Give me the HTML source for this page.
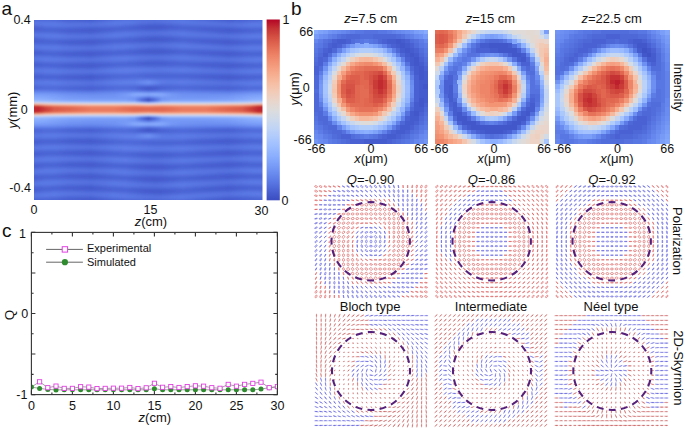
<!DOCTYPE html>
<html><head><meta charset="utf-8"><style>
html,body{margin:0;padding:0;background:#fff;}
svg{display:block;}
</style></head><body>
<svg width="685" height="428" viewBox="0 0 685 428">
<rect width="685" height="428" fill="#fff"/>
<defs>
<linearGradient id="g0"><stop offset="0" stop-color="#485fd1"/><stop offset="0.02" stop-color="#4961d2"/><stop offset="0.05" stop-color="#4a63d3"/><stop offset="0.09" stop-color="#4a63d3"/><stop offset="0.15" stop-color="#485fd1"/><stop offset="0.25" stop-color="#445acc"/><stop offset="0.35" stop-color="#4a63d3"/><stop offset="0.4" stop-color="#4c66d6"/><stop offset="0.44" stop-color="#4c66d6"/><stop offset="0.47" stop-color="#4b64d5"/><stop offset="0.5" stop-color="#4b64d5"/><stop offset="0.53" stop-color="#4b64d5"/><stop offset="0.56" stop-color="#4c66d6"/><stop offset="0.6" stop-color="#4e68d8"/><stop offset="0.65" stop-color="#4f69d9"/><stop offset="0.75" stop-color="#485fd1"/><stop offset="0.85" stop-color="#445acc"/><stop offset="0.91" stop-color="#4961d2"/><stop offset="0.95" stop-color="#4b64d5"/><stop offset="0.98" stop-color="#4b64d5"/><stop offset="1" stop-color="#4a63d3"/></linearGradient>
<linearGradient id="g1"><stop offset="0" stop-color="#4f69d9"/><stop offset="0.02" stop-color="#4f69d9"/><stop offset="0.05" stop-color="#4f69d9"/><stop offset="0.09" stop-color="#4e68d8"/><stop offset="0.15" stop-color="#485fd1"/><stop offset="0.25" stop-color="#455cce"/><stop offset="0.35" stop-color="#516ddb"/><stop offset="0.4" stop-color="#5572df"/><stop offset="0.44" stop-color="#5572df"/><stop offset="0.47" stop-color="#5470de"/><stop offset="0.5" stop-color="#536edd"/><stop offset="0.53" stop-color="#536edd"/><stop offset="0.56" stop-color="#5470de"/><stop offset="0.6" stop-color="#5673e0"/><stop offset="0.65" stop-color="#5875e1"/><stop offset="0.75" stop-color="#4e68d8"/><stop offset="0.85" stop-color="#455cce"/><stop offset="0.91" stop-color="#4961d2"/><stop offset="0.95" stop-color="#4b64d5"/><stop offset="0.98" stop-color="#4c66d6"/><stop offset="1" stop-color="#4c66d6"/></linearGradient>
<linearGradient id="g2"><stop offset="0" stop-color="#5875e1"/><stop offset="0.02" stop-color="#5875e1"/><stop offset="0.05" stop-color="#5875e1"/><stop offset="0.09" stop-color="#5673e0"/><stop offset="0.15" stop-color="#506bda"/><stop offset="0.25" stop-color="#4e68d8"/><stop offset="0.35" stop-color="#5a78e4"/><stop offset="0.4" stop-color="#5b7ae5"/><stop offset="0.44" stop-color="#5977e3"/><stop offset="0.47" stop-color="#5673e0"/><stop offset="0.5" stop-color="#5572df"/><stop offset="0.53" stop-color="#5470de"/><stop offset="0.56" stop-color="#5572df"/><stop offset="0.6" stop-color="#5875e1"/><stop offset="0.65" stop-color="#5b7ae5"/><stop offset="0.75" stop-color="#5673e0"/><stop offset="0.85" stop-color="#4e68d8"/><stop offset="0.91" stop-color="#506bda"/><stop offset="0.95" stop-color="#5470de"/><stop offset="0.98" stop-color="#5572df"/><stop offset="1" stop-color="#5572df"/></linearGradient>
<linearGradient id="g3"><stop offset="0" stop-color="#5875e1"/><stop offset="0.02" stop-color="#5977e3"/><stop offset="0.05" stop-color="#5b7ae5"/><stop offset="0.09" stop-color="#5b7ae5"/><stop offset="0.15" stop-color="#5875e1"/><stop offset="0.25" stop-color="#5572df"/><stop offset="0.35" stop-color="#5b7ae5"/><stop offset="0.4" stop-color="#5977e3"/><stop offset="0.44" stop-color="#5572df"/><stop offset="0.47" stop-color="#506bda"/><stop offset="0.5" stop-color="#4e68d8"/><stop offset="0.53" stop-color="#4c66d6"/><stop offset="0.56" stop-color="#4e68d8"/><stop offset="0.6" stop-color="#516ddb"/><stop offset="0.65" stop-color="#5673e0"/><stop offset="0.75" stop-color="#5875e1"/><stop offset="0.85" stop-color="#5572df"/><stop offset="0.91" stop-color="#5875e1"/><stop offset="0.95" stop-color="#5b7ae5"/><stop offset="0.98" stop-color="#5b7ae5"/><stop offset="1" stop-color="#5b7ae5"/></linearGradient>
<linearGradient id="g4"><stop offset="0" stop-color="#506bda"/><stop offset="0.02" stop-color="#536edd"/><stop offset="0.05" stop-color="#5673e0"/><stop offset="0.09" stop-color="#5977e3"/><stop offset="0.15" stop-color="#5673e0"/><stop offset="0.25" stop-color="#536edd"/><stop offset="0.35" stop-color="#5470de"/><stop offset="0.4" stop-color="#506bda"/><stop offset="0.44" stop-color="#4b64d5"/><stop offset="0.47" stop-color="#485fd1"/><stop offset="0.5" stop-color="#455cce"/><stop offset="0.53" stop-color="#455cce"/><stop offset="0.56" stop-color="#455cce"/><stop offset="0.6" stop-color="#4961d2"/><stop offset="0.65" stop-color="#4e68d8"/><stop offset="0.75" stop-color="#506bda"/><stop offset="0.85" stop-color="#536edd"/><stop offset="0.91" stop-color="#5875e1"/><stop offset="0.95" stop-color="#5a78e4"/><stop offset="0.98" stop-color="#5a78e4"/><stop offset="1" stop-color="#5977e3"/></linearGradient>
<linearGradient id="g5"><stop offset="0" stop-color="#485fd1"/><stop offset="0.02" stop-color="#4a63d3"/><stop offset="0.05" stop-color="#4e68d8"/><stop offset="0.09" stop-color="#506bda"/><stop offset="0.15" stop-color="#4e68d8"/><stop offset="0.25" stop-color="#4a63d3"/><stop offset="0.35" stop-color="#4b64d5"/><stop offset="0.4" stop-color="#4a63d3"/><stop offset="0.44" stop-color="#485fd1"/><stop offset="0.47" stop-color="#455cce"/><stop offset="0.5" stop-color="#445acc"/><stop offset="0.53" stop-color="#445acc"/><stop offset="0.56" stop-color="#445acc"/><stop offset="0.6" stop-color="#485fd1"/><stop offset="0.65" stop-color="#4a63d3"/><stop offset="0.75" stop-color="#4961d2"/><stop offset="0.85" stop-color="#4a63d3"/><stop offset="0.91" stop-color="#4f69d9"/><stop offset="0.95" stop-color="#516ddb"/><stop offset="0.98" stop-color="#516ddb"/><stop offset="1" stop-color="#506bda"/></linearGradient>
<linearGradient id="g6"><stop offset="0" stop-color="#485fd1"/><stop offset="0.02" stop-color="#4961d2"/><stop offset="0.05" stop-color="#4a63d3"/><stop offset="0.09" stop-color="#4a63d3"/><stop offset="0.15" stop-color="#485fd1"/><stop offset="0.25" stop-color="#445acc"/><stop offset="0.35" stop-color="#4a63d3"/><stop offset="0.4" stop-color="#4c66d6"/><stop offset="0.44" stop-color="#4c66d6"/><stop offset="0.47" stop-color="#4b64d5"/><stop offset="0.5" stop-color="#4a63d3"/><stop offset="0.53" stop-color="#4a63d3"/><stop offset="0.56" stop-color="#4b64d5"/><stop offset="0.6" stop-color="#4e68d8"/><stop offset="0.65" stop-color="#4f69d9"/><stop offset="0.75" stop-color="#485fd1"/><stop offset="0.85" stop-color="#445acc"/><stop offset="0.91" stop-color="#485fd1"/><stop offset="0.95" stop-color="#4a63d3"/><stop offset="0.98" stop-color="#4b64d5"/><stop offset="1" stop-color="#4a63d3"/></linearGradient>
<linearGradient id="g7"><stop offset="0" stop-color="#506bda"/><stop offset="0.02" stop-color="#506bda"/><stop offset="0.05" stop-color="#506bda"/><stop offset="0.09" stop-color="#4e68d8"/><stop offset="0.15" stop-color="#4961d2"/><stop offset="0.25" stop-color="#465ecf"/><stop offset="0.35" stop-color="#516ddb"/><stop offset="0.4" stop-color="#5572df"/><stop offset="0.44" stop-color="#5572df"/><stop offset="0.47" stop-color="#5470de"/><stop offset="0.5" stop-color="#536edd"/><stop offset="0.53" stop-color="#536edd"/><stop offset="0.56" stop-color="#5470de"/><stop offset="0.6" stop-color="#5673e0"/><stop offset="0.65" stop-color="#5875e1"/><stop offset="0.75" stop-color="#4f69d9"/><stop offset="0.85" stop-color="#465ecf"/><stop offset="0.91" stop-color="#4a63d3"/><stop offset="0.95" stop-color="#4c66d6"/><stop offset="0.98" stop-color="#4e68d8"/><stop offset="1" stop-color="#4e68d8"/></linearGradient>
<linearGradient id="g8"><stop offset="0" stop-color="#5875e1"/><stop offset="0.02" stop-color="#5875e1"/><stop offset="0.05" stop-color="#5977e3"/><stop offset="0.09" stop-color="#5875e1"/><stop offset="0.15" stop-color="#516ddb"/><stop offset="0.25" stop-color="#4f69d9"/><stop offset="0.35" stop-color="#5a78e4"/><stop offset="0.4" stop-color="#5b7ae5"/><stop offset="0.44" stop-color="#5977e3"/><stop offset="0.47" stop-color="#5673e0"/><stop offset="0.5" stop-color="#5572df"/><stop offset="0.53" stop-color="#5470de"/><stop offset="0.56" stop-color="#5572df"/><stop offset="0.6" stop-color="#5875e1"/><stop offset="0.65" stop-color="#5b7ae5"/><stop offset="0.75" stop-color="#5673e0"/><stop offset="0.85" stop-color="#4f69d9"/><stop offset="0.91" stop-color="#536edd"/><stop offset="0.95" stop-color="#5572df"/><stop offset="0.98" stop-color="#5673e0"/><stop offset="1" stop-color="#5673e0"/></linearGradient>
<linearGradient id="g9"><stop offset="0" stop-color="#5875e1"/><stop offset="0.02" stop-color="#5977e3"/><stop offset="0.05" stop-color="#5b7ae5"/><stop offset="0.09" stop-color="#5d7ce6"/><stop offset="0.15" stop-color="#5875e1"/><stop offset="0.25" stop-color="#5572df"/><stop offset="0.35" stop-color="#5b7ae5"/><stop offset="0.4" stop-color="#5977e3"/><stop offset="0.44" stop-color="#5572df"/><stop offset="0.47" stop-color="#516ddb"/><stop offset="0.5" stop-color="#4f69d9"/><stop offset="0.53" stop-color="#4e68d8"/><stop offset="0.56" stop-color="#4f69d9"/><stop offset="0.6" stop-color="#516ddb"/><stop offset="0.65" stop-color="#5673e0"/><stop offset="0.75" stop-color="#5875e1"/><stop offset="0.85" stop-color="#5572df"/><stop offset="0.91" stop-color="#5977e3"/><stop offset="0.95" stop-color="#5b7ae5"/><stop offset="0.98" stop-color="#5d7ce6"/><stop offset="1" stop-color="#5b7ae5"/></linearGradient>
<linearGradient id="g10"><stop offset="0" stop-color="#4f69d9"/><stop offset="0.02" stop-color="#516ddb"/><stop offset="0.05" stop-color="#5572df"/><stop offset="0.09" stop-color="#5875e1"/><stop offset="0.15" stop-color="#5572df"/><stop offset="0.25" stop-color="#516ddb"/><stop offset="0.35" stop-color="#5470de"/><stop offset="0.4" stop-color="#506bda"/><stop offset="0.44" stop-color="#4c66d6"/><stop offset="0.47" stop-color="#4961d2"/><stop offset="0.5" stop-color="#465ecf"/><stop offset="0.53" stop-color="#455cce"/><stop offset="0.56" stop-color="#465ecf"/><stop offset="0.6" stop-color="#4961d2"/><stop offset="0.65" stop-color="#4e68d8"/><stop offset="0.75" stop-color="#506bda"/><stop offset="0.85" stop-color="#516ddb"/><stop offset="0.91" stop-color="#5673e0"/><stop offset="0.95" stop-color="#5977e3"/><stop offset="0.98" stop-color="#5977e3"/><stop offset="1" stop-color="#5875e1"/></linearGradient>
<linearGradient id="g11"><stop offset="0" stop-color="#485fd1"/><stop offset="0.02" stop-color="#4a63d3"/><stop offset="0.05" stop-color="#4c66d6"/><stop offset="0.09" stop-color="#4f69d9"/><stop offset="0.15" stop-color="#4c66d6"/><stop offset="0.25" stop-color="#4961d2"/><stop offset="0.35" stop-color="#4b64d5"/><stop offset="0.4" stop-color="#4a63d3"/><stop offset="0.44" stop-color="#485fd1"/><stop offset="0.47" stop-color="#455cce"/><stop offset="0.5" stop-color="#445acc"/><stop offset="0.53" stop-color="#445acc"/><stop offset="0.56" stop-color="#445acc"/><stop offset="0.6" stop-color="#465ecf"/><stop offset="0.65" stop-color="#4a63d3"/><stop offset="0.75" stop-color="#485fd1"/><stop offset="0.85" stop-color="#4961d2"/><stop offset="0.91" stop-color="#4e68d8"/><stop offset="0.95" stop-color="#506bda"/><stop offset="0.98" stop-color="#506bda"/><stop offset="1" stop-color="#4f69d9"/></linearGradient>
<linearGradient id="g12"><stop offset="0" stop-color="#485fd1"/><stop offset="0.02" stop-color="#4961d2"/><stop offset="0.05" stop-color="#4a63d3"/><stop offset="0.09" stop-color="#4a63d3"/><stop offset="0.15" stop-color="#465ecf"/><stop offset="0.25" stop-color="#445acc"/><stop offset="0.35" stop-color="#4b64d5"/><stop offset="0.4" stop-color="#4c66d6"/><stop offset="0.44" stop-color="#4b64d5"/><stop offset="0.47" stop-color="#4a63d3"/><stop offset="0.5" stop-color="#4a63d3"/><stop offset="0.53" stop-color="#4a63d3"/><stop offset="0.56" stop-color="#4a63d3"/><stop offset="0.6" stop-color="#4c66d6"/><stop offset="0.65" stop-color="#4f69d9"/><stop offset="0.75" stop-color="#485fd1"/><stop offset="0.85" stop-color="#445acc"/><stop offset="0.91" stop-color="#485fd1"/><stop offset="0.95" stop-color="#4a63d3"/><stop offset="0.98" stop-color="#4a63d3"/><stop offset="1" stop-color="#4a63d3"/></linearGradient>
<linearGradient id="g13"><stop offset="0" stop-color="#506bda"/><stop offset="0.02" stop-color="#506bda"/><stop offset="0.05" stop-color="#506bda"/><stop offset="0.09" stop-color="#4f69d9"/><stop offset="0.15" stop-color="#4a63d3"/><stop offset="0.25" stop-color="#485fd1"/><stop offset="0.35" stop-color="#536edd"/><stop offset="0.4" stop-color="#5572df"/><stop offset="0.44" stop-color="#5470de"/><stop offset="0.47" stop-color="#536edd"/><stop offset="0.5" stop-color="#536edd"/><stop offset="0.53" stop-color="#516ddb"/><stop offset="0.56" stop-color="#536edd"/><stop offset="0.6" stop-color="#5572df"/><stop offset="0.65" stop-color="#5875e1"/><stop offset="0.75" stop-color="#4f69d9"/><stop offset="0.85" stop-color="#485fd1"/><stop offset="0.91" stop-color="#4b64d5"/><stop offset="0.95" stop-color="#4e68d8"/><stop offset="0.98" stop-color="#4f69d9"/><stop offset="1" stop-color="#4f69d9"/></linearGradient>
<linearGradient id="g14"><stop offset="0" stop-color="#5875e1"/><stop offset="0.02" stop-color="#5977e3"/><stop offset="0.05" stop-color="#5977e3"/><stop offset="0.09" stop-color="#5977e3"/><stop offset="0.15" stop-color="#536edd"/><stop offset="0.25" stop-color="#506bda"/><stop offset="0.35" stop-color="#5a78e4"/><stop offset="0.4" stop-color="#5b7ae5"/><stop offset="0.44" stop-color="#5977e3"/><stop offset="0.47" stop-color="#5673e0"/><stop offset="0.5" stop-color="#5572df"/><stop offset="0.53" stop-color="#5470de"/><stop offset="0.56" stop-color="#5572df"/><stop offset="0.6" stop-color="#5875e1"/><stop offset="0.65" stop-color="#5b7ae5"/><stop offset="0.75" stop-color="#5875e1"/><stop offset="0.85" stop-color="#506bda"/><stop offset="0.91" stop-color="#5470de"/><stop offset="0.95" stop-color="#5673e0"/><stop offset="0.98" stop-color="#5875e1"/><stop offset="1" stop-color="#5875e1"/></linearGradient>
<linearGradient id="g15"><stop offset="0" stop-color="#5673e0"/><stop offset="0.02" stop-color="#5977e3"/><stop offset="0.05" stop-color="#5b7ae5"/><stop offset="0.09" stop-color="#5b7ae5"/><stop offset="0.15" stop-color="#5977e3"/><stop offset="0.25" stop-color="#5572df"/><stop offset="0.35" stop-color="#5a78e4"/><stop offset="0.4" stop-color="#5977e3"/><stop offset="0.44" stop-color="#5572df"/><stop offset="0.47" stop-color="#516ddb"/><stop offset="0.5" stop-color="#4f69d9"/><stop offset="0.53" stop-color="#4e68d8"/><stop offset="0.56" stop-color="#4f69d9"/><stop offset="0.6" stop-color="#536edd"/><stop offset="0.65" stop-color="#5875e1"/><stop offset="0.75" stop-color="#5875e1"/><stop offset="0.85" stop-color="#5572df"/><stop offset="0.91" stop-color="#5977e3"/><stop offset="0.95" stop-color="#5b7ae5"/><stop offset="0.98" stop-color="#5d7ce6"/><stop offset="1" stop-color="#5b7ae5"/></linearGradient>
<linearGradient id="g16"><stop offset="0" stop-color="#4f69d9"/><stop offset="0.02" stop-color="#516ddb"/><stop offset="0.05" stop-color="#5470de"/><stop offset="0.09" stop-color="#5673e0"/><stop offset="0.15" stop-color="#5470de"/><stop offset="0.25" stop-color="#506bda"/><stop offset="0.35" stop-color="#536edd"/><stop offset="0.4" stop-color="#506bda"/><stop offset="0.44" stop-color="#4c66d6"/><stop offset="0.47" stop-color="#4961d2"/><stop offset="0.5" stop-color="#465ecf"/><stop offset="0.53" stop-color="#465ecf"/><stop offset="0.56" stop-color="#465ecf"/><stop offset="0.6" stop-color="#4a63d3"/><stop offset="0.65" stop-color="#4e68d8"/><stop offset="0.75" stop-color="#4f69d9"/><stop offset="0.85" stop-color="#506bda"/><stop offset="0.91" stop-color="#5572df"/><stop offset="0.95" stop-color="#5875e1"/><stop offset="0.98" stop-color="#5875e1"/><stop offset="1" stop-color="#5673e0"/></linearGradient>
<linearGradient id="g17"><stop offset="0" stop-color="#485fd1"/><stop offset="0.02" stop-color="#4961d2"/><stop offset="0.05" stop-color="#4c66d6"/><stop offset="0.09" stop-color="#4e68d8"/><stop offset="0.15" stop-color="#4b64d5"/><stop offset="0.25" stop-color="#485fd1"/><stop offset="0.35" stop-color="#4b64d5"/><stop offset="0.4" stop-color="#4a63d3"/><stop offset="0.44" stop-color="#485fd1"/><stop offset="0.47" stop-color="#455cce"/><stop offset="0.5" stop-color="#445acc"/><stop offset="0.53" stop-color="#445acc"/><stop offset="0.56" stop-color="#445acc"/><stop offset="0.6" stop-color="#465ecf"/><stop offset="0.65" stop-color="#4a63d3"/><stop offset="0.75" stop-color="#485fd1"/><stop offset="0.85" stop-color="#485fd1"/><stop offset="0.91" stop-color="#4c66d6"/><stop offset="0.95" stop-color="#4e68d8"/><stop offset="0.98" stop-color="#4e68d8"/><stop offset="1" stop-color="#4e68d8"/></linearGradient>
<linearGradient id="g18"><stop offset="0" stop-color="#4961d2"/><stop offset="0.02" stop-color="#4961d2"/><stop offset="0.05" stop-color="#4a63d3"/><stop offset="0.09" stop-color="#4a63d3"/><stop offset="0.15" stop-color="#465ecf"/><stop offset="0.25" stop-color="#445acc"/><stop offset="0.35" stop-color="#4b64d5"/><stop offset="0.4" stop-color="#4c66d6"/><stop offset="0.44" stop-color="#4b64d5"/><stop offset="0.47" stop-color="#4a63d3"/><stop offset="0.5" stop-color="#4a63d3"/><stop offset="0.53" stop-color="#4961d2"/><stop offset="0.56" stop-color="#4a63d3"/><stop offset="0.6" stop-color="#4c66d6"/><stop offset="0.65" stop-color="#4f69d9"/><stop offset="0.75" stop-color="#485fd1"/><stop offset="0.85" stop-color="#445acc"/><stop offset="0.91" stop-color="#485fd1"/><stop offset="0.95" stop-color="#4a63d3"/><stop offset="0.98" stop-color="#4a63d3"/><stop offset="1" stop-color="#4a63d3"/></linearGradient>
<linearGradient id="g19"><stop offset="0" stop-color="#506bda"/><stop offset="0.02" stop-color="#516ddb"/><stop offset="0.05" stop-color="#516ddb"/><stop offset="0.09" stop-color="#506bda"/><stop offset="0.15" stop-color="#4b64d5"/><stop offset="0.25" stop-color="#4961d2"/><stop offset="0.35" stop-color="#536edd"/><stop offset="0.4" stop-color="#5572df"/><stop offset="0.44" stop-color="#5572df"/><stop offset="0.47" stop-color="#5470de"/><stop offset="0.5" stop-color="#536edd"/><stop offset="0.53" stop-color="#536edd"/><stop offset="0.56" stop-color="#536edd"/><stop offset="0.6" stop-color="#5572df"/><stop offset="0.65" stop-color="#5875e1"/><stop offset="0.75" stop-color="#506bda"/><stop offset="0.85" stop-color="#4961d2"/><stop offset="0.91" stop-color="#4c66d6"/><stop offset="0.95" stop-color="#4f69d9"/><stop offset="0.98" stop-color="#506bda"/><stop offset="1" stop-color="#506bda"/></linearGradient>
<linearGradient id="g20"><stop offset="0" stop-color="#5875e1"/><stop offset="0.02" stop-color="#5977e3"/><stop offset="0.05" stop-color="#5a78e4"/><stop offset="0.09" stop-color="#5977e3"/><stop offset="0.15" stop-color="#5572df"/><stop offset="0.25" stop-color="#516ddb"/><stop offset="0.35" stop-color="#5b7ae5"/><stop offset="0.4" stop-color="#5d7ce6"/><stop offset="0.44" stop-color="#5a78e4"/><stop offset="0.47" stop-color="#5875e1"/><stop offset="0.5" stop-color="#5673e0"/><stop offset="0.53" stop-color="#5572df"/><stop offset="0.56" stop-color="#5673e0"/><stop offset="0.6" stop-color="#5977e3"/><stop offset="0.65" stop-color="#5b7ae5"/><stop offset="0.75" stop-color="#5875e1"/><stop offset="0.85" stop-color="#516ddb"/><stop offset="0.91" stop-color="#5572df"/><stop offset="0.95" stop-color="#5875e1"/><stop offset="0.98" stop-color="#5977e3"/><stop offset="1" stop-color="#5977e3"/></linearGradient>
<linearGradient id="g21"><stop offset="0" stop-color="#5673e0"/><stop offset="0.02" stop-color="#5977e3"/><stop offset="0.05" stop-color="#5b7ae5"/><stop offset="0.09" stop-color="#5b7ae5"/><stop offset="0.15" stop-color="#5977e3"/><stop offset="0.25" stop-color="#5572df"/><stop offset="0.35" stop-color="#5a78e4"/><stop offset="0.4" stop-color="#5a78e4"/><stop offset="0.44" stop-color="#5673e0"/><stop offset="0.47" stop-color="#5470de"/><stop offset="0.5" stop-color="#516ddb"/><stop offset="0.53" stop-color="#506bda"/><stop offset="0.56" stop-color="#516ddb"/><stop offset="0.6" stop-color="#5470de"/><stop offset="0.65" stop-color="#5875e1"/><stop offset="0.75" stop-color="#5673e0"/><stop offset="0.85" stop-color="#5572df"/><stop offset="0.91" stop-color="#5977e3"/><stop offset="0.95" stop-color="#5b7ae5"/><stop offset="0.98" stop-color="#5d7ce6"/><stop offset="1" stop-color="#5b7ae5"/></linearGradient>
<linearGradient id="g22"><stop offset="0" stop-color="#4e68d8"/><stop offset="0.02" stop-color="#506bda"/><stop offset="0.05" stop-color="#5470de"/><stop offset="0.09" stop-color="#5572df"/><stop offset="0.15" stop-color="#536edd"/><stop offset="0.25" stop-color="#4f69d9"/><stop offset="0.35" stop-color="#536edd"/><stop offset="0.4" stop-color="#516ddb"/><stop offset="0.44" stop-color="#4e68d8"/><stop offset="0.47" stop-color="#4b64d5"/><stop offset="0.5" stop-color="#4961d2"/><stop offset="0.53" stop-color="#4961d2"/><stop offset="0.56" stop-color="#4961d2"/><stop offset="0.6" stop-color="#4b64d5"/><stop offset="0.65" stop-color="#4f69d9"/><stop offset="0.75" stop-color="#4f69d9"/><stop offset="0.85" stop-color="#4f69d9"/><stop offset="0.91" stop-color="#5470de"/><stop offset="0.95" stop-color="#5673e0"/><stop offset="0.98" stop-color="#5673e0"/><stop offset="1" stop-color="#5572df"/></linearGradient>
<linearGradient id="g23"><stop offset="0" stop-color="#485fd1"/><stop offset="0.02" stop-color="#4961d2"/><stop offset="0.05" stop-color="#4b64d5"/><stop offset="0.09" stop-color="#4c66d6"/><stop offset="0.15" stop-color="#4a63d3"/><stop offset="0.25" stop-color="#465ecf"/><stop offset="0.35" stop-color="#4b64d5"/><stop offset="0.4" stop-color="#4b64d5"/><stop offset="0.44" stop-color="#4a63d3"/><stop offset="0.47" stop-color="#485fd1"/><stop offset="0.5" stop-color="#465ecf"/><stop offset="0.53" stop-color="#465ecf"/><stop offset="0.56" stop-color="#465ecf"/><stop offset="0.6" stop-color="#4961d2"/><stop offset="0.65" stop-color="#4a63d3"/><stop offset="0.75" stop-color="#485fd1"/><stop offset="0.85" stop-color="#465ecf"/><stop offset="0.91" stop-color="#4a63d3"/><stop offset="0.95" stop-color="#4c66d6"/><stop offset="0.98" stop-color="#4e68d8"/><stop offset="1" stop-color="#4c66d6"/></linearGradient>
<linearGradient id="g24"><stop offset="0" stop-color="#4961d2"/><stop offset="0.02" stop-color="#4a63d3"/><stop offset="0.05" stop-color="#4b64d5"/><stop offset="0.09" stop-color="#4b64d5"/><stop offset="0.15" stop-color="#465ecf"/><stop offset="0.25" stop-color="#445acc"/><stop offset="0.35" stop-color="#4c66d6"/><stop offset="0.4" stop-color="#4f69d9"/><stop offset="0.44" stop-color="#4f69d9"/><stop offset="0.47" stop-color="#4e68d8"/><stop offset="0.5" stop-color="#4c66d6"/><stop offset="0.53" stop-color="#4c66d6"/><stop offset="0.56" stop-color="#4c66d6"/><stop offset="0.6" stop-color="#4e68d8"/><stop offset="0.65" stop-color="#4f69d9"/><stop offset="0.75" stop-color="#4961d2"/><stop offset="0.85" stop-color="#445acc"/><stop offset="0.91" stop-color="#485fd1"/><stop offset="0.95" stop-color="#4a63d3"/><stop offset="0.98" stop-color="#4b64d5"/><stop offset="1" stop-color="#4a63d3"/></linearGradient>
<linearGradient id="g25"><stop offset="0" stop-color="#516ddb"/><stop offset="0.02" stop-color="#516ddb"/><stop offset="0.05" stop-color="#536edd"/><stop offset="0.09" stop-color="#516ddb"/><stop offset="0.15" stop-color="#4c66d6"/><stop offset="0.25" stop-color="#4a63d3"/><stop offset="0.35" stop-color="#5572df"/><stop offset="0.4" stop-color="#5875e1"/><stop offset="0.44" stop-color="#5875e1"/><stop offset="0.47" stop-color="#5875e1"/><stop offset="0.5" stop-color="#5673e0"/><stop offset="0.53" stop-color="#5572df"/><stop offset="0.56" stop-color="#5673e0"/><stop offset="0.6" stop-color="#5673e0"/><stop offset="0.65" stop-color="#5875e1"/><stop offset="0.75" stop-color="#506bda"/><stop offset="0.85" stop-color="#4a63d3"/><stop offset="0.91" stop-color="#4e68d8"/><stop offset="0.95" stop-color="#506bda"/><stop offset="0.98" stop-color="#516ddb"/><stop offset="1" stop-color="#516ddb"/></linearGradient>
<linearGradient id="g26"><stop offset="0" stop-color="#5875e1"/><stop offset="0.02" stop-color="#5977e3"/><stop offset="0.05" stop-color="#5a78e4"/><stop offset="0.09" stop-color="#5a78e4"/><stop offset="0.15" stop-color="#5673e0"/><stop offset="0.25" stop-color="#536edd"/><stop offset="0.35" stop-color="#5d7ce6"/><stop offset="0.4" stop-color="#5e7de7"/><stop offset="0.44" stop-color="#5e7de7"/><stop offset="0.47" stop-color="#5d7ce6"/><stop offset="0.5" stop-color="#5b7ae5"/><stop offset="0.53" stop-color="#5a78e4"/><stop offset="0.56" stop-color="#5a78e4"/><stop offset="0.6" stop-color="#5b7ae5"/><stop offset="0.65" stop-color="#5d7ce6"/><stop offset="0.75" stop-color="#5875e1"/><stop offset="0.85" stop-color="#536edd"/><stop offset="0.91" stop-color="#5673e0"/><stop offset="0.95" stop-color="#5977e3"/><stop offset="0.98" stop-color="#5a78e4"/><stop offset="1" stop-color="#5a78e4"/></linearGradient>
<linearGradient id="g27"><stop offset="0" stop-color="#5673e0"/><stop offset="0.02" stop-color="#5875e1"/><stop offset="0.05" stop-color="#5a78e4"/><stop offset="0.09" stop-color="#5b7ae5"/><stop offset="0.15" stop-color="#5875e1"/><stop offset="0.25" stop-color="#5572df"/><stop offset="0.35" stop-color="#5b7ae5"/><stop offset="0.4" stop-color="#5d7ce6"/><stop offset="0.44" stop-color="#5a78e4"/><stop offset="0.47" stop-color="#5977e3"/><stop offset="0.5" stop-color="#5875e1"/><stop offset="0.53" stop-color="#5673e0"/><stop offset="0.56" stop-color="#5572df"/><stop offset="0.6" stop-color="#5673e0"/><stop offset="0.65" stop-color="#5977e3"/><stop offset="0.75" stop-color="#5673e0"/><stop offset="0.85" stop-color="#5470de"/><stop offset="0.91" stop-color="#5977e3"/><stop offset="0.95" stop-color="#5b7ae5"/><stop offset="0.98" stop-color="#5b7ae5"/><stop offset="1" stop-color="#5b7ae5"/></linearGradient>
<linearGradient id="g28"><stop offset="0" stop-color="#4e68d8"/><stop offset="0.02" stop-color="#506bda"/><stop offset="0.05" stop-color="#536edd"/><stop offset="0.09" stop-color="#5470de"/><stop offset="0.15" stop-color="#516ddb"/><stop offset="0.25" stop-color="#4e68d8"/><stop offset="0.35" stop-color="#536edd"/><stop offset="0.4" stop-color="#5470de"/><stop offset="0.44" stop-color="#536edd"/><stop offset="0.47" stop-color="#506bda"/><stop offset="0.5" stop-color="#4f69d9"/><stop offset="0.53" stop-color="#4e68d8"/><stop offset="0.56" stop-color="#4e68d8"/><stop offset="0.6" stop-color="#4f69d9"/><stop offset="0.65" stop-color="#506bda"/><stop offset="0.75" stop-color="#4e68d8"/><stop offset="0.85" stop-color="#4e68d8"/><stop offset="0.91" stop-color="#516ddb"/><stop offset="0.95" stop-color="#5470de"/><stop offset="0.98" stop-color="#5470de"/><stop offset="1" stop-color="#5470de"/></linearGradient>
<linearGradient id="g29"><stop offset="0" stop-color="#485fd1"/><stop offset="0.02" stop-color="#4961d2"/><stop offset="0.05" stop-color="#4b64d5"/><stop offset="0.09" stop-color="#4b64d5"/><stop offset="0.15" stop-color="#4961d2"/><stop offset="0.25" stop-color="#455cce"/><stop offset="0.35" stop-color="#4c66d6"/><stop offset="0.4" stop-color="#4e68d8"/><stop offset="0.44" stop-color="#4e68d8"/><stop offset="0.47" stop-color="#4c66d6"/><stop offset="0.5" stop-color="#4b64d5"/><stop offset="0.53" stop-color="#4a63d3"/><stop offset="0.56" stop-color="#4a63d3"/><stop offset="0.6" stop-color="#4a63d3"/><stop offset="0.65" stop-color="#4b64d5"/><stop offset="0.75" stop-color="#485fd1"/><stop offset="0.85" stop-color="#455cce"/><stop offset="0.91" stop-color="#4a63d3"/><stop offset="0.95" stop-color="#4b64d5"/><stop offset="0.98" stop-color="#4c66d6"/><stop offset="1" stop-color="#4b64d5"/></linearGradient>
<linearGradient id="g30"><stop offset="0" stop-color="#4961d2"/><stop offset="0.02" stop-color="#4a63d3"/><stop offset="0.05" stop-color="#4b64d5"/><stop offset="0.09" stop-color="#4b64d5"/><stop offset="0.15" stop-color="#485fd1"/><stop offset="0.25" stop-color="#445acc"/><stop offset="0.35" stop-color="#4e68d8"/><stop offset="0.4" stop-color="#506bda"/><stop offset="0.44" stop-color="#516ddb"/><stop offset="0.47" stop-color="#516ddb"/><stop offset="0.5" stop-color="#506bda"/><stop offset="0.53" stop-color="#4f69d9"/><stop offset="0.56" stop-color="#4f69d9"/><stop offset="0.6" stop-color="#4f69d9"/><stop offset="0.65" stop-color="#4f69d9"/><stop offset="0.75" stop-color="#4961d2"/><stop offset="0.85" stop-color="#445acc"/><stop offset="0.91" stop-color="#485fd1"/><stop offset="0.95" stop-color="#4a63d3"/><stop offset="0.98" stop-color="#4b64d5"/><stop offset="1" stop-color="#4b64d5"/></linearGradient>
<linearGradient id="g31"><stop offset="0" stop-color="#516ddb"/><stop offset="0.02" stop-color="#536edd"/><stop offset="0.05" stop-color="#5470de"/><stop offset="0.09" stop-color="#536edd"/><stop offset="0.15" stop-color="#4f69d9"/><stop offset="0.25" stop-color="#4b64d5"/><stop offset="0.35" stop-color="#5673e0"/><stop offset="0.4" stop-color="#5977e3"/><stop offset="0.44" stop-color="#5a78e4"/><stop offset="0.47" stop-color="#5d7ce6"/><stop offset="0.5" stop-color="#5e7de7"/><stop offset="0.53" stop-color="#5a78e4"/><stop offset="0.56" stop-color="#5875e1"/><stop offset="0.6" stop-color="#5875e1"/><stop offset="0.65" stop-color="#5875e1"/><stop offset="0.75" stop-color="#516ddb"/><stop offset="0.85" stop-color="#4b64d5"/><stop offset="0.91" stop-color="#4f69d9"/><stop offset="0.95" stop-color="#516ddb"/><stop offset="0.98" stop-color="#536edd"/><stop offset="1" stop-color="#536edd"/></linearGradient>
<linearGradient id="g32"><stop offset="0" stop-color="#5875e1"/><stop offset="0.02" stop-color="#5a78e4"/><stop offset="0.05" stop-color="#5b7ae5"/><stop offset="0.09" stop-color="#5b7ae5"/><stop offset="0.15" stop-color="#5875e1"/><stop offset="0.25" stop-color="#5470de"/><stop offset="0.35" stop-color="#5d7ce6"/><stop offset="0.4" stop-color="#5f7fe8"/><stop offset="0.44" stop-color="#6180e9"/><stop offset="0.47" stop-color="#688aef"/><stop offset="0.5" stop-color="#6f92f3"/><stop offset="0.53" stop-color="#6687ed"/><stop offset="0.56" stop-color="#5e7de7"/><stop offset="0.6" stop-color="#5b7ae5"/><stop offset="0.65" stop-color="#5d7ce6"/><stop offset="0.75" stop-color="#5875e1"/><stop offset="0.85" stop-color="#5470de"/><stop offset="0.91" stop-color="#5875e1"/><stop offset="0.95" stop-color="#5a78e4"/><stop offset="0.98" stop-color="#5b7ae5"/><stop offset="1" stop-color="#5a78e4"/></linearGradient>
<linearGradient id="g33"><stop offset="0" stop-color="#5673e0"/><stop offset="0.02" stop-color="#5977e3"/><stop offset="0.05" stop-color="#5a78e4"/><stop offset="0.09" stop-color="#5b7ae5"/><stop offset="0.15" stop-color="#5875e1"/><stop offset="0.25" stop-color="#5470de"/><stop offset="0.35" stop-color="#5b7ae5"/><stop offset="0.4" stop-color="#5d7ce6"/><stop offset="0.44" stop-color="#5d7ce6"/><stop offset="0.47" stop-color="#6282ea"/><stop offset="0.5" stop-color="#6788ee"/><stop offset="0.53" stop-color="#5f7fe8"/><stop offset="0.56" stop-color="#5875e1"/><stop offset="0.6" stop-color="#5875e1"/><stop offset="0.65" stop-color="#5a78e4"/><stop offset="0.75" stop-color="#5673e0"/><stop offset="0.85" stop-color="#5470de"/><stop offset="0.91" stop-color="#5977e3"/><stop offset="0.95" stop-color="#5b7ae5"/><stop offset="0.98" stop-color="#5b7ae5"/><stop offset="1" stop-color="#5b7ae5"/></linearGradient>
<linearGradient id="g34"><stop offset="0" stop-color="#4f69d9"/><stop offset="0.02" stop-color="#516ddb"/><stop offset="0.05" stop-color="#5470de"/><stop offset="0.09" stop-color="#5470de"/><stop offset="0.15" stop-color="#516ddb"/><stop offset="0.25" stop-color="#4e68d8"/><stop offset="0.35" stop-color="#536edd"/><stop offset="0.4" stop-color="#5470de"/><stop offset="0.44" stop-color="#536edd"/><stop offset="0.47" stop-color="#506bda"/><stop offset="0.5" stop-color="#4f69d9"/><stop offset="0.53" stop-color="#4e68d8"/><stop offset="0.56" stop-color="#4e68d8"/><stop offset="0.6" stop-color="#4f69d9"/><stop offset="0.65" stop-color="#516ddb"/><stop offset="0.75" stop-color="#4f69d9"/><stop offset="0.85" stop-color="#4e68d8"/><stop offset="0.91" stop-color="#516ddb"/><stop offset="0.95" stop-color="#5572df"/><stop offset="0.98" stop-color="#5572df"/><stop offset="1" stop-color="#5470de"/></linearGradient>
<linearGradient id="g35"><stop offset="0" stop-color="#4b64d5"/><stop offset="0.02" stop-color="#4e68d8"/><stop offset="0.05" stop-color="#4f69d9"/><stop offset="0.09" stop-color="#506bda"/><stop offset="0.15" stop-color="#4c66d6"/><stop offset="0.25" stop-color="#4961d2"/><stop offset="0.35" stop-color="#4f69d9"/><stop offset="0.4" stop-color="#506bda"/><stop offset="0.44" stop-color="#4c66d6"/><stop offset="0.47" stop-color="#465ecf"/><stop offset="0.5" stop-color="#4257c9"/><stop offset="0.53" stop-color="#445acc"/><stop offset="0.56" stop-color="#4961d2"/><stop offset="0.6" stop-color="#4c66d6"/><stop offset="0.65" stop-color="#4e68d8"/><stop offset="0.75" stop-color="#4b64d5"/><stop offset="0.85" stop-color="#4961d2"/><stop offset="0.91" stop-color="#4e68d8"/><stop offset="0.95" stop-color="#506bda"/><stop offset="0.98" stop-color="#506bda"/><stop offset="1" stop-color="#506bda"/></linearGradient>
<linearGradient id="g36"><stop offset="0" stop-color="#4c66d6"/><stop offset="0.02" stop-color="#4e68d8"/><stop offset="0.05" stop-color="#506bda"/><stop offset="0.09" stop-color="#4f69d9"/><stop offset="0.15" stop-color="#4b64d5"/><stop offset="0.25" stop-color="#485fd1"/><stop offset="0.35" stop-color="#4f69d9"/><stop offset="0.4" stop-color="#506bda"/><stop offset="0.44" stop-color="#4e68d8"/><stop offset="0.47" stop-color="#455cce"/><stop offset="0.5" stop-color="#3f53c6"/><stop offset="0.53" stop-color="#4358cb"/><stop offset="0.56" stop-color="#4a63d3"/><stop offset="0.6" stop-color="#4c66d6"/><stop offset="0.65" stop-color="#4f69d9"/><stop offset="0.75" stop-color="#4b64d5"/><stop offset="0.85" stop-color="#485fd1"/><stop offset="0.91" stop-color="#4c66d6"/><stop offset="0.95" stop-color="#506bda"/><stop offset="0.98" stop-color="#506bda"/><stop offset="1" stop-color="#506bda"/></linearGradient>
<linearGradient id="g37"><stop offset="0" stop-color="#516ddb"/><stop offset="0.02" stop-color="#536edd"/><stop offset="0.05" stop-color="#5470de"/><stop offset="0.09" stop-color="#536edd"/><stop offset="0.15" stop-color="#4e68d8"/><stop offset="0.25" stop-color="#4a63d3"/><stop offset="0.35" stop-color="#516ddb"/><stop offset="0.4" stop-color="#5470de"/><stop offset="0.44" stop-color="#516ddb"/><stop offset="0.47" stop-color="#4a63d3"/><stop offset="0.5" stop-color="#445acc"/><stop offset="0.53" stop-color="#485fd1"/><stop offset="0.56" stop-color="#4e68d8"/><stop offset="0.6" stop-color="#516ddb"/><stop offset="0.65" stop-color="#536edd"/><stop offset="0.75" stop-color="#4e68d8"/><stop offset="0.85" stop-color="#4b64d5"/><stop offset="0.91" stop-color="#506bda"/><stop offset="0.95" stop-color="#536edd"/><stop offset="0.98" stop-color="#5470de"/><stop offset="1" stop-color="#5470de"/></linearGradient>
<linearGradient id="g38"><stop offset="0" stop-color="#5977e3"/><stop offset="0.02" stop-color="#5a78e4"/><stop offset="0.05" stop-color="#5a78e4"/><stop offset="0.09" stop-color="#5977e3"/><stop offset="0.15" stop-color="#5470de"/><stop offset="0.25" stop-color="#506bda"/><stop offset="0.35" stop-color="#5875e1"/><stop offset="0.4" stop-color="#5a78e4"/><stop offset="0.44" stop-color="#5875e1"/><stop offset="0.47" stop-color="#536edd"/><stop offset="0.5" stop-color="#4c66d6"/><stop offset="0.53" stop-color="#506bda"/><stop offset="0.56" stop-color="#5572df"/><stop offset="0.6" stop-color="#5875e1"/><stop offset="0.65" stop-color="#5977e3"/><stop offset="0.75" stop-color="#5470de"/><stop offset="0.85" stop-color="#516ddb"/><stop offset="0.91" stop-color="#5673e0"/><stop offset="0.95" stop-color="#5977e3"/><stop offset="0.98" stop-color="#5a78e4"/><stop offset="1" stop-color="#5a78e4"/></linearGradient>
<linearGradient id="g39"><stop offset="0" stop-color="#6282ea"/><stop offset="0.02" stop-color="#6282ea"/><stop offset="0.05" stop-color="#6282ea"/><stop offset="0.09" stop-color="#6180e9"/><stop offset="0.15" stop-color="#5b7ae5"/><stop offset="0.25" stop-color="#5875e1"/><stop offset="0.35" stop-color="#5f7fe8"/><stop offset="0.4" stop-color="#6282ea"/><stop offset="0.44" stop-color="#6282ea"/><stop offset="0.47" stop-color="#5e7de7"/><stop offset="0.5" stop-color="#5977e3"/><stop offset="0.53" stop-color="#5b7ae5"/><stop offset="0.56" stop-color="#5f7fe8"/><stop offset="0.6" stop-color="#5f7fe8"/><stop offset="0.65" stop-color="#5f7fe8"/><stop offset="0.75" stop-color="#5b7ae5"/><stop offset="0.85" stop-color="#5977e3"/><stop offset="0.91" stop-color="#5e7de7"/><stop offset="0.95" stop-color="#6282ea"/><stop offset="0.98" stop-color="#6384eb"/><stop offset="1" stop-color="#6384eb"/></linearGradient>
<linearGradient id="g40"><stop offset="0" stop-color="#6a8bef"/><stop offset="0.02" stop-color="#6b8df0"/><stop offset="0.05" stop-color="#6b8df0"/><stop offset="0.09" stop-color="#688aef"/><stop offset="0.15" stop-color="#6384eb"/><stop offset="0.25" stop-color="#5f7fe8"/><stop offset="0.35" stop-color="#6687ed"/><stop offset="0.4" stop-color="#6a8bef"/><stop offset="0.44" stop-color="#7093f3"/><stop offset="0.47" stop-color="#6f92f3"/><stop offset="0.5" stop-color="#6a8bef"/><stop offset="0.53" stop-color="#6e90f2"/><stop offset="0.56" stop-color="#6e90f2"/><stop offset="0.6" stop-color="#688aef"/><stop offset="0.65" stop-color="#6687ed"/><stop offset="0.75" stop-color="#6282ea"/><stop offset="0.85" stop-color="#6180e9"/><stop offset="0.91" stop-color="#6687ed"/><stop offset="0.95" stop-color="#6a8bef"/><stop offset="0.98" stop-color="#6b8df0"/><stop offset="1" stop-color="#6c8ff1"/></linearGradient>
<linearGradient id="g41"><stop offset="0" stop-color="#7295f4"/><stop offset="0.02" stop-color="#7396f5"/><stop offset="0.05" stop-color="#7295f4"/><stop offset="0.09" stop-color="#6f92f3"/><stop offset="0.15" stop-color="#6a8bef"/><stop offset="0.25" stop-color="#6687ed"/><stop offset="0.35" stop-color="#6b8df0"/><stop offset="0.4" stop-color="#7396f5"/><stop offset="0.44" stop-color="#80a3fa"/><stop offset="0.47" stop-color="#84a7fc"/><stop offset="0.5" stop-color="#80a3fa"/><stop offset="0.53" stop-color="#82a6fb"/><stop offset="0.56" stop-color="#7ea1fa"/><stop offset="0.6" stop-color="#7295f4"/><stop offset="0.65" stop-color="#6b8df0"/><stop offset="0.75" stop-color="#688aef"/><stop offset="0.85" stop-color="#6788ee"/><stop offset="0.91" stop-color="#6e90f2"/><stop offset="0.95" stop-color="#7295f4"/><stop offset="0.98" stop-color="#7396f5"/><stop offset="1" stop-color="#7396f5"/></linearGradient>
<linearGradient id="g42"><stop offset="0" stop-color="#799cf8"/><stop offset="0.02" stop-color="#799cf8"/><stop offset="0.05" stop-color="#779af7"/><stop offset="0.09" stop-color="#7597f6"/><stop offset="0.15" stop-color="#6e90f2"/><stop offset="0.25" stop-color="#6b8df0"/><stop offset="0.35" stop-color="#6e90f2"/><stop offset="0.4" stop-color="#779af7"/><stop offset="0.44" stop-color="#88abfd"/><stop offset="0.47" stop-color="#8db0fe"/><stop offset="0.5" stop-color="#89acfd"/><stop offset="0.53" stop-color="#8caffe"/><stop offset="0.56" stop-color="#86a9fc"/><stop offset="0.6" stop-color="#7699f6"/><stop offset="0.65" stop-color="#6e90f2"/><stop offset="0.75" stop-color="#6c8ff1"/><stop offset="0.85" stop-color="#6c8ff1"/><stop offset="0.91" stop-color="#7396f5"/><stop offset="0.95" stop-color="#779af7"/><stop offset="0.98" stop-color="#7a9df8"/><stop offset="1" stop-color="#7a9df8"/></linearGradient>
<linearGradient id="g43"><stop offset="0" stop-color="#7ea1fa"/><stop offset="0.02" stop-color="#7ea1fa"/><stop offset="0.05" stop-color="#7da0f9"/><stop offset="0.09" stop-color="#799cf8"/><stop offset="0.15" stop-color="#7295f4"/><stop offset="0.25" stop-color="#6e90f2"/><stop offset="0.35" stop-color="#7093f3"/><stop offset="0.4" stop-color="#799cf8"/><stop offset="0.44" stop-color="#85a8fc"/><stop offset="0.47" stop-color="#84a7fc"/><stop offset="0.5" stop-color="#7ea1fa"/><stop offset="0.53" stop-color="#84a7fc"/><stop offset="0.56" stop-color="#84a7fc"/><stop offset="0.6" stop-color="#779af7"/><stop offset="0.65" stop-color="#7093f3"/><stop offset="0.75" stop-color="#6f92f3"/><stop offset="0.85" stop-color="#7093f3"/><stop offset="0.91" stop-color="#779af7"/><stop offset="0.95" stop-color="#7da0f9"/><stop offset="0.98" stop-color="#7ea1fa"/><stop offset="1" stop-color="#80a3fa"/></linearGradient>
<linearGradient id="g44"><stop offset="0" stop-color="#82a6fb"/><stop offset="0.02" stop-color="#82a6fb"/><stop offset="0.05" stop-color="#80a3fa"/><stop offset="0.09" stop-color="#7b9ff9"/><stop offset="0.15" stop-color="#7597f6"/><stop offset="0.25" stop-color="#7093f3"/><stop offset="0.35" stop-color="#7295f4"/><stop offset="0.4" stop-color="#7699f6"/><stop offset="0.44" stop-color="#7a9df8"/><stop offset="0.47" stop-color="#7295f4"/><stop offset="0.5" stop-color="#6788ee"/><stop offset="0.53" stop-color="#7295f4"/><stop offset="0.56" stop-color="#7a9df8"/><stop offset="0.6" stop-color="#7699f6"/><stop offset="0.65" stop-color="#7295f4"/><stop offset="0.75" stop-color="#7093f3"/><stop offset="0.85" stop-color="#7597f6"/><stop offset="0.91" stop-color="#7b9ff9"/><stop offset="0.95" stop-color="#80a3fa"/><stop offset="0.98" stop-color="#82a6fb"/><stop offset="1" stop-color="#84a7fc"/></linearGradient>
<linearGradient id="g45"><stop offset="0" stop-color="#86a9fc"/><stop offset="0.02" stop-color="#86a9fc"/><stop offset="0.05" stop-color="#84a7fc"/><stop offset="0.09" stop-color="#7ea1fa"/><stop offset="0.15" stop-color="#779af7"/><stop offset="0.25" stop-color="#7396f5"/><stop offset="0.35" stop-color="#7396f5"/><stop offset="0.4" stop-color="#7699f6"/><stop offset="0.44" stop-color="#7597f6"/><stop offset="0.47" stop-color="#6485ec"/><stop offset="0.5" stop-color="#5875e1"/><stop offset="0.53" stop-color="#6485ec"/><stop offset="0.56" stop-color="#7597f6"/><stop offset="0.6" stop-color="#7699f6"/><stop offset="0.65" stop-color="#7396f5"/><stop offset="0.75" stop-color="#7396f5"/><stop offset="0.85" stop-color="#779af7"/><stop offset="0.91" stop-color="#7ea1fa"/><stop offset="0.95" stop-color="#84a7fc"/><stop offset="0.98" stop-color="#86a9fc"/><stop offset="1" stop-color="#86a9fc"/></linearGradient>
<linearGradient id="g46"><stop offset="0" stop-color="#8badfd"/><stop offset="0.02" stop-color="#8badfd"/><stop offset="0.05" stop-color="#88abfd"/><stop offset="0.09" stop-color="#81a4fb"/><stop offset="0.15" stop-color="#7a9df8"/><stop offset="0.25" stop-color="#7699f6"/><stop offset="0.35" stop-color="#7699f6"/><stop offset="0.4" stop-color="#7699f6"/><stop offset="0.44" stop-color="#7295f4"/><stop offset="0.47" stop-color="#5d7ce6"/><stop offset="0.5" stop-color="#4a63d3"/><stop offset="0.53" stop-color="#5d7ce6"/><stop offset="0.56" stop-color="#7295f4"/><stop offset="0.6" stop-color="#7699f6"/><stop offset="0.65" stop-color="#7699f6"/><stop offset="0.75" stop-color="#7699f6"/><stop offset="0.85" stop-color="#7a9df8"/><stop offset="0.91" stop-color="#81a4fb"/><stop offset="0.95" stop-color="#88abfd"/><stop offset="0.98" stop-color="#8badfd"/><stop offset="1" stop-color="#8badfd"/></linearGradient>
<linearGradient id="g47"><stop offset="0" stop-color="#8fb1fe"/><stop offset="0.02" stop-color="#8db0fe"/><stop offset="0.05" stop-color="#8badfd"/><stop offset="0.09" stop-color="#85a8fc"/><stop offset="0.15" stop-color="#7da0f9"/><stop offset="0.25" stop-color="#7a9df8"/><stop offset="0.35" stop-color="#7a9df8"/><stop offset="0.4" stop-color="#7a9df8"/><stop offset="0.44" stop-color="#7093f3"/><stop offset="0.47" stop-color="#516ddb"/><stop offset="0.5" stop-color="#3b4cc0"/><stop offset="0.53" stop-color="#516ddb"/><stop offset="0.56" stop-color="#7093f3"/><stop offset="0.6" stop-color="#7a9df8"/><stop offset="0.65" stop-color="#7a9df8"/><stop offset="0.75" stop-color="#7a9df8"/><stop offset="0.85" stop-color="#7da0f9"/><stop offset="0.91" stop-color="#85a8fc"/><stop offset="0.95" stop-color="#8badfd"/><stop offset="0.98" stop-color="#8db0fe"/><stop offset="1" stop-color="#8fb1fe"/></linearGradient>
<linearGradient id="g48"><stop offset="0" stop-color="#96b7ff"/><stop offset="0.02" stop-color="#94b6ff"/><stop offset="0.05" stop-color="#92b4fe"/><stop offset="0.09" stop-color="#8caffe"/><stop offset="0.15" stop-color="#84a7fc"/><stop offset="0.25" stop-color="#81a4fb"/><stop offset="0.35" stop-color="#80a3fa"/><stop offset="0.4" stop-color="#80a3fa"/><stop offset="0.44" stop-color="#7597f6"/><stop offset="0.47" stop-color="#4c66d6"/><stop offset="0.5" stop-color="#3b4cc0"/><stop offset="0.53" stop-color="#4c66d6"/><stop offset="0.56" stop-color="#7597f6"/><stop offset="0.6" stop-color="#80a3fa"/><stop offset="0.65" stop-color="#80a3fa"/><stop offset="0.75" stop-color="#81a4fb"/><stop offset="0.85" stop-color="#84a7fc"/><stop offset="0.91" stop-color="#8caffe"/><stop offset="0.95" stop-color="#92b4fe"/><stop offset="0.98" stop-color="#94b6ff"/><stop offset="1" stop-color="#96b7ff"/></linearGradient>
<linearGradient id="g49"><stop offset="0" stop-color="#a5c3fe"/><stop offset="0.02" stop-color="#a5c3fe"/><stop offset="0.05" stop-color="#a1c0ff"/><stop offset="0.09" stop-color="#9abbff"/><stop offset="0.15" stop-color="#93b5fe"/><stop offset="0.25" stop-color="#8fb1fe"/><stop offset="0.35" stop-color="#8fb1fe"/><stop offset="0.4" stop-color="#8fb1fe"/><stop offset="0.44" stop-color="#86a9fc"/><stop offset="0.47" stop-color="#6282ea"/><stop offset="0.5" stop-color="#455cce"/><stop offset="0.53" stop-color="#6282ea"/><stop offset="0.56" stop-color="#86a9fc"/><stop offset="0.6" stop-color="#8fb1fe"/><stop offset="0.65" stop-color="#8fb1fe"/><stop offset="0.75" stop-color="#8fb1fe"/><stop offset="0.85" stop-color="#93b5fe"/><stop offset="0.91" stop-color="#9abbff"/><stop offset="0.95" stop-color="#a1c0ff"/><stop offset="0.98" stop-color="#a5c3fe"/><stop offset="1" stop-color="#a5c3fe"/></linearGradient>
<linearGradient id="g50"><stop offset="0" stop-color="#c5d6f2"/><stop offset="0.02" stop-color="#c4d5f3"/><stop offset="0.05" stop-color="#bed2f6"/><stop offset="0.09" stop-color="#b7cff9"/><stop offset="0.15" stop-color="#b1cbfc"/><stop offset="0.25" stop-color="#adc9fd"/><stop offset="0.35" stop-color="#adc9fd"/><stop offset="0.4" stop-color="#adc9fd"/><stop offset="0.44" stop-color="#a9c6fd"/><stop offset="0.47" stop-color="#93b5fe"/><stop offset="0.5" stop-color="#80a3fa"/><stop offset="0.53" stop-color="#93b5fe"/><stop offset="0.56" stop-color="#a9c6fd"/><stop offset="0.6" stop-color="#adc9fd"/><stop offset="0.65" stop-color="#adc9fd"/><stop offset="0.75" stop-color="#adc9fd"/><stop offset="0.85" stop-color="#b1cbfc"/><stop offset="0.91" stop-color="#b7cff9"/><stop offset="0.95" stop-color="#bed2f6"/><stop offset="0.98" stop-color="#c4d5f3"/><stop offset="1" stop-color="#c5d6f2"/></linearGradient>
<linearGradient id="g51"><stop offset="0" stop-color="#edd2c3"/><stop offset="0.02" stop-color="#ebd3c6"/><stop offset="0.05" stop-color="#e4d9d2"/><stop offset="0.09" stop-color="#dddcdc"/><stop offset="0.15" stop-color="#d8dce2"/><stop offset="0.25" stop-color="#d3dbe7"/><stop offset="0.35" stop-color="#d3dbe7"/><stop offset="0.4" stop-color="#d4dbe6"/><stop offset="0.44" stop-color="#d3dbe7"/><stop offset="0.47" stop-color="#c9d7f0"/><stop offset="0.5" stop-color="#bfd3f6"/><stop offset="0.53" stop-color="#c9d7f0"/><stop offset="0.56" stop-color="#d3dbe7"/><stop offset="0.6" stop-color="#d4dbe6"/><stop offset="0.65" stop-color="#d3dbe7"/><stop offset="0.75" stop-color="#d3dbe7"/><stop offset="0.85" stop-color="#d8dce2"/><stop offset="0.91" stop-color="#dddcdc"/><stop offset="0.95" stop-color="#e4d9d2"/><stop offset="0.98" stop-color="#ecd3c5"/><stop offset="1" stop-color="#edd1c2"/></linearGradient>
<linearGradient id="g52"><stop offset="0" stop-color="#f49a7b"/><stop offset="0.02" stop-color="#f5a081"/><stop offset="0.05" stop-color="#f7b396"/><stop offset="0.09" stop-color="#f6bea4"/><stop offset="0.15" stop-color="#f5c4ac"/><stop offset="0.25" stop-color="#f1ccb8"/><stop offset="0.35" stop-color="#f1ccb8"/><stop offset="0.4" stop-color="#f2c9b4"/><stop offset="0.44" stop-color="#f3c8b2"/><stop offset="0.47" stop-color="#f0cdbb"/><stop offset="0.5" stop-color="#ecd3c5"/><stop offset="0.53" stop-color="#f0cdbb"/><stop offset="0.56" stop-color="#f3c8b2"/><stop offset="0.6" stop-color="#f2c9b4"/><stop offset="0.65" stop-color="#f1ccb8"/><stop offset="0.75" stop-color="#f1ccb8"/><stop offset="0.85" stop-color="#f5c4ac"/><stop offset="0.91" stop-color="#f6bea4"/><stop offset="0.95" stop-color="#f7b396"/><stop offset="0.98" stop-color="#f59f80"/><stop offset="1" stop-color="#f4987a"/></linearGradient>
<linearGradient id="g53"><stop offset="0" stop-color="#d65244"/><stop offset="0.02" stop-color="#dc5d4a"/><stop offset="0.05" stop-color="#ec7f63"/><stop offset="0.09" stop-color="#f29274"/><stop offset="0.15" stop-color="#f49a7b"/><stop offset="0.25" stop-color="#f7a98b"/><stop offset="0.35" stop-color="#f7a98b"/><stop offset="0.4" stop-color="#f6a385"/><stop offset="0.44" stop-color="#f59f80"/><stop offset="0.47" stop-color="#f6a586"/><stop offset="0.5" stop-color="#f7aa8c"/><stop offset="0.53" stop-color="#f6a586"/><stop offset="0.56" stop-color="#f59f80"/><stop offset="0.6" stop-color="#f6a385"/><stop offset="0.65" stop-color="#f7a98b"/><stop offset="0.75" stop-color="#f7a98b"/><stop offset="0.85" stop-color="#f49a7b"/><stop offset="0.91" stop-color="#f29274"/><stop offset="0.95" stop-color="#eb7d62"/><stop offset="0.98" stop-color="#d95847"/><stop offset="1" stop-color="#d44e41"/></linearGradient>
<linearGradient id="g54"><stop offset="0" stop-color="#c0282f"/><stop offset="0.02" stop-color="#c0282f"/><stop offset="0.05" stop-color="#d75445"/><stop offset="0.09" stop-color="#e36c55"/><stop offset="0.15" stop-color="#e8765c"/><stop offset="0.25" stop-color="#f08a6c"/><stop offset="0.35" stop-color="#f08a6c"/><stop offset="0.4" stop-color="#ec8165"/><stop offset="0.44" stop-color="#ea7b60"/><stop offset="0.47" stop-color="#ec7f63"/><stop offset="0.5" stop-color="#ee8468"/><stop offset="0.53" stop-color="#ec7f63"/><stop offset="0.56" stop-color="#ea7b60"/><stop offset="0.6" stop-color="#ec8165"/><stop offset="0.65" stop-color="#f08a6c"/><stop offset="0.75" stop-color="#f08a6c"/><stop offset="0.85" stop-color="#e8765c"/><stop offset="0.91" stop-color="#e36c55"/><stop offset="0.95" stop-color="#d65244"/><stop offset="0.98" stop-color="#c0282f"/><stop offset="1" stop-color="#c0282f"/></linearGradient>
<linearGradient id="g55"><stop offset="0" stop-color="#c0282f"/><stop offset="0.02" stop-color="#c0282f"/><stop offset="0.05" stop-color="#cc403a"/><stop offset="0.09" stop-color="#da5a49"/><stop offset="0.15" stop-color="#e0654f"/><stop offset="0.25" stop-color="#ea7b60"/><stop offset="0.35" stop-color="#ea7b60"/><stop offset="0.4" stop-color="#e57058"/><stop offset="0.44" stop-color="#e36b54"/><stop offset="0.47" stop-color="#e36b54"/><stop offset="0.5" stop-color="#e46e56"/><stop offset="0.53" stop-color="#e36b54"/><stop offset="0.56" stop-color="#e36b54"/><stop offset="0.6" stop-color="#e57058"/><stop offset="0.65" stop-color="#ea7b60"/><stop offset="0.75" stop-color="#ea7b60"/><stop offset="0.85" stop-color="#e0654f"/><stop offset="0.91" stop-color="#da5a49"/><stop offset="0.95" stop-color="#cb3e38"/><stop offset="0.98" stop-color="#c0282f"/><stop offset="1" stop-color="#c0282f"/></linearGradient>
<linearGradient id="g56"><stop offset="0" stop-color="#c0282f"/><stop offset="0.02" stop-color="#c0282f"/><stop offset="0.05" stop-color="#cb3e38"/><stop offset="0.09" stop-color="#da5a49"/><stop offset="0.15" stop-color="#df634e"/><stop offset="0.25" stop-color="#e9785d"/><stop offset="0.35" stop-color="#e9785d"/><stop offset="0.4" stop-color="#e46e56"/><stop offset="0.44" stop-color="#e16751"/><stop offset="0.47" stop-color="#e16751"/><stop offset="0.5" stop-color="#e26952"/><stop offset="0.53" stop-color="#e16751"/><stop offset="0.56" stop-color="#e16751"/><stop offset="0.6" stop-color="#e46e56"/><stop offset="0.65" stop-color="#e9785d"/><stop offset="0.75" stop-color="#e9785d"/><stop offset="0.85" stop-color="#df634e"/><stop offset="0.91" stop-color="#da5a49"/><stop offset="0.95" stop-color="#ca3b37"/><stop offset="0.98" stop-color="#c0282f"/><stop offset="1" stop-color="#c0282f"/></linearGradient>
<linearGradient id="g57"><stop offset="0" stop-color="#c0282f"/><stop offset="0.02" stop-color="#c0282f"/><stop offset="0.05" stop-color="#cc403a"/><stop offset="0.09" stop-color="#dc5d4a"/><stop offset="0.15" stop-color="#e0654f"/><stop offset="0.25" stop-color="#e97a5f"/><stop offset="0.35" stop-color="#e97a5f"/><stop offset="0.4" stop-color="#e57058"/><stop offset="0.44" stop-color="#e26952"/><stop offset="0.47" stop-color="#e16751"/><stop offset="0.5" stop-color="#e16751"/><stop offset="0.53" stop-color="#e16751"/><stop offset="0.56" stop-color="#e26952"/><stop offset="0.6" stop-color="#e57058"/><stop offset="0.65" stop-color="#e97a5f"/><stop offset="0.75" stop-color="#e97a5f"/><stop offset="0.85" stop-color="#e0654f"/><stop offset="0.91" stop-color="#dc5d4a"/><stop offset="0.95" stop-color="#cb3e38"/><stop offset="0.98" stop-color="#c0282f"/><stop offset="1" stop-color="#c0282f"/></linearGradient>
<linearGradient id="g58"><stop offset="0" stop-color="#c0282f"/><stop offset="0.02" stop-color="#c0282f"/><stop offset="0.05" stop-color="#ca3b37"/><stop offset="0.09" stop-color="#d95847"/><stop offset="0.15" stop-color="#df634e"/><stop offset="0.25" stop-color="#e9785d"/><stop offset="0.35" stop-color="#e9785d"/><stop offset="0.4" stop-color="#e46e56"/><stop offset="0.44" stop-color="#e16751"/><stop offset="0.47" stop-color="#e16751"/><stop offset="0.5" stop-color="#e26952"/><stop offset="0.53" stop-color="#e16751"/><stop offset="0.56" stop-color="#e16751"/><stop offset="0.6" stop-color="#e46e56"/><stop offset="0.65" stop-color="#e9785d"/><stop offset="0.75" stop-color="#e9785d"/><stop offset="0.85" stop-color="#df634e"/><stop offset="0.91" stop-color="#d95847"/><stop offset="0.95" stop-color="#ca3b37"/><stop offset="0.98" stop-color="#c0282f"/><stop offset="1" stop-color="#c0282f"/></linearGradient>
<linearGradient id="g59"><stop offset="0" stop-color="#c0282f"/><stop offset="0.02" stop-color="#c0282f"/><stop offset="0.05" stop-color="#cf453c"/><stop offset="0.09" stop-color="#de614d"/><stop offset="0.15" stop-color="#e36b54"/><stop offset="0.25" stop-color="#ec7f63"/><stop offset="0.35" stop-color="#ec7f63"/><stop offset="0.4" stop-color="#e8765c"/><stop offset="0.44" stop-color="#e46e56"/><stop offset="0.47" stop-color="#e57058"/><stop offset="0.5" stop-color="#e7745b"/><stop offset="0.53" stop-color="#e57058"/><stop offset="0.56" stop-color="#e46e56"/><stop offset="0.6" stop-color="#e8765c"/><stop offset="0.65" stop-color="#ec7f63"/><stop offset="0.75" stop-color="#ec7f63"/><stop offset="0.85" stop-color="#e36b54"/><stop offset="0.91" stop-color="#de614d"/><stop offset="0.95" stop-color="#cd423b"/><stop offset="0.98" stop-color="#c0282f"/><stop offset="1" stop-color="#c0282f"/></linearGradient>
<linearGradient id="g60"><stop offset="0" stop-color="#c0282f"/><stop offset="0.02" stop-color="#c73635"/><stop offset="0.05" stop-color="#df634e"/><stop offset="0.09" stop-color="#e97a5f"/><stop offset="0.15" stop-color="#ed8366"/><stop offset="0.25" stop-color="#f39577"/><stop offset="0.35" stop-color="#f39577"/><stop offset="0.4" stop-color="#f18d6f"/><stop offset="0.44" stop-color="#ef886b"/><stop offset="0.47" stop-color="#f18d6f"/><stop offset="0.5" stop-color="#f29274"/><stop offset="0.53" stop-color="#f18d6f"/><stop offset="0.56" stop-color="#ef886b"/><stop offset="0.6" stop-color="#f18d6f"/><stop offset="0.65" stop-color="#f39577"/><stop offset="0.75" stop-color="#f39577"/><stop offset="0.85" stop-color="#ed8366"/><stop offset="0.91" stop-color="#e97a5f"/><stop offset="0.95" stop-color="#de614d"/><stop offset="0.98" stop-color="#c43032"/><stop offset="1" stop-color="#c0282f"/></linearGradient>
<linearGradient id="g61"><stop offset="0" stop-color="#e57058"/><stop offset="0.02" stop-color="#e9785d"/><stop offset="0.05" stop-color="#f39475"/><stop offset="0.09" stop-color="#f6a385"/><stop offset="0.15" stop-color="#f7ac8e"/><stop offset="0.25" stop-color="#f7b79b"/><stop offset="0.35" stop-color="#f7b79b"/><stop offset="0.4" stop-color="#f7b396"/><stop offset="0.44" stop-color="#f7b093"/><stop offset="0.47" stop-color="#f7b79b"/><stop offset="0.5" stop-color="#f7bca1"/><stop offset="0.53" stop-color="#f7b79b"/><stop offset="0.56" stop-color="#f7b093"/><stop offset="0.6" stop-color="#f7b396"/><stop offset="0.65" stop-color="#f7b79b"/><stop offset="0.75" stop-color="#f7b79b"/><stop offset="0.85" stop-color="#f7ac8e"/><stop offset="0.91" stop-color="#f6a385"/><stop offset="0.95" stop-color="#f29274"/><stop offset="0.98" stop-color="#e7745b"/><stop offset="1" stop-color="#e36c55"/></linearGradient>
<linearGradient id="g62"><stop offset="0" stop-color="#f7b497"/><stop offset="0.02" stop-color="#f7b89c"/><stop offset="0.05" stop-color="#f4c6af"/><stop offset="0.09" stop-color="#f0cdbb"/><stop offset="0.15" stop-color="#edd2c3"/><stop offset="0.25" stop-color="#e8d6cc"/><stop offset="0.35" stop-color="#e7d7ce"/><stop offset="0.4" stop-color="#ead5c9"/><stop offset="0.44" stop-color="#ead5c9"/><stop offset="0.47" stop-color="#e3d9d3"/><stop offset="0.5" stop-color="#dddcdc"/><stop offset="0.53" stop-color="#e3d9d3"/><stop offset="0.56" stop-color="#ead5c9"/><stop offset="0.6" stop-color="#ead5c9"/><stop offset="0.65" stop-color="#e7d7ce"/><stop offset="0.75" stop-color="#e8d6cc"/><stop offset="0.85" stop-color="#edd2c3"/><stop offset="0.91" stop-color="#f0cdbb"/><stop offset="0.95" stop-color="#f4c5ad"/><stop offset="0.98" stop-color="#f7b79b"/><stop offset="1" stop-color="#f7b396"/></linearGradient>
<linearGradient id="g63"><stop offset="0" stop-color="#dddcdc"/><stop offset="0.02" stop-color="#dcdddd"/><stop offset="0.05" stop-color="#d5dbe5"/><stop offset="0.09" stop-color="#cedaeb"/><stop offset="0.15" stop-color="#c9d7f0"/><stop offset="0.25" stop-color="#c4d5f3"/><stop offset="0.35" stop-color="#c3d5f4"/><stop offset="0.4" stop-color="#c5d6f2"/><stop offset="0.44" stop-color="#c3d5f4"/><stop offset="0.47" stop-color="#b3cdfb"/><stop offset="0.5" stop-color="#a7c5fe"/><stop offset="0.53" stop-color="#b3cdfb"/><stop offset="0.56" stop-color="#c3d5f4"/><stop offset="0.6" stop-color="#c5d6f2"/><stop offset="0.65" stop-color="#c3d5f4"/><stop offset="0.75" stop-color="#c4d5f3"/><stop offset="0.85" stop-color="#c9d7f0"/><stop offset="0.91" stop-color="#cedaeb"/><stop offset="0.95" stop-color="#d5dbe5"/><stop offset="0.98" stop-color="#dcdddd"/><stop offset="1" stop-color="#dedcdb"/></linearGradient>
<linearGradient id="g64"><stop offset="0" stop-color="#b6cefa"/><stop offset="0.02" stop-color="#b5cdfa"/><stop offset="0.05" stop-color="#b1cbfc"/><stop offset="0.09" stop-color="#aac7fd"/><stop offset="0.15" stop-color="#a3c2fe"/><stop offset="0.25" stop-color="#9fbfff"/><stop offset="0.35" stop-color="#9fbfff"/><stop offset="0.4" stop-color="#9fbfff"/><stop offset="0.44" stop-color="#98b9ff"/><stop offset="0.47" stop-color="#7da0f9"/><stop offset="0.5" stop-color="#6687ed"/><stop offset="0.53" stop-color="#7da0f9"/><stop offset="0.56" stop-color="#98b9ff"/><stop offset="0.6" stop-color="#9fbfff"/><stop offset="0.65" stop-color="#9fbfff"/><stop offset="0.75" stop-color="#9fbfff"/><stop offset="0.85" stop-color="#a3c2fe"/><stop offset="0.91" stop-color="#aac7fd"/><stop offset="0.95" stop-color="#b1cbfc"/><stop offset="0.98" stop-color="#b6cefa"/><stop offset="1" stop-color="#b6cefa"/></linearGradient>
<linearGradient id="g65"><stop offset="0" stop-color="#9dbdff"/><stop offset="0.02" stop-color="#9dbdff"/><stop offset="0.05" stop-color="#98b9ff"/><stop offset="0.09" stop-color="#93b5fe"/><stop offset="0.15" stop-color="#8caffe"/><stop offset="0.25" stop-color="#88abfd"/><stop offset="0.35" stop-color="#88abfd"/><stop offset="0.4" stop-color="#88abfd"/><stop offset="0.44" stop-color="#7da0f9"/><stop offset="0.47" stop-color="#5572df"/><stop offset="0.5" stop-color="#3b4cc0"/><stop offset="0.53" stop-color="#5572df"/><stop offset="0.56" stop-color="#7da0f9"/><stop offset="0.6" stop-color="#88abfd"/><stop offset="0.65" stop-color="#88abfd"/><stop offset="0.75" stop-color="#88abfd"/><stop offset="0.85" stop-color="#8caffe"/><stop offset="0.91" stop-color="#93b5fe"/><stop offset="0.95" stop-color="#98b9ff"/><stop offset="0.98" stop-color="#9dbdff"/><stop offset="1" stop-color="#9dbdff"/></linearGradient>
<linearGradient id="g66"><stop offset="0" stop-color="#92b4fe"/><stop offset="0.02" stop-color="#92b4fe"/><stop offset="0.05" stop-color="#8fb1fe"/><stop offset="0.09" stop-color="#88abfd"/><stop offset="0.15" stop-color="#81a4fb"/><stop offset="0.25" stop-color="#7da0f9"/><stop offset="0.35" stop-color="#7da0f9"/><stop offset="0.4" stop-color="#7da0f9"/><stop offset="0.44" stop-color="#7295f4"/><stop offset="0.47" stop-color="#4c66d6"/><stop offset="0.5" stop-color="#3b4cc0"/><stop offset="0.53" stop-color="#4c66d6"/><stop offset="0.56" stop-color="#7295f4"/><stop offset="0.6" stop-color="#7da0f9"/><stop offset="0.65" stop-color="#7da0f9"/><stop offset="0.75" stop-color="#7da0f9"/><stop offset="0.85" stop-color="#81a4fb"/><stop offset="0.91" stop-color="#88abfd"/><stop offset="0.95" stop-color="#8fb1fe"/><stop offset="0.98" stop-color="#92b4fe"/><stop offset="1" stop-color="#92b4fe"/></linearGradient>
<linearGradient id="g67"><stop offset="0" stop-color="#8db0fe"/><stop offset="0.02" stop-color="#8caffe"/><stop offset="0.05" stop-color="#89acfd"/><stop offset="0.09" stop-color="#84a7fc"/><stop offset="0.15" stop-color="#7b9ff9"/><stop offset="0.25" stop-color="#799cf8"/><stop offset="0.35" stop-color="#779af7"/><stop offset="0.4" stop-color="#799cf8"/><stop offset="0.44" stop-color="#7093f3"/><stop offset="0.47" stop-color="#5673e0"/><stop offset="0.5" stop-color="#3f53c6"/><stop offset="0.53" stop-color="#5673e0"/><stop offset="0.56" stop-color="#7093f3"/><stop offset="0.6" stop-color="#799cf8"/><stop offset="0.65" stop-color="#779af7"/><stop offset="0.75" stop-color="#799cf8"/><stop offset="0.85" stop-color="#7b9ff9"/><stop offset="0.91" stop-color="#84a7fc"/><stop offset="0.95" stop-color="#89acfd"/><stop offset="0.98" stop-color="#8caffe"/><stop offset="1" stop-color="#8db0fe"/></linearGradient>
<linearGradient id="g68"><stop offset="0" stop-color="#89acfd"/><stop offset="0.02" stop-color="#89acfd"/><stop offset="0.05" stop-color="#86a9fc"/><stop offset="0.09" stop-color="#80a3fa"/><stop offset="0.15" stop-color="#799cf8"/><stop offset="0.25" stop-color="#7597f6"/><stop offset="0.35" stop-color="#7597f6"/><stop offset="0.4" stop-color="#7699f6"/><stop offset="0.44" stop-color="#7295f4"/><stop offset="0.47" stop-color="#5f7fe8"/><stop offset="0.5" stop-color="#506bda"/><stop offset="0.53" stop-color="#5f7fe8"/><stop offset="0.56" stop-color="#7295f4"/><stop offset="0.6" stop-color="#7699f6"/><stop offset="0.65" stop-color="#7597f6"/><stop offset="0.75" stop-color="#7597f6"/><stop offset="0.85" stop-color="#799cf8"/><stop offset="0.91" stop-color="#80a3fa"/><stop offset="0.95" stop-color="#86a9fc"/><stop offset="0.98" stop-color="#89acfd"/><stop offset="1" stop-color="#89acfd"/></linearGradient>
<linearGradient id="g69"><stop offset="0" stop-color="#85a8fc"/><stop offset="0.02" stop-color="#85a8fc"/><stop offset="0.05" stop-color="#82a6fb"/><stop offset="0.09" stop-color="#7da0f9"/><stop offset="0.15" stop-color="#7699f6"/><stop offset="0.25" stop-color="#7295f4"/><stop offset="0.35" stop-color="#7396f5"/><stop offset="0.4" stop-color="#7699f6"/><stop offset="0.44" stop-color="#7699f6"/><stop offset="0.47" stop-color="#6a8bef"/><stop offset="0.5" stop-color="#5d7ce6"/><stop offset="0.53" stop-color="#6a8bef"/><stop offset="0.56" stop-color="#7699f6"/><stop offset="0.6" stop-color="#7597f6"/><stop offset="0.65" stop-color="#7396f5"/><stop offset="0.75" stop-color="#7295f4"/><stop offset="0.85" stop-color="#7699f6"/><stop offset="0.91" stop-color="#7da0f9"/><stop offset="0.95" stop-color="#82a6fb"/><stop offset="0.98" stop-color="#85a8fc"/><stop offset="1" stop-color="#85a8fc"/></linearGradient>
<linearGradient id="g70"><stop offset="0" stop-color="#81a4fb"/><stop offset="0.02" stop-color="#81a4fb"/><stop offset="0.05" stop-color="#7ea1fa"/><stop offset="0.09" stop-color="#7a9df8"/><stop offset="0.15" stop-color="#7396f5"/><stop offset="0.25" stop-color="#6f92f3"/><stop offset="0.35" stop-color="#7295f4"/><stop offset="0.4" stop-color="#779af7"/><stop offset="0.44" stop-color="#7ea1fa"/><stop offset="0.47" stop-color="#799cf8"/><stop offset="0.5" stop-color="#7093f3"/><stop offset="0.53" stop-color="#799cf8"/><stop offset="0.56" stop-color="#7ea1fa"/><stop offset="0.6" stop-color="#7699f6"/><stop offset="0.65" stop-color="#7295f4"/><stop offset="0.75" stop-color="#7093f3"/><stop offset="0.85" stop-color="#7396f5"/><stop offset="0.91" stop-color="#7a9df8"/><stop offset="0.95" stop-color="#7ea1fa"/><stop offset="0.98" stop-color="#81a4fb"/><stop offset="1" stop-color="#82a6fb"/></linearGradient>
<linearGradient id="g71"><stop offset="0" stop-color="#7b9ff9"/><stop offset="0.02" stop-color="#7da0f9"/><stop offset="0.05" stop-color="#7a9df8"/><stop offset="0.09" stop-color="#779af7"/><stop offset="0.15" stop-color="#7093f3"/><stop offset="0.25" stop-color="#6c8ff1"/><stop offset="0.35" stop-color="#7093f3"/><stop offset="0.4" stop-color="#799cf8"/><stop offset="0.44" stop-color="#88abfd"/><stop offset="0.47" stop-color="#89acfd"/><stop offset="0.5" stop-color="#85a8fc"/><stop offset="0.53" stop-color="#89acfd"/><stop offset="0.56" stop-color="#86a9fc"/><stop offset="0.6" stop-color="#779af7"/><stop offset="0.65" stop-color="#6f92f3"/><stop offset="0.75" stop-color="#6e90f2"/><stop offset="0.85" stop-color="#6f92f3"/><stop offset="0.91" stop-color="#7699f6"/><stop offset="0.95" stop-color="#7a9df8"/><stop offset="0.98" stop-color="#7da0f9"/><stop offset="1" stop-color="#7da0f9"/></linearGradient>
<linearGradient id="g72"><stop offset="0" stop-color="#7699f6"/><stop offset="0.02" stop-color="#779af7"/><stop offset="0.05" stop-color="#7699f6"/><stop offset="0.09" stop-color="#7295f4"/><stop offset="0.15" stop-color="#6c8ff1"/><stop offset="0.25" stop-color="#688aef"/><stop offset="0.35" stop-color="#6e90f2"/><stop offset="0.4" stop-color="#7699f6"/><stop offset="0.44" stop-color="#86a9fc"/><stop offset="0.47" stop-color="#8caffe"/><stop offset="0.5" stop-color="#88abfd"/><stop offset="0.53" stop-color="#8badfd"/><stop offset="0.56" stop-color="#85a8fc"/><stop offset="0.6" stop-color="#7597f6"/><stop offset="0.65" stop-color="#6e90f2"/><stop offset="0.75" stop-color="#6a8bef"/><stop offset="0.85" stop-color="#6b8df0"/><stop offset="0.91" stop-color="#7093f3"/><stop offset="0.95" stop-color="#7699f6"/><stop offset="0.98" stop-color="#779af7"/><stop offset="1" stop-color="#779af7"/></linearGradient>
<linearGradient id="g73"><stop offset="0" stop-color="#6f92f3"/><stop offset="0.02" stop-color="#6f92f3"/><stop offset="0.05" stop-color="#6f92f3"/><stop offset="0.09" stop-color="#6c8ff1"/><stop offset="0.15" stop-color="#6788ee"/><stop offset="0.25" stop-color="#6384eb"/><stop offset="0.35" stop-color="#688aef"/><stop offset="0.4" stop-color="#6f92f3"/><stop offset="0.44" stop-color="#7a9df8"/><stop offset="0.47" stop-color="#7b9ff9"/><stop offset="0.5" stop-color="#779af7"/><stop offset="0.53" stop-color="#7a9df8"/><stop offset="0.56" stop-color="#799cf8"/><stop offset="0.6" stop-color="#6e90f2"/><stop offset="0.65" stop-color="#6a8bef"/><stop offset="0.75" stop-color="#6687ed"/><stop offset="0.85" stop-color="#6687ed"/><stop offset="0.91" stop-color="#6b8df0"/><stop offset="0.95" stop-color="#6f92f3"/><stop offset="0.98" stop-color="#7093f3"/><stop offset="1" stop-color="#7093f3"/></linearGradient>
<linearGradient id="g74"><stop offset="0" stop-color="#6788ee"/><stop offset="0.02" stop-color="#6788ee"/><stop offset="0.05" stop-color="#6788ee"/><stop offset="0.09" stop-color="#6687ed"/><stop offset="0.15" stop-color="#6180e9"/><stop offset="0.25" stop-color="#5d7ce6"/><stop offset="0.35" stop-color="#6384eb"/><stop offset="0.4" stop-color="#6788ee"/><stop offset="0.44" stop-color="#6a8bef"/><stop offset="0.47" stop-color="#6788ee"/><stop offset="0.5" stop-color="#6282ea"/><stop offset="0.53" stop-color="#6687ed"/><stop offset="0.56" stop-color="#688aef"/><stop offset="0.6" stop-color="#6485ec"/><stop offset="0.65" stop-color="#6384eb"/><stop offset="0.75" stop-color="#5f7fe8"/><stop offset="0.85" stop-color="#5e7de7"/><stop offset="0.91" stop-color="#6384eb"/><stop offset="0.95" stop-color="#6788ee"/><stop offset="0.98" stop-color="#688aef"/><stop offset="1" stop-color="#688aef"/></linearGradient>
<linearGradient id="g75"><stop offset="0" stop-color="#5e7de7"/><stop offset="0.02" stop-color="#5f7fe8"/><stop offset="0.05" stop-color="#5f7fe8"/><stop offset="0.09" stop-color="#5e7de7"/><stop offset="0.15" stop-color="#5977e3"/><stop offset="0.25" stop-color="#5572df"/><stop offset="0.35" stop-color="#5b7ae5"/><stop offset="0.4" stop-color="#5e7de7"/><stop offset="0.44" stop-color="#5e7de7"/><stop offset="0.47" stop-color="#5977e3"/><stop offset="0.5" stop-color="#536edd"/><stop offset="0.53" stop-color="#5673e0"/><stop offset="0.56" stop-color="#5b7ae5"/><stop offset="0.6" stop-color="#5d7ce6"/><stop offset="0.65" stop-color="#5d7ce6"/><stop offset="0.75" stop-color="#5977e3"/><stop offset="0.85" stop-color="#5673e0"/><stop offset="0.91" stop-color="#5b7ae5"/><stop offset="0.95" stop-color="#5e7de7"/><stop offset="0.98" stop-color="#5f7fe8"/><stop offset="1" stop-color="#5f7fe8"/></linearGradient>
<linearGradient id="g76"><stop offset="0" stop-color="#5572df"/><stop offset="0.02" stop-color="#5673e0"/><stop offset="0.05" stop-color="#5875e1"/><stop offset="0.09" stop-color="#5673e0"/><stop offset="0.15" stop-color="#516ddb"/><stop offset="0.25" stop-color="#4e68d8"/><stop offset="0.35" stop-color="#5572df"/><stop offset="0.4" stop-color="#5673e0"/><stop offset="0.44" stop-color="#5572df"/><stop offset="0.47" stop-color="#4f69d9"/><stop offset="0.5" stop-color="#4961d2"/><stop offset="0.53" stop-color="#4c66d6"/><stop offset="0.56" stop-color="#536edd"/><stop offset="0.6" stop-color="#5572df"/><stop offset="0.65" stop-color="#5673e0"/><stop offset="0.75" stop-color="#516ddb"/><stop offset="0.85" stop-color="#4f69d9"/><stop offset="0.91" stop-color="#5470de"/><stop offset="0.95" stop-color="#5673e0"/><stop offset="0.98" stop-color="#5875e1"/><stop offset="1" stop-color="#5875e1"/></linearGradient>
<linearGradient id="g77"><stop offset="0" stop-color="#4f69d9"/><stop offset="0.02" stop-color="#506bda"/><stop offset="0.05" stop-color="#516ddb"/><stop offset="0.09" stop-color="#516ddb"/><stop offset="0.15" stop-color="#4c66d6"/><stop offset="0.25" stop-color="#4961d2"/><stop offset="0.35" stop-color="#506bda"/><stop offset="0.4" stop-color="#516ddb"/><stop offset="0.44" stop-color="#4f69d9"/><stop offset="0.47" stop-color="#485fd1"/><stop offset="0.5" stop-color="#4055c8"/><stop offset="0.53" stop-color="#455cce"/><stop offset="0.56" stop-color="#4b64d5"/><stop offset="0.6" stop-color="#4f69d9"/><stop offset="0.65" stop-color="#516ddb"/><stop offset="0.75" stop-color="#4c66d6"/><stop offset="0.85" stop-color="#4961d2"/><stop offset="0.91" stop-color="#4e68d8"/><stop offset="0.95" stop-color="#516ddb"/><stop offset="0.98" stop-color="#536edd"/><stop offset="1" stop-color="#516ddb"/></linearGradient>
<linearGradient id="g78"><stop offset="0" stop-color="#4c66d6"/><stop offset="0.02" stop-color="#4e68d8"/><stop offset="0.05" stop-color="#4f69d9"/><stop offset="0.09" stop-color="#4f69d9"/><stop offset="0.15" stop-color="#4b64d5"/><stop offset="0.25" stop-color="#485fd1"/><stop offset="0.35" stop-color="#4f69d9"/><stop offset="0.4" stop-color="#506bda"/><stop offset="0.44" stop-color="#4c66d6"/><stop offset="0.47" stop-color="#455cce"/><stop offset="0.5" stop-color="#3f53c6"/><stop offset="0.53" stop-color="#4358cb"/><stop offset="0.56" stop-color="#4961d2"/><stop offset="0.6" stop-color="#4c66d6"/><stop offset="0.65" stop-color="#4e68d8"/><stop offset="0.75" stop-color="#4a63d3"/><stop offset="0.85" stop-color="#485fd1"/><stop offset="0.91" stop-color="#4c66d6"/><stop offset="0.95" stop-color="#4f69d9"/><stop offset="0.98" stop-color="#506bda"/><stop offset="1" stop-color="#506bda"/></linearGradient>
<linearGradient id="g79"><stop offset="0" stop-color="#4c66d6"/><stop offset="0.02" stop-color="#4e68d8"/><stop offset="0.05" stop-color="#506bda"/><stop offset="0.09" stop-color="#506bda"/><stop offset="0.15" stop-color="#4c66d6"/><stop offset="0.25" stop-color="#4961d2"/><stop offset="0.35" stop-color="#506bda"/><stop offset="0.4" stop-color="#506bda"/><stop offset="0.44" stop-color="#4e68d8"/><stop offset="0.47" stop-color="#4961d2"/><stop offset="0.5" stop-color="#445acc"/><stop offset="0.53" stop-color="#465ecf"/><stop offset="0.56" stop-color="#4a63d3"/><stop offset="0.6" stop-color="#4c66d6"/><stop offset="0.65" stop-color="#4f69d9"/><stop offset="0.75" stop-color="#4b64d5"/><stop offset="0.85" stop-color="#4a63d3"/><stop offset="0.91" stop-color="#4e68d8"/><stop offset="0.95" stop-color="#516ddb"/><stop offset="0.98" stop-color="#516ddb"/><stop offset="1" stop-color="#506bda"/></linearGradient>
<linearGradient id="g80"><stop offset="0" stop-color="#4f69d9"/><stop offset="0.02" stop-color="#506bda"/><stop offset="0.05" stop-color="#536edd"/><stop offset="0.09" stop-color="#5470de"/><stop offset="0.15" stop-color="#506bda"/><stop offset="0.25" stop-color="#4c66d6"/><stop offset="0.35" stop-color="#536edd"/><stop offset="0.4" stop-color="#5470de"/><stop offset="0.44" stop-color="#516ddb"/><stop offset="0.47" stop-color="#4f69d9"/><stop offset="0.5" stop-color="#4e68d8"/><stop offset="0.53" stop-color="#4c66d6"/><stop offset="0.56" stop-color="#4e68d8"/><stop offset="0.6" stop-color="#4f69d9"/><stop offset="0.65" stop-color="#516ddb"/><stop offset="0.75" stop-color="#4f69d9"/><stop offset="0.85" stop-color="#4c66d6"/><stop offset="0.91" stop-color="#516ddb"/><stop offset="0.95" stop-color="#5470de"/><stop offset="0.98" stop-color="#5470de"/><stop offset="1" stop-color="#5470de"/></linearGradient>
<linearGradient id="g81"><stop offset="0" stop-color="#536edd"/><stop offset="0.02" stop-color="#5572df"/><stop offset="0.05" stop-color="#5673e0"/><stop offset="0.09" stop-color="#5875e1"/><stop offset="0.15" stop-color="#5470de"/><stop offset="0.25" stop-color="#516ddb"/><stop offset="0.35" stop-color="#5875e1"/><stop offset="0.4" stop-color="#5875e1"/><stop offset="0.44" stop-color="#5673e0"/><stop offset="0.47" stop-color="#5875e1"/><stop offset="0.5" stop-color="#5977e3"/><stop offset="0.53" stop-color="#5572df"/><stop offset="0.56" stop-color="#536edd"/><stop offset="0.6" stop-color="#536edd"/><stop offset="0.65" stop-color="#5572df"/><stop offset="0.75" stop-color="#536edd"/><stop offset="0.85" stop-color="#516ddb"/><stop offset="0.91" stop-color="#5572df"/><stop offset="0.95" stop-color="#5875e1"/><stop offset="0.98" stop-color="#5977e3"/><stop offset="1" stop-color="#5875e1"/></linearGradient>
<linearGradient id="g82"><stop offset="0" stop-color="#5875e1"/><stop offset="0.02" stop-color="#5977e3"/><stop offset="0.05" stop-color="#5b7ae5"/><stop offset="0.09" stop-color="#5b7ae5"/><stop offset="0.15" stop-color="#5977e3"/><stop offset="0.25" stop-color="#5572df"/><stop offset="0.35" stop-color="#5d7ce6"/><stop offset="0.4" stop-color="#5e7de7"/><stop offset="0.44" stop-color="#5e7de7"/><stop offset="0.47" stop-color="#6687ed"/><stop offset="0.5" stop-color="#6b8df0"/><stop offset="0.53" stop-color="#6282ea"/><stop offset="0.56" stop-color="#5a78e4"/><stop offset="0.6" stop-color="#5977e3"/><stop offset="0.65" stop-color="#5b7ae5"/><stop offset="0.75" stop-color="#5875e1"/><stop offset="0.85" stop-color="#5572df"/><stop offset="0.91" stop-color="#5977e3"/><stop offset="0.95" stop-color="#5b7ae5"/><stop offset="0.98" stop-color="#5d7ce6"/><stop offset="1" stop-color="#5b7ae5"/></linearGradient>
<linearGradient id="g83"><stop offset="0" stop-color="#5875e1"/><stop offset="0.02" stop-color="#5977e3"/><stop offset="0.05" stop-color="#5a78e4"/><stop offset="0.09" stop-color="#5a78e4"/><stop offset="0.15" stop-color="#5572df"/><stop offset="0.25" stop-color="#536edd"/><stop offset="0.35" stop-color="#5b7ae5"/><stop offset="0.4" stop-color="#5f7fe8"/><stop offset="0.44" stop-color="#6180e9"/><stop offset="0.47" stop-color="#6788ee"/><stop offset="0.5" stop-color="#6c8ff1"/><stop offset="0.53" stop-color="#6485ec"/><stop offset="0.56" stop-color="#5d7ce6"/><stop offset="0.6" stop-color="#5b7ae5"/><stop offset="0.65" stop-color="#5d7ce6"/><stop offset="0.75" stop-color="#5875e1"/><stop offset="0.85" stop-color="#536edd"/><stop offset="0.91" stop-color="#5673e0"/><stop offset="0.95" stop-color="#5977e3"/><stop offset="0.98" stop-color="#5a78e4"/><stop offset="1" stop-color="#5977e3"/></linearGradient>
<linearGradient id="g84"><stop offset="0" stop-color="#506bda"/><stop offset="0.02" stop-color="#506bda"/><stop offset="0.05" stop-color="#516ddb"/><stop offset="0.09" stop-color="#516ddb"/><stop offset="0.15" stop-color="#4c66d6"/><stop offset="0.25" stop-color="#4a63d3"/><stop offset="0.35" stop-color="#5470de"/><stop offset="0.4" stop-color="#5875e1"/><stop offset="0.44" stop-color="#5977e3"/><stop offset="0.47" stop-color="#5a78e4"/><stop offset="0.5" stop-color="#5a78e4"/><stop offset="0.53" stop-color="#5875e1"/><stop offset="0.56" stop-color="#5673e0"/><stop offset="0.6" stop-color="#5673e0"/><stop offset="0.65" stop-color="#5673e0"/><stop offset="0.75" stop-color="#4f69d9"/><stop offset="0.85" stop-color="#4a63d3"/><stop offset="0.91" stop-color="#4e68d8"/><stop offset="0.95" stop-color="#506bda"/><stop offset="0.98" stop-color="#516ddb"/><stop offset="1" stop-color="#506bda"/></linearGradient>
<linearGradient id="g85"><stop offset="0" stop-color="#485fd1"/><stop offset="0.02" stop-color="#4961d2"/><stop offset="0.05" stop-color="#4a63d3"/><stop offset="0.09" stop-color="#4a63d3"/><stop offset="0.15" stop-color="#465ecf"/><stop offset="0.25" stop-color="#445acc"/><stop offset="0.35" stop-color="#4c66d6"/><stop offset="0.4" stop-color="#4f69d9"/><stop offset="0.44" stop-color="#506bda"/><stop offset="0.47" stop-color="#4f69d9"/><stop offset="0.5" stop-color="#4f69d9"/><stop offset="0.53" stop-color="#4e68d8"/><stop offset="0.56" stop-color="#4e68d8"/><stop offset="0.6" stop-color="#4e68d8"/><stop offset="0.65" stop-color="#4e68d8"/><stop offset="0.75" stop-color="#485fd1"/><stop offset="0.85" stop-color="#445acc"/><stop offset="0.91" stop-color="#485fd1"/><stop offset="0.95" stop-color="#4a63d3"/><stop offset="0.98" stop-color="#4a63d3"/><stop offset="1" stop-color="#4a63d3"/></linearGradient>
<linearGradient id="g86"><stop offset="0" stop-color="#485fd1"/><stop offset="0.02" stop-color="#4a63d3"/><stop offset="0.05" stop-color="#4c66d6"/><stop offset="0.09" stop-color="#4c66d6"/><stop offset="0.15" stop-color="#4a63d3"/><stop offset="0.25" stop-color="#465ecf"/><stop offset="0.35" stop-color="#4c66d6"/><stop offset="0.4" stop-color="#4f69d9"/><stop offset="0.44" stop-color="#4e68d8"/><stop offset="0.47" stop-color="#4c66d6"/><stop offset="0.5" stop-color="#4b64d5"/><stop offset="0.53" stop-color="#4a63d3"/><stop offset="0.56" stop-color="#4a63d3"/><stop offset="0.6" stop-color="#4a63d3"/><stop offset="0.65" stop-color="#4b64d5"/><stop offset="0.75" stop-color="#485fd1"/><stop offset="0.85" stop-color="#465ecf"/><stop offset="0.91" stop-color="#4b64d5"/><stop offset="0.95" stop-color="#4e68d8"/><stop offset="0.98" stop-color="#4e68d8"/><stop offset="1" stop-color="#4c66d6"/></linearGradient>
<linearGradient id="g87"><stop offset="0" stop-color="#506bda"/><stop offset="0.02" stop-color="#516ddb"/><stop offset="0.05" stop-color="#5470de"/><stop offset="0.09" stop-color="#5572df"/><stop offset="0.15" stop-color="#536edd"/><stop offset="0.25" stop-color="#4f69d9"/><stop offset="0.35" stop-color="#5572df"/><stop offset="0.4" stop-color="#5572df"/><stop offset="0.44" stop-color="#5470de"/><stop offset="0.47" stop-color="#536edd"/><stop offset="0.5" stop-color="#506bda"/><stop offset="0.53" stop-color="#4f69d9"/><stop offset="0.56" stop-color="#4f69d9"/><stop offset="0.6" stop-color="#506bda"/><stop offset="0.65" stop-color="#516ddb"/><stop offset="0.75" stop-color="#506bda"/><stop offset="0.85" stop-color="#4f69d9"/><stop offset="0.91" stop-color="#5470de"/><stop offset="0.95" stop-color="#5673e0"/><stop offset="0.98" stop-color="#5673e0"/><stop offset="1" stop-color="#5572df"/></linearGradient>
<linearGradient id="g88"><stop offset="0" stop-color="#5875e1"/><stop offset="0.02" stop-color="#5977e3"/><stop offset="0.05" stop-color="#5b7ae5"/><stop offset="0.09" stop-color="#5b7ae5"/><stop offset="0.15" stop-color="#5977e3"/><stop offset="0.25" stop-color="#5572df"/><stop offset="0.35" stop-color="#5d7ce6"/><stop offset="0.4" stop-color="#5e7de7"/><stop offset="0.44" stop-color="#5b7ae5"/><stop offset="0.47" stop-color="#5a78e4"/><stop offset="0.5" stop-color="#5977e3"/><stop offset="0.53" stop-color="#5875e1"/><stop offset="0.56" stop-color="#5875e1"/><stop offset="0.6" stop-color="#5977e3"/><stop offset="0.65" stop-color="#5a78e4"/><stop offset="0.75" stop-color="#5875e1"/><stop offset="0.85" stop-color="#5572df"/><stop offset="0.91" stop-color="#5977e3"/><stop offset="0.95" stop-color="#5b7ae5"/><stop offset="0.98" stop-color="#5d7ce6"/><stop offset="1" stop-color="#5b7ae5"/></linearGradient>
<linearGradient id="g89"><stop offset="0" stop-color="#5875e1"/><stop offset="0.02" stop-color="#5875e1"/><stop offset="0.05" stop-color="#5977e3"/><stop offset="0.09" stop-color="#5977e3"/><stop offset="0.15" stop-color="#5470de"/><stop offset="0.25" stop-color="#516ddb"/><stop offset="0.35" stop-color="#5b7ae5"/><stop offset="0.4" stop-color="#5e7de7"/><stop offset="0.44" stop-color="#5e7de7"/><stop offset="0.47" stop-color="#5d7ce6"/><stop offset="0.5" stop-color="#5b7ae5"/><stop offset="0.53" stop-color="#5a78e4"/><stop offset="0.56" stop-color="#5a78e4"/><stop offset="0.6" stop-color="#5b7ae5"/><stop offset="0.65" stop-color="#5d7ce6"/><stop offset="0.75" stop-color="#5673e0"/><stop offset="0.85" stop-color="#516ddb"/><stop offset="0.91" stop-color="#5572df"/><stop offset="0.95" stop-color="#5875e1"/><stop offset="0.98" stop-color="#5977e3"/><stop offset="1" stop-color="#5977e3"/></linearGradient>
<linearGradient id="g90"><stop offset="0" stop-color="#4f69d9"/><stop offset="0.02" stop-color="#506bda"/><stop offset="0.05" stop-color="#506bda"/><stop offset="0.09" stop-color="#506bda"/><stop offset="0.15" stop-color="#4b64d5"/><stop offset="0.25" stop-color="#4961d2"/><stop offset="0.35" stop-color="#536edd"/><stop offset="0.4" stop-color="#5673e0"/><stop offset="0.44" stop-color="#5673e0"/><stop offset="0.47" stop-color="#5572df"/><stop offset="0.5" stop-color="#5470de"/><stop offset="0.53" stop-color="#5470de"/><stop offset="0.56" stop-color="#5470de"/><stop offset="0.6" stop-color="#5572df"/><stop offset="0.65" stop-color="#5673e0"/><stop offset="0.75" stop-color="#4f69d9"/><stop offset="0.85" stop-color="#4961d2"/><stop offset="0.91" stop-color="#4c66d6"/><stop offset="0.95" stop-color="#4f69d9"/><stop offset="0.98" stop-color="#4f69d9"/><stop offset="1" stop-color="#4f69d9"/></linearGradient>
<linearGradient id="g91"><stop offset="0" stop-color="#485fd1"/><stop offset="0.02" stop-color="#4961d2"/><stop offset="0.05" stop-color="#4a63d3"/><stop offset="0.09" stop-color="#4a63d3"/><stop offset="0.15" stop-color="#465ecf"/><stop offset="0.25" stop-color="#445acc"/><stop offset="0.35" stop-color="#4b64d5"/><stop offset="0.4" stop-color="#4e68d8"/><stop offset="0.44" stop-color="#4c66d6"/><stop offset="0.47" stop-color="#4b64d5"/><stop offset="0.5" stop-color="#4b64d5"/><stop offset="0.53" stop-color="#4a63d3"/><stop offset="0.56" stop-color="#4a63d3"/><stop offset="0.6" stop-color="#4c66d6"/><stop offset="0.65" stop-color="#4e68d8"/><stop offset="0.75" stop-color="#485fd1"/><stop offset="0.85" stop-color="#445acc"/><stop offset="0.91" stop-color="#485fd1"/><stop offset="0.95" stop-color="#4a63d3"/><stop offset="0.98" stop-color="#4a63d3"/><stop offset="1" stop-color="#4a63d3"/></linearGradient>
<linearGradient id="g92"><stop offset="0" stop-color="#485fd1"/><stop offset="0.02" stop-color="#4a63d3"/><stop offset="0.05" stop-color="#4c66d6"/><stop offset="0.09" stop-color="#4e68d8"/><stop offset="0.15" stop-color="#4b64d5"/><stop offset="0.25" stop-color="#485fd1"/><stop offset="0.35" stop-color="#4c66d6"/><stop offset="0.4" stop-color="#4c66d6"/><stop offset="0.44" stop-color="#4a63d3"/><stop offset="0.47" stop-color="#485fd1"/><stop offset="0.5" stop-color="#465ecf"/><stop offset="0.53" stop-color="#465ecf"/><stop offset="0.56" stop-color="#465ecf"/><stop offset="0.6" stop-color="#485fd1"/><stop offset="0.65" stop-color="#4b64d5"/><stop offset="0.75" stop-color="#4961d2"/><stop offset="0.85" stop-color="#485fd1"/><stop offset="0.91" stop-color="#4c66d6"/><stop offset="0.95" stop-color="#4f69d9"/><stop offset="0.98" stop-color="#4f69d9"/><stop offset="1" stop-color="#4e68d8"/></linearGradient>
<linearGradient id="g93"><stop offset="0" stop-color="#506bda"/><stop offset="0.02" stop-color="#536edd"/><stop offset="0.05" stop-color="#5572df"/><stop offset="0.09" stop-color="#5673e0"/><stop offset="0.15" stop-color="#5470de"/><stop offset="0.25" stop-color="#506bda"/><stop offset="0.35" stop-color="#5470de"/><stop offset="0.4" stop-color="#536edd"/><stop offset="0.44" stop-color="#506bda"/><stop offset="0.47" stop-color="#4c66d6"/><stop offset="0.5" stop-color="#4b64d5"/><stop offset="0.53" stop-color="#4a63d3"/><stop offset="0.56" stop-color="#4a63d3"/><stop offset="0.6" stop-color="#4c66d6"/><stop offset="0.65" stop-color="#506bda"/><stop offset="0.75" stop-color="#506bda"/><stop offset="0.85" stop-color="#506bda"/><stop offset="0.91" stop-color="#5572df"/><stop offset="0.95" stop-color="#5875e1"/><stop offset="0.98" stop-color="#5875e1"/><stop offset="1" stop-color="#5673e0"/></linearGradient>
<linearGradient id="g94"><stop offset="0" stop-color="#5875e1"/><stop offset="0.02" stop-color="#5977e3"/><stop offset="0.05" stop-color="#5b7ae5"/><stop offset="0.09" stop-color="#5b7ae5"/><stop offset="0.15" stop-color="#5977e3"/><stop offset="0.25" stop-color="#5572df"/><stop offset="0.35" stop-color="#5b7ae5"/><stop offset="0.4" stop-color="#5b7ae5"/><stop offset="0.44" stop-color="#5875e1"/><stop offset="0.47" stop-color="#5572df"/><stop offset="0.5" stop-color="#536edd"/><stop offset="0.53" stop-color="#516ddb"/><stop offset="0.56" stop-color="#536edd"/><stop offset="0.6" stop-color="#5572df"/><stop offset="0.65" stop-color="#5977e3"/><stop offset="0.75" stop-color="#5875e1"/><stop offset="0.85" stop-color="#5572df"/><stop offset="0.91" stop-color="#5977e3"/><stop offset="0.95" stop-color="#5b7ae5"/><stop offset="0.98" stop-color="#5d7ce6"/><stop offset="1" stop-color="#5b7ae5"/></linearGradient>
<linearGradient id="g95"><stop offset="0" stop-color="#5673e0"/><stop offset="0.02" stop-color="#5875e1"/><stop offset="0.05" stop-color="#5977e3"/><stop offset="0.09" stop-color="#5875e1"/><stop offset="0.15" stop-color="#536edd"/><stop offset="0.25" stop-color="#506bda"/><stop offset="0.35" stop-color="#5a78e4"/><stop offset="0.4" stop-color="#5b7ae5"/><stop offset="0.44" stop-color="#5a78e4"/><stop offset="0.47" stop-color="#5875e1"/><stop offset="0.5" stop-color="#5673e0"/><stop offset="0.53" stop-color="#5572df"/><stop offset="0.56" stop-color="#5673e0"/><stop offset="0.6" stop-color="#5977e3"/><stop offset="0.65" stop-color="#5b7ae5"/><stop offset="0.75" stop-color="#5673e0"/><stop offset="0.85" stop-color="#506bda"/><stop offset="0.91" stop-color="#5470de"/><stop offset="0.95" stop-color="#5673e0"/><stop offset="0.98" stop-color="#5875e1"/><stop offset="1" stop-color="#5875e1"/></linearGradient>
<linearGradient id="g96"><stop offset="0" stop-color="#4f69d9"/><stop offset="0.02" stop-color="#4f69d9"/><stop offset="0.05" stop-color="#506bda"/><stop offset="0.09" stop-color="#4f69d9"/><stop offset="0.15" stop-color="#4a63d3"/><stop offset="0.25" stop-color="#485fd1"/><stop offset="0.35" stop-color="#516ddb"/><stop offset="0.4" stop-color="#5470de"/><stop offset="0.44" stop-color="#536edd"/><stop offset="0.47" stop-color="#516ddb"/><stop offset="0.5" stop-color="#516ddb"/><stop offset="0.53" stop-color="#506bda"/><stop offset="0.56" stop-color="#516ddb"/><stop offset="0.6" stop-color="#5470de"/><stop offset="0.65" stop-color="#5572df"/><stop offset="0.75" stop-color="#4e68d8"/><stop offset="0.85" stop-color="#485fd1"/><stop offset="0.91" stop-color="#4a63d3"/><stop offset="0.95" stop-color="#4e68d8"/><stop offset="0.98" stop-color="#4e68d8"/><stop offset="1" stop-color="#4e68d8"/></linearGradient>
<linearGradient id="g97"><stop offset="0" stop-color="#485fd1"/><stop offset="0.02" stop-color="#4961d2"/><stop offset="0.05" stop-color="#4a63d3"/><stop offset="0.09" stop-color="#4a63d3"/><stop offset="0.15" stop-color="#465ecf"/><stop offset="0.25" stop-color="#445acc"/><stop offset="0.35" stop-color="#4a63d3"/><stop offset="0.4" stop-color="#4b64d5"/><stop offset="0.44" stop-color="#4a63d3"/><stop offset="0.47" stop-color="#4961d2"/><stop offset="0.5" stop-color="#485fd1"/><stop offset="0.53" stop-color="#485fd1"/><stop offset="0.56" stop-color="#4961d2"/><stop offset="0.6" stop-color="#4b64d5"/><stop offset="0.65" stop-color="#4c66d6"/><stop offset="0.75" stop-color="#485fd1"/><stop offset="0.85" stop-color="#445acc"/><stop offset="0.91" stop-color="#485fd1"/><stop offset="0.95" stop-color="#4a63d3"/><stop offset="0.98" stop-color="#4a63d3"/><stop offset="1" stop-color="#4a63d3"/></linearGradient>
<linearGradient id="g98"><stop offset="0" stop-color="#4961d2"/><stop offset="0.02" stop-color="#4a63d3"/><stop offset="0.05" stop-color="#4e68d8"/><stop offset="0.09" stop-color="#4f69d9"/><stop offset="0.15" stop-color="#4c66d6"/><stop offset="0.25" stop-color="#4961d2"/><stop offset="0.35" stop-color="#4c66d6"/><stop offset="0.4" stop-color="#4b64d5"/><stop offset="0.44" stop-color="#485fd1"/><stop offset="0.47" stop-color="#455cce"/><stop offset="0.5" stop-color="#445acc"/><stop offset="0.53" stop-color="#4358cb"/><stop offset="0.56" stop-color="#445acc"/><stop offset="0.6" stop-color="#465ecf"/><stop offset="0.65" stop-color="#4a63d3"/><stop offset="0.75" stop-color="#4961d2"/><stop offset="0.85" stop-color="#4961d2"/><stop offset="0.91" stop-color="#4e68d8"/><stop offset="0.95" stop-color="#506bda"/><stop offset="0.98" stop-color="#506bda"/><stop offset="1" stop-color="#4f69d9"/></linearGradient>
<linearGradient id="g99"><stop offset="0" stop-color="#506bda"/><stop offset="0.02" stop-color="#536edd"/><stop offset="0.05" stop-color="#5673e0"/><stop offset="0.09" stop-color="#5875e1"/><stop offset="0.15" stop-color="#5572df"/><stop offset="0.25" stop-color="#516ddb"/><stop offset="0.35" stop-color="#5572df"/><stop offset="0.4" stop-color="#536edd"/><stop offset="0.44" stop-color="#4e68d8"/><stop offset="0.47" stop-color="#4a63d3"/><stop offset="0.5" stop-color="#4961d2"/><stop offset="0.53" stop-color="#485fd1"/><stop offset="0.56" stop-color="#485fd1"/><stop offset="0.6" stop-color="#4b64d5"/><stop offset="0.65" stop-color="#506bda"/><stop offset="0.75" stop-color="#516ddb"/><stop offset="0.85" stop-color="#516ddb"/><stop offset="0.91" stop-color="#5673e0"/><stop offset="0.95" stop-color="#5977e3"/><stop offset="0.98" stop-color="#5977e3"/><stop offset="1" stop-color="#5875e1"/></linearGradient>
<linearGradient id="g100"><stop offset="0" stop-color="#5875e1"/><stop offset="0.02" stop-color="#5a78e4"/><stop offset="0.05" stop-color="#5b7ae5"/><stop offset="0.09" stop-color="#5b7ae5"/><stop offset="0.15" stop-color="#5875e1"/><stop offset="0.25" stop-color="#5572df"/><stop offset="0.35" stop-color="#5b7ae5"/><stop offset="0.4" stop-color="#5a78e4"/><stop offset="0.44" stop-color="#5673e0"/><stop offset="0.47" stop-color="#5470de"/><stop offset="0.5" stop-color="#516ddb"/><stop offset="0.53" stop-color="#506bda"/><stop offset="0.56" stop-color="#516ddb"/><stop offset="0.6" stop-color="#5470de"/><stop offset="0.65" stop-color="#5977e3"/><stop offset="0.75" stop-color="#5875e1"/><stop offset="0.85" stop-color="#5572df"/><stop offset="0.91" stop-color="#5977e3"/><stop offset="0.95" stop-color="#5b7ae5"/><stop offset="0.98" stop-color="#5d7ce6"/><stop offset="1" stop-color="#5b7ae5"/></linearGradient>
<linearGradient id="g101"><stop offset="0" stop-color="#5673e0"/><stop offset="0.02" stop-color="#5875e1"/><stop offset="0.05" stop-color="#5875e1"/><stop offset="0.09" stop-color="#5673e0"/><stop offset="0.15" stop-color="#516ddb"/><stop offset="0.25" stop-color="#4f69d9"/><stop offset="0.35" stop-color="#5977e3"/><stop offset="0.4" stop-color="#5b7ae5"/><stop offset="0.44" stop-color="#5977e3"/><stop offset="0.47" stop-color="#5673e0"/><stop offset="0.5" stop-color="#5572df"/><stop offset="0.53" stop-color="#5572df"/><stop offset="0.56" stop-color="#5572df"/><stop offset="0.6" stop-color="#5977e3"/><stop offset="0.65" stop-color="#5b7ae5"/><stop offset="0.75" stop-color="#5673e0"/><stop offset="0.85" stop-color="#4f69d9"/><stop offset="0.91" stop-color="#516ddb"/><stop offset="0.95" stop-color="#5572df"/><stop offset="0.98" stop-color="#5673e0"/><stop offset="1" stop-color="#5673e0"/></linearGradient>
<linearGradient id="g102"><stop offset="0" stop-color="#4e68d8"/><stop offset="0.02" stop-color="#4f69d9"/><stop offset="0.05" stop-color="#4f69d9"/><stop offset="0.09" stop-color="#4e68d8"/><stop offset="0.15" stop-color="#4961d2"/><stop offset="0.25" stop-color="#465ecf"/><stop offset="0.35" stop-color="#506bda"/><stop offset="0.4" stop-color="#5470de"/><stop offset="0.44" stop-color="#536edd"/><stop offset="0.47" stop-color="#516ddb"/><stop offset="0.5" stop-color="#506bda"/><stop offset="0.53" stop-color="#506bda"/><stop offset="0.56" stop-color="#516ddb"/><stop offset="0.6" stop-color="#5470de"/><stop offset="0.65" stop-color="#5572df"/><stop offset="0.75" stop-color="#4e68d8"/><stop offset="0.85" stop-color="#465ecf"/><stop offset="0.91" stop-color="#4a63d3"/><stop offset="0.95" stop-color="#4c66d6"/><stop offset="0.98" stop-color="#4c66d6"/><stop offset="1" stop-color="#4c66d6"/></linearGradient>
<linearGradient id="g103"><stop offset="0" stop-color="#485fd1"/><stop offset="0.02" stop-color="#4961d2"/><stop offset="0.05" stop-color="#4a63d3"/><stop offset="0.09" stop-color="#4a63d3"/><stop offset="0.15" stop-color="#485fd1"/><stop offset="0.25" stop-color="#445acc"/><stop offset="0.35" stop-color="#4a63d3"/><stop offset="0.4" stop-color="#4b64d5"/><stop offset="0.44" stop-color="#4a63d3"/><stop offset="0.47" stop-color="#4961d2"/><stop offset="0.5" stop-color="#485fd1"/><stop offset="0.53" stop-color="#485fd1"/><stop offset="0.56" stop-color="#4961d2"/><stop offset="0.6" stop-color="#4b64d5"/><stop offset="0.65" stop-color="#4c66d6"/><stop offset="0.75" stop-color="#465ecf"/><stop offset="0.85" stop-color="#445acc"/><stop offset="0.91" stop-color="#485fd1"/><stop offset="0.95" stop-color="#4a63d3"/><stop offset="0.98" stop-color="#4b64d5"/><stop offset="1" stop-color="#4a63d3"/></linearGradient>
<linearGradient id="g104"><stop offset="0" stop-color="#4961d2"/><stop offset="0.02" stop-color="#4b64d5"/><stop offset="0.05" stop-color="#4e68d8"/><stop offset="0.09" stop-color="#506bda"/><stop offset="0.15" stop-color="#4e68d8"/><stop offset="0.25" stop-color="#4a63d3"/><stop offset="0.35" stop-color="#4c66d6"/><stop offset="0.4" stop-color="#4b64d5"/><stop offset="0.44" stop-color="#485fd1"/><stop offset="0.47" stop-color="#455cce"/><stop offset="0.5" stop-color="#445acc"/><stop offset="0.53" stop-color="#4358cb"/><stop offset="0.56" stop-color="#445acc"/><stop offset="0.6" stop-color="#465ecf"/><stop offset="0.65" stop-color="#4a63d3"/><stop offset="0.75" stop-color="#4961d2"/><stop offset="0.85" stop-color="#4a63d3"/><stop offset="0.91" stop-color="#4f69d9"/><stop offset="0.95" stop-color="#516ddb"/><stop offset="0.98" stop-color="#516ddb"/><stop offset="1" stop-color="#506bda"/></linearGradient>
<linearGradient id="g105"><stop offset="0" stop-color="#516ddb"/><stop offset="0.02" stop-color="#5470de"/><stop offset="0.05" stop-color="#5875e1"/><stop offset="0.09" stop-color="#5977e3"/><stop offset="0.15" stop-color="#5673e0"/><stop offset="0.25" stop-color="#536edd"/><stop offset="0.35" stop-color="#5572df"/><stop offset="0.4" stop-color="#536edd"/><stop offset="0.44" stop-color="#4e68d8"/><stop offset="0.47" stop-color="#4a63d3"/><stop offset="0.5" stop-color="#485fd1"/><stop offset="0.53" stop-color="#465ecf"/><stop offset="0.56" stop-color="#485fd1"/><stop offset="0.6" stop-color="#4b64d5"/><stop offset="0.65" stop-color="#506bda"/><stop offset="0.75" stop-color="#516ddb"/><stop offset="0.85" stop-color="#536edd"/><stop offset="0.91" stop-color="#5875e1"/><stop offset="0.95" stop-color="#5a78e4"/><stop offset="0.98" stop-color="#5a78e4"/><stop offset="1" stop-color="#5977e3"/></linearGradient>
<linearGradient id="g106"><stop offset="0" stop-color="#5875e1"/><stop offset="0.02" stop-color="#5a78e4"/><stop offset="0.05" stop-color="#5b7ae5"/><stop offset="0.09" stop-color="#5b7ae5"/><stop offset="0.15" stop-color="#5875e1"/><stop offset="0.25" stop-color="#5470de"/><stop offset="0.35" stop-color="#5b7ae5"/><stop offset="0.4" stop-color="#5a78e4"/><stop offset="0.44" stop-color="#5673e0"/><stop offset="0.47" stop-color="#536edd"/><stop offset="0.5" stop-color="#506bda"/><stop offset="0.53" stop-color="#4f69d9"/><stop offset="0.56" stop-color="#506bda"/><stop offset="0.6" stop-color="#5470de"/><stop offset="0.65" stop-color="#5977e3"/><stop offset="0.75" stop-color="#5875e1"/><stop offset="0.85" stop-color="#5470de"/><stop offset="0.91" stop-color="#5875e1"/><stop offset="0.95" stop-color="#5b7ae5"/><stop offset="0.98" stop-color="#5b7ae5"/><stop offset="1" stop-color="#5b7ae5"/></linearGradient>
<linearGradient id="g107"><stop offset="0" stop-color="#5673e0"/><stop offset="0.02" stop-color="#5673e0"/><stop offset="0.05" stop-color="#5875e1"/><stop offset="0.09" stop-color="#5572df"/><stop offset="0.15" stop-color="#506bda"/><stop offset="0.25" stop-color="#4e68d8"/><stop offset="0.35" stop-color="#5977e3"/><stop offset="0.4" stop-color="#5a78e4"/><stop offset="0.44" stop-color="#5977e3"/><stop offset="0.47" stop-color="#5673e0"/><stop offset="0.5" stop-color="#5572df"/><stop offset="0.53" stop-color="#5470de"/><stop offset="0.56" stop-color="#5572df"/><stop offset="0.6" stop-color="#5977e3"/><stop offset="0.65" stop-color="#5b7ae5"/><stop offset="0.75" stop-color="#5572df"/><stop offset="0.85" stop-color="#4e68d8"/><stop offset="0.91" stop-color="#506bda"/><stop offset="0.95" stop-color="#536edd"/><stop offset="0.98" stop-color="#5470de"/><stop offset="1" stop-color="#5572df"/></linearGradient>
<linearGradient id="g108"><stop offset="0" stop-color="#4e68d8"/><stop offset="0.02" stop-color="#4e68d8"/><stop offset="0.05" stop-color="#4e68d8"/><stop offset="0.09" stop-color="#4c66d6"/><stop offset="0.15" stop-color="#485fd1"/><stop offset="0.25" stop-color="#455cce"/><stop offset="0.35" stop-color="#506bda"/><stop offset="0.4" stop-color="#536edd"/><stop offset="0.44" stop-color="#536edd"/><stop offset="0.47" stop-color="#516ddb"/><stop offset="0.5" stop-color="#516ddb"/><stop offset="0.53" stop-color="#516ddb"/><stop offset="0.56" stop-color="#536edd"/><stop offset="0.6" stop-color="#5470de"/><stop offset="0.65" stop-color="#5673e0"/><stop offset="0.75" stop-color="#4c66d6"/><stop offset="0.85" stop-color="#455cce"/><stop offset="0.91" stop-color="#4961d2"/><stop offset="0.95" stop-color="#4b64d5"/><stop offset="0.98" stop-color="#4c66d6"/><stop offset="1" stop-color="#4c66d6"/></linearGradient>
<linearGradient id="g109"><stop offset="0" stop-color="#485fd1"/><stop offset="0.02" stop-color="#4961d2"/><stop offset="0.05" stop-color="#4a63d3"/><stop offset="0.09" stop-color="#4b64d5"/><stop offset="0.15" stop-color="#485fd1"/><stop offset="0.25" stop-color="#445acc"/><stop offset="0.35" stop-color="#4a63d3"/><stop offset="0.4" stop-color="#4b64d5"/><stop offset="0.44" stop-color="#4a63d3"/><stop offset="0.47" stop-color="#4961d2"/><stop offset="0.5" stop-color="#4961d2"/><stop offset="0.53" stop-color="#4961d2"/><stop offset="0.56" stop-color="#4a63d3"/><stop offset="0.6" stop-color="#4b64d5"/><stop offset="0.65" stop-color="#4e68d8"/><stop offset="0.75" stop-color="#465ecf"/><stop offset="0.85" stop-color="#445acc"/><stop offset="0.91" stop-color="#4961d2"/><stop offset="0.95" stop-color="#4b64d5"/><stop offset="0.98" stop-color="#4b64d5"/><stop offset="1" stop-color="#4a63d3"/></linearGradient>
<linearGradient id="g110"><stop offset="0" stop-color="#4961d2"/><stop offset="0.02" stop-color="#4b64d5"/><stop offset="0.05" stop-color="#4f69d9"/><stop offset="0.09" stop-color="#516ddb"/><stop offset="0.15" stop-color="#506bda"/><stop offset="0.25" stop-color="#4b64d5"/><stop offset="0.35" stop-color="#4c66d6"/><stop offset="0.4" stop-color="#4b64d5"/><stop offset="0.44" stop-color="#485fd1"/><stop offset="0.47" stop-color="#455cce"/><stop offset="0.5" stop-color="#445acc"/><stop offset="0.53" stop-color="#4358cb"/><stop offset="0.56" stop-color="#445acc"/><stop offset="0.6" stop-color="#465ecf"/><stop offset="0.65" stop-color="#4a63d3"/><stop offset="0.75" stop-color="#4a63d3"/><stop offset="0.85" stop-color="#4b64d5"/><stop offset="0.91" stop-color="#516ddb"/><stop offset="0.95" stop-color="#536edd"/><stop offset="0.98" stop-color="#536edd"/><stop offset="1" stop-color="#516ddb"/></linearGradient>
<linearGradient id="g111"><stop offset="0" stop-color="#516ddb"/><stop offset="0.02" stop-color="#5470de"/><stop offset="0.05" stop-color="#5875e1"/><stop offset="0.09" stop-color="#5a78e4"/><stop offset="0.15" stop-color="#5875e1"/><stop offset="0.25" stop-color="#5470de"/><stop offset="0.35" stop-color="#5673e0"/><stop offset="0.4" stop-color="#536edd"/><stop offset="0.44" stop-color="#4e68d8"/><stop offset="0.47" stop-color="#4a63d3"/><stop offset="0.5" stop-color="#485fd1"/><stop offset="0.53" stop-color="#465ecf"/><stop offset="0.56" stop-color="#465ecf"/><stop offset="0.6" stop-color="#4a63d3"/><stop offset="0.65" stop-color="#4f69d9"/><stop offset="0.75" stop-color="#536edd"/><stop offset="0.85" stop-color="#5470de"/><stop offset="0.91" stop-color="#5977e3"/><stop offset="0.95" stop-color="#5b7ae5"/><stop offset="0.98" stop-color="#5b7ae5"/><stop offset="1" stop-color="#5a78e4"/></linearGradient>
<linearGradient id="g112"><stop offset="0" stop-color="#5875e1"/><stop offset="0.02" stop-color="#5a78e4"/><stop offset="0.05" stop-color="#5b7ae5"/><stop offset="0.09" stop-color="#5b7ae5"/><stop offset="0.15" stop-color="#5673e0"/><stop offset="0.25" stop-color="#5470de"/><stop offset="0.35" stop-color="#5b7ae5"/><stop offset="0.4" stop-color="#5a78e4"/><stop offset="0.44" stop-color="#5673e0"/><stop offset="0.47" stop-color="#536edd"/><stop offset="0.5" stop-color="#506bda"/><stop offset="0.53" stop-color="#4f69d9"/><stop offset="0.56" stop-color="#4f69d9"/><stop offset="0.6" stop-color="#536edd"/><stop offset="0.65" stop-color="#5875e1"/><stop offset="0.75" stop-color="#5977e3"/><stop offset="0.85" stop-color="#5470de"/><stop offset="0.91" stop-color="#5875e1"/><stop offset="0.95" stop-color="#5a78e4"/><stop offset="0.98" stop-color="#5b7ae5"/><stop offset="1" stop-color="#5b7ae5"/></linearGradient>
<linearGradient id="g113"><stop offset="0" stop-color="#5673e0"/><stop offset="0.02" stop-color="#5673e0"/><stop offset="0.05" stop-color="#5673e0"/><stop offset="0.09" stop-color="#5470de"/><stop offset="0.15" stop-color="#4e68d8"/><stop offset="0.25" stop-color="#4c66d6"/><stop offset="0.35" stop-color="#5977e3"/><stop offset="0.4" stop-color="#5a78e4"/><stop offset="0.44" stop-color="#5977e3"/><stop offset="0.47" stop-color="#5673e0"/><stop offset="0.5" stop-color="#5572df"/><stop offset="0.53" stop-color="#5470de"/><stop offset="0.56" stop-color="#5572df"/><stop offset="0.6" stop-color="#5977e3"/><stop offset="0.65" stop-color="#5b7ae5"/><stop offset="0.75" stop-color="#5572df"/><stop offset="0.85" stop-color="#4c66d6"/><stop offset="0.91" stop-color="#4f69d9"/><stop offset="0.95" stop-color="#516ddb"/><stop offset="0.98" stop-color="#536edd"/><stop offset="1" stop-color="#5470de"/></linearGradient>
<linearGradient id="g114"><stop offset="0" stop-color="#4e68d8"/><stop offset="0.02" stop-color="#4e68d8"/><stop offset="0.05" stop-color="#4e68d8"/><stop offset="0.09" stop-color="#4b64d5"/><stop offset="0.15" stop-color="#485fd1"/><stop offset="0.25" stop-color="#445acc"/><stop offset="0.35" stop-color="#4f69d9"/><stop offset="0.4" stop-color="#536edd"/><stop offset="0.44" stop-color="#536edd"/><stop offset="0.47" stop-color="#536edd"/><stop offset="0.5" stop-color="#516ddb"/><stop offset="0.53" stop-color="#516ddb"/><stop offset="0.56" stop-color="#536edd"/><stop offset="0.6" stop-color="#5572df"/><stop offset="0.65" stop-color="#5673e0"/><stop offset="0.75" stop-color="#4c66d6"/><stop offset="0.85" stop-color="#445acc"/><stop offset="0.91" stop-color="#485fd1"/><stop offset="0.95" stop-color="#4a63d3"/><stop offset="0.98" stop-color="#4b64d5"/><stop offset="1" stop-color="#4b64d5"/></linearGradient>
<linearGradient id="g115"><stop offset="0" stop-color="#485fd1"/><stop offset="0.02" stop-color="#4961d2"/><stop offset="0.05" stop-color="#4a63d3"/><stop offset="0.09" stop-color="#4b64d5"/><stop offset="0.15" stop-color="#4961d2"/><stop offset="0.25" stop-color="#455cce"/><stop offset="0.35" stop-color="#4a63d3"/><stop offset="0.4" stop-color="#4b64d5"/><stop offset="0.44" stop-color="#4a63d3"/><stop offset="0.47" stop-color="#4a63d3"/><stop offset="0.5" stop-color="#4961d2"/><stop offset="0.53" stop-color="#4961d2"/><stop offset="0.56" stop-color="#4a63d3"/><stop offset="0.6" stop-color="#4c66d6"/><stop offset="0.65" stop-color="#4e68d8"/><stop offset="0.75" stop-color="#465ecf"/><stop offset="0.85" stop-color="#455cce"/><stop offset="0.91" stop-color="#4a63d3"/><stop offset="0.95" stop-color="#4c66d6"/><stop offset="0.98" stop-color="#4c66d6"/><stop offset="1" stop-color="#4b64d5"/></linearGradient>
<linearGradient id="g116"><stop offset="0" stop-color="#4961d2"/><stop offset="0.02" stop-color="#4c66d6"/><stop offset="0.05" stop-color="#506bda"/><stop offset="0.09" stop-color="#536edd"/><stop offset="0.15" stop-color="#516ddb"/><stop offset="0.25" stop-color="#4e68d8"/><stop offset="0.35" stop-color="#4e68d8"/><stop offset="0.4" stop-color="#4b64d5"/><stop offset="0.44" stop-color="#485fd1"/><stop offset="0.47" stop-color="#455cce"/><stop offset="0.5" stop-color="#445acc"/><stop offset="0.53" stop-color="#4358cb"/><stop offset="0.56" stop-color="#445acc"/><stop offset="0.6" stop-color="#465ecf"/><stop offset="0.65" stop-color="#4a63d3"/><stop offset="0.75" stop-color="#4a63d3"/><stop offset="0.85" stop-color="#4e68d8"/><stop offset="0.91" stop-color="#536edd"/><stop offset="0.95" stop-color="#5572df"/><stop offset="0.98" stop-color="#5470de"/><stop offset="1" stop-color="#536edd"/></linearGradient>
<filter id="hb" x="0" y="-0.1" width="1" height="1.2"><feGaussianBlur stdDeviation="0 0.9"/></filter>
<clipPath id="hc"><rect x="34.0" y="20.0" width="228.7" height="180.0"/></clipPath>
</defs>
<g clip-path="url(#hc)"><g filter="url(#hb)">
<rect x="34.0" y="17" width="228.7" height="2.05" fill="url(#g0)"/>
<rect x="34.0" y="19" width="228.7" height="2.05" fill="url(#g1)"/>
<rect x="34.0" y="21" width="228.7" height="2.05" fill="url(#g2)"/>
<rect x="34.0" y="23" width="228.7" height="2.05" fill="url(#g3)"/>
<rect x="34.0" y="25" width="228.7" height="2.05" fill="url(#g4)"/>
<rect x="34.0" y="27" width="228.7" height="2.05" fill="url(#g5)"/>
<rect x="34.0" y="29" width="228.7" height="2.05" fill="url(#g6)"/>
<rect x="34.0" y="31" width="228.7" height="2.05" fill="url(#g7)"/>
<rect x="34.0" y="33" width="228.7" height="2.05" fill="url(#g8)"/>
<rect x="34.0" y="35" width="228.7" height="2.05" fill="url(#g9)"/>
<rect x="34.0" y="37" width="228.7" height="2.05" fill="url(#g10)"/>
<rect x="34.0" y="39" width="228.7" height="2.05" fill="url(#g11)"/>
<rect x="34.0" y="41" width="228.7" height="2.05" fill="url(#g12)"/>
<rect x="34.0" y="43" width="228.7" height="2.05" fill="url(#g13)"/>
<rect x="34.0" y="45" width="228.7" height="2.05" fill="url(#g14)"/>
<rect x="34.0" y="47" width="228.7" height="2.05" fill="url(#g15)"/>
<rect x="34.0" y="49" width="228.7" height="2.05" fill="url(#g16)"/>
<rect x="34.0" y="51" width="228.7" height="2.05" fill="url(#g17)"/>
<rect x="34.0" y="53" width="228.7" height="2.05" fill="url(#g18)"/>
<rect x="34.0" y="55" width="228.7" height="2.05" fill="url(#g19)"/>
<rect x="34.0" y="57" width="228.7" height="2.05" fill="url(#g20)"/>
<rect x="34.0" y="59" width="228.7" height="2.05" fill="url(#g21)"/>
<rect x="34.0" y="61" width="228.7" height="2.05" fill="url(#g22)"/>
<rect x="34.0" y="63" width="228.7" height="2.05" fill="url(#g23)"/>
<rect x="34.0" y="65" width="228.7" height="2.05" fill="url(#g24)"/>
<rect x="34.0" y="67" width="228.7" height="2.05" fill="url(#g25)"/>
<rect x="34.0" y="69" width="228.7" height="2.05" fill="url(#g26)"/>
<rect x="34.0" y="71" width="228.7" height="2.05" fill="url(#g27)"/>
<rect x="34.0" y="73" width="228.7" height="2.05" fill="url(#g28)"/>
<rect x="34.0" y="75" width="228.7" height="2.05" fill="url(#g29)"/>
<rect x="34.0" y="77" width="228.7" height="2.05" fill="url(#g30)"/>
<rect x="34.0" y="79" width="228.7" height="2.05" fill="url(#g31)"/>
<rect x="34.0" y="81" width="228.7" height="2.05" fill="url(#g32)"/>
<rect x="34.0" y="83" width="228.7" height="2.05" fill="url(#g33)"/>
<rect x="34.0" y="85" width="228.7" height="2.05" fill="url(#g34)"/>
<rect x="34.0" y="87" width="228.7" height="1.05" fill="url(#g35)"/>
<rect x="34.0" y="88" width="228.7" height="1.05" fill="url(#g36)"/>
<rect x="34.0" y="89" width="228.7" height="1.05" fill="url(#g37)"/>
<rect x="34.0" y="90" width="228.7" height="1.05" fill="url(#g38)"/>
<rect x="34.0" y="91" width="228.7" height="1.05" fill="url(#g39)"/>
<rect x="34.0" y="92" width="228.7" height="1.05" fill="url(#g40)"/>
<rect x="34.0" y="93" width="228.7" height="1.05" fill="url(#g41)"/>
<rect x="34.0" y="94" width="228.7" height="1.05" fill="url(#g42)"/>
<rect x="34.0" y="95" width="228.7" height="1.05" fill="url(#g43)"/>
<rect x="34.0" y="96" width="228.7" height="1.05" fill="url(#g44)"/>
<rect x="34.0" y="97" width="228.7" height="1.05" fill="url(#g45)"/>
<rect x="34.0" y="98" width="228.7" height="1.05" fill="url(#g46)"/>
<rect x="34.0" y="99" width="228.7" height="1.05" fill="url(#g47)"/>
<rect x="34.0" y="100" width="228.7" height="1.05" fill="url(#g48)"/>
<rect x="34.0" y="101" width="228.7" height="1.05" fill="url(#g49)"/>
<rect x="34.0" y="102" width="228.7" height="1.05" fill="url(#g50)"/>
<rect x="34.0" y="103" width="228.7" height="1.05" fill="url(#g51)"/>
<rect x="34.0" y="104" width="228.7" height="1.05" fill="url(#g52)"/>
<rect x="34.0" y="105" width="228.7" height="1.05" fill="url(#g53)"/>
<rect x="34.0" y="106" width="228.7" height="1.05" fill="url(#g54)"/>
<rect x="34.0" y="107" width="228.7" height="1.05" fill="url(#g55)"/>
<rect x="34.0" y="108" width="228.7" height="1.05" fill="url(#g56)"/>
<rect x="34.0" y="109" width="228.7" height="1.05" fill="url(#g57)"/>
<rect x="34.0" y="110" width="228.7" height="1.05" fill="url(#g58)"/>
<rect x="34.0" y="111" width="228.7" height="1.05" fill="url(#g59)"/>
<rect x="34.0" y="112" width="228.7" height="1.05" fill="url(#g60)"/>
<rect x="34.0" y="113" width="228.7" height="1.05" fill="url(#g61)"/>
<rect x="34.0" y="114" width="228.7" height="1.05" fill="url(#g62)"/>
<rect x="34.0" y="115" width="228.7" height="1.05" fill="url(#g63)"/>
<rect x="34.0" y="116" width="228.7" height="1.05" fill="url(#g64)"/>
<rect x="34.0" y="117" width="228.7" height="1.05" fill="url(#g65)"/>
<rect x="34.0" y="118" width="228.7" height="1.05" fill="url(#g66)"/>
<rect x="34.0" y="119" width="228.7" height="1.05" fill="url(#g67)"/>
<rect x="34.0" y="120" width="228.7" height="1.05" fill="url(#g68)"/>
<rect x="34.0" y="121" width="228.7" height="1.05" fill="url(#g69)"/>
<rect x="34.0" y="122" width="228.7" height="1.05" fill="url(#g70)"/>
<rect x="34.0" y="123" width="228.7" height="1.05" fill="url(#g71)"/>
<rect x="34.0" y="124" width="228.7" height="1.05" fill="url(#g72)"/>
<rect x="34.0" y="125" width="228.7" height="1.05" fill="url(#g73)"/>
<rect x="34.0" y="126" width="228.7" height="1.05" fill="url(#g74)"/>
<rect x="34.0" y="127" width="228.7" height="1.05" fill="url(#g75)"/>
<rect x="34.0" y="128" width="228.7" height="1.05" fill="url(#g76)"/>
<rect x="34.0" y="129" width="228.7" height="1.05" fill="url(#g77)"/>
<rect x="34.0" y="130" width="228.7" height="1.05" fill="url(#g78)"/>
<rect x="34.0" y="131" width="228.7" height="1.05" fill="url(#g79)"/>
<rect x="34.0" y="132" width="228.7" height="1.05" fill="url(#g80)"/>
<rect x="34.0" y="133" width="228.7" height="1.05" fill="url(#g81)"/>
<rect x="34.0" y="134" width="228.7" height="2.05" fill="url(#g82)"/>
<rect x="34.0" y="136" width="228.7" height="2.05" fill="url(#g83)"/>
<rect x="34.0" y="138" width="228.7" height="2.05" fill="url(#g84)"/>
<rect x="34.0" y="140" width="228.7" height="2.05" fill="url(#g85)"/>
<rect x="34.0" y="142" width="228.7" height="2.05" fill="url(#g86)"/>
<rect x="34.0" y="144" width="228.7" height="2.05" fill="url(#g87)"/>
<rect x="34.0" y="146" width="228.7" height="2.05" fill="url(#g88)"/>
<rect x="34.0" y="148" width="228.7" height="2.05" fill="url(#g89)"/>
<rect x="34.0" y="150" width="228.7" height="2.05" fill="url(#g90)"/>
<rect x="34.0" y="152" width="228.7" height="2.05" fill="url(#g91)"/>
<rect x="34.0" y="154" width="228.7" height="2.05" fill="url(#g92)"/>
<rect x="34.0" y="156" width="228.7" height="2.05" fill="url(#g93)"/>
<rect x="34.0" y="158" width="228.7" height="2.05" fill="url(#g94)"/>
<rect x="34.0" y="160" width="228.7" height="2.05" fill="url(#g95)"/>
<rect x="34.0" y="162" width="228.7" height="2.05" fill="url(#g96)"/>
<rect x="34.0" y="164" width="228.7" height="2.05" fill="url(#g97)"/>
<rect x="34.0" y="166" width="228.7" height="2.05" fill="url(#g98)"/>
<rect x="34.0" y="168" width="228.7" height="2.05" fill="url(#g99)"/>
<rect x="34.0" y="170" width="228.7" height="2.05" fill="url(#g100)"/>
<rect x="34.0" y="172" width="228.7" height="2.05" fill="url(#g101)"/>
<rect x="34.0" y="174" width="228.7" height="2.05" fill="url(#g102)"/>
<rect x="34.0" y="176" width="228.7" height="2.05" fill="url(#g103)"/>
<rect x="34.0" y="178" width="228.7" height="2.05" fill="url(#g104)"/>
<rect x="34.0" y="180" width="228.7" height="2.05" fill="url(#g105)"/>
<rect x="34.0" y="182" width="228.7" height="2.05" fill="url(#g106)"/>
<rect x="34.0" y="184" width="228.7" height="2.05" fill="url(#g107)"/>
<rect x="34.0" y="186" width="228.7" height="2.05" fill="url(#g108)"/>
<rect x="34.0" y="188" width="228.7" height="2.05" fill="url(#g109)"/>
<rect x="34.0" y="190" width="228.7" height="2.05" fill="url(#g110)"/>
<rect x="34.0" y="192" width="228.7" height="2.05" fill="url(#g111)"/>
<rect x="34.0" y="194" width="228.7" height="2.05" fill="url(#g112)"/>
<rect x="34.0" y="196" width="228.7" height="2.05" fill="url(#g113)"/>
<rect x="34.0" y="198" width="228.7" height="2.05" fill="url(#g114)"/>
<rect x="34.0" y="200" width="228.7" height="2.05" fill="url(#g115)"/>
<rect x="34.0" y="202" width="228.7" height="2.05" fill="url(#g116)"/>
</g></g>
<defs><linearGradient id="cbar" x1="0" y1="1" x2="0" y2="0"><stop offset="0.00" stop-color="#3b4cc0"/><stop offset="0.05" stop-color="#4961d2"/><stop offset="0.10" stop-color="#5977e3"/><stop offset="0.15" stop-color="#6a8bef"/><stop offset="0.20" stop-color="#7b9ff9"/><stop offset="0.25" stop-color="#8db0fe"/><stop offset="0.30" stop-color="#9ebeff"/><stop offset="0.35" stop-color="#afcafc"/><stop offset="0.40" stop-color="#c0d4f5"/><stop offset="0.45" stop-color="#cfdaea"/><stop offset="0.50" stop-color="#dddcdc"/><stop offset="0.55" stop-color="#e9d5cb"/><stop offset="0.60" stop-color="#f2cbb7"/><stop offset="0.65" stop-color="#f6bda2"/><stop offset="0.70" stop-color="#f7ac8e"/><stop offset="0.75" stop-color="#f4987a"/><stop offset="0.80" stop-color="#ee8468"/><stop offset="0.85" stop-color="#e36c55"/><stop offset="0.90" stop-color="#d65244"/><stop offset="0.95" stop-color="#c53334"/><stop offset="1.00" stop-color="#b40426"/></linearGradient></defs>
<rect x="266.6" y="19.5" width="13.2" height="180.8" fill="url(#cbar)"/>
<path fill="#88abfd" shape-rendering="crispEdges" d="M313.8 29.8h4.9v4.8h-4.9zM423.1 29.8h4.9v4.8h-4.9zM359.4 43.4h4.9v4.8h-4.9zM368.5 43.4h4.9v4.8h-4.9zM336.6 52.5h4.9v4.8h-4.9zM322.9 70.6h4.9v4.8h-4.9zM322.9 102.4h4.9v4.8h-4.9zM336.6 120.5h4.9v4.8h-4.9zM359.4 129.6h4.9v4.8h-4.9zM368.5 129.6h4.9v4.8h-4.9z"/>
<path fill="#80a3fa" shape-rendering="crispEdges" d="M318.4 29.8h4.9v4.8h-4.9zM418.6 29.8h4.9v4.8h-4.9zM373.0 43.4h4.9v4.8h-4.9zM404.9 70.6h4.9v4.8h-4.9zM404.9 102.4h4.9v4.8h-4.9zM373.0 129.6h4.9v4.8h-4.9z"/>
<path fill="#7b9ff9" shape-rendering="crispEdges" d="M322.9 29.8h4.9v4.8h-4.9zM414.0 29.8h4.9v4.8h-4.9zM341.1 47.9h4.9v4.8h-4.9zM400.4 61.6h4.9v4.8h-4.9zM400.4 111.4h4.9v4.8h-4.9zM341.1 125.1h4.9v4.8h-4.9z"/>
<path fill="#7295f4" shape-rendering="crispEdges" d="M327.5 29.8h4.9v4.8h-4.9zM409.5 29.8h4.9v4.8h-4.9zM377.6 43.4h4.9v4.8h-4.9zM322.9 66.1h4.9v4.8h-4.9zM318.4 79.7h4.9v4.8h-4.9zM318.4 93.3h4.9v4.8h-4.9zM322.9 106.9h4.9v4.8h-4.9zM377.6 129.6h4.9v4.8h-4.9zM313.8 138.7h4.9v4.8h-4.9zM423.1 138.7h4.9v4.8h-4.9z"/>
<path fill="#6e90f2" shape-rendering="crispEdges" d="M332.0 29.8h4.9v4.8h-4.9zM404.9 29.8h4.9v4.8h-4.9zM318.4 34.3h4.9v4.8h-4.9zM418.6 34.3h4.9v4.8h-4.9zM409.5 84.2h4.9v4.8h-4.9zM409.5 88.8h4.9v4.8h-4.9z"/>
<path fill="#6a8bef" shape-rendering="crispEdges" d="M336.6 29.8h4.9v4.8h-4.9zM400.4 29.8h4.9v4.8h-4.9zM322.9 34.3h4.9v4.8h-4.9zM414.0 34.3h4.9v4.8h-4.9zM332.0 52.5h4.9v4.8h-4.9zM404.9 66.1h4.9v4.8h-4.9zM318.4 75.2h4.9v4.8h-4.9zM409.5 79.7h4.9v4.8h-4.9zM409.5 93.3h4.9v4.8h-4.9zM318.4 97.8h4.9v4.8h-4.9zM404.9 106.9h4.9v4.8h-4.9zM332.0 120.5h4.9v4.8h-4.9zM313.8 134.1h4.9v4.8h-4.9zM423.1 134.1h4.9v4.8h-4.9zM318.4 138.7h4.9v4.8h-4.9zM418.6 138.7h4.9v4.8h-4.9z"/>
<path fill="#6687ed" shape-rendering="crispEdges" d="M341.1 29.8h4.9v4.8h-4.9zM395.8 29.8h4.9v4.8h-4.9zM313.8 38.9h4.9v4.8h-4.9zM423.1 38.9h4.9v4.8h-4.9zM345.7 43.4h4.9v4.8h-4.9zM327.5 57.0h4.9v4.8h-4.9zM327.5 116.0h4.9v4.8h-4.9zM313.8 129.6h4.9v4.8h-4.9zM345.7 129.6h4.9v4.8h-4.9zM423.1 129.6h4.9v4.8h-4.9zM318.4 134.1h4.9v4.8h-4.9zM418.6 134.1h4.9v4.8h-4.9zM322.9 138.7h4.9v4.8h-4.9zM414.0 138.7h4.9v4.8h-4.9z"/>
<path fill="#6282ea" shape-rendering="crispEdges" d="M345.7 29.8h4.9v4.8h-4.9zM391.3 29.8h4.9v4.8h-4.9zM327.5 34.3h4.9v4.8h-4.9zM409.5 34.3h4.9v4.8h-4.9zM382.1 43.4h4.9v4.8h-4.9zM336.6 47.9h4.9v4.8h-4.9zM395.8 52.5h4.9v4.8h-4.9zM400.4 57.0h4.9v4.8h-4.9zM409.5 75.2h4.9v4.8h-4.9zM409.5 97.8h4.9v4.8h-4.9zM400.4 116.0h4.9v4.8h-4.9zM395.8 120.5h4.9v4.8h-4.9zM336.6 125.1h4.9v4.8h-4.9zM382.1 129.6h4.9v4.8h-4.9z"/>
<path fill="#5d7ce6" shape-rendering="crispEdges" d="M350.2 29.8h4.9v4.8h-4.9zM386.7 29.8h4.9v4.8h-4.9zM332.0 34.3h4.9v4.8h-4.9zM404.9 34.3h4.9v4.8h-4.9zM318.4 38.9h4.9v4.8h-4.9zM363.9 38.9h4.9v4.8h-4.9zM418.6 38.9h4.9v4.8h-4.9zM313.8 43.4h4.9v4.8h-4.9zM423.1 43.4h4.9v4.8h-4.9zM391.3 47.9h4.9v4.8h-4.9zM322.9 61.6h4.9v4.8h-4.9zM318.4 70.6h4.9v4.8h-4.9zM318.4 102.4h4.9v4.8h-4.9zM322.9 111.4h4.9v4.8h-4.9zM313.8 125.1h4.9v4.8h-4.9zM391.3 125.1h4.9v4.8h-4.9zM423.1 125.1h4.9v4.8h-4.9zM318.4 129.6h4.9v4.8h-4.9zM418.6 129.6h4.9v4.8h-4.9zM322.9 134.1h4.9v4.8h-4.9zM363.9 134.1h4.9v4.8h-4.9zM414.0 134.1h4.9v4.8h-4.9zM327.5 138.7h4.9v4.8h-4.9zM409.5 138.7h4.9v4.8h-4.9z"/>
<path fill="#5977e3" shape-rendering="crispEdges" d="M354.8 29.8h4.9v4.8h-4.9zM359.4 29.8h4.9v4.8h-4.9zM377.6 29.8h4.9v4.8h-4.9zM382.1 29.8h4.9v4.8h-4.9zM359.4 38.9h4.9v4.8h-4.9zM368.5 38.9h4.9v4.8h-4.9zM318.4 43.4h4.9v4.8h-4.9zM418.6 43.4h4.9v4.8h-4.9zM313.8 47.9h4.9v4.8h-4.9zM423.1 47.9h4.9v4.8h-4.9zM313.8 120.5h4.9v4.8h-4.9zM423.1 120.5h4.9v4.8h-4.9zM318.4 125.1h4.9v4.8h-4.9zM418.6 125.1h4.9v4.8h-4.9zM327.5 134.1h4.9v4.8h-4.9zM359.4 134.1h4.9v4.8h-4.9zM368.5 134.1h4.9v4.8h-4.9zM409.5 134.1h4.9v4.8h-4.9zM332.0 138.7h4.9v4.8h-4.9zM404.9 138.7h4.9v4.8h-4.9z"/>
<path fill="#5572df" shape-rendering="crispEdges" d="M363.9 29.8h4.9v4.8h-4.9zM368.5 29.8h4.9v4.8h-4.9zM373.0 29.8h4.9v4.8h-4.9zM336.6 34.3h4.9v4.8h-4.9zM400.4 34.3h4.9v4.8h-4.9zM322.9 38.9h4.9v4.8h-4.9zM354.8 38.9h4.9v4.8h-4.9zM373.0 38.9h4.9v4.8h-4.9zM414.0 38.9h4.9v4.8h-4.9zM341.1 43.4h4.9v4.8h-4.9zM313.8 52.5h4.9v4.8h-4.9zM423.1 52.5h4.9v4.8h-4.9zM404.9 61.6h4.9v4.8h-4.9zM409.5 70.6h4.9v4.8h-4.9zM409.5 102.4h4.9v4.8h-4.9zM404.9 111.4h4.9v4.8h-4.9zM313.8 116.0h4.9v4.8h-4.9zM423.1 116.0h4.9v4.8h-4.9zM322.9 129.6h4.9v4.8h-4.9zM341.1 129.6h4.9v4.8h-4.9zM414.0 129.6h4.9v4.8h-4.9zM354.8 134.1h4.9v4.8h-4.9zM373.0 134.1h4.9v4.8h-4.9zM336.6 138.7h4.9v4.8h-4.9zM400.4 138.7h4.9v4.8h-4.9z"/>
<path fill="#779af7" shape-rendering="crispEdges" d="M313.8 34.3h4.9v4.8h-4.9zM423.1 34.3h4.9v4.8h-4.9zM350.2 43.4h4.9v4.8h-4.9zM386.7 47.9h4.9v4.8h-4.9zM318.4 84.2h4.9v4.8h-4.9zM318.4 88.8h4.9v4.8h-4.9zM386.7 125.1h4.9v4.8h-4.9zM350.2 129.6h4.9v4.8h-4.9z"/>
<path fill="#516ddb" shape-rendering="crispEdges" d="M341.1 34.3h4.9v4.8h-4.9zM359.4 34.3h4.9v4.8h-4.9zM363.9 34.3h4.9v4.8h-4.9zM368.5 34.3h4.9v4.8h-4.9zM395.8 34.3h4.9v4.8h-4.9zM327.5 38.9h4.9v4.8h-4.9zM350.2 38.9h4.9v4.8h-4.9zM409.5 38.9h4.9v4.8h-4.9zM322.9 43.4h4.9v4.8h-4.9zM386.7 43.4h4.9v4.8h-4.9zM414.0 43.4h4.9v4.8h-4.9zM318.4 47.9h4.9v4.8h-4.9zM418.6 47.9h4.9v4.8h-4.9zM327.5 52.5h4.9v4.8h-4.9zM313.8 57.0h4.9v4.8h-4.9zM423.1 57.0h4.9v4.8h-4.9zM318.4 66.1h4.9v4.8h-4.9zM313.8 88.8h4.9v4.8h-4.9zM318.4 106.9h4.9v4.8h-4.9zM313.8 111.4h4.9v4.8h-4.9zM423.1 111.4h4.9v4.8h-4.9zM318.4 120.5h4.9v4.8h-4.9zM327.5 120.5h4.9v4.8h-4.9zM418.6 120.5h4.9v4.8h-4.9zM322.9 125.1h4.9v4.8h-4.9zM414.0 125.1h4.9v4.8h-4.9zM327.5 129.6h4.9v4.8h-4.9zM386.7 129.6h4.9v4.8h-4.9zM409.5 129.6h4.9v4.8h-4.9zM332.0 134.1h4.9v4.8h-4.9zM350.2 134.1h4.9v4.8h-4.9zM404.9 134.1h4.9v4.8h-4.9zM341.1 138.7h4.9v4.8h-4.9zM395.8 138.7h4.9v4.8h-4.9z"/>
<path fill="#4e68d8" shape-rendering="crispEdges" d="M345.7 34.3h4.9v4.8h-4.9zM350.2 34.3h4.9v4.8h-4.9zM354.8 34.3h4.9v4.8h-4.9zM373.0 34.3h4.9v4.8h-4.9zM377.6 34.3h4.9v4.8h-4.9zM382.1 34.3h4.9v4.8h-4.9zM386.7 34.3h4.9v4.8h-4.9zM391.3 34.3h4.9v4.8h-4.9zM377.6 38.9h4.9v4.8h-4.9zM332.0 47.9h4.9v4.8h-4.9zM395.8 47.9h4.9v4.8h-4.9zM318.4 52.5h4.9v4.8h-4.9zM400.4 52.5h4.9v4.8h-4.9zM418.6 52.5h4.9v4.8h-4.9zM322.9 57.0h4.9v4.8h-4.9zM313.8 61.6h4.9v4.8h-4.9zM423.1 61.6h4.9v4.8h-4.9zM409.5 66.1h4.9v4.8h-4.9zM313.8 75.2h4.9v4.8h-4.9zM313.8 79.7h4.9v4.8h-4.9zM313.8 84.2h4.9v4.8h-4.9zM313.8 93.3h4.9v4.8h-4.9zM313.8 97.8h4.9v4.8h-4.9zM313.8 102.4h4.9v4.8h-4.9zM313.8 106.9h4.9v4.8h-4.9zM409.5 106.9h4.9v4.8h-4.9zM423.1 106.9h4.9v4.8h-4.9zM318.4 111.4h4.9v4.8h-4.9zM318.4 116.0h4.9v4.8h-4.9zM322.9 116.0h4.9v4.8h-4.9zM418.6 116.0h4.9v4.8h-4.9zM322.9 120.5h4.9v4.8h-4.9zM400.4 120.5h4.9v4.8h-4.9zM327.5 125.1h4.9v4.8h-4.9zM332.0 125.1h4.9v4.8h-4.9zM395.8 125.1h4.9v4.8h-4.9zM332.0 129.6h4.9v4.8h-4.9zM336.6 129.6h4.9v4.8h-4.9zM336.6 134.1h4.9v4.8h-4.9zM377.6 134.1h4.9v4.8h-4.9zM400.4 134.1h4.9v4.8h-4.9zM345.7 138.7h4.9v4.8h-4.9zM391.3 138.7h4.9v4.8h-4.9z"/>
<path fill="#4961d2" shape-rendering="crispEdges" d="M332.0 38.9h4.9v4.8h-4.9zM345.7 38.9h4.9v4.8h-4.9zM382.1 38.9h4.9v4.8h-4.9zM404.9 38.9h4.9v4.8h-4.9zM327.5 43.4h4.9v4.8h-4.9zM336.6 43.4h4.9v4.8h-4.9zM391.3 43.4h4.9v4.8h-4.9zM409.5 43.4h4.9v4.8h-4.9zM322.9 47.9h4.9v4.8h-4.9zM414.0 47.9h4.9v4.8h-4.9zM318.4 57.0h4.9v4.8h-4.9zM404.9 57.0h4.9v4.8h-4.9zM418.6 57.0h4.9v4.8h-4.9zM318.4 61.6h4.9v4.8h-4.9zM313.8 66.1h4.9v4.8h-4.9zM423.1 66.1h4.9v4.8h-4.9zM313.8 70.6h4.9v4.8h-4.9zM414.0 75.2h4.9v4.8h-4.9zM414.0 79.7h4.9v4.8h-4.9zM414.0 84.2h4.9v4.8h-4.9zM414.0 88.8h4.9v4.8h-4.9zM414.0 93.3h4.9v4.8h-4.9zM414.0 97.8h4.9v4.8h-4.9zM423.1 102.4h4.9v4.8h-4.9zM418.6 111.4h4.9v4.8h-4.9zM404.9 116.0h4.9v4.8h-4.9zM414.0 120.5h4.9v4.8h-4.9zM409.5 125.1h4.9v4.8h-4.9zM391.3 129.6h4.9v4.8h-4.9zM404.9 129.6h4.9v4.8h-4.9zM341.1 134.1h4.9v4.8h-4.9zM345.7 134.1h4.9v4.8h-4.9zM382.1 134.1h4.9v4.8h-4.9zM395.8 134.1h4.9v4.8h-4.9zM350.2 138.7h4.9v4.8h-4.9zM354.8 138.7h4.9v4.8h-4.9zM359.4 138.7h4.9v4.8h-4.9zM386.7 138.7h4.9v4.8h-4.9z"/>
<path fill="#455cce" shape-rendering="crispEdges" d="M336.6 38.9h4.9v4.8h-4.9zM341.1 38.9h4.9v4.8h-4.9zM386.7 38.9h4.9v4.8h-4.9zM391.3 38.9h4.9v4.8h-4.9zM400.4 38.9h4.9v4.8h-4.9zM332.0 43.4h4.9v4.8h-4.9zM395.8 43.4h4.9v4.8h-4.9zM404.9 43.4h4.9v4.8h-4.9zM327.5 47.9h4.9v4.8h-4.9zM400.4 47.9h4.9v4.8h-4.9zM409.5 47.9h4.9v4.8h-4.9zM322.9 52.5h4.9v4.8h-4.9zM404.9 52.5h4.9v4.8h-4.9zM414.0 52.5h4.9v4.8h-4.9zM409.5 57.0h4.9v4.8h-4.9zM409.5 61.6h4.9v4.8h-4.9zM418.6 61.6h4.9v4.8h-4.9zM414.0 66.1h4.9v4.8h-4.9zM414.0 70.6h4.9v4.8h-4.9zM423.1 70.6h4.9v4.8h-4.9zM423.1 75.2h4.9v4.8h-4.9zM418.6 79.7h4.9v4.8h-4.9zM423.1 79.7h4.9v4.8h-4.9zM418.6 84.2h4.9v4.8h-4.9zM418.6 88.8h4.9v4.8h-4.9zM423.1 88.8h4.9v4.8h-4.9zM418.6 93.3h4.9v4.8h-4.9zM423.1 93.3h4.9v4.8h-4.9zM423.1 97.8h4.9v4.8h-4.9zM414.0 102.4h4.9v4.8h-4.9zM414.0 106.9h4.9v4.8h-4.9zM418.6 106.9h4.9v4.8h-4.9zM409.5 111.4h4.9v4.8h-4.9zM409.5 116.0h4.9v4.8h-4.9zM414.0 116.0h4.9v4.8h-4.9zM404.9 120.5h4.9v4.8h-4.9zM409.5 120.5h4.9v4.8h-4.9zM400.4 125.1h4.9v4.8h-4.9zM404.9 125.1h4.9v4.8h-4.9zM395.8 129.6h4.9v4.8h-4.9zM400.4 129.6h4.9v4.8h-4.9zM386.7 134.1h4.9v4.8h-4.9zM391.3 134.1h4.9v4.8h-4.9zM363.9 138.7h4.9v4.8h-4.9zM368.5 138.7h4.9v4.8h-4.9zM373.0 138.7h4.9v4.8h-4.9zM377.6 138.7h4.9v4.8h-4.9zM382.1 138.7h4.9v4.8h-4.9z"/>
<path fill="#4257c9" shape-rendering="crispEdges" d="M395.8 38.9h4.9v4.8h-4.9zM400.4 43.4h4.9v4.8h-4.9zM404.9 47.9h4.9v4.8h-4.9zM409.5 52.5h4.9v4.8h-4.9zM414.0 57.0h4.9v4.8h-4.9zM414.0 61.6h4.9v4.8h-4.9zM418.6 66.1h4.9v4.8h-4.9zM418.6 70.6h4.9v4.8h-4.9zM418.6 75.2h4.9v4.8h-4.9zM423.1 84.2h4.9v4.8h-4.9zM418.6 97.8h4.9v4.8h-4.9zM418.6 102.4h4.9v4.8h-4.9zM414.0 111.4h4.9v4.8h-4.9z"/>
<path fill="#84a7fc" shape-rendering="crispEdges" d="M354.8 43.4h4.9v4.8h-4.9zM391.3 52.5h4.9v4.8h-4.9zM395.8 57.0h4.9v4.8h-4.9zM327.5 61.6h4.9v4.8h-4.9zM327.5 111.4h4.9v4.8h-4.9zM395.8 116.0h4.9v4.8h-4.9zM391.3 120.5h4.9v4.8h-4.9zM354.8 129.6h4.9v4.8h-4.9z"/>
<path fill="#8db0fe" shape-rendering="crispEdges" d="M363.9 43.4h4.9v4.8h-4.9zM332.0 57.0h4.9v4.8h-4.9zM332.0 116.0h4.9v4.8h-4.9zM363.9 129.6h4.9v4.8h-4.9z"/>
<path fill="#92b4fe" shape-rendering="crispEdges" d="M345.7 47.9h4.9v4.8h-4.9zM382.1 47.9h4.9v4.8h-4.9zM404.9 75.2h4.9v4.8h-4.9zM404.9 97.8h4.9v4.8h-4.9zM345.7 125.1h4.9v4.8h-4.9zM382.1 125.1h4.9v4.8h-4.9z"/>
<path fill="#a3c2fe" shape-rendering="crispEdges" d="M350.2 47.9h4.9v4.8h-4.9zM377.6 47.9h4.9v4.8h-4.9zM341.1 52.5h4.9v4.8h-4.9zM386.7 52.5h4.9v4.8h-4.9zM395.8 61.6h4.9v4.8h-4.9zM322.9 79.7h4.9v4.8h-4.9zM322.9 93.3h4.9v4.8h-4.9zM395.8 111.4h4.9v4.8h-4.9zM341.1 120.5h4.9v4.8h-4.9zM350.2 125.1h4.9v4.8h-4.9z"/>
<path fill="#abc8fd" shape-rendering="crispEdges" d="M354.8 47.9h4.9v4.8h-4.9zM373.0 47.9h4.9v4.8h-4.9zM336.6 57.0h4.9v4.8h-4.9zM336.6 116.0h4.9v4.8h-4.9zM354.8 125.1h4.9v4.8h-4.9zM373.0 125.1h4.9v4.8h-4.9z"/>
<path fill="#b3cdfb" shape-rendering="crispEdges" d="M359.4 47.9h4.9v4.8h-4.9zM363.9 47.9h4.9v4.8h-4.9zM368.5 47.9h4.9v4.8h-4.9zM382.1 52.5h4.9v4.8h-4.9zM400.4 75.2h4.9v4.8h-4.9zM400.4 97.8h4.9v4.8h-4.9zM382.1 120.5h4.9v4.8h-4.9zM359.4 125.1h4.9v4.8h-4.9zM363.9 125.1h4.9v4.8h-4.9zM368.5 125.1h4.9v4.8h-4.9z"/>
<path fill="#b9d0f9" shape-rendering="crispEdges" d="M345.7 52.5h4.9v4.8h-4.9zM395.8 66.1h4.9v4.8h-4.9zM395.8 106.9h4.9v4.8h-4.9zM345.7 120.5h4.9v4.8h-4.9z"/>
<path fill="#c7d7f0" shape-rendering="crispEdges" d="M350.2 52.5h4.9v4.8h-4.9zM377.6 52.5h4.9v4.8h-4.9zM336.6 61.6h4.9v4.8h-4.9zM327.5 79.7h4.9v4.8h-4.9zM327.5 93.3h4.9v4.8h-4.9zM336.6 111.4h4.9v4.8h-4.9zM350.2 120.5h4.9v4.8h-4.9z"/>
<path fill="#d6dce4" shape-rendering="crispEdges" d="M354.8 52.5h4.9v4.8h-4.9zM332.0 70.6h4.9v4.8h-4.9zM332.0 102.4h4.9v4.8h-4.9zM382.1 116.0h4.9v4.8h-4.9z"/>
<path fill="#dddcdc" shape-rendering="crispEdges" d="M359.4 52.5h4.9v4.8h-4.9zM368.5 52.5h4.9v4.8h-4.9zM345.7 57.0h4.9v4.8h-4.9zM382.1 57.0h4.9v4.8h-4.9zM391.3 66.1h4.9v4.8h-4.9zM395.8 97.8h4.9v4.8h-4.9zM391.3 106.9h4.9v4.8h-4.9zM345.7 116.0h4.9v4.8h-4.9zM359.4 120.5h4.9v4.8h-4.9zM368.5 120.5h4.9v4.8h-4.9z"/>
<path fill="#e0dbd8" shape-rendering="crispEdges" d="M363.9 52.5h4.9v4.8h-4.9zM395.8 75.2h4.9v4.8h-4.9zM386.7 111.4h4.9v4.8h-4.9zM363.9 120.5h4.9v4.8h-4.9z"/>
<path fill="#d3dbe7" shape-rendering="crispEdges" d="M373.0 52.5h4.9v4.8h-4.9zM354.8 120.5h4.9v4.8h-4.9zM373.0 120.5h4.9v4.8h-4.9z"/>
<path fill="#c4d5f3" shape-rendering="crispEdges" d="M341.1 57.0h4.9v4.8h-4.9zM400.4 84.2h4.9v4.8h-4.9zM400.4 88.8h4.9v4.8h-4.9zM341.1 116.0h4.9v4.8h-4.9zM377.6 120.5h4.9v4.8h-4.9z"/>
<path fill="#eed0c0" shape-rendering="crispEdges" d="M350.2 57.0h4.9v4.8h-4.9zM377.6 57.0h4.9v4.8h-4.9zM395.8 84.2h4.9v4.8h-4.9zM395.8 88.8h4.9v4.8h-4.9zM350.2 116.0h4.9v4.8h-4.9z"/>
<path fill="#f5c4ac" shape-rendering="crispEdges" d="M354.8 57.0h4.9v4.8h-4.9zM373.0 57.0h4.9v4.8h-4.9zM336.6 70.6h4.9v4.8h-4.9zM332.0 88.8h4.9v4.8h-4.9zM336.6 102.4h4.9v4.8h-4.9zM386.7 106.9h4.9v4.8h-4.9zM354.8 116.0h4.9v4.8h-4.9zM373.0 116.0h4.9v4.8h-4.9z"/>
<path fill="#f7b99e" shape-rendering="crispEdges" d="M359.4 57.0h4.9v4.8h-4.9zM368.5 57.0h4.9v4.8h-4.9zM391.3 97.8h4.9v4.8h-4.9zM359.4 116.0h4.9v4.8h-4.9zM363.9 116.0h4.9v4.8h-4.9z"/>
<path fill="#f7b599" shape-rendering="crispEdges" d="M363.9 57.0h4.9v4.8h-4.9zM391.3 75.2h4.9v4.8h-4.9z"/>
<path fill="#c0d4f5" shape-rendering="crispEdges" d="M386.7 57.0h4.9v4.8h-4.9zM391.3 61.6h4.9v4.8h-4.9zM332.0 66.1h4.9v4.8h-4.9zM400.4 79.7h4.9v4.8h-4.9zM400.4 93.3h4.9v4.8h-4.9zM327.5 97.8h4.9v4.8h-4.9zM332.0 106.9h4.9v4.8h-4.9zM391.3 111.4h4.9v4.8h-4.9zM386.7 116.0h4.9v4.8h-4.9z"/>
<path fill="#a7c5fe" shape-rendering="crispEdges" d="M391.3 57.0h4.9v4.8h-4.9zM332.0 61.6h4.9v4.8h-4.9zM400.4 70.6h4.9v4.8h-4.9zM322.9 84.2h4.9v4.8h-4.9zM322.9 88.8h4.9v4.8h-4.9zM400.4 102.4h4.9v4.8h-4.9zM332.0 111.4h4.9v4.8h-4.9zM391.3 116.0h4.9v4.8h-4.9z"/>
<path fill="#e3d9d3" shape-rendering="crispEdges" d="M341.1 61.6h4.9v4.8h-4.9zM386.7 61.6h4.9v4.8h-4.9zM336.6 66.1h4.9v4.8h-4.9zM336.6 106.9h4.9v4.8h-4.9z"/>
<path fill="#f5c0a7" shape-rendering="crispEdges" d="M345.7 61.6h4.9v4.8h-4.9zM345.7 111.4h4.9v4.8h-4.9z"/>
<path fill="#f7a889" shape-rendering="crispEdges" d="M350.2 61.6h4.9v4.8h-4.9zM391.3 79.7h4.9v4.8h-4.9zM391.3 93.3h4.9v4.8h-4.9zM350.2 111.4h4.9v4.8h-4.9z"/>
<path fill="#f4987a" shape-rendering="crispEdges" d="M354.8 61.6h4.9v4.8h-4.9zM386.7 70.6h4.9v4.8h-4.9zM336.6 79.7h4.9v4.8h-4.9zM336.6 93.3h4.9v4.8h-4.9zM341.1 102.4h4.9v4.8h-4.9zM345.7 106.9h4.9v4.8h-4.9zM354.8 111.4h4.9v4.8h-4.9zM373.0 111.4h4.9v4.8h-4.9z"/>
<path fill="#f18f71" shape-rendering="crispEdges" d="M359.4 61.6h4.9v4.8h-4.9zM382.1 66.1h4.9v4.8h-4.9zM336.6 84.2h4.9v4.8h-4.9zM336.6 88.8h4.9v4.8h-4.9zM359.4 111.4h4.9v4.8h-4.9zM363.9 111.4h4.9v4.8h-4.9zM368.5 111.4h4.9v4.8h-4.9z"/>
<path fill="#f08a6c" shape-rendering="crispEdges" d="M363.9 61.6h4.9v4.8h-4.9zM368.5 61.6h4.9v4.8h-4.9zM386.7 97.8h4.9v4.8h-4.9z"/>
<path fill="#f39475" shape-rendering="crispEdges" d="M373.0 61.6h4.9v4.8h-4.9z"/>
<path fill="#f6a385" shape-rendering="crispEdges" d="M377.6 61.6h4.9v4.8h-4.9zM386.7 102.4h4.9v4.8h-4.9z"/>
<path fill="#f6bda2" shape-rendering="crispEdges" d="M382.1 61.6h4.9v4.8h-4.9zM341.1 66.1h4.9v4.8h-4.9zM386.7 66.1h4.9v4.8h-4.9zM341.1 106.9h4.9v4.8h-4.9zM368.5 116.0h4.9v4.8h-4.9z"/>
<path fill="#9ebeff" shape-rendering="crispEdges" d="M327.5 66.1h4.9v4.8h-4.9zM404.9 84.2h4.9v4.8h-4.9zM404.9 88.8h4.9v4.8h-4.9zM327.5 106.9h4.9v4.8h-4.9zM386.7 120.5h4.9v4.8h-4.9zM377.6 125.1h4.9v4.8h-4.9z"/>
<path fill="#f59f80" shape-rendering="crispEdges" d="M345.7 66.1h4.9v4.8h-4.9zM341.1 70.6h4.9v4.8h-4.9zM391.3 84.2h4.9v4.8h-4.9zM391.3 88.8h4.9v4.8h-4.9zM382.1 106.9h4.9v4.8h-4.9z"/>
<path fill="#ee8468" shape-rendering="crispEdges" d="M350.2 66.1h4.9v4.8h-4.9zM341.1 75.2h4.9v4.8h-4.9zM350.2 106.9h4.9v4.8h-4.9zM377.6 106.9h4.9v4.8h-4.9z"/>
<path fill="#e9785d" shape-rendering="crispEdges" d="M354.8 66.1h4.9v4.8h-4.9zM386.7 93.3h4.9v4.8h-4.9zM345.7 102.4h4.9v4.8h-4.9zM354.8 106.9h4.9v4.8h-4.9zM373.0 106.9h4.9v4.8h-4.9z"/>
<path fill="#e67259" shape-rendering="crispEdges" d="M359.4 66.1h4.9v4.8h-4.9zM377.6 66.1h4.9v4.8h-4.9zM359.4 106.9h4.9v4.8h-4.9zM363.9 106.9h4.9v4.8h-4.9zM368.5 106.9h4.9v4.8h-4.9z"/>
<path fill="#e36c55" shape-rendering="crispEdges" d="M363.9 66.1h4.9v4.8h-4.9zM368.5 66.1h4.9v4.8h-4.9zM373.0 66.1h4.9v4.8h-4.9zM350.2 70.6h4.9v4.8h-4.9zM341.1 79.7h4.9v4.8h-4.9zM386.7 79.7h4.9v4.8h-4.9zM359.4 84.2h4.9v4.8h-4.9zM359.4 88.8h4.9v4.8h-4.9zM363.9 88.8h4.9v4.8h-4.9zM386.7 88.8h4.9v4.8h-4.9zM359.4 93.3h4.9v4.8h-4.9zM363.9 93.3h4.9v4.8h-4.9zM359.4 97.8h4.9v4.8h-4.9zM350.2 102.4h4.9v4.8h-4.9zM354.8 102.4h4.9v4.8h-4.9zM359.4 102.4h4.9v4.8h-4.9z"/>
<path fill="#96b7ff" shape-rendering="crispEdges" d="M400.4 66.1h4.9v4.8h-4.9zM400.4 106.9h4.9v4.8h-4.9z"/>
<path fill="#afcafc" shape-rendering="crispEdges" d="M327.5 70.6h4.9v4.8h-4.9zM327.5 102.4h4.9v4.8h-4.9z"/>
<path fill="#eb7d62" shape-rendering="crispEdges" d="M345.7 70.6h4.9v4.8h-4.9zM386.7 75.2h4.9v4.8h-4.9zM341.1 97.8h4.9v4.8h-4.9zM382.1 102.4h4.9v4.8h-4.9z"/>
<path fill="#e16751" shape-rendering="crispEdges" d="M354.8 70.6h4.9v4.8h-4.9zM359.4 70.6h4.9v4.8h-4.9zM382.1 70.6h4.9v4.8h-4.9zM345.7 75.2h4.9v4.8h-4.9zM359.4 75.2h4.9v4.8h-4.9zM359.4 79.7h4.9v4.8h-4.9zM363.9 79.7h4.9v4.8h-4.9zM354.8 84.2h4.9v4.8h-4.9zM363.9 84.2h4.9v4.8h-4.9zM386.7 84.2h4.9v4.8h-4.9zM354.8 88.8h4.9v4.8h-4.9zM341.1 93.3h4.9v4.8h-4.9zM354.8 93.3h4.9v4.8h-4.9zM354.8 97.8h4.9v4.8h-4.9zM363.9 97.8h4.9v4.8h-4.9zM382.1 97.8h4.9v4.8h-4.9zM363.9 102.4h4.9v4.8h-4.9zM368.5 102.4h4.9v4.8h-4.9zM377.6 102.4h4.9v4.8h-4.9z"/>
<path fill="#dd5f4b" shape-rendering="crispEdges" d="M363.9 70.6h4.9v4.8h-4.9zM350.2 75.2h4.9v4.8h-4.9zM354.8 75.2h4.9v4.8h-4.9zM363.9 75.2h4.9v4.8h-4.9zM354.8 79.7h4.9v4.8h-4.9zM341.1 84.2h4.9v4.8h-4.9zM341.1 88.8h4.9v4.8h-4.9zM368.5 93.3h4.9v4.8h-4.9zM345.7 97.8h4.9v4.8h-4.9zM350.2 97.8h4.9v4.8h-4.9zM368.5 97.8h4.9v4.8h-4.9zM373.0 102.4h4.9v4.8h-4.9z"/>
<path fill="#d95847" shape-rendering="crispEdges" d="M368.5 70.6h4.9v4.8h-4.9zM345.7 79.7h4.9v4.8h-4.9zM350.2 79.7h4.9v4.8h-4.9zM368.5 84.2h4.9v4.8h-4.9zM368.5 88.8h4.9v4.8h-4.9zM350.2 93.3h4.9v4.8h-4.9z"/>
<path fill="#d65244" shape-rendering="crispEdges" d="M373.0 70.6h4.9v4.8h-4.9zM368.5 75.2h4.9v4.8h-4.9zM368.5 79.7h4.9v4.8h-4.9zM345.7 84.2h4.9v4.8h-4.9zM350.2 84.2h4.9v4.8h-4.9zM350.2 88.8h4.9v4.8h-4.9zM345.7 93.3h4.9v4.8h-4.9zM382.1 93.3h4.9v4.8h-4.9zM373.0 97.8h4.9v4.8h-4.9zM377.6 97.8h4.9v4.8h-4.9z"/>
<path fill="#d24b40" shape-rendering="crispEdges" d="M377.6 70.6h4.9v4.8h-4.9zM382.1 75.2h4.9v4.8h-4.9zM345.7 88.8h4.9v4.8h-4.9zM373.0 93.3h4.9v4.8h-4.9z"/>
<path fill="#f2cbb7" shape-rendering="crispEdges" d="M391.3 70.6h4.9v4.8h-4.9zM332.0 93.3h4.9v4.8h-4.9z"/>
<path fill="#cfdaea" shape-rendering="crispEdges" d="M395.8 70.6h4.9v4.8h-4.9zM327.5 84.2h4.9v4.8h-4.9zM327.5 88.8h4.9v4.8h-4.9z"/>
<path fill="#9abbff" shape-rendering="crispEdges" d="M322.9 75.2h4.9v4.8h-4.9zM404.9 79.7h4.9v4.8h-4.9zM404.9 93.3h4.9v4.8h-4.9zM322.9 97.8h4.9v4.8h-4.9z"/>
<path fill="#bcd2f7" shape-rendering="crispEdges" d="M327.5 75.2h4.9v4.8h-4.9z"/>
<path fill="#e6d7cf" shape-rendering="crispEdges" d="M332.0 75.2h4.9v4.8h-4.9zM341.1 111.4h4.9v4.8h-4.9z"/>
<path fill="#f7ac8e" shape-rendering="crispEdges" d="M336.6 75.2h4.9v4.8h-4.9zM336.6 97.8h4.9v4.8h-4.9zM377.6 111.4h4.9v4.8h-4.9z"/>
<path fill="#cf453c" shape-rendering="crispEdges" d="M373.0 75.2h4.9v4.8h-4.9zM373.0 88.8h4.9v4.8h-4.9zM382.1 88.8h4.9v4.8h-4.9zM377.6 93.3h4.9v4.8h-4.9z"/>
<path fill="#c53334" shape-rendering="crispEdges" d="M377.6 75.2h4.9v4.8h-4.9zM377.6 88.8h4.9v4.8h-4.9z"/>
<path fill="#f0cdbb" shape-rendering="crispEdges" d="M332.0 79.7h4.9v4.8h-4.9zM391.3 102.4h4.9v4.8h-4.9z"/>
<path fill="#ca3b37" shape-rendering="crispEdges" d="M373.0 79.7h4.9v4.8h-4.9zM382.1 79.7h4.9v4.8h-4.9zM373.0 84.2h4.9v4.8h-4.9zM382.1 84.2h4.9v4.8h-4.9z"/>
<path fill="#c12b30" shape-rendering="crispEdges" d="M377.6 79.7h4.9v4.8h-4.9zM377.6 84.2h4.9v4.8h-4.9z"/>
<path fill="#e9d5cb" shape-rendering="crispEdges" d="M395.8 79.7h4.9v4.8h-4.9zM395.8 93.3h4.9v4.8h-4.9zM332.0 97.8h4.9v4.8h-4.9z"/>
<path fill="#f3c8b2" shape-rendering="crispEdges" d="M332.0 84.2h4.9v4.8h-4.9zM382.1 111.4h4.9v4.8h-4.9z"/>
<path fill="#ccd9ed" shape-rendering="crispEdges" d="M395.8 102.4h4.9v4.8h-4.9z"/>
<path fill="#ecd3c5" shape-rendering="crispEdges" d="M377.6 116.0h4.9v4.8h-4.9z"/>
<path fill="#e36c55" shape-rendering="crispEdges" d="M434.7 29.8h4.8v4.8h-4.8zM443.8 29.8h4.8v4.8h-4.8zM434.7 43.4h4.8v4.8h-4.8zM493.8 79.7h4.8v4.8h-4.8zM493.8 88.8h4.8v4.8h-4.8z"/>
<path fill="#e16751" shape-rendering="crispEdges" d="M439.2 29.8h4.8v4.8h-4.8zM439.2 43.4h4.8v4.8h-4.8zM498.3 75.2h4.8v4.8h-4.8zM502.9 75.2h4.8v4.8h-4.8zM493.8 84.2h4.8v4.8h-4.8zM507.4 93.3h4.8v4.8h-4.8z"/>
<path fill="#eb7d62" shape-rendering="crispEdges" d="M448.3 29.8h4.8v4.8h-4.8zM434.7 47.9h4.8v4.8h-4.8zM439.2 47.9h4.8v4.8h-4.8zM489.2 79.7h4.8v4.8h-4.8zM511.9 84.2h4.8v4.8h-4.8zM511.9 88.8h4.8v4.8h-4.8zM489.2 93.3h4.8v4.8h-4.8zM493.8 97.8h4.8v4.8h-4.8z"/>
<path fill="#f18f71" shape-rendering="crispEdges" d="M452.9 29.8h4.8v4.8h-4.8zM489.2 70.6h4.8v4.8h-4.8zM480.1 75.2h4.8v4.8h-4.8zM475.6 79.7h4.8v4.8h-4.8zM475.6 84.2h4.8v4.8h-4.8zM475.6 88.8h4.8v4.8h-4.8zM434.7 134.1h4.8v4.8h-4.8zM443.8 138.7h4.8v4.8h-4.8z"/>
<path fill="#f7a889" shape-rendering="crispEdges" d="M457.4 29.8h4.8v4.8h-4.8zM484.7 66.1h4.8v4.8h-4.8zM475.6 70.6h4.8v4.8h-4.8zM471.1 75.2h4.8v4.8h-4.8zM443.8 134.1h4.8v4.8h-4.8zM452.9 138.7h4.8v4.8h-4.8z"/>
<path fill="#f6bda2" shape-rendering="crispEdges" d="M462.0 29.8h4.8v4.8h-4.8zM543.8 66.1h4.8v4.8h-4.8zM516.5 88.8h4.8v4.8h-4.8zM480.1 106.9h4.8v4.8h-4.8z"/>
<path fill="#f0cdbb" shape-rendering="crispEdges" d="M466.5 29.8h4.8v4.8h-4.8zM539.2 57.0h4.8v4.8h-4.8zM498.3 61.6h4.8v4.8h-4.8z"/>
<path fill="#e6d7cf" shape-rendering="crispEdges" d="M471.1 29.8h4.8v4.8h-4.8zM534.7 34.3h4.8v4.8h-4.8zM534.7 47.9h4.8v4.8h-4.8zM466.5 70.6h4.8v4.8h-4.8zM543.8 75.2h4.8v4.8h-4.8zM543.8 120.5h4.8v4.8h-4.8zM457.4 134.1h4.8v4.8h-4.8zM539.2 134.1h4.8v4.8h-4.8zM525.6 138.7h4.8v4.8h-4.8z"/>
<path fill="#d6dce4" shape-rendering="crispEdges" d="M475.6 29.8h4.8v4.8h-4.8zM507.4 29.8h4.8v4.8h-4.8zM539.2 34.3h4.8v4.8h-4.8zM462.0 38.9h4.8v4.8h-4.8zM534.7 52.5h4.8v4.8h-4.8zM443.8 57.0h4.8v4.8h-4.8zM516.5 138.7h4.8v4.8h-4.8zM539.2 138.7h4.8v4.8h-4.8z"/>
<path fill="#ccd9ed" shape-rendering="crispEdges" d="M480.1 29.8h4.8v4.8h-4.8zM502.9 29.8h4.8v4.8h-4.8zM543.8 84.2h4.8v4.8h-4.8zM543.8 102.4h4.8v4.8h-4.8zM534.7 120.5h4.8v4.8h-4.8zM462.0 134.1h4.8v4.8h-4.8z"/>
<path fill="#c4d5f3" shape-rendering="crispEdges" d="M484.7 29.8h4.8v4.8h-4.8zM498.3 29.8h4.8v4.8h-4.8zM521.0 38.9h4.8v4.8h-4.8zM493.8 57.0h4.8v4.8h-4.8zM516.5 70.6h4.8v4.8h-4.8zM521.0 88.8h4.8v4.8h-4.8zM543.8 88.8h4.8v4.8h-4.8zM543.8 97.8h4.8v4.8h-4.8zM443.8 116.0h4.8v4.8h-4.8z"/>
<path fill="#c0d4f5" shape-rendering="crispEdges" d="M489.2 29.8h4.8v4.8h-4.8zM493.8 29.8h4.8v4.8h-4.8zM539.2 29.8h4.8v4.8h-4.8zM471.1 34.3h4.8v4.8h-4.8zM511.9 34.3h4.8v4.8h-4.8zM530.1 47.9h4.8v4.8h-4.8zM484.7 57.0h4.8v4.8h-4.8zM507.4 61.6h4.8v4.8h-4.8zM466.5 66.1h4.8v4.8h-4.8zM434.7 75.2h4.8v4.8h-4.8zM543.8 93.3h4.8v4.8h-4.8zM439.2 106.9h4.8v4.8h-4.8z"/>
<path fill="#dddcdc" shape-rendering="crispEdges" d="M511.9 29.8h4.8v4.8h-4.8zM466.5 34.3h4.8v4.8h-4.8zM521.0 34.3h4.8v4.8h-4.8zM439.2 61.6h4.8v4.8h-4.8zM434.7 102.4h4.8v4.8h-4.8zM543.8 111.4h4.8v4.8h-4.8z"/>
<path fill="#e0dbd8" shape-rendering="crispEdges" d="M516.5 29.8h4.8v4.8h-4.8zM521.0 29.8h4.8v4.8h-4.8zM534.7 29.8h4.8v4.8h-4.8zM525.6 34.3h4.8v4.8h-4.8zM462.0 93.3h4.8v4.8h-4.8zM516.5 97.8h4.8v4.8h-4.8zM439.2 111.4h4.8v4.8h-4.8zM480.1 111.4h4.8v4.8h-4.8zM543.8 116.0h4.8v4.8h-4.8zM539.2 120.5h4.8v4.8h-4.8zM525.6 134.1h4.8v4.8h-4.8zM521.0 138.7h4.8v4.8h-4.8z"/>
<path fill="#e3d9d3" shape-rendering="crispEdges" d="M525.6 29.8h4.8v4.8h-4.8zM530.1 29.8h4.8v4.8h-4.8zM530.1 34.3h4.8v4.8h-4.8zM530.1 38.9h4.8v4.8h-4.8zM502.9 61.6h4.8v4.8h-4.8zM539.2 61.6h4.8v4.8h-4.8zM434.7 66.1h4.8v4.8h-4.8zM462.0 79.7h4.8v4.8h-4.8zM498.3 111.4h4.8v4.8h-4.8zM443.8 120.5h4.8v4.8h-4.8zM534.7 125.1h4.8v4.8h-4.8zM530.1 129.6h4.8v4.8h-4.8z"/>
<path fill="#7b9ff9" shape-rendering="crispEdges" d="M543.8 29.8h4.8v4.8h-4.8zM489.2 34.3h4.8v4.8h-4.8zM443.8 66.1h4.8v4.8h-4.8zM521.0 70.6h4.8v4.8h-4.8zM439.2 75.2h4.8v4.8h-4.8zM539.2 93.3h4.8v4.8h-4.8zM516.5 106.9h4.8v4.8h-4.8zM448.3 116.0h4.8v4.8h-4.8zM475.6 116.0h4.8v4.8h-4.8z"/>
<path fill="#dd5f4b" shape-rendering="crispEdges" d="M434.7 34.3h4.8v4.8h-4.8zM443.8 34.3h4.8v4.8h-4.8zM434.7 38.9h4.8v4.8h-4.8zM443.8 38.9h4.8v4.8h-4.8zM498.3 93.3h4.8v4.8h-4.8z"/>
<path fill="#d95847" shape-rendering="crispEdges" d="M439.2 34.3h4.8v4.8h-4.8zM439.2 38.9h4.8v4.8h-4.8zM507.4 79.7h4.8v4.8h-4.8z"/>
<path fill="#e67259" shape-rendering="crispEdges" d="M448.3 34.3h4.8v4.8h-4.8zM443.8 43.4h4.8v4.8h-4.8zM493.8 93.3h4.8v4.8h-4.8zM498.3 97.8h4.8v4.8h-4.8z"/>
<path fill="#f08a6c" shape-rendering="crispEdges" d="M452.9 34.3h4.8v4.8h-4.8zM493.8 70.6h4.8v4.8h-4.8zM502.9 70.6h4.8v4.8h-4.8zM484.7 75.2h4.8v4.8h-4.8zM480.1 79.7h4.8v4.8h-4.8zM511.9 79.7h4.8v4.8h-4.8zM480.1 93.3h4.8v4.8h-4.8zM484.7 97.8h4.8v4.8h-4.8zM507.4 97.8h4.8v4.8h-4.8z"/>
<path fill="#f7ac8e" shape-rendering="crispEdges" d="M457.4 34.3h4.8v4.8h-4.8zM489.2 106.9h4.8v4.8h-4.8zM493.8 106.9h4.8v4.8h-4.8zM439.2 125.1h4.8v4.8h-4.8z"/>
<path fill="#f3c8b2" shape-rendering="crispEdges" d="M462.0 34.3h4.8v4.8h-4.8zM543.8 43.4h4.8v4.8h-4.8zM539.2 47.9h4.8v4.8h-4.8zM539.2 52.5h4.8v4.8h-4.8zM434.7 61.6h4.8v4.8h-4.8zM484.7 61.6h4.8v4.8h-4.8zM511.9 70.6h4.8v4.8h-4.8zM452.9 134.1h4.8v4.8h-4.8z"/>
<path fill="#a3c2fe" shape-rendering="crispEdges" d="M475.6 34.3h4.8v4.8h-4.8zM516.5 38.9h4.8v4.8h-4.8zM443.8 61.6h4.8v4.8h-4.8zM457.4 88.8h4.8v4.8h-4.8zM539.2 106.9h4.8v4.8h-4.8zM480.1 138.7h4.8v4.8h-4.8zM502.9 138.7h4.8v4.8h-4.8z"/>
<path fill="#8db0fe" shape-rendering="crispEdges" d="M480.1 34.3h4.8v4.8h-4.8zM525.6 47.9h4.8v4.8h-4.8zM516.5 66.1h4.8v4.8h-4.8zM539.2 102.4h4.8v4.8h-4.8zM489.2 138.7h4.8v4.8h-4.8zM493.8 138.7h4.8v4.8h-4.8z"/>
<path fill="#80a3fa" shape-rendering="crispEdges" d="M484.7 34.3h4.8v4.8h-4.8zM493.8 34.3h4.8v4.8h-4.8zM471.1 38.9h4.8v4.8h-4.8zM539.2 88.8h4.8v4.8h-4.8zM539.2 97.8h4.8v4.8h-4.8zM534.7 111.4h4.8v4.8h-4.8zM502.9 116.0h4.8v4.8h-4.8zM462.0 129.6h4.8v4.8h-4.8z"/>
<path fill="#88abfd" shape-rendering="crispEdges" d="M498.3 34.3h4.8v4.8h-4.8zM511.9 61.6h4.8v4.8h-4.8zM539.2 84.2h4.8v4.8h-4.8zM471.1 134.1h4.8v4.8h-4.8z"/>
<path fill="#96b7ff" shape-rendering="crispEdges" d="M502.9 34.3h4.8v4.8h-4.8zM475.6 57.0h4.8v4.8h-4.8zM502.9 57.0h4.8v4.8h-4.8zM439.2 70.6h4.8v4.8h-4.8zM539.2 79.7h4.8v4.8h-4.8zM480.1 116.0h4.8v4.8h-4.8zM484.7 138.7h4.8v4.8h-4.8zM498.3 138.7h4.8v4.8h-4.8z"/>
<path fill="#abc8fd" shape-rendering="crispEdges" d="M507.4 34.3h4.8v4.8h-4.8zM434.7 84.2h4.8v4.8h-4.8zM484.7 116.0h4.8v4.8h-4.8zM493.8 116.0h4.8v4.8h-4.8zM466.5 134.1h4.8v4.8h-4.8z"/>
<path fill="#cfdaea" shape-rendering="crispEdges" d="M516.5 34.3h4.8v4.8h-4.8zM452.9 47.9h4.8v4.8h-4.8zM511.9 66.1h4.8v4.8h-4.8zM434.7 70.6h4.8v4.8h-4.8zM502.9 111.4h4.8v4.8h-4.8zM452.9 129.6h4.8v4.8h-4.8zM521.0 134.1h4.8v4.8h-4.8z"/>
<path fill="#b9d0f9" shape-rendering="crispEdges" d="M543.8 34.3h4.8v4.8h-4.8zM471.1 61.6h4.8v4.8h-4.8zM439.2 66.1h4.8v4.8h-4.8zM434.7 93.3h4.8v4.8h-4.8zM475.6 138.7h4.8v4.8h-4.8z"/>
<path fill="#e9785d" shape-rendering="crispEdges" d="M448.3 38.9h4.8v4.8h-4.8zM493.8 75.2h4.8v4.8h-4.8zM507.4 75.2h4.8v4.8h-4.8zM489.2 84.2h4.8v4.8h-4.8zM489.2 88.8h4.8v4.8h-4.8zM502.9 97.8h4.8v4.8h-4.8z"/>
<path fill="#f4987a" shape-rendering="crispEdges" d="M452.9 38.9h4.8v4.8h-4.8zM434.7 52.5h4.8v4.8h-4.8zM480.1 70.6h4.8v4.8h-4.8zM475.6 75.2h4.8v4.8h-4.8zM471.1 84.2h4.8v4.8h-4.8zM471.1 88.8h4.8v4.8h-4.8zM484.7 102.4h4.8v4.8h-4.8zM502.9 102.4h4.8v4.8h-4.8zM434.7 129.6h4.8v4.8h-4.8z"/>
<path fill="#f5c4ac" shape-rendering="crispEdges" d="M457.4 38.9h4.8v4.8h-4.8zM452.9 43.4h4.8v4.8h-4.8zM443.8 52.5h4.8v4.8h-4.8zM439.2 57.0h4.8v4.8h-4.8zM489.2 61.6h4.8v4.8h-4.8zM493.8 61.6h4.8v4.8h-4.8zM466.5 75.2h4.8v4.8h-4.8zM516.5 79.7h4.8v4.8h-4.8zM471.1 102.4h4.8v4.8h-4.8zM462.0 138.7h4.8v4.8h-4.8z"/>
<path fill="#a7c5fe" shape-rendering="crispEdges" d="M466.5 38.9h4.8v4.8h-4.8zM539.2 75.2h4.8v4.8h-4.8zM457.4 84.2h4.8v4.8h-4.8zM466.5 106.9h4.8v4.8h-4.8zM507.4 111.4h4.8v4.8h-4.8zM534.7 116.0h4.8v4.8h-4.8zM448.3 120.5h4.8v4.8h-4.8zM457.4 129.6h4.8v4.8h-4.8zM543.8 138.7h4.8v4.8h-4.8z"/>
<path fill="#6687ed" shape-rendering="crispEdges" d="M475.6 38.9h4.8v4.8h-4.8zM480.1 52.5h4.8v4.8h-4.8zM534.7 106.9h4.8v4.8h-4.8zM525.6 120.5h4.8v4.8h-4.8z"/>
<path fill="#5977e3" shape-rendering="crispEdges" d="M480.1 38.9h4.8v4.8h-4.8zM502.9 38.9h4.8v4.8h-4.8zM471.1 43.4h4.8v4.8h-4.8zM475.6 52.5h4.8v4.8h-4.8zM462.0 57.0h4.8v4.8h-4.8zM457.4 61.6h4.8v4.8h-4.8zM521.0 66.1h4.8v4.8h-4.8zM452.9 79.7h4.8v4.8h-4.8zM534.7 84.2h4.8v4.8h-4.8zM525.6 97.8h4.8v4.8h-4.8zM511.9 129.6h4.8v4.8h-4.8zM498.3 134.1h4.8v4.8h-4.8z"/>
<path fill="#516ddb" shape-rendering="crispEdges" d="M484.7 38.9h4.8v4.8h-4.8zM498.3 38.9h4.8v4.8h-4.8zM511.9 43.4h4.8v4.8h-4.8zM471.1 47.9h4.8v4.8h-4.8zM448.3 70.6h4.8v4.8h-4.8zM452.9 70.6h4.8v4.8h-4.8zM530.1 70.6h4.8v4.8h-4.8zM443.8 75.2h4.8v4.8h-4.8zM534.7 93.3h4.8v4.8h-4.8zM534.7 97.8h4.8v4.8h-4.8zM521.0 106.9h4.8v4.8h-4.8zM516.5 111.4h4.8v4.8h-4.8zM530.1 111.4h4.8v4.8h-4.8zM471.1 129.6h4.8v4.8h-4.8zM489.2 134.1h4.8v4.8h-4.8z"/>
<path fill="#4e68d8" shape-rendering="crispEdges" d="M489.2 38.9h4.8v4.8h-4.8zM493.8 38.9h4.8v4.8h-4.8zM475.6 43.4h4.8v4.8h-4.8zM525.6 57.0h4.8v4.8h-4.8zM525.6 66.1h4.8v4.8h-4.8zM443.8 93.3h4.8v4.8h-4.8zM530.1 93.3h4.8v4.8h-4.8zM452.9 97.8h4.8v4.8h-4.8zM525.6 102.4h4.8v4.8h-4.8zM448.3 106.9h4.8v4.8h-4.8zM462.0 111.4h4.8v4.8h-4.8zM452.9 116.0h4.8v4.8h-4.8zM511.9 116.0h4.8v4.8h-4.8zM525.6 116.0h4.8v4.8h-4.8zM502.9 120.5h4.8v4.8h-4.8zM462.0 125.1h4.8v4.8h-4.8zM516.5 125.1h4.8v4.8h-4.8z"/>
<path fill="#6a8bef" shape-rendering="crispEdges" d="M507.4 38.9h4.8v4.8h-4.8zM516.5 43.4h4.8v4.8h-4.8zM534.7 75.2h4.8v4.8h-4.8zM439.2 84.2h4.8v4.8h-4.8zM439.2 88.8h4.8v4.8h-4.8zM525.6 93.3h4.8v4.8h-4.8zM462.0 106.9h4.8v4.8h-4.8zM466.5 111.4h4.8v4.8h-4.8zM452.9 120.5h4.8v4.8h-4.8zM457.4 125.1h4.8v4.8h-4.8zM521.0 125.1h4.8v4.8h-4.8z"/>
<path fill="#84a7fc" shape-rendering="crispEdges" d="M511.9 38.9h4.8v4.8h-4.8zM466.5 61.6h4.8v4.8h-4.8zM462.0 66.1h4.8v4.8h-4.8zM534.7 66.1h4.8v4.8h-4.8zM457.4 75.2h4.8v4.8h-4.8zM439.2 97.8h4.8v4.8h-4.8z"/>
<path fill="#d9dce1" shape-rendering="crispEdges" d="M525.6 38.9h4.8v4.8h-4.8zM530.1 43.4h4.8v4.8h-4.8zM475.6 61.6h4.8v4.8h-4.8zM543.8 79.7h4.8v4.8h-4.8zM466.5 102.4h4.8v4.8h-4.8zM471.1 106.9h4.8v4.8h-4.8z"/>
<path fill="#e9d5cb" shape-rendering="crispEdges" d="M534.7 38.9h4.8v4.8h-4.8zM543.8 38.9h4.8v4.8h-4.8zM471.1 66.1h4.8v4.8h-4.8zM516.5 75.2h4.8v4.8h-4.8zM462.0 88.8h4.8v4.8h-4.8zM507.4 106.9h4.8v4.8h-4.8zM539.2 125.1h4.8v4.8h-4.8zM543.8 125.1h4.8v4.8h-4.8zM543.8 129.6h4.8v4.8h-4.8zM466.5 138.7h4.8v4.8h-4.8z"/>
<path fill="#ecd3c5" shape-rendering="crispEdges" d="M539.2 38.9h4.8v4.8h-4.8zM534.7 43.4h4.8v4.8h-4.8zM462.0 84.2h4.8v4.8h-4.8zM511.9 102.4h4.8v4.8h-4.8zM484.7 111.4h4.8v4.8h-4.8zM493.8 111.4h4.8v4.8h-4.8zM448.3 129.6h4.8v4.8h-4.8zM534.7 129.6h4.8v4.8h-4.8zM539.2 129.6h4.8v4.8h-4.8zM530.1 134.1h4.8v4.8h-4.8zM530.1 138.7h4.8v4.8h-4.8zM534.7 138.7h4.8v4.8h-4.8z"/>
<path fill="#f39475" shape-rendering="crispEdges" d="M448.3 43.4h4.8v4.8h-4.8zM443.8 47.9h4.8v4.8h-4.8zM484.7 70.6h4.8v4.8h-4.8zM475.6 93.3h4.8v4.8h-4.8zM511.9 93.3h4.8v4.8h-4.8zM480.1 97.8h4.8v4.8h-4.8zM489.2 102.4h4.8v4.8h-4.8zM493.8 102.4h4.8v4.8h-4.8zM498.3 102.4h4.8v4.8h-4.8zM439.2 134.1h4.8v4.8h-4.8z"/>
<path fill="#d3dbe7" shape-rendering="crispEdges" d="M457.4 43.4h4.8v4.8h-4.8zM448.3 52.5h4.8v4.8h-4.8zM539.2 66.1h4.8v4.8h-4.8zM462.0 75.2h4.8v4.8h-4.8zM543.8 106.9h4.8v4.8h-4.8zM539.2 116.0h4.8v4.8h-4.8zM448.3 125.1h4.8v4.8h-4.8zM543.8 134.1h4.8v4.8h-4.8zM471.1 138.7h4.8v4.8h-4.8z"/>
<path fill="#9ebeff" shape-rendering="crispEdges" d="M462.0 43.4h4.8v4.8h-4.8zM534.7 61.6h4.8v4.8h-4.8zM521.0 75.2h4.8v4.8h-4.8zM439.2 102.4h4.8v4.8h-4.8zM521.0 129.6h4.8v4.8h-4.8z"/>
<path fill="#7295f4" shape-rendering="crispEdges" d="M466.5 43.4h4.8v4.8h-4.8zM462.0 47.9h4.8v4.8h-4.8zM457.4 52.5h4.8v4.8h-4.8zM489.2 52.5h4.8v4.8h-4.8zM452.9 57.0h4.8v4.8h-4.8zM471.1 57.0h4.8v4.8h-4.8zM507.4 57.0h4.8v4.8h-4.8zM530.1 57.0h4.8v4.8h-4.8zM448.3 61.6h4.8v4.8h-4.8zM534.7 70.6h4.8v4.8h-4.8zM525.6 88.8h4.8v4.8h-4.8zM439.2 93.3h4.8v4.8h-4.8z"/>
<path fill="#455cce" shape-rendering="crispEdges" d="M480.1 43.4h4.8v4.8h-4.8zM484.7 43.4h4.8v4.8h-4.8zM507.4 43.4h4.8v4.8h-4.8zM489.2 47.9h4.8v4.8h-4.8zM493.8 47.9h4.8v4.8h-4.8zM521.0 52.5h4.8v4.8h-4.8zM516.5 57.0h4.8v4.8h-4.8zM448.3 84.2h4.8v4.8h-4.8zM448.3 88.8h4.8v4.8h-4.8zM448.3 93.3h4.8v4.8h-4.8zM448.3 97.8h4.8v4.8h-4.8zM452.9 102.4h4.8v4.8h-4.8zM530.1 102.4h4.8v4.8h-4.8zM452.9 106.9h4.8v4.8h-4.8zM525.6 106.9h4.8v4.8h-4.8zM530.1 106.9h4.8v4.8h-4.8zM452.9 111.4h4.8v4.8h-4.8zM521.0 111.4h4.8v4.8h-4.8zM507.4 120.5h4.8v4.8h-4.8zM466.5 125.1h4.8v4.8h-4.8zM480.1 129.6h4.8v4.8h-4.8zM502.9 129.6h4.8v4.8h-4.8z"/>
<path fill="#4257c9" shape-rendering="crispEdges" d="M489.2 43.4h4.8v4.8h-4.8zM493.8 43.4h4.8v4.8h-4.8zM498.3 43.4h4.8v4.8h-4.8zM502.9 43.4h4.8v4.8h-4.8zM498.3 47.9h4.8v4.8h-4.8zM502.9 47.9h4.8v4.8h-4.8zM507.4 47.9h4.8v4.8h-4.8zM511.9 47.9h4.8v4.8h-4.8zM511.9 52.5h4.8v4.8h-4.8zM516.5 52.5h4.8v4.8h-4.8zM521.0 57.0h4.8v4.8h-4.8zM457.4 111.4h4.8v4.8h-4.8zM525.6 111.4h4.8v4.8h-4.8zM457.4 116.0h4.8v4.8h-4.8zM462.0 116.0h4.8v4.8h-4.8zM516.5 116.0h4.8v4.8h-4.8zM521.0 116.0h4.8v4.8h-4.8zM462.0 120.5h4.8v4.8h-4.8zM466.5 120.5h4.8v4.8h-4.8zM471.1 120.5h4.8v4.8h-4.8zM511.9 120.5h4.8v4.8h-4.8zM516.5 120.5h4.8v4.8h-4.8zM471.1 125.1h4.8v4.8h-4.8zM475.6 125.1h4.8v4.8h-4.8zM480.1 125.1h4.8v4.8h-4.8zM484.7 125.1h4.8v4.8h-4.8zM489.2 125.1h4.8v4.8h-4.8zM493.8 125.1h4.8v4.8h-4.8zM498.3 125.1h4.8v4.8h-4.8zM502.9 125.1h4.8v4.8h-4.8zM507.4 125.1h4.8v4.8h-4.8zM511.9 125.1h4.8v4.8h-4.8zM484.7 129.6h4.8v4.8h-4.8zM489.2 129.6h4.8v4.8h-4.8zM493.8 129.6h4.8v4.8h-4.8zM498.3 129.6h4.8v4.8h-4.8z"/>
<path fill="#92b4fe" shape-rendering="crispEdges" d="M521.0 43.4h4.8v4.8h-4.8zM457.4 93.3h4.8v4.8h-4.8zM521.0 97.8h4.8v4.8h-4.8zM511.9 134.1h4.8v4.8h-4.8z"/>
<path fill="#bcd2f7" shape-rendering="crispEdges" d="M525.6 43.4h4.8v4.8h-4.8zM534.7 57.0h4.8v4.8h-4.8zM539.2 70.6h4.8v4.8h-4.8zM521.0 79.7h4.8v4.8h-4.8zM511.9 106.9h4.8v4.8h-4.8zM539.2 111.4h4.8v4.8h-4.8z"/>
<path fill="#f2cbb7" shape-rendering="crispEdges" d="M539.2 43.4h4.8v4.8h-4.8zM507.4 66.1h4.8v4.8h-4.8zM543.8 70.6h4.8v4.8h-4.8zM516.5 93.3h4.8v4.8h-4.8zM466.5 97.8h4.8v4.8h-4.8zM475.6 106.9h4.8v4.8h-4.8zM439.2 116.0h4.8v4.8h-4.8zM443.8 125.1h4.8v4.8h-4.8z"/>
<path fill="#f5c0a7" shape-rendering="crispEdges" d="M448.3 47.9h4.8v4.8h-4.8zM543.8 47.9h4.8v4.8h-4.8zM475.6 66.1h4.8v4.8h-4.8zM502.9 106.9h4.8v4.8h-4.8zM434.7 111.4h4.8v4.8h-4.8z"/>
<path fill="#9abbff" shape-rendering="crispEdges" d="M457.4 47.9h4.8v4.8h-4.8zM452.9 52.5h4.8v4.8h-4.8zM530.1 52.5h4.8v4.8h-4.8zM448.3 57.0h4.8v4.8h-4.8zM457.4 79.7h4.8v4.8h-4.8zM462.0 102.4h4.8v4.8h-4.8zM443.8 111.4h4.8v4.8h-4.8zM471.1 111.4h4.8v4.8h-4.8zM498.3 116.0h4.8v4.8h-4.8zM530.1 120.5h4.8v4.8h-4.8zM452.9 125.1h4.8v4.8h-4.8zM525.6 125.1h4.8v4.8h-4.8z"/>
<path fill="#5d7ce6" shape-rendering="crispEdges" d="M466.5 47.9h4.8v4.8h-4.8zM466.5 57.0h4.8v4.8h-4.8zM452.9 61.6h4.8v4.8h-4.8zM516.5 61.6h4.8v4.8h-4.8zM530.1 61.6h4.8v4.8h-4.8zM448.3 66.1h4.8v4.8h-4.8zM457.4 66.1h4.8v4.8h-4.8zM452.9 84.2h4.8v4.8h-4.8zM452.9 88.8h4.8v4.8h-4.8zM457.4 102.4h4.8v4.8h-4.8zM448.3 111.4h4.8v4.8h-4.8zM471.1 116.0h4.8v4.8h-4.8zM484.7 120.5h4.8v4.8h-4.8zM493.8 120.5h4.8v4.8h-4.8z"/>
<path fill="#4961d2" shape-rendering="crispEdges" d="M475.6 47.9h4.8v4.8h-4.8zM480.1 47.9h4.8v4.8h-4.8zM484.7 47.9h4.8v4.8h-4.8zM516.5 47.9h4.8v4.8h-4.8zM507.4 52.5h4.8v4.8h-4.8zM521.0 61.6h4.8v4.8h-4.8zM525.6 61.6h4.8v4.8h-4.8zM448.3 75.2h4.8v4.8h-4.8zM443.8 79.7h4.8v4.8h-4.8zM448.3 79.7h4.8v4.8h-4.8zM443.8 84.2h4.8v4.8h-4.8zM443.8 88.8h4.8v4.8h-4.8zM530.1 97.8h4.8v4.8h-4.8zM448.3 102.4h4.8v4.8h-4.8zM457.4 106.9h4.8v4.8h-4.8zM466.5 116.0h4.8v4.8h-4.8zM457.4 120.5h4.8v4.8h-4.8zM475.6 120.5h4.8v4.8h-4.8zM521.0 120.5h4.8v4.8h-4.8zM475.6 129.6h4.8v4.8h-4.8zM507.4 129.6h4.8v4.8h-4.8z"/>
<path fill="#6282ea" shape-rendering="crispEdges" d="M521.0 47.9h4.8v4.8h-4.8zM462.0 52.5h4.8v4.8h-4.8zM498.3 52.5h4.8v4.8h-4.8zM525.6 52.5h4.8v4.8h-4.8zM457.4 57.0h4.8v4.8h-4.8zM462.0 61.6h4.8v4.8h-4.8zM443.8 70.6h4.8v4.8h-4.8zM525.6 75.2h4.8v4.8h-4.8zM534.7 79.7h4.8v4.8h-4.8zM443.8 102.4h4.8v4.8h-4.8zM507.4 116.0h4.8v4.8h-4.8zM489.2 120.5h4.8v4.8h-4.8zM466.5 129.6h4.8v4.8h-4.8zM480.1 134.1h4.8v4.8h-4.8zM502.9 134.1h4.8v4.8h-4.8z"/>
<path fill="#f6a385" shape-rendering="crispEdges" d="M439.2 52.5h4.8v4.8h-4.8zM489.2 66.1h4.8v4.8h-4.8zM493.8 66.1h4.8v4.8h-4.8zM498.3 66.1h4.8v4.8h-4.8zM511.9 75.2h4.8v4.8h-4.8zM471.1 93.3h4.8v4.8h-4.8zM480.1 102.4h4.8v4.8h-4.8zM434.7 120.5h4.8v4.8h-4.8zM439.2 129.6h4.8v4.8h-4.8z"/>
<path fill="#5572df" shape-rendering="crispEdges" d="M466.5 52.5h4.8v4.8h-4.8zM471.1 52.5h4.8v4.8h-4.8zM502.9 52.5h4.8v4.8h-4.8zM511.9 57.0h4.8v4.8h-4.8zM452.9 66.1h4.8v4.8h-4.8zM530.1 66.1h4.8v4.8h-4.8zM525.6 70.6h4.8v4.8h-4.8zM452.9 75.2h4.8v4.8h-4.8zM530.1 75.2h4.8v4.8h-4.8zM530.1 79.7h4.8v4.8h-4.8zM530.1 84.2h4.8v4.8h-4.8zM530.1 88.8h4.8v4.8h-4.8zM534.7 88.8h4.8v4.8h-4.8zM452.9 93.3h4.8v4.8h-4.8zM443.8 97.8h4.8v4.8h-4.8zM534.7 102.4h4.8v4.8h-4.8zM480.1 120.5h4.8v4.8h-4.8zM498.3 120.5h4.8v4.8h-4.8zM484.7 134.1h4.8v4.8h-4.8zM493.8 134.1h4.8v4.8h-4.8z"/>
<path fill="#6e90f2" shape-rendering="crispEdges" d="M484.7 52.5h4.8v4.8h-4.8zM493.8 52.5h4.8v4.8h-4.8zM457.4 70.6h4.8v4.8h-4.8zM439.2 79.7h4.8v4.8h-4.8zM525.6 79.7h4.8v4.8h-4.8zM521.0 102.4h4.8v4.8h-4.8zM530.1 116.0h4.8v4.8h-4.8zM475.6 134.1h4.8v4.8h-4.8z"/>
<path fill="#f7b99e" shape-rendering="crispEdges" d="M543.8 52.5h4.8v4.8h-4.8zM471.1 70.6h4.8v4.8h-4.8zM516.5 84.2h4.8v4.8h-4.8zM466.5 93.3h4.8v4.8h-4.8zM443.8 129.6h4.8v4.8h-4.8zM448.3 134.1h4.8v4.8h-4.8z"/>
<path fill="#f7b093" shape-rendering="crispEdges" d="M434.7 57.0h4.8v4.8h-4.8zM543.8 57.0h4.8v4.8h-4.8zM480.1 66.1h4.8v4.8h-4.8zM502.9 66.1h4.8v4.8h-4.8zM466.5 84.2h4.8v4.8h-4.8zM466.5 88.8h4.8v4.8h-4.8zM471.1 97.8h4.8v4.8h-4.8zM511.9 97.8h4.8v4.8h-4.8zM475.6 102.4h4.8v4.8h-4.8zM507.4 102.4h4.8v4.8h-4.8zM434.7 116.0h4.8v4.8h-4.8zM457.4 138.7h4.8v4.8h-4.8z"/>
<path fill="#afcafc" shape-rendering="crispEdges" d="M480.1 57.0h4.8v4.8h-4.8zM462.0 70.6h4.8v4.8h-4.8zM434.7 79.7h4.8v4.8h-4.8zM434.7 88.8h4.8v4.8h-4.8zM489.2 116.0h4.8v4.8h-4.8zM516.5 134.1h4.8v4.8h-4.8z"/>
<path fill="#c7d7f0" shape-rendering="crispEdges" d="M489.2 57.0h4.8v4.8h-4.8zM521.0 84.2h4.8v4.8h-4.8zM434.7 97.8h4.8v4.8h-4.8zM462.0 97.8h4.8v4.8h-4.8zM475.6 111.4h4.8v4.8h-4.8zM530.1 125.1h4.8v4.8h-4.8zM525.6 129.6h4.8v4.8h-4.8zM511.9 138.7h4.8v4.8h-4.8z"/>
<path fill="#b3cdfb" shape-rendering="crispEdges" d="M498.3 57.0h4.8v4.8h-4.8zM521.0 93.3h4.8v4.8h-4.8zM516.5 102.4h4.8v4.8h-4.8zM507.4 138.7h4.8v4.8h-4.8z"/>
<path fill="#eed0c0" shape-rendering="crispEdges" d="M480.1 61.6h4.8v4.8h-4.8zM434.7 106.9h4.8v4.8h-4.8zM489.2 111.4h4.8v4.8h-4.8zM534.7 134.1h4.8v4.8h-4.8z"/>
<path fill="#f7b599" shape-rendering="crispEdges" d="M543.8 61.6h4.8v4.8h-4.8zM466.5 79.7h4.8v4.8h-4.8zM484.7 106.9h4.8v4.8h-4.8zM498.3 106.9h4.8v4.8h-4.8zM439.2 120.5h4.8v4.8h-4.8z"/>
<path fill="#ee8468" shape-rendering="crispEdges" d="M498.3 70.6h4.8v4.8h-4.8zM489.2 75.2h4.8v4.8h-4.8zM484.7 79.7h4.8v4.8h-4.8zM480.1 84.2h4.8v4.8h-4.8zM484.7 84.2h4.8v4.8h-4.8zM480.1 88.8h4.8v4.8h-4.8zM484.7 88.8h4.8v4.8h-4.8zM484.7 93.3h4.8v4.8h-4.8zM489.2 97.8h4.8v4.8h-4.8zM434.7 138.7h4.8v4.8h-4.8zM439.2 138.7h4.8v4.8h-4.8z"/>
<path fill="#f59f80" shape-rendering="crispEdges" d="M507.4 70.6h4.8v4.8h-4.8zM471.1 79.7h4.8v4.8h-4.8zM475.6 97.8h4.8v4.8h-4.8zM434.7 125.1h4.8v4.8h-4.8zM448.3 138.7h4.8v4.8h-4.8z"/>
<path fill="#d65244" shape-rendering="crispEdges" d="M498.3 79.7h4.8v4.8h-4.8zM498.3 88.8h4.8v4.8h-4.8zM507.4 88.8h4.8v4.8h-4.8zM502.9 93.3h4.8v4.8h-4.8z"/>
<path fill="#cf453c" shape-rendering="crispEdges" d="M502.9 79.7h4.8v4.8h-4.8z"/>
<path fill="#d24b40" shape-rendering="crispEdges" d="M498.3 84.2h4.8v4.8h-4.8zM507.4 84.2h4.8v4.8h-4.8z"/>
<path fill="#c53334" shape-rendering="crispEdges" d="M502.9 84.2h4.8v4.8h-4.8z"/>
<path fill="#779af7" shape-rendering="crispEdges" d="M525.6 84.2h4.8v4.8h-4.8zM457.4 97.8h4.8v4.8h-4.8zM443.8 106.9h4.8v4.8h-4.8zM511.9 111.4h4.8v4.8h-4.8zM516.5 129.6h4.8v4.8h-4.8zM507.4 134.1h4.8v4.8h-4.8z"/>
<path fill="#ca3b37" shape-rendering="crispEdges" d="M502.9 88.8h4.8v4.8h-4.8z"/>
<path fill="#7295f4" shape-rendering="crispEdges" d="M555.3 29.8h4.9v4.8h-4.9zM655.6 29.8h4.9v4.8h-4.9zM660.2 34.3h4.9v4.8h-4.9zM664.7 43.4h4.9v4.8h-4.9zM628.3 47.9h4.9v4.8h-4.9zM555.3 79.7h4.9v4.8h-4.9zM641.9 102.4h4.9v4.8h-4.9zM637.4 106.9h4.9v4.8h-4.9zM664.7 120.5h4.9v4.8h-4.9zM660.2 129.6h4.9v4.8h-4.9zM591.8 134.1h4.9v4.8h-4.9zM655.6 138.7h4.9v4.8h-4.9z"/>
<path fill="#6e90f2" shape-rendering="crispEdges" d="M559.9 29.8h4.9v4.8h-4.9zM555.3 34.3h4.9v4.8h-4.9zM660.2 38.9h4.9v4.8h-4.9zM614.6 43.4h4.9v4.8h-4.9zM596.3 47.9h4.9v4.8h-4.9zM664.7 47.9h4.9v4.8h-4.9zM641.9 61.6h4.9v4.8h-4.9zM569.0 66.1h4.9v4.8h-4.9zM651.1 79.7h4.9v4.8h-4.9zM651.1 84.2h4.9v4.8h-4.9zM632.8 111.4h4.9v4.8h-4.9zM664.7 116.0h4.9v4.8h-4.9zM660.2 125.1h4.9v4.8h-4.9zM573.5 134.1h4.9v4.8h-4.9zM655.6 134.1h4.9v4.8h-4.9z"/>
<path fill="#6a8bef" shape-rendering="crispEdges" d="M564.4 29.8h4.9v4.8h-4.9zM651.1 29.8h4.9v4.8h-4.9zM559.9 34.3h4.9v4.8h-4.9zM655.6 34.3h4.9v4.8h-4.9zM555.3 38.9h4.9v4.8h-4.9zM610.0 43.4h4.9v4.8h-4.9zM619.1 43.4h4.9v4.8h-4.9zM587.2 52.5h4.9v4.8h-4.9zM664.7 52.5h4.9v4.8h-4.9zM664.7 57.0h4.9v4.8h-4.9zM651.1 75.2h4.9v4.8h-4.9zM651.1 88.8h4.9v4.8h-4.9zM646.5 97.8h4.9v4.8h-4.9zM664.7 106.9h4.9v4.8h-4.9zM664.7 111.4h4.9v4.8h-4.9zM555.3 120.5h4.9v4.8h-4.9zM660.2 120.5h4.9v4.8h-4.9zM559.9 125.1h4.9v4.8h-4.9zM605.5 129.6h4.9v4.8h-4.9zM655.6 129.6h4.9v4.8h-4.9zM651.1 138.7h4.9v4.8h-4.9z"/>
<path fill="#6687ed" shape-rendering="crispEdges" d="M569.0 29.8h4.9v4.8h-4.9zM564.4 34.3h4.9v4.8h-4.9zM559.9 38.9h4.9v4.8h-4.9zM555.3 43.4h4.9v4.8h-4.9zM660.2 43.4h4.9v4.8h-4.9zM573.5 61.6h4.9v4.8h-4.9zM664.7 61.6h4.9v4.8h-4.9zM646.5 66.1h4.9v4.8h-4.9zM664.7 66.1h4.9v4.8h-4.9zM664.7 97.8h4.9v4.8h-4.9zM664.7 102.4h4.9v4.8h-4.9zM628.3 116.0h4.9v4.8h-4.9zM660.2 116.0h4.9v4.8h-4.9zM614.6 125.1h4.9v4.8h-4.9zM655.6 125.1h4.9v4.8h-4.9zM564.4 129.6h4.9v4.8h-4.9zM596.3 134.1h4.9v4.8h-4.9zM651.1 134.1h4.9v4.8h-4.9zM555.3 138.7h4.9v4.8h-4.9zM646.5 138.7h4.9v4.8h-4.9z"/>
<path fill="#6282ea" shape-rendering="crispEdges" d="M573.5 29.8h4.9v4.8h-4.9zM646.5 29.8h4.9v4.8h-4.9zM651.1 34.3h4.9v4.8h-4.9zM655.6 38.9h4.9v4.8h-4.9zM605.5 43.4h4.9v4.8h-4.9zM623.7 43.4h4.9v4.8h-4.9zM555.3 47.9h4.9v4.8h-4.9zM660.2 47.9h4.9v4.8h-4.9zM664.7 70.6h4.9v4.8h-4.9zM664.7 75.2h4.9v4.8h-4.9zM664.7 79.7h4.9v4.8h-4.9zM664.7 84.2h4.9v4.8h-4.9zM664.7 88.8h4.9v4.8h-4.9zM664.7 93.3h4.9v4.8h-4.9zM660.2 111.4h4.9v4.8h-4.9zM655.6 120.5h4.9v4.8h-4.9zM555.3 125.1h4.9v4.8h-4.9zM651.1 129.6h4.9v4.8h-4.9zM555.3 134.1h4.9v4.8h-4.9zM569.0 134.1h4.9v4.8h-4.9zM578.1 138.7h4.9v4.8h-4.9zM582.7 138.7h4.9v4.8h-4.9z"/>
<path fill="#5d7ce6" shape-rendering="crispEdges" d="M578.1 29.8h4.9v4.8h-4.9zM569.0 34.3h4.9v4.8h-4.9zM564.4 38.9h4.9v4.8h-4.9zM559.9 43.4h4.9v4.8h-4.9zM655.6 43.4h4.9v4.8h-4.9zM555.3 52.5h4.9v4.8h-4.9zM660.2 52.5h4.9v4.8h-4.9zM578.1 57.0h4.9v4.8h-4.9zM660.2 57.0h4.9v4.8h-4.9zM651.1 70.6h4.9v4.8h-4.9zM555.3 75.2h4.9v4.8h-4.9zM651.1 93.3h4.9v4.8h-4.9zM660.2 102.4h4.9v4.8h-4.9zM660.2 106.9h4.9v4.8h-4.9zM655.6 116.0h4.9v4.8h-4.9zM623.7 120.5h4.9v4.8h-4.9zM651.1 125.1h4.9v4.8h-4.9zM555.3 129.6h4.9v4.8h-4.9zM559.9 129.6h4.9v4.8h-4.9zM646.5 134.1h4.9v4.8h-4.9zM559.9 138.7h4.9v4.8h-4.9zM573.5 138.7h4.9v4.8h-4.9zM587.2 138.7h4.9v4.8h-4.9zM641.9 138.7h4.9v4.8h-4.9z"/>
<path fill="#5977e3" shape-rendering="crispEdges" d="M582.7 29.8h4.9v4.8h-4.9zM587.2 29.8h4.9v4.8h-4.9zM637.4 29.8h4.9v4.8h-4.9zM641.9 29.8h4.9v4.8h-4.9zM573.5 34.3h4.9v4.8h-4.9zM578.1 34.3h4.9v4.8h-4.9zM646.5 34.3h4.9v4.8h-4.9zM569.0 38.9h4.9v4.8h-4.9zM651.1 38.9h4.9v4.8h-4.9zM564.4 43.4h4.9v4.8h-4.9zM559.9 47.9h4.9v4.8h-4.9zM591.8 47.9h4.9v4.8h-4.9zM632.8 47.9h4.9v4.8h-4.9zM559.9 52.5h4.9v4.8h-4.9zM637.4 52.5h4.9v4.8h-4.9zM555.3 57.0h4.9v4.8h-4.9zM555.3 61.6h4.9v4.8h-4.9zM660.2 61.6h4.9v4.8h-4.9zM660.2 66.1h4.9v4.8h-4.9zM559.9 70.6h4.9v4.8h-4.9zM660.2 70.6h4.9v4.8h-4.9zM660.2 75.2h4.9v4.8h-4.9zM655.6 79.7h4.9v4.8h-4.9zM660.2 79.7h4.9v4.8h-4.9zM655.6 84.2h4.9v4.8h-4.9zM660.2 84.2h4.9v4.8h-4.9zM660.2 88.8h4.9v4.8h-4.9zM660.2 93.3h4.9v4.8h-4.9zM660.2 97.8h4.9v4.8h-4.9zM655.6 111.4h4.9v4.8h-4.9zM651.1 120.5h4.9v4.8h-4.9zM610.0 129.6h4.9v4.8h-4.9zM646.5 129.6h4.9v4.8h-4.9zM559.9 134.1h4.9v4.8h-4.9zM564.4 134.1h4.9v4.8h-4.9zM600.9 134.1h4.9v4.8h-4.9zM641.9 134.1h4.9v4.8h-4.9zM564.4 138.7h4.9v4.8h-4.9zM569.0 138.7h4.9v4.8h-4.9zM591.8 138.7h4.9v4.8h-4.9zM632.8 138.7h4.9v4.8h-4.9zM637.4 138.7h4.9v4.8h-4.9z"/>
<path fill="#5572df" shape-rendering="crispEdges" d="M591.8 29.8h4.9v4.8h-4.9zM596.3 29.8h4.9v4.8h-4.9zM628.3 29.8h4.9v4.8h-4.9zM632.8 29.8h4.9v4.8h-4.9zM582.7 34.3h4.9v4.8h-4.9zM573.5 38.9h4.9v4.8h-4.9zM569.0 43.4h4.9v4.8h-4.9zM600.9 43.4h4.9v4.8h-4.9zM628.3 43.4h4.9v4.8h-4.9zM564.4 47.9h4.9v4.8h-4.9zM655.6 47.9h4.9v4.8h-4.9zM582.7 52.5h4.9v4.8h-4.9zM559.9 57.0h4.9v4.8h-4.9zM641.9 57.0h4.9v4.8h-4.9zM555.3 66.1h4.9v4.8h-4.9zM564.4 66.1h4.9v4.8h-4.9zM555.3 70.6h4.9v4.8h-4.9zM655.6 70.6h4.9v4.8h-4.9zM655.6 75.2h4.9v4.8h-4.9zM655.6 88.8h4.9v4.8h-4.9zM655.6 93.3h4.9v4.8h-4.9zM651.1 97.8h4.9v4.8h-4.9zM655.6 97.8h4.9v4.8h-4.9zM646.5 102.4h4.9v4.8h-4.9zM641.9 106.9h4.9v4.8h-4.9zM655.6 106.9h4.9v4.8h-4.9zM637.4 111.4h4.9v4.8h-4.9zM651.1 116.0h4.9v4.8h-4.9zM646.5 125.1h4.9v4.8h-4.9zM637.4 134.1h4.9v4.8h-4.9zM596.3 138.7h4.9v4.8h-4.9zM623.7 138.7h4.9v4.8h-4.9zM628.3 138.7h4.9v4.8h-4.9z"/>
<path fill="#516ddb" shape-rendering="crispEdges" d="M600.9 29.8h4.9v4.8h-4.9zM605.5 29.8h4.9v4.8h-4.9zM610.0 29.8h4.9v4.8h-4.9zM614.6 29.8h4.9v4.8h-4.9zM619.1 29.8h4.9v4.8h-4.9zM623.7 29.8h4.9v4.8h-4.9zM587.2 34.3h4.9v4.8h-4.9zM637.4 34.3h4.9v4.8h-4.9zM641.9 34.3h4.9v4.8h-4.9zM578.1 38.9h4.9v4.8h-4.9zM614.6 38.9h4.9v4.8h-4.9zM646.5 38.9h4.9v4.8h-4.9zM573.5 43.4h4.9v4.8h-4.9zM651.1 43.4h4.9v4.8h-4.9zM569.0 47.9h4.9v4.8h-4.9zM564.4 52.5h4.9v4.8h-4.9zM655.6 52.5h4.9v4.8h-4.9zM655.6 57.0h4.9v4.8h-4.9zM559.9 61.6h4.9v4.8h-4.9zM569.0 61.6h4.9v4.8h-4.9zM646.5 61.6h4.9v4.8h-4.9zM655.6 61.6h4.9v4.8h-4.9zM559.9 66.1h4.9v4.8h-4.9zM651.1 66.1h4.9v4.8h-4.9zM655.6 66.1h4.9v4.8h-4.9zM651.1 102.4h4.9v4.8h-4.9zM655.6 102.4h4.9v4.8h-4.9zM651.1 106.9h4.9v4.8h-4.9zM651.1 111.4h4.9v4.8h-4.9zM632.8 116.0h4.9v4.8h-4.9zM646.5 120.5h4.9v4.8h-4.9zM619.1 125.1h4.9v4.8h-4.9zM641.9 129.6h4.9v4.8h-4.9zM605.5 134.1h4.9v4.8h-4.9zM632.8 134.1h4.9v4.8h-4.9zM600.9 138.7h4.9v4.8h-4.9zM605.5 138.7h4.9v4.8h-4.9zM610.0 138.7h4.9v4.8h-4.9zM614.6 138.7h4.9v4.8h-4.9zM619.1 138.7h4.9v4.8h-4.9z"/>
<path fill="#7b9ff9" shape-rendering="crispEdges" d="M660.2 29.8h4.9v4.8h-4.9zM664.7 34.3h4.9v4.8h-4.9zM632.8 52.5h4.9v4.8h-4.9zM555.3 116.0h4.9v4.8h-4.9zM569.0 129.6h4.9v4.8h-4.9zM664.7 129.6h4.9v4.8h-4.9zM582.7 134.1h4.9v4.8h-4.9zM587.2 134.1h4.9v4.8h-4.9zM660.2 138.7h4.9v4.8h-4.9z"/>
<path fill="#84a7fc" shape-rendering="crispEdges" d="M664.7 29.8h4.9v4.8h-4.9zM600.9 47.9h4.9v4.8h-4.9zM591.8 52.5h4.9v4.8h-4.9zM610.0 125.1h4.9v4.8h-4.9zM664.7 138.7h4.9v4.8h-4.9z"/>
<path fill="#4e68d8" shape-rendering="crispEdges" d="M591.8 34.3h4.9v4.8h-4.9zM596.3 34.3h4.9v4.8h-4.9zM600.9 34.3h4.9v4.8h-4.9zM619.1 34.3h4.9v4.8h-4.9zM623.7 34.3h4.9v4.8h-4.9zM628.3 34.3h4.9v4.8h-4.9zM632.8 34.3h4.9v4.8h-4.9zM582.7 38.9h4.9v4.8h-4.9zM587.2 38.9h4.9v4.8h-4.9zM605.5 38.9h4.9v4.8h-4.9zM610.0 38.9h4.9v4.8h-4.9zM619.1 38.9h4.9v4.8h-4.9zM623.7 38.9h4.9v4.8h-4.9zM578.1 43.4h4.9v4.8h-4.9zM596.3 43.4h4.9v4.8h-4.9zM573.5 47.9h4.9v4.8h-4.9zM587.2 47.9h4.9v4.8h-4.9zM569.0 52.5h4.9v4.8h-4.9zM578.1 52.5h4.9v4.8h-4.9zM564.4 57.0h4.9v4.8h-4.9zM573.5 57.0h4.9v4.8h-4.9zM564.4 61.6h4.9v4.8h-4.9zM646.5 106.9h4.9v4.8h-4.9zM641.9 111.4h4.9v4.8h-4.9zM646.5 111.4h4.9v4.8h-4.9zM646.5 116.0h4.9v4.8h-4.9zM628.3 120.5h4.9v4.8h-4.9zM623.7 125.1h4.9v4.8h-4.9zM641.9 125.1h4.9v4.8h-4.9zM614.6 129.6h4.9v4.8h-4.9zM632.8 129.6h4.9v4.8h-4.9zM637.4 129.6h4.9v4.8h-4.9zM610.0 134.1h4.9v4.8h-4.9zM619.1 134.1h4.9v4.8h-4.9zM623.7 134.1h4.9v4.8h-4.9zM628.3 134.1h4.9v4.8h-4.9z"/>
<path fill="#4961d2" shape-rendering="crispEdges" d="M605.5 34.3h4.9v4.8h-4.9zM610.0 34.3h4.9v4.8h-4.9zM614.6 34.3h4.9v4.8h-4.9zM591.8 38.9h4.9v4.8h-4.9zM596.3 38.9h4.9v4.8h-4.9zM600.9 38.9h4.9v4.8h-4.9zM628.3 38.9h4.9v4.8h-4.9zM641.9 38.9h4.9v4.8h-4.9zM582.7 43.4h4.9v4.8h-4.9zM587.2 43.4h4.9v4.8h-4.9zM591.8 43.4h4.9v4.8h-4.9zM632.8 43.4h4.9v4.8h-4.9zM646.5 43.4h4.9v4.8h-4.9zM578.1 47.9h4.9v4.8h-4.9zM582.7 47.9h4.9v4.8h-4.9zM651.1 47.9h4.9v4.8h-4.9zM573.5 52.5h4.9v4.8h-4.9zM569.0 57.0h4.9v4.8h-4.9zM651.1 61.6h4.9v4.8h-4.9zM637.4 116.0h4.9v4.8h-4.9zM641.9 116.0h4.9v4.8h-4.9zM632.8 120.5h4.9v4.8h-4.9zM637.4 120.5h4.9v4.8h-4.9zM641.9 120.5h4.9v4.8h-4.9zM628.3 125.1h4.9v4.8h-4.9zM632.8 125.1h4.9v4.8h-4.9zM637.4 125.1h4.9v4.8h-4.9zM619.1 129.6h4.9v4.8h-4.9zM623.7 129.6h4.9v4.8h-4.9zM628.3 129.6h4.9v4.8h-4.9zM614.6 134.1h4.9v4.8h-4.9z"/>
<path fill="#455cce" shape-rendering="crispEdges" d="M632.8 38.9h4.9v4.8h-4.9zM637.4 38.9h4.9v4.8h-4.9zM637.4 47.9h4.9v4.8h-4.9zM651.1 52.5h4.9v4.8h-4.9zM646.5 57.0h4.9v4.8h-4.9zM651.1 57.0h4.9v4.8h-4.9z"/>
<path fill="#779af7" shape-rendering="crispEdges" d="M664.7 38.9h4.9v4.8h-4.9zM582.7 57.0h4.9v4.8h-4.9zM637.4 57.0h4.9v4.8h-4.9zM564.4 70.6h4.9v4.8h-4.9zM559.9 75.2h4.9v4.8h-4.9zM619.1 120.5h4.9v4.8h-4.9zM664.7 125.1h4.9v4.8h-4.9zM578.1 134.1h4.9v4.8h-4.9zM660.2 134.1h4.9v4.8h-4.9z"/>
<path fill="#4257c9" shape-rendering="crispEdges" d="M637.4 43.4h4.9v4.8h-4.9zM641.9 43.4h4.9v4.8h-4.9zM646.5 47.9h4.9v4.8h-4.9zM641.9 52.5h4.9v4.8h-4.9z"/>
<path fill="#96b7ff" shape-rendering="crispEdges" d="M605.5 47.9h4.9v4.8h-4.9zM637.4 61.6h4.9v4.8h-4.9zM573.5 66.1h4.9v4.8h-4.9zM559.9 79.7h4.9v4.8h-4.9zM628.3 111.4h4.9v4.8h-4.9zM596.3 129.6h4.9v4.8h-4.9z"/>
<path fill="#9ebeff" shape-rendering="crispEdges" d="M610.0 47.9h4.9v4.8h-4.9zM614.6 47.9h4.9v4.8h-4.9zM569.0 70.6h4.9v4.8h-4.9zM564.4 75.2h4.9v4.8h-4.9zM555.3 88.8h4.9v4.8h-4.9zM555.3 106.9h4.9v4.8h-4.9zM632.8 106.9h4.9v4.8h-4.9zM564.4 120.5h4.9v4.8h-4.9zM605.5 125.1h4.9v4.8h-4.9zM578.1 129.6h4.9v4.8h-4.9zM591.8 129.6h4.9v4.8h-4.9z"/>
<path fill="#9abbff" shape-rendering="crispEdges" d="M619.1 47.9h4.9v4.8h-4.9zM628.3 52.5h4.9v4.8h-4.9zM587.2 57.0h4.9v4.8h-4.9zM632.8 57.0h4.9v4.8h-4.9zM646.5 79.7h4.9v4.8h-4.9zM646.5 84.2h4.9v4.8h-4.9zM637.4 102.4h4.9v4.8h-4.9zM559.9 116.0h4.9v4.8h-4.9zM614.6 120.5h4.9v4.8h-4.9zM569.0 125.1h4.9v4.8h-4.9z"/>
<path fill="#8db0fe" shape-rendering="crispEdges" d="M623.7 47.9h4.9v4.8h-4.9zM641.9 66.1h4.9v4.8h-4.9zM555.3 84.2h4.9v4.8h-4.9zM573.5 129.6h4.9v4.8h-4.9z"/>
<path fill="#3e51c5" shape-rendering="crispEdges" d="M641.9 47.9h4.9v4.8h-4.9zM646.5 52.5h4.9v4.8h-4.9z"/>
<path fill="#a3c2fe" shape-rendering="crispEdges" d="M596.3 52.5h4.9v4.8h-4.9zM641.9 70.6h4.9v4.8h-4.9zM582.7 129.6h4.9v4.8h-4.9zM587.2 129.6h4.9v4.8h-4.9z"/>
<path fill="#b3cdfb" shape-rendering="crispEdges" d="M600.9 52.5h4.9v4.8h-4.9zM591.8 57.0h4.9v4.8h-4.9zM578.1 66.1h4.9v4.8h-4.9zM641.9 75.2h4.9v4.8h-4.9zM623.7 111.4h4.9v4.8h-4.9zM564.4 116.0h4.9v4.8h-4.9zM569.0 120.5h4.9v4.8h-4.9zM610.0 120.5h4.9v4.8h-4.9zM600.9 125.1h4.9v4.8h-4.9z"/>
<path fill="#c0d4f5" shape-rendering="crispEdges" d="M605.5 52.5h4.9v4.8h-4.9zM619.1 52.5h4.9v4.8h-4.9zM569.0 75.2h4.9v4.8h-4.9zM559.9 88.8h4.9v4.8h-4.9zM632.8 102.4h4.9v4.8h-4.9zM596.3 125.1h4.9v4.8h-4.9z"/>
<path fill="#c7d7f0" shape-rendering="crispEdges" d="M610.0 52.5h4.9v4.8h-4.9zM614.6 52.5h4.9v4.8h-4.9zM559.9 93.3h4.9v4.8h-4.9zM573.5 120.5h4.9v4.8h-4.9zM591.8 125.1h4.9v4.8h-4.9z"/>
<path fill="#afcafc" shape-rendering="crispEdges" d="M623.7 52.5h4.9v4.8h-4.9zM637.4 66.1h4.9v4.8h-4.9zM559.9 84.2h4.9v4.8h-4.9zM573.5 125.1h4.9v4.8h-4.9z"/>
<path fill="#ccd9ed" shape-rendering="crispEdges" d="M596.3 57.0h4.9v4.8h-4.9zM559.9 97.8h4.9v4.8h-4.9zM569.0 116.0h4.9v4.8h-4.9zM605.5 120.5h4.9v4.8h-4.9zM587.2 125.1h4.9v4.8h-4.9z"/>
<path fill="#e0dbd8" shape-rendering="crispEdges" d="M600.9 57.0h4.9v4.8h-4.9zM591.8 61.6h4.9v4.8h-4.9zM573.5 75.2h4.9v4.8h-4.9zM637.4 88.8h4.9v4.8h-4.9zM628.3 102.4h4.9v4.8h-4.9z"/>
<path fill="#ecd3c5" shape-rendering="crispEdges" d="M605.5 57.0h4.9v4.8h-4.9zM587.2 66.1h4.9v4.8h-4.9zM564.4 93.3h4.9v4.8h-4.9zM614.6 111.4h4.9v4.8h-4.9zM596.3 120.5h4.9v4.8h-4.9z"/>
<path fill="#f0cdbb" shape-rendering="crispEdges" d="M610.0 57.0h4.9v4.8h-4.9zM623.7 61.6h4.9v4.8h-4.9zM628.3 66.1h4.9v4.8h-4.9zM569.0 106.9h4.9v4.8h-4.9zM605.5 116.0h4.9v4.8h-4.9zM587.2 120.5h4.9v4.8h-4.9zM591.8 120.5h4.9v4.8h-4.9z"/>
<path fill="#eed0c0" shape-rendering="crispEdges" d="M614.6 57.0h4.9v4.8h-4.9z"/>
<path fill="#e6d7cf" shape-rendering="crispEdges" d="M619.1 57.0h4.9v4.8h-4.9zM637.4 84.2h4.9v4.8h-4.9z"/>
<path fill="#d3dbe7" shape-rendering="crispEdges" d="M623.7 57.0h4.9v4.8h-4.9zM582.7 66.1h4.9v4.8h-4.9zM564.4 84.2h4.9v4.8h-4.9z"/>
<path fill="#b9d0f9" shape-rendering="crispEdges" d="M628.3 57.0h4.9v4.8h-4.9zM632.8 61.6h4.9v4.8h-4.9zM641.9 88.8h4.9v4.8h-4.9zM637.4 97.8h4.9v4.8h-4.9z"/>
<path fill="#88abfd" shape-rendering="crispEdges" d="M578.1 61.6h4.9v4.8h-4.9zM623.7 116.0h4.9v4.8h-4.9z"/>
<path fill="#a7c5fe" shape-rendering="crispEdges" d="M582.7 61.6h4.9v4.8h-4.9zM619.1 116.0h4.9v4.8h-4.9z"/>
<path fill="#c4d5f3" shape-rendering="crispEdges" d="M587.2 61.6h4.9v4.8h-4.9zM637.4 70.6h4.9v4.8h-4.9zM559.9 102.4h4.9v4.8h-4.9zM564.4 111.4h4.9v4.8h-4.9zM614.6 116.0h4.9v4.8h-4.9zM582.7 125.1h4.9v4.8h-4.9z"/>
<path fill="#f2cbb7" shape-rendering="crispEdges" d="M596.3 61.6h4.9v4.8h-4.9zM569.0 84.2h4.9v4.8h-4.9zM632.8 93.3h4.9v4.8h-4.9z"/>
<path fill="#f7b599" shape-rendering="crispEdges" d="M600.9 61.6h4.9v4.8h-4.9zM619.1 61.6h4.9v4.8h-4.9zM628.3 70.6h4.9v4.8h-4.9zM632.8 79.7h4.9v4.8h-4.9zM569.0 88.8h4.9v4.8h-4.9z"/>
<path fill="#f6a385" shape-rendering="crispEdges" d="M605.5 61.6h4.9v4.8h-4.9zM614.6 61.6h4.9v4.8h-4.9zM573.5 84.2h4.9v4.8h-4.9zM628.3 93.3h4.9v4.8h-4.9zM578.1 111.4h4.9v4.8h-4.9zM587.2 116.0h4.9v4.8h-4.9z"/>
<path fill="#f59f80" shape-rendering="crispEdges" d="M610.0 61.6h4.9v4.8h-4.9zM596.3 66.1h4.9v4.8h-4.9zM582.7 75.2h4.9v4.8h-4.9zM619.1 102.4h4.9v4.8h-4.9zM605.5 111.4h4.9v4.8h-4.9zM591.8 116.0h4.9v4.8h-4.9z"/>
<path fill="#d6dce4" shape-rendering="crispEdges" d="M628.3 61.6h4.9v4.8h-4.9zM637.4 75.2h4.9v4.8h-4.9zM564.4 106.9h4.9v4.8h-4.9z"/>
<path fill="#f7b99e" shape-rendering="crispEdges" d="M591.8 66.1h4.9v4.8h-4.9zM632.8 88.8h4.9v4.8h-4.9zM569.0 102.4h4.9v4.8h-4.9zM610.0 111.4h4.9v4.8h-4.9zM600.9 116.0h4.9v4.8h-4.9z"/>
<path fill="#f08a6c" shape-rendering="crispEdges" d="M600.9 66.1h4.9v4.8h-4.9zM619.1 66.1h4.9v4.8h-4.9zM623.7 70.6h4.9v4.8h-4.9zM573.5 88.8h4.9v4.8h-4.9zM600.9 111.4h4.9v4.8h-4.9z"/>
<path fill="#e9785d" shape-rendering="crispEdges" d="M605.5 66.1h4.9v4.8h-4.9zM614.6 66.1h4.9v4.8h-4.9zM596.3 70.6h4.9v4.8h-4.9zM623.7 93.3h4.9v4.8h-4.9z"/>
<path fill="#e67259" shape-rendering="crispEdges" d="M610.0 66.1h4.9v4.8h-4.9zM591.8 75.2h4.9v4.8h-4.9zM610.0 102.4h4.9v4.8h-4.9zM587.2 111.4h4.9v4.8h-4.9zM591.8 111.4h4.9v4.8h-4.9z"/>
<path fill="#f7ac8e" shape-rendering="crispEdges" d="M623.7 66.1h4.9v4.8h-4.9zM587.2 70.6h4.9v4.8h-4.9zM569.0 93.3h4.9v4.8h-4.9zM569.0 97.8h4.9v4.8h-4.9zM614.6 106.9h4.9v4.8h-4.9z"/>
<path fill="#cfdaea" shape-rendering="crispEdges" d="M632.8 66.1h4.9v4.8h-4.9zM637.4 93.3h4.9v4.8h-4.9zM619.1 111.4h4.9v4.8h-4.9z"/>
<path fill="#bcd2f7" shape-rendering="crispEdges" d="M573.5 70.6h4.9v4.8h-4.9zM564.4 79.7h4.9v4.8h-4.9zM641.9 79.7h4.9v4.8h-4.9zM641.9 84.2h4.9v4.8h-4.9zM559.9 106.9h4.9v4.8h-4.9zM628.3 106.9h4.9v4.8h-4.9zM578.1 125.1h4.9v4.8h-4.9z"/>
<path fill="#dddcdc" shape-rendering="crispEdges" d="M578.1 70.6h4.9v4.8h-4.9zM569.0 79.7h4.9v4.8h-4.9zM632.8 97.8h4.9v4.8h-4.9zM623.7 106.9h4.9v4.8h-4.9zM569.0 111.4h4.9v4.8h-4.9zM610.0 116.0h4.9v4.8h-4.9zM578.1 120.5h4.9v4.8h-4.9zM600.9 120.5h4.9v4.8h-4.9z"/>
<path fill="#f3c8b2" shape-rendering="crispEdges" d="M582.7 70.6h4.9v4.8h-4.9zM619.1 106.9h4.9v4.8h-4.9z"/>
<path fill="#f18f71" shape-rendering="crispEdges" d="M591.8 70.6h4.9v4.8h-4.9zM628.3 88.8h4.9v4.8h-4.9zM573.5 102.4h4.9v4.8h-4.9zM610.0 106.9h4.9v4.8h-4.9z"/>
<path fill="#e16751" shape-rendering="crispEdges" d="M600.9 70.6h4.9v4.8h-4.9zM619.1 70.6h4.9v4.8h-4.9zM596.3 75.2h4.9v4.8h-4.9zM591.8 79.7h4.9v4.8h-4.9zM582.7 84.2h4.9v4.8h-4.9zM596.3 84.2h4.9v4.8h-4.9zM578.1 88.8h4.9v4.8h-4.9zM600.9 88.8h4.9v4.8h-4.9zM623.7 88.8h4.9v4.8h-4.9zM600.9 93.3h4.9v4.8h-4.9zM605.5 97.8h4.9v4.8h-4.9zM610.0 97.8h4.9v4.8h-4.9z"/>
<path fill="#d95847" shape-rendering="crispEdges" d="M605.5 70.6h4.9v4.8h-4.9zM600.9 75.2h4.9v4.8h-4.9zM600.9 79.7h4.9v4.8h-4.9zM623.7 79.7h4.9v4.8h-4.9zM587.2 84.2h4.9v4.8h-4.9zM623.7 84.2h4.9v4.8h-4.9zM605.5 88.8h4.9v4.8h-4.9zM596.3 93.3h4.9v4.8h-4.9zM610.0 93.3h4.9v4.8h-4.9zM614.6 93.3h4.9v4.8h-4.9zM582.7 106.9h4.9v4.8h-4.9z"/>
<path fill="#d24b40" shape-rendering="crispEdges" d="M610.0 70.6h4.9v4.8h-4.9zM605.5 84.2h4.9v4.8h-4.9zM582.7 88.8h4.9v4.8h-4.9zM587.2 88.8h4.9v4.8h-4.9zM610.0 88.8h4.9v4.8h-4.9zM619.1 88.8h4.9v4.8h-4.9zM596.3 102.4h4.9v4.8h-4.9zM587.2 106.9h4.9v4.8h-4.9z"/>
<path fill="#d65244" shape-rendering="crispEdges" d="M614.6 70.6h4.9v4.8h-4.9zM591.8 88.8h4.9v4.8h-4.9zM578.1 93.3h4.9v4.8h-4.9zM578.1 97.8h4.9v4.8h-4.9zM596.3 97.8h4.9v4.8h-4.9zM591.8 106.9h4.9v4.8h-4.9z"/>
<path fill="#e9d5cb" shape-rendering="crispEdges" d="M632.8 70.6h4.9v4.8h-4.9zM564.4 97.8h4.9v4.8h-4.9zM582.7 120.5h4.9v4.8h-4.9z"/>
<path fill="#80a3fa" shape-rendering="crispEdges" d="M646.5 70.6h4.9v4.8h-4.9zM646.5 93.3h4.9v4.8h-4.9zM559.9 120.5h4.9v4.8h-4.9zM564.4 125.1h4.9v4.8h-4.9zM600.9 129.6h4.9v4.8h-4.9zM664.7 134.1h4.9v4.8h-4.9z"/>
<path fill="#f5c0a7" shape-rendering="crispEdges" d="M578.1 75.2h4.9v4.8h-4.9zM573.5 79.7h4.9v4.8h-4.9zM628.3 97.8h4.9v4.8h-4.9zM623.7 102.4h4.9v4.8h-4.9z"/>
<path fill="#ee8468" shape-rendering="crispEdges" d="M587.2 75.2h4.9v4.8h-4.9zM628.3 79.7h4.9v4.8h-4.9zM628.3 84.2h4.9v4.8h-4.9zM614.6 102.4h4.9v4.8h-4.9zM582.7 111.4h4.9v4.8h-4.9z"/>
<path fill="#cf453c" shape-rendering="crispEdges" d="M605.5 75.2h4.9v4.8h-4.9zM619.1 75.2h4.9v4.8h-4.9zM605.5 79.7h4.9v4.8h-4.9zM614.6 88.8h4.9v4.8h-4.9zM591.8 93.3h4.9v4.8h-4.9z"/>
<path fill="#c53334" shape-rendering="crispEdges" d="M610.0 75.2h4.9v4.8h-4.9zM614.6 75.2h4.9v4.8h-4.9zM619.1 79.7h4.9v4.8h-4.9zM587.2 93.3h4.9v4.8h-4.9zM582.7 97.8h4.9v4.8h-4.9zM587.2 102.4h4.9v4.8h-4.9z"/>
<path fill="#e36c55" shape-rendering="crispEdges" d="M623.7 75.2h4.9v4.8h-4.9zM587.2 79.7h4.9v4.8h-4.9zM614.6 97.8h4.9v4.8h-4.9zM605.5 102.4h4.9v4.8h-4.9zM600.9 106.9h4.9v4.8h-4.9z"/>
<path fill="#f4987a" shape-rendering="crispEdges" d="M628.3 75.2h4.9v4.8h-4.9zM578.1 79.7h4.9v4.8h-4.9zM623.7 97.8h4.9v4.8h-4.9z"/>
<path fill="#f5c4ac" shape-rendering="crispEdges" d="M632.8 75.2h4.9v4.8h-4.9zM573.5 111.4h4.9v4.8h-4.9zM578.1 116.0h4.9v4.8h-4.9z"/>
<path fill="#92b4fe" shape-rendering="crispEdges" d="M646.5 75.2h4.9v4.8h-4.9zM646.5 88.8h4.9v4.8h-4.9zM641.9 97.8h4.9v4.8h-4.9zM555.3 111.4h4.9v4.8h-4.9z"/>
<path fill="#eb7d62" shape-rendering="crispEdges" d="M582.7 79.7h4.9v4.8h-4.9zM578.1 84.2h4.9v4.8h-4.9zM573.5 93.3h4.9v4.8h-4.9zM573.5 97.8h4.9v4.8h-4.9zM619.1 97.8h4.9v4.8h-4.9zM578.1 106.9h4.9v4.8h-4.9zM605.5 106.9h4.9v4.8h-4.9zM596.3 111.4h4.9v4.8h-4.9z"/>
<path fill="#dd5f4b" shape-rendering="crispEdges" d="M596.3 79.7h4.9v4.8h-4.9zM591.8 84.2h4.9v4.8h-4.9zM600.9 84.2h4.9v4.8h-4.9zM596.3 88.8h4.9v4.8h-4.9zM605.5 93.3h4.9v4.8h-4.9zM619.1 93.3h4.9v4.8h-4.9zM600.9 97.8h4.9v4.8h-4.9zM578.1 102.4h4.9v4.8h-4.9zM600.9 102.4h4.9v4.8h-4.9zM596.3 106.9h4.9v4.8h-4.9z"/>
<path fill="#c12b30" shape-rendering="crispEdges" d="M610.0 79.7h4.9v4.8h-4.9zM614.6 84.2h4.9v4.8h-4.9zM587.2 97.8h4.9v4.8h-4.9z"/>
<path fill="#bd1f2d" shape-rendering="crispEdges" d="M614.6 79.7h4.9v4.8h-4.9z"/>
<path fill="#e3d9d3" shape-rendering="crispEdges" d="M637.4 79.7h4.9v4.8h-4.9zM564.4 88.8h4.9v4.8h-4.9zM564.4 102.4h4.9v4.8h-4.9zM573.5 116.0h4.9v4.8h-4.9z"/>
<path fill="#ca3b37" shape-rendering="crispEdges" d="M610.0 84.2h4.9v4.8h-4.9zM619.1 84.2h4.9v4.8h-4.9zM582.7 93.3h4.9v4.8h-4.9zM591.8 97.8h4.9v4.8h-4.9zM582.7 102.4h4.9v4.8h-4.9zM591.8 102.4h4.9v4.8h-4.9z"/>
<path fill="#f7b093" shape-rendering="crispEdges" d="M632.8 84.2h4.9v4.8h-4.9zM582.7 116.0h4.9v4.8h-4.9z"/>
<path fill="#abc8fd" shape-rendering="crispEdges" d="M555.3 93.3h4.9v4.8h-4.9zM641.9 93.3h4.9v4.8h-4.9zM555.3 97.8h4.9v4.8h-4.9zM555.3 102.4h4.9v4.8h-4.9zM559.9 111.4h4.9v4.8h-4.9z"/>
<path fill="#f7a889" shape-rendering="crispEdges" d="M573.5 106.9h4.9v4.8h-4.9zM596.3 116.0h4.9v4.8h-4.9z"/>
<path fill="none" stroke="#d43c3c" stroke-width="0.55" d="M314.7 186.0a1.45 0.82 23 1 0 2.7 1.1a1.45 0.82 23 1 0 -2.7 -1.1M319.3 186.0a1.45 0.79 23 1 0 2.7 1.1a1.45 0.79 23 1 0 -2.7 -1.1M323.9 186.0a1.45 0.53 23 1 0 2.7 1.1a1.45 0.53 23 1 0 -2.7 -1.1M328.4 186.0a1.45 0.35 23 1 0 2.7 1.1a1.45 0.35 23 1 0 -2.7 -1.1M333.0 185.9a1.45 0.21 24 1 0 2.6 1.2a1.45 0.21 24 1 0 -2.6 -1.2M337.6 185.9a1.45 0.12 25 1 0 2.6 1.2a1.45 0.12 25 1 0 -2.6 -1.2M403.0 185.1a1.45 0.12 86 1 0 0.2 2.9a1.45 0.12 86 1 0 -0.2 -2.9M407.7 185.1a1.45 0.21 91 1 0 -0.1 2.9a1.45 0.21 91 1 0 0.1 -2.9M412.4 185.1a1.45 0.35 97 1 0 -0.4 2.9a1.45 0.35 97 1 0 0.4 -2.9M417.1 185.1a1.45 0.53 102 1 0 -0.6 2.8a1.45 0.53 102 1 0 0.6 -2.8M421.8 185.2a1.45 0.79 108 1 0 -0.9 2.8a1.45 0.79 108 1 0 0.9 -2.8M426.5 185.2a1.45 0.82 113 1 0 -1.1 2.7a1.45 0.82 113 1 0 1.1 -2.7M314.7 190.7a1.45 0.79 18 1 0 2.8 0.9a1.45 0.79 18 1 0 -2.8 -0.9M319.2 190.7a1.45 0.51 17 1 0 2.8 0.9a1.45 0.51 17 1 0 -2.8 -0.9M323.8 190.7a1.45 0.31 17 1 0 2.8 0.9a1.45 0.31 17 1 0 -2.8 -0.9M328.4 190.7a1.45 0.16 18 1 0 2.8 0.9a1.45 0.16 18 1 0 -2.8 -0.9M412.4 189.7a1.45 0.16 96 1 0 -0.3 2.9a1.45 0.16 96 1 0 0.3 -2.9M417.1 189.7a1.45 0.31 102 1 0 -0.6 2.8a1.45 0.31 102 1 0 0.6 -2.8M421.8 189.7a1.45 0.51 107 1 0 -0.9 2.8a1.45 0.51 107 1 0 0.9 -2.8M426.5 189.8a1.45 0.79 113 1 0 -1.1 2.7a1.45 0.79 113 1 0 1.1 -2.7M314.6 195.4a1.45 0.53 12 1 0 2.8 0.6a1.45 0.53 12 1 0 -2.8 -0.6M319.2 195.4a1.45 0.31 12 1 0 2.8 0.6a1.45 0.31 12 1 0 -2.8 -0.6M323.8 195.4a1.45 0.14 12 1 0 2.8 0.6a1.45 0.14 12 1 0 -2.8 -0.6M417.1 194.3a1.45 0.14 102 1 0 -0.6 2.8a1.45 0.14 102 1 0 0.6 -2.8M421.8 194.3a1.45 0.31 107 1 0 -0.9 2.8a1.45 0.31 107 1 0 0.9 -2.8M426.5 194.4a1.45 0.53 113 1 0 -1.1 2.7a1.45 0.53 113 1 0 1.1 -2.7M314.6 200.1a1.45 0.35 7 1 0 2.9 0.4a1.45 0.35 7 1 0 -2.9 -0.4M319.2 200.1a1.45 0.16 6 1 0 2.9 0.3a1.45 0.16 6 1 0 -2.9 -0.3M351.3 199.9a1.45 0.12 15 1 0 2.8 0.8a1.45 0.12 15 1 0 -2.8 -0.8M355.9 199.8a1.45 0.16 20 1 0 2.7 1.0a1.45 0.16 20 1 0 -2.7 -1.0M360.5 199.7a1.45 0.28 24 1 0 2.6 1.2a1.45 0.28 24 1 0 -2.6 -1.2M365.2 199.6a1.45 0.37 30 1 0 2.5 1.4a1.45 0.37 30 1 0 -2.5 -1.4M369.8 199.4a1.45 0.39 36 1 0 2.3 1.7a1.45 0.39 36 1 0 -2.3 -1.7M374.5 199.3a1.45 0.37 43 1 0 2.1 2.0a1.45 0.37 43 1 0 -2.1 -2.0M379.2 199.2a1.45 0.28 49 1 0 1.9 2.2a1.45 0.28 49 1 0 -1.9 -2.2M383.9 199.1a1.45 0.16 56 1 0 1.6 2.4a1.45 0.16 56 1 0 -1.6 -2.4M388.7 199.0a1.45 0.12 63 1 0 1.3 2.6a1.45 0.12 63 1 0 -1.3 -2.6M421.8 198.9a1.45 0.16 108 1 0 -0.9 2.8a1.45 0.16 108 1 0 0.9 -2.8M426.5 198.9a1.45 0.35 113 1 0 -1.1 2.7a1.45 0.35 113 1 0 1.1 -2.7M314.6 204.8a1.45 0.21 1 1 0 2.9 0.1a1.45 0.21 1 1 0 -2.9 -0.1M346.7 204.7a1.45 0.19 6 1 0 2.9 0.3a1.45 0.19 6 1 0 -2.9 -0.3M351.2 204.6a1.45 0.42 9 1 0 2.9 0.5a1.45 0.42 9 1 0 -2.9 -0.5M355.9 204.5a1.45 0.65 14 1 0 2.8 0.7a1.45 0.65 14 1 0 -2.8 -0.7M360.5 204.4a1.45 0.91 19 1 0 2.7 0.9a1.45 0.91 19 1 0 -2.7 -0.9M365.1 204.2a1.45 1.04 25 1 0 2.6 1.2a1.45 1.04 25 1 0 -2.6 -1.2M369.8 204.1a1.45 1.04 32 1 0 2.5 1.5a1.45 1.04 32 1 0 -2.5 -1.5M374.5 203.9a1.45 1.04 39 1 0 2.2 1.8a1.45 1.04 39 1 0 -2.2 -1.8M379.2 203.8a1.45 0.91 47 1 0 2.0 2.1a1.45 0.91 47 1 0 -2.0 -2.1M383.9 203.7a1.45 0.65 55 1 0 1.7 2.4a1.45 0.65 55 1 0 -1.7 -2.4M388.6 203.6a1.45 0.42 62 1 0 1.3 2.6a1.45 0.42 62 1 0 -1.3 -2.6M393.4 203.5a1.45 0.19 70 1 0 1.0 2.7a1.45 0.19 70 1 0 -1.0 -2.7M426.6 203.5a1.45 0.21 114 1 0 -1.2 2.6a1.45 0.21 114 1 0 1.2 -2.6M314.6 209.5a1.45 0.12 -4 1 0 2.9 -0.2a1.45 0.12 -4 1 0 -2.9 0.2M342.1 209.5a1.45 0.28 -4 1 0 2.9 -0.2a1.45 0.28 -4 1 0 -2.9 0.2M346.7 209.5a1.45 0.61 -1 1 0 2.9 -0.1a1.45 0.61 -1 1 0 -2.9 0.1M351.2 209.4a1.45 1.04 3 1 0 2.9 0.1a1.45 1.04 3 1 0 -2.9 -0.1M355.8 209.3a1.45 1.02 7 1 0 2.9 0.4a1.45 1.02 7 1 0 -2.9 -0.4M360.4 209.1a1.45 1.00 13 1 0 2.8 0.7a1.45 1.00 13 1 0 -2.8 -0.7M365.1 208.9a1.45 0.99 20 1 0 2.7 1.0a1.45 0.99 20 1 0 -2.7 -1.0M369.7 208.8a1.45 0.99 28 1 0 2.6 1.4a1.45 0.99 28 1 0 -2.6 -1.4M374.4 208.6a1.45 0.99 36 1 0 2.3 1.7a1.45 0.99 36 1 0 -2.3 -1.7M379.1 208.4a1.45 1.00 45 1 0 2.0 2.1a1.45 1.00 45 1 0 -2.0 -2.1M383.9 208.3a1.45 1.02 54 1 0 1.7 2.3a1.45 1.02 54 1 0 -1.7 -2.3M388.6 208.2a1.45 1.04 62 1 0 1.4 2.6a1.45 1.04 62 1 0 -1.4 -2.6M393.4 208.1a1.45 0.61 70 1 0 1.0 2.7a1.45 0.61 70 1 0 -1.0 -2.7M398.2 208.0a1.45 0.28 78 1 0 0.6 2.8a1.45 0.28 78 1 0 -0.6 -2.8M426.6 208.1a1.45 0.12 115 1 0 -1.2 2.6a1.45 0.12 115 1 0 1.2 -2.6M337.5 214.3a1.45 0.28 -12 1 0 2.8 -0.6a1.45 0.28 -12 1 0 -2.8 0.6M342.1 214.3a1.45 0.69 -11 1 0 2.8 -0.6a1.45 0.69 -11 1 0 -2.8 0.6M346.7 214.2a1.45 1.03 -9 1 0 2.9 -0.4a1.45 1.03 -9 1 0 -2.9 0.4M351.2 214.1a1.45 1.00 -5 1 0 2.9 -0.2a1.45 1.00 -5 1 0 -2.9 0.2M355.8 214.0a1.45 0.97 0 1 0 2.9 0.0a1.45 0.97 0 1 0 -2.9 -0.0M360.4 213.8a1.45 0.95 7 1 0 2.9 0.3a1.45 0.95 7 1 0 -2.9 -0.3M365.0 213.6a1.45 0.94 15 1 0 2.8 0.7a1.45 0.94 15 1 0 -2.8 -0.7M369.7 213.4a1.45 0.94 24 1 0 2.6 1.2a1.45 0.94 24 1 0 -2.6 -1.2M374.4 213.2a1.45 0.94 34 1 0 2.4 1.6a1.45 0.94 34 1 0 -2.4 -1.6M379.1 213.0a1.45 0.95 44 1 0 2.1 2.0a1.45 0.95 44 1 0 -2.1 -2.0M383.9 212.9a1.45 0.97 53 1 0 1.7 2.3a1.45 0.97 53 1 0 -1.7 -2.3M388.7 212.7a1.45 1.00 63 1 0 1.3 2.6a1.45 1.00 63 1 0 -1.3 -2.6M393.4 212.6a1.45 1.03 71 1 0 0.9 2.7a1.45 1.03 71 1 0 -0.9 -2.7M398.2 212.6a1.45 0.69 79 1 0 0.6 2.8a1.45 0.69 79 1 0 -0.6 -2.8M403.0 212.6a1.45 0.28 86 1 0 0.2 2.9a1.45 0.28 86 1 0 -0.2 -2.9M333.0 219.1a1.45 0.19 -20 1 0 2.7 -1.0a1.45 0.19 -20 1 0 -2.7 1.0M337.6 219.1a1.45 0.61 -20 1 0 2.7 -1.0a1.45 0.61 -20 1 0 -2.7 1.0M342.1 219.1a1.45 1.03 -19 1 0 2.7 -0.9a1.45 1.03 -19 1 0 -2.7 0.9M346.7 219.0a1.45 0.99 -17 1 0 2.8 -0.8a1.45 0.99 -17 1 0 -2.8 0.8M351.3 218.9a1.45 0.96 -13 1 0 2.8 -0.7a1.45 0.96 -13 1 0 -2.8 0.7M355.8 218.8a1.45 0.93 -8 1 0 2.9 -0.4a1.45 0.93 -8 1 0 -2.9 0.4M360.4 218.6a1.45 0.91 -0 1 0 2.9 -0.0a1.45 0.91 -0 1 0 -2.9 0.0M365.0 218.4a1.45 0.68 9 1 0 2.9 0.5a1.45 0.68 9 1 0 -2.9 -0.5M369.6 218.1a1.45 0.61 20 1 0 2.7 1.0a1.45 0.61 20 1 0 -2.7 -1.0M374.3 217.8a1.45 0.68 32 1 0 2.5 1.5a1.45 0.68 32 1 0 -2.5 -1.5M379.1 217.6a1.45 0.91 43 1 0 2.1 2.0a1.45 0.91 43 1 0 -2.1 -2.0M383.9 217.4a1.45 0.93 54 1 0 1.7 2.4a1.45 0.93 54 1 0 -1.7 -2.4M388.7 217.3a1.45 0.96 64 1 0 1.3 2.6a1.45 0.96 64 1 0 -1.3 -2.6M393.5 217.2a1.45 0.99 73 1 0 0.8 2.8a1.45 0.99 73 1 0 -0.8 -2.8M398.3 217.2a1.45 1.03 81 1 0 0.4 2.9a1.45 1.03 81 1 0 -0.4 -2.9M403.0 217.2a1.45 0.61 89 1 0 0.1 2.9a1.45 0.61 89 1 0 -0.1 -2.9M407.8 217.2a1.45 0.19 96 1 0 -0.3 2.9a1.45 0.19 96 1 0 0.3 -2.9M328.5 223.8a1.45 0.12 -27 1 0 2.6 -1.3a1.45 0.12 -27 1 0 -2.6 1.3M333.1 223.9a1.45 0.42 -28 1 0 2.6 -1.3a1.45 0.42 -28 1 0 -2.6 1.3M337.7 223.9a1.45 1.04 -28 1 0 2.6 -1.4a1.45 1.04 -28 1 0 -2.6 1.4M342.2 223.8a1.45 1.00 -27 1 0 2.6 -1.3a1.45 1.00 -27 1 0 -2.6 1.3M346.8 223.8a1.45 0.96 -26 1 0 2.6 -1.3a1.45 0.96 -26 1 0 -2.6 1.3M351.3 223.7a1.45 0.92 -22 1 0 2.7 -1.1a1.45 0.92 -22 1 0 -2.7 1.1M355.9 223.6a1.45 0.61 -17 1 0 2.8 -0.8a1.45 0.61 -17 1 0 -2.8 0.8M360.4 223.4a1.45 0.31 -9 1 0 2.9 -0.4a1.45 0.31 -9 1 0 -2.9 0.4M365.0 223.1a1.45 0.15 2 1 0 2.9 0.1a1.45 0.15 2 1 0 -2.9 -0.1M369.6 222.8a1.45 0.12 16 1 0 2.8 0.8a1.45 0.12 16 1 0 -2.8 -0.8M374.3 222.4a1.45 0.15 31 1 0 2.5 1.5a1.45 0.15 31 1 0 -2.5 -1.5M379.1 222.2a1.45 0.31 44 1 0 2.1 2.0a1.45 0.31 44 1 0 -2.1 -2.0M383.9 222.0a1.45 0.61 57 1 0 1.6 2.4a1.45 0.61 57 1 0 -1.6 -2.4M388.8 221.8a1.45 0.92 68 1 0 1.1 2.7a1.45 0.92 68 1 0 -1.1 -2.7M393.6 221.8a1.45 0.96 77 1 0 0.7 2.8a1.45 0.96 77 1 0 -0.7 -2.8M398.4 221.7a1.45 1.00 85 1 0 0.2 2.9a1.45 1.00 85 1 0 -0.2 -2.9M403.1 221.7a1.45 1.04 93 1 0 -0.1 2.9a1.45 1.04 93 1 0 0.1 -2.9M407.9 221.7a1.45 0.42 99 1 0 -0.5 2.9a1.45 0.42 99 1 0 0.5 -2.9M412.6 221.8a1.45 0.12 105 1 0 -0.8 2.8a1.45 0.12 105 1 0 0.8 -2.8M328.6 228.6a1.45 0.16 -34 1 0 2.4 -1.6a1.45 0.16 -34 1 0 -2.4 1.6M333.2 228.6a1.45 0.65 -35 1 0 2.4 -1.7a1.45 0.65 -35 1 0 -2.4 1.7M337.8 228.6a1.45 1.02 -36 1 0 2.3 -1.7a1.45 1.02 -36 1 0 -2.3 1.7M342.4 228.6a1.45 0.97 -37 1 0 2.3 -1.7a1.45 0.97 -37 1 0 -2.3 1.7M346.9 228.6a1.45 0.93 -36 1 0 2.4 -1.7a1.45 0.93 -36 1 0 -2.4 1.7M351.5 228.6a1.45 0.61 -33 1 0 2.4 -1.6a1.45 0.61 -33 1 0 -2.4 1.6M356.0 228.4a1.45 0.20 -28 1 0 2.6 -1.4a1.45 0.20 -28 1 0 -2.6 1.4M384.1 226.5a1.45 0.20 62 1 0 1.4 2.6a1.45 0.20 62 1 0 -1.4 -2.6M388.9 226.4a1.45 0.61 73 1 0 0.8 2.8a1.45 0.61 73 1 0 -0.8 -2.8M393.7 226.3a1.45 0.93 82 1 0 0.4 2.9a1.45 0.93 82 1 0 -0.4 -2.9M398.5 226.3a1.45 0.97 90 1 0 -0.0 2.9a1.45 0.97 90 1 0 0.0 -2.9M403.2 226.3a1.45 1.02 97 1 0 -0.4 2.9a1.45 1.02 97 1 0 0.4 -2.9M408.0 226.4a1.45 0.65 104 1 0 -0.7 2.8a1.45 0.65 104 1 0 0.7 -2.8M412.7 226.4a1.45 0.16 110 1 0 -1.0 2.7a1.45 0.16 110 1 0 1.0 -2.7M328.7 233.3a1.45 0.28 -41 1 0 2.2 -1.9a1.45 0.28 -41 1 0 -2.2 1.9M333.3 233.3a1.45 0.91 -43 1 0 2.1 -2.0a1.45 0.91 -43 1 0 -2.1 2.0M337.9 233.4a1.45 1.00 -45 1 0 2.1 -2.0a1.45 1.00 -45 1 0 -2.1 2.0M342.5 233.4a1.45 0.95 -46 1 0 2.0 -2.1a1.45 0.95 -46 1 0 -2.0 2.1M347.1 233.4a1.45 0.91 -47 1 0 2.0 -2.1a1.45 0.91 -47 1 0 -2.0 2.1M351.7 233.4a1.45 0.31 -46 1 0 2.0 -2.1a1.45 0.31 -46 1 0 -2.0 2.1M389.1 230.9a1.45 0.31 81 1 0 0.4 2.9a1.45 0.31 81 1 0 -0.4 -2.9M393.9 230.9a1.45 0.91 90 1 0 0.0 2.9a1.45 0.91 90 1 0 -0.0 -2.9M398.7 230.9a1.45 0.95 97 1 0 -0.3 2.9a1.45 0.95 97 1 0 0.3 -2.9M403.4 230.9a1.45 1.00 103 1 0 -0.7 2.8a1.45 1.00 103 1 0 0.7 -2.8M408.1 231.0a1.45 0.91 109 1 0 -0.9 2.7a1.45 0.91 109 1 0 0.9 -2.7M412.8 231.0a1.45 0.28 114 1 0 -1.2 2.6a1.45 0.28 114 1 0 1.2 -2.6M328.8 238.0a1.45 0.37 -47 1 0 2.0 -2.1a1.45 0.37 -47 1 0 -2.0 2.1M333.4 238.0a1.45 1.04 -51 1 0 1.8 -2.2a1.45 1.04 -51 1 0 -1.8 2.2M338.1 238.1a1.45 0.99 -54 1 0 1.7 -2.3a1.45 0.99 -54 1 0 -1.7 2.3M342.7 238.1a1.45 0.94 -56 1 0 1.6 -2.4a1.45 0.94 -56 1 0 -1.6 2.4M347.3 238.2a1.45 0.68 -58 1 0 1.5 -2.5a1.45 0.68 -58 1 0 -1.5 2.5M351.9 238.2a1.45 0.15 -59 1 0 1.5 -2.5a1.45 0.15 -59 1 0 -1.5 2.5M389.4 235.5a1.45 0.15 92 1 0 -0.1 2.9a1.45 0.15 92 1 0 0.1 -2.9M394.1 235.5a1.45 0.68 99 1 0 -0.5 2.9a1.45 0.68 99 1 0 0.5 -2.9M398.9 235.5a1.45 0.94 105 1 0 -0.7 2.8a1.45 0.94 105 1 0 0.7 -2.8M403.6 235.6a1.45 0.99 110 1 0 -1.0 2.7a1.45 0.99 110 1 0 1.0 -2.7M408.3 235.6a1.45 1.04 115 1 0 -1.2 2.6a1.45 1.04 115 1 0 1.2 -2.6M412.9 235.7a1.45 0.37 120 1 0 -1.4 2.5a1.45 0.37 120 1 0 1.4 -2.5M328.9 242.7a1.45 0.39 306 1 0 1.7 -2.3a1.45 0.39 306 1 0 -1.7 2.3M333.6 242.7a1.45 1.04 302 1 0 1.5 -2.5a1.45 1.04 302 1 0 -1.5 2.5M338.3 242.8a1.45 0.99 298 1 0 1.4 -2.6a1.45 0.99 298 1 0 -1.4 2.6M342.9 242.8a1.45 0.94 294 1 0 1.2 -2.6a1.45 0.94 294 1 0 -1.2 2.6M347.6 242.9a1.45 0.61 290 1 0 1.0 -2.7a1.45 0.61 290 1 0 -1.0 2.7M352.3 242.9a1.45 0.12 286 1 0 0.8 -2.8a1.45 0.12 286 1 0 -0.8 2.8M389.7 240.1a1.45 0.12 106 1 0 -0.8 2.8a1.45 0.12 106 1 0 0.8 -2.8M394.4 240.1a1.45 0.61 110 1 0 -1.0 2.7a1.45 0.61 110 1 0 1.0 -2.7M399.1 240.2a1.45 0.94 114 1 0 -1.2 2.6a1.45 0.94 114 1 0 1.2 -2.6M403.7 240.2a1.45 0.99 118 1 0 -1.4 2.6a1.45 0.99 118 1 0 1.4 -2.6M408.4 240.3a1.45 1.04 122 1 0 -1.5 2.5a1.45 1.04 122 1 0 1.5 -2.5M413.1 240.3a1.45 0.39 126 1 0 -1.7 2.3a1.45 0.39 126 1 0 1.7 -2.3M329.1 247.3a1.45 0.37 300 1 0 1.4 -2.5a1.45 0.37 300 1 0 -1.4 2.5M333.7 247.4a1.45 1.04 295 1 0 1.2 -2.6a1.45 1.04 295 1 0 -1.2 2.6M338.4 247.4a1.45 0.99 290 1 0 1.0 -2.7a1.45 0.99 290 1 0 -1.0 2.7M343.1 247.5a1.45 0.94 285 1 0 0.7 -2.8a1.45 0.94 285 1 0 -0.7 2.8M347.9 247.5a1.45 0.68 279 1 0 0.5 -2.9a1.45 0.68 279 1 0 -0.5 2.9M352.6 247.5a1.45 0.15 272 1 0 0.1 -2.9a1.45 0.15 272 1 0 -0.1 2.9M390.1 244.8a1.45 0.15 121 1 0 -1.5 2.5a1.45 0.15 121 1 0 1.5 -2.5M394.7 244.8a1.45 0.68 122 1 0 -1.5 2.5a1.45 0.68 122 1 0 1.5 -2.5M399.3 244.9a1.45 0.94 124 1 0 -1.6 2.4a1.45 0.94 124 1 0 1.6 -2.4M403.9 244.9a1.45 0.99 126 1 0 -1.7 2.3a1.45 0.99 126 1 0 1.7 -2.3M408.6 245.0a1.45 1.04 129 1 0 -1.8 2.2a1.45 1.04 129 1 0 1.8 -2.2M413.2 245.0a1.45 0.37 133 1 0 -2.0 2.1a1.45 0.37 133 1 0 2.0 -2.1M329.2 252.0a1.45 0.28 294 1 0 1.2 -2.6a1.45 0.28 294 1 0 -1.2 2.6M333.9 252.0a1.45 0.91 289 1 0 0.9 -2.7a1.45 0.91 289 1 0 -0.9 2.7M338.6 252.1a1.45 1.00 283 1 0 0.7 -2.8a1.45 1.00 283 1 0 -0.7 2.8M343.3 252.1a1.45 0.95 277 1 0 0.3 -2.9a1.45 0.95 277 1 0 -0.3 2.9M348.1 252.1a1.45 0.91 270 1 0 -0.0 -2.9a1.45 0.91 270 1 0 0.0 2.9M352.9 252.1a1.45 0.31 261 1 0 -0.4 -2.9a1.45 0.31 261 1 0 0.4 2.9M390.3 249.6a1.45 0.31 134 1 0 -2.0 2.1a1.45 0.31 134 1 0 2.0 -2.1M394.9 249.6a1.45 0.91 133 1 0 -2.0 2.1a1.45 0.91 133 1 0 2.0 -2.1M399.5 249.6a1.45 0.95 134 1 0 -2.0 2.1a1.45 0.95 134 1 0 2.0 -2.1M404.1 249.6a1.45 1.00 135 1 0 -2.1 2.0a1.45 1.00 135 1 0 2.1 -2.0M408.7 249.7a1.45 0.91 137 1 0 -2.1 2.0a1.45 0.91 137 1 0 2.1 -2.0M413.3 249.7a1.45 0.28 139 1 0 -2.2 1.9a1.45 0.28 139 1 0 2.2 -1.9M329.3 256.6a1.45 0.16 290 1 0 1.0 -2.7a1.45 0.16 290 1 0 -1.0 2.7M334.0 256.6a1.45 0.65 284 1 0 0.7 -2.8a1.45 0.65 284 1 0 -0.7 2.8M338.8 256.7a1.45 1.02 277 1 0 0.4 -2.9a1.45 1.02 277 1 0 -0.4 2.9M343.5 256.7a1.45 0.97 270 1 0 0.0 -2.9a1.45 0.97 270 1 0 -0.0 2.9M348.3 256.7a1.45 0.93 262 1 0 -0.4 -2.9a1.45 0.93 262 1 0 0.4 2.9M353.1 256.6a1.45 0.61 253 1 0 -0.8 -2.8a1.45 0.61 253 1 0 0.8 2.8M357.9 256.5a1.45 0.20 242 1 0 -1.4 -2.6a1.45 0.20 242 1 0 1.4 2.6M386.0 254.6a1.45 0.20 152 1 0 -2.6 1.4a1.45 0.20 152 1 0 2.6 -1.4M390.5 254.4a1.45 0.61 147 1 0 -2.4 1.6a1.45 0.61 147 1 0 2.4 -1.6M395.1 254.4a1.45 0.93 144 1 0 -2.4 1.7a1.45 0.93 144 1 0 2.4 -1.7M399.6 254.4a1.45 0.97 143 1 0 -2.3 1.7a1.45 0.97 143 1 0 2.3 -1.7M404.2 254.4a1.45 1.02 144 1 0 -2.3 1.7a1.45 1.02 144 1 0 2.3 -1.7M408.8 254.4a1.45 0.65 145 1 0 -2.4 1.7a1.45 0.65 145 1 0 2.4 -1.7M413.4 254.4a1.45 0.16 146 1 0 -2.4 1.6a1.45 0.16 146 1 0 2.4 -1.6M329.4 261.2a1.45 0.12 285 1 0 0.8 -2.8a1.45 0.12 285 1 0 -0.8 2.8M334.1 261.3a1.45 0.42 279 1 0 0.5 -2.9a1.45 0.42 279 1 0 -0.5 2.9M338.9 261.3a1.45 1.04 273 1 0 0.1 -2.9a1.45 1.04 273 1 0 -0.1 2.9M343.6 261.3a1.45 1.00 265 1 0 -0.2 -2.9a1.45 1.00 265 1 0 0.2 2.9M348.4 261.2a1.45 0.96 257 1 0 -0.7 -2.8a1.45 0.96 257 1 0 0.7 2.8M353.2 261.2a1.45 0.92 248 1 0 -1.1 -2.7a1.45 0.92 248 1 0 1.1 2.7M358.1 261.0a1.45 0.61 237 1 0 -1.6 -2.4a1.45 0.61 237 1 0 1.6 2.4M362.9 260.8a1.45 0.31 224 1 0 -2.1 -2.0a1.45 0.31 224 1 0 2.1 2.0M367.7 260.6a1.45 0.15 211 1 0 -2.5 -1.5a1.45 0.15 211 1 0 2.5 1.5M372.4 260.2a1.45 0.12 196 1 0 -2.8 -0.8a1.45 0.12 196 1 0 2.8 0.8M377.0 259.9a1.45 0.15 182 1 0 -2.9 -0.1a1.45 0.15 182 1 0 2.9 0.1M381.6 259.6a1.45 0.31 171 1 0 -2.9 0.4a1.45 0.31 171 1 0 2.9 -0.4M386.1 259.4a1.45 0.61 163 1 0 -2.8 0.8a1.45 0.61 163 1 0 2.8 -0.8M390.7 259.3a1.45 0.92 158 1 0 -2.7 1.1a1.45 0.92 158 1 0 2.7 -1.1M395.2 259.2a1.45 0.96 154 1 0 -2.6 1.3a1.45 0.96 154 1 0 2.6 -1.3M399.8 259.2a1.45 1.00 153 1 0 -2.6 1.3a1.45 1.00 153 1 0 2.6 -1.3M404.3 259.1a1.45 1.04 152 1 0 -2.6 1.4a1.45 1.04 152 1 0 2.6 -1.4M408.9 259.1a1.45 0.42 152 1 0 -2.6 1.3a1.45 0.42 152 1 0 2.6 -1.3M413.5 259.2a1.45 0.12 153 1 0 -2.6 1.3a1.45 0.12 153 1 0 2.6 -1.3M334.2 265.8a1.45 0.19 276 1 0 0.3 -2.9a1.45 0.19 276 1 0 -0.3 2.9M339.0 265.8a1.45 0.61 269 1 0 -0.1 -2.9a1.45 0.61 269 1 0 0.1 2.9M343.7 265.8a1.45 1.03 261 1 0 -0.4 -2.9a1.45 1.03 261 1 0 0.4 2.9M348.5 265.8a1.45 0.99 253 1 0 -0.8 -2.8a1.45 0.99 253 1 0 0.8 2.8M353.3 265.7a1.45 0.96 244 1 0 -1.3 -2.6a1.45 0.96 244 1 0 1.3 2.6M358.1 265.6a1.45 0.93 234 1 0 -1.7 -2.4a1.45 0.93 234 1 0 1.7 2.4M362.9 265.4a1.45 0.91 223 1 0 -2.1 -2.0a1.45 0.91 223 1 0 2.1 2.0M367.7 265.2a1.45 0.68 212 1 0 -2.5 -1.5a1.45 0.68 212 1 0 2.5 1.5M372.4 264.9a1.45 0.61 200 1 0 -2.7 -1.0a1.45 0.61 200 1 0 2.7 1.0M377.0 264.6a1.45 0.68 189 1 0 -2.9 -0.5a1.45 0.68 189 1 0 2.9 0.5M381.6 264.4a1.45 0.91 180 1 0 -2.9 0.0a1.45 0.91 180 1 0 2.9 -0.0M386.2 264.2a1.45 0.93 172 1 0 -2.9 0.4a1.45 0.93 172 1 0 2.9 -0.4M390.7 264.1a1.45 0.96 167 1 0 -2.8 0.7a1.45 0.96 167 1 0 2.8 -0.7M395.3 264.0a1.45 0.99 163 1 0 -2.8 0.8a1.45 0.99 163 1 0 2.8 -0.8M399.9 263.9a1.45 1.03 161 1 0 -2.7 0.9a1.45 1.03 161 1 0 2.7 -0.9M404.4 263.9a1.45 0.61 160 1 0 -2.7 1.0a1.45 0.61 160 1 0 2.7 -1.0M409.0 263.9a1.45 0.19 160 1 0 -2.7 1.0a1.45 0.19 160 1 0 2.7 -1.0M339.0 270.4a1.45 0.28 266 1 0 -0.2 -2.9a1.45 0.28 266 1 0 0.2 2.9M343.8 270.4a1.45 0.69 259 1 0 -0.6 -2.8a1.45 0.69 259 1 0 0.6 2.8M348.6 270.4a1.45 1.03 251 1 0 -0.9 -2.7a1.45 1.03 251 1 0 0.9 2.7M353.3 270.3a1.45 1.00 243 1 0 -1.3 -2.6a1.45 1.00 243 1 0 1.3 2.6M358.1 270.1a1.45 0.97 233 1 0 -1.7 -2.3a1.45 0.97 233 1 0 1.7 2.3M362.9 270.0a1.45 0.95 224 1 0 -2.1 -2.0a1.45 0.95 224 1 0 2.1 2.0M367.6 269.8a1.45 0.94 214 1 0 -2.4 -1.6a1.45 0.94 214 1 0 2.4 1.6M372.3 269.6a1.45 0.94 204 1 0 -2.6 -1.2a1.45 0.94 204 1 0 2.6 1.2M377.0 269.4a1.45 0.94 195 1 0 -2.8 -0.7a1.45 0.94 195 1 0 2.8 0.7M381.6 269.2a1.45 0.95 187 1 0 -2.9 -0.3a1.45 0.95 187 1 0 2.9 0.3M386.2 269.0a1.45 0.97 180 1 0 -2.9 -0.0a1.45 0.97 180 1 0 2.9 0.0M390.8 268.9a1.45 1.00 175 1 0 -2.9 0.2a1.45 1.00 175 1 0 2.9 -0.2M395.3 268.8a1.45 1.03 171 1 0 -2.9 0.4a1.45 1.03 171 1 0 2.9 -0.4M399.9 268.7a1.45 0.69 169 1 0 -2.8 0.6a1.45 0.69 169 1 0 2.8 -0.6M404.5 268.7a1.45 0.28 168 1 0 -2.8 0.6a1.45 0.28 168 1 0 2.8 -0.6M315.4 274.9a1.45 0.12 295 1 0 1.2 -2.6a1.45 0.12 295 1 0 -1.2 2.6M343.8 275.0a1.45 0.28 258 1 0 -0.6 -2.8a1.45 0.28 258 1 0 0.6 2.8M348.6 274.9a1.45 0.61 250 1 0 -1.0 -2.7a1.45 0.61 250 1 0 1.0 2.7M353.4 274.8a1.45 1.04 242 1 0 -1.4 -2.6a1.45 1.04 242 1 0 1.4 2.6M358.1 274.7a1.45 1.02 234 1 0 -1.7 -2.3a1.45 1.02 234 1 0 1.7 2.3M362.9 274.6a1.45 1.00 225 1 0 -2.0 -2.1a1.45 1.00 225 1 0 2.0 2.1M367.6 274.4a1.45 0.99 216 1 0 -2.3 -1.7a1.45 0.99 216 1 0 2.3 1.7M372.3 274.2a1.45 0.99 208 1 0 -2.6 -1.4a1.45 0.99 208 1 0 2.6 1.4M376.9 274.1a1.45 0.99 200 1 0 -2.7 -1.0a1.45 0.99 200 1 0 2.7 1.0M381.6 273.9a1.45 1.00 193 1 0 -2.8 -0.7a1.45 1.00 193 1 0 2.8 0.7M386.2 273.7a1.45 1.02 187 1 0 -2.9 -0.4a1.45 1.02 187 1 0 2.9 0.4M390.8 273.6a1.45 1.04 183 1 0 -2.9 -0.1a1.45 1.04 183 1 0 2.9 0.1M395.3 273.5a1.45 0.61 179 1 0 -2.9 0.1a1.45 0.61 179 1 0 2.9 -0.1M399.9 273.5a1.45 0.28 176 1 0 -2.9 0.2a1.45 0.28 176 1 0 2.9 -0.2M427.4 273.5a1.45 0.12 176 1 0 -2.9 0.2a1.45 0.12 176 1 0 2.9 -0.2M315.4 279.5a1.45 0.21 294 1 0 1.2 -2.6a1.45 0.21 294 1 0 -1.2 2.6M348.6 279.5a1.45 0.19 250 1 0 -1.0 -2.7a1.45 0.19 250 1 0 1.0 2.7M353.4 279.4a1.45 0.42 242 1 0 -1.3 -2.6a1.45 0.42 242 1 0 1.3 2.6M358.1 279.3a1.45 0.65 235 1 0 -1.7 -2.4a1.45 0.65 235 1 0 1.7 2.4M362.8 279.2a1.45 0.91 227 1 0 -2.0 -2.1a1.45 0.91 227 1 0 2.0 2.1M367.5 279.1a1.45 1.04 219 1 0 -2.2 -1.8a1.45 1.04 219 1 0 2.2 1.8M372.2 278.9a1.45 1.04 212 1 0 -2.5 -1.5a1.45 1.04 212 1 0 2.5 1.5M376.9 278.8a1.45 1.04 205 1 0 -2.6 -1.2a1.45 1.04 205 1 0 2.6 1.2M381.5 278.6a1.45 0.91 199 1 0 -2.7 -0.9a1.45 0.91 199 1 0 2.7 0.9M386.1 278.5a1.45 0.65 194 1 0 -2.8 -0.7a1.45 0.65 194 1 0 2.8 0.7M390.8 278.4a1.45 0.42 189 1 0 -2.9 -0.5a1.45 0.42 189 1 0 2.9 0.5M395.3 278.3a1.45 0.19 186 1 0 -2.9 -0.3a1.45 0.19 186 1 0 2.9 0.3M427.4 278.2a1.45 0.21 181 1 0 -2.9 -0.1a1.45 0.21 181 1 0 2.9 0.1M315.5 284.1a1.45 0.35 293 1 0 1.1 -2.7a1.45 0.35 293 1 0 -1.1 2.7M320.2 284.1a1.45 0.16 288 1 0 0.9 -2.8a1.45 0.16 288 1 0 -0.9 2.8M353.3 284.0a1.45 0.12 243 1 0 -1.3 -2.6a1.45 0.12 243 1 0 1.3 2.6M358.1 283.9a1.45 0.16 236 1 0 -1.6 -2.4a1.45 0.16 236 1 0 1.6 2.4M362.8 283.8a1.45 0.28 229 1 0 -1.9 -2.2a1.45 0.28 229 1 0 1.9 2.2M367.5 283.7a1.45 0.37 223 1 0 -2.1 -2.0a1.45 0.37 223 1 0 2.1 2.0M372.2 283.6a1.45 0.39 216 1 0 -2.3 -1.7a1.45 0.39 216 1 0 2.3 1.7M376.8 283.4a1.45 0.37 210 1 0 -2.5 -1.4a1.45 0.37 210 1 0 2.5 1.4M381.5 283.3a1.45 0.28 204 1 0 -2.6 -1.2a1.45 0.28 204 1 0 2.6 1.2M386.1 283.2a1.45 0.16 200 1 0 -2.7 -1.0a1.45 0.16 200 1 0 2.7 1.0M390.7 283.1a1.45 0.12 195 1 0 -2.8 -0.8a1.45 0.12 195 1 0 2.8 0.8M422.8 282.9a1.45 0.16 186 1 0 -2.9 -0.3a1.45 0.16 186 1 0 2.9 0.3M427.4 282.9a1.45 0.35 187 1 0 -2.9 -0.4a1.45 0.35 187 1 0 2.9 0.4M315.5 288.6a1.45 0.53 293 1 0 1.1 -2.7a1.45 0.53 293 1 0 -1.1 2.7M320.2 288.7a1.45 0.31 287 1 0 0.9 -2.8a1.45 0.31 287 1 0 -0.9 2.8M324.9 288.7a1.45 0.14 282 1 0 0.6 -2.8a1.45 0.14 282 1 0 -0.6 2.8M418.2 287.6a1.45 0.14 192 1 0 -2.8 -0.6a1.45 0.14 192 1 0 2.8 0.6M422.8 287.6a1.45 0.31 192 1 0 -2.8 -0.6a1.45 0.31 192 1 0 2.8 0.6M427.4 287.6a1.45 0.53 192 1 0 -2.8 -0.6a1.45 0.53 192 1 0 2.8 0.6M315.5 293.2a1.45 0.79 293 1 0 1.1 -2.7a1.45 0.79 293 1 0 -1.1 2.7M320.2 293.3a1.45 0.51 287 1 0 0.9 -2.8a1.45 0.51 287 1 0 -0.9 2.8M324.9 293.3a1.45 0.31 282 1 0 0.6 -2.8a1.45 0.31 282 1 0 -0.6 2.8M329.6 293.3a1.45 0.16 276 1 0 0.3 -2.9a1.45 0.16 276 1 0 -0.3 2.9M413.6 292.3a1.45 0.16 198 1 0 -2.8 -0.9a1.45 0.16 198 1 0 2.8 0.9M418.2 292.3a1.45 0.31 197 1 0 -2.8 -0.9a1.45 0.31 197 1 0 2.8 0.9M422.8 292.3a1.45 0.51 197 1 0 -2.8 -0.9a1.45 0.51 197 1 0 2.8 0.9M427.3 292.3a1.45 0.79 198 1 0 -2.8 -0.9a1.45 0.79 198 1 0 2.8 0.9M315.5 297.8a1.45 0.82 293 1 0 1.1 -2.7a1.45 0.82 293 1 0 -1.1 2.7M320.2 297.8a1.45 0.79 288 1 0 0.9 -2.8a1.45 0.79 288 1 0 -0.9 2.8M324.9 297.9a1.45 0.53 282 1 0 0.6 -2.8a1.45 0.53 282 1 0 -0.6 2.8M329.6 297.9a1.45 0.35 277 1 0 0.4 -2.9a1.45 0.35 277 1 0 -0.4 2.9M334.3 297.9a1.45 0.21 271 1 0 0.1 -2.9a1.45 0.21 271 1 0 -0.1 2.9M339.0 297.9a1.45 0.12 266 1 0 -0.2 -2.9a1.45 0.12 266 1 0 0.2 2.9M404.4 297.1a1.45 0.12 205 1 0 -2.6 -1.2a1.45 0.12 205 1 0 2.6 1.2M409.0 297.1a1.45 0.21 204 1 0 -2.6 -1.2a1.45 0.21 204 1 0 2.6 1.2M413.6 297.0a1.45 0.35 203 1 0 -2.7 -1.1a1.45 0.35 203 1 0 2.7 1.1M418.1 297.0a1.45 0.53 203 1 0 -2.7 -1.1a1.45 0.53 203 1 0 2.7 1.1M422.7 297.0a1.45 0.79 203 1 0 -2.7 -1.1a1.45 0.79 203 1 0 2.7 1.1M427.3 297.0a1.45 0.82 203 1 0 -2.7 -1.1a1.45 0.82 203 1 0 2.7 1.1"/>
<path fill="none" stroke="#3c3cd8" stroke-width="0.55" d="M342.2 185.9a1.45 0.17 27 1 0 2.6 1.3a1.45 0.17 27 1 0 -2.6 -1.3M346.8 185.8a1.45 0.31 29 1 0 2.5 1.4a1.45 0.31 29 1 0 -2.5 -1.4M351.5 185.8a1.45 0.41 32 1 0 2.5 1.5a1.45 0.41 32 1 0 -2.5 -1.5M356.1 185.7a1.45 0.51 36 1 0 2.4 1.7a1.45 0.51 36 1 0 -2.4 -1.7M360.7 185.6a1.45 0.59 39 1 0 2.2 1.8a1.45 0.59 39 1 0 -2.2 -1.8M365.4 185.5a1.45 0.64 43 1 0 2.1 2.0a1.45 0.64 43 1 0 -2.1 -2.0M370.0 185.5a1.45 0.65 48 1 0 1.9 2.2a1.45 0.65 48 1 0 -1.9 -2.2M374.7 185.4a1.45 0.64 53 1 0 1.7 2.3a1.45 0.64 53 1 0 -1.7 -2.3M379.4 185.3a1.45 0.59 58 1 0 1.5 2.5a1.45 0.59 58 1 0 -1.5 -2.5M384.1 185.2a1.45 0.51 64 1 0 1.3 2.6a1.45 0.51 64 1 0 -1.3 -2.6M388.8 185.2a1.45 0.41 69 1 0 1.0 2.7a1.45 0.41 69 1 0 -1.0 -2.7M393.5 185.1a1.45 0.31 75 1 0 0.8 2.8a1.45 0.31 75 1 0 -0.8 -2.8M398.2 185.1a1.45 0.17 80 1 0 0.5 2.9a1.45 0.17 80 1 0 -0.5 -2.9M333.0 190.7a1.45 0.12 18 1 0 2.8 0.9a1.45 0.12 18 1 0 -2.8 -0.9M337.6 190.6a1.45 0.30 20 1 0 2.7 1.0a1.45 0.30 20 1 0 -2.7 -1.0M342.2 190.6a1.45 0.45 22 1 0 2.7 1.1a1.45 0.45 22 1 0 -2.7 -1.1M346.8 190.5a1.45 0.62 24 1 0 2.7 1.2a1.45 0.62 24 1 0 -2.7 -1.2M351.4 190.5a1.45 0.53 27 1 0 2.6 1.3a1.45 0.53 27 1 0 -2.6 -1.3M356.0 190.4a1.45 0.42 30 1 0 2.5 1.5a1.45 0.42 30 1 0 -2.5 -1.5M360.6 190.3a1.45 0.35 34 1 0 2.4 1.6a1.45 0.35 34 1 0 -2.4 -1.6M365.3 190.2a1.45 0.31 39 1 0 2.3 1.8a1.45 0.31 39 1 0 -2.3 -1.8M370.0 190.1a1.45 0.30 44 1 0 2.1 2.0a1.45 0.30 44 1 0 -2.1 -2.0M374.6 190.0a1.45 0.31 49 1 0 1.9 2.2a1.45 0.31 49 1 0 -1.9 -2.2M379.3 189.9a1.45 0.35 55 1 0 1.7 2.4a1.45 0.35 55 1 0 -1.7 -2.4M384.0 189.9a1.45 0.42 61 1 0 1.4 2.5a1.45 0.42 61 1 0 -1.4 -2.5M388.8 189.8a1.45 0.53 67 1 0 1.1 2.7a1.45 0.53 67 1 0 -1.1 -2.7M393.5 189.7a1.45 0.62 73 1 0 0.9 2.8a1.45 0.62 73 1 0 -0.9 -2.8M398.2 189.7a1.45 0.45 79 1 0 0.6 2.8a1.45 0.45 79 1 0 -0.6 -2.8M402.9 189.7a1.45 0.30 85 1 0 0.3 2.9a1.45 0.30 85 1 0 -0.3 -2.9M407.7 189.7a1.45 0.12 91 1 0 -0.0 2.9a1.45 0.12 91 1 0 0.0 -2.9M328.4 195.4a1.45 0.15 12 1 0 2.8 0.6a1.45 0.15 12 1 0 -2.8 -0.6M332.9 195.4a1.45 0.36 13 1 0 2.8 0.6a1.45 0.36 13 1 0 -2.8 -0.6M337.5 195.4a1.45 0.57 14 1 0 2.8 0.7a1.45 0.57 14 1 0 -2.8 -0.7M342.1 195.3a1.45 0.51 16 1 0 2.8 0.8a1.45 0.51 16 1 0 -2.8 -0.8M346.7 195.2a1.45 0.35 18 1 0 2.8 0.9a1.45 0.35 18 1 0 -2.8 -0.9M351.3 195.2a1.45 0.23 21 1 0 2.7 1.1a1.45 0.23 21 1 0 -2.7 -1.1M355.9 195.1a1.45 0.15 25 1 0 2.6 1.2a1.45 0.15 25 1 0 -2.6 -1.2M360.6 195.0a1.45 0.12 30 1 0 2.5 1.4a1.45 0.12 30 1 0 -2.5 -1.4M365.2 194.9a1.45 0.12 35 1 0 2.4 1.6a1.45 0.12 35 1 0 -2.4 -1.6M369.9 194.8a1.45 0.12 40 1 0 2.2 1.9a1.45 0.12 40 1 0 -2.2 -1.9M374.6 194.7a1.45 0.12 46 1 0 2.0 2.1a1.45 0.12 46 1 0 -2.0 -2.1M379.3 194.6a1.45 0.12 52 1 0 1.8 2.3a1.45 0.12 52 1 0 -1.8 -2.3M384.0 194.5a1.45 0.15 59 1 0 1.5 2.5a1.45 0.15 59 1 0 -1.5 -2.5M388.7 194.4a1.45 0.23 65 1 0 1.2 2.6a1.45 0.23 65 1 0 -1.2 -2.6M393.4 194.3a1.45 0.35 71 1 0 0.9 2.7a1.45 0.35 71 1 0 -0.9 -2.7M398.2 194.3a1.45 0.51 78 1 0 0.6 2.8a1.45 0.51 78 1 0 -0.6 -2.8M402.9 194.3a1.45 0.57 84 1 0 0.3 2.9a1.45 0.57 84 1 0 -0.3 -2.9M407.6 194.3a1.45 0.36 90 1 0 0.0 2.9a1.45 0.36 90 1 0 -0.0 -2.9M412.4 194.3a1.45 0.15 96 1 0 -0.3 2.9a1.45 0.15 96 1 0 0.3 -2.9M323.8 200.1a1.45 0.15 6 1 0 2.9 0.3a1.45 0.15 6 1 0 -2.9 -0.3M328.3 200.1a1.45 0.39 6 1 0 2.9 0.3a1.45 0.39 6 1 0 -2.9 -0.3M332.9 200.1a1.45 0.64 7 1 0 2.9 0.3a1.45 0.64 7 1 0 -2.9 -0.3M337.5 200.1a1.45 0.42 8 1 0 2.9 0.4a1.45 0.42 8 1 0 -2.9 -0.4M342.1 200.0a1.45 0.25 10 1 0 2.9 0.5a1.45 0.25 10 1 0 -2.9 -0.5M346.7 200.0a1.45 0.12 12 1 0 2.8 0.6a1.45 0.12 12 1 0 -2.8 -0.6M393.4 198.9a1.45 0.12 70 1 0 1.0 2.7a1.45 0.12 70 1 0 -1.0 -2.7M398.2 198.9a1.45 0.25 77 1 0 0.7 2.8a1.45 0.25 77 1 0 -0.7 -2.8M402.9 198.8a1.45 0.42 84 1 0 0.3 2.9a1.45 0.42 84 1 0 -0.3 -2.9M407.6 198.8a1.45 0.64 90 1 0 0.0 2.9a1.45 0.64 90 1 0 -0.0 -2.9M412.4 198.8a1.45 0.39 96 1 0 -0.3 2.9a1.45 0.39 96 1 0 0.3 -2.9M417.1 198.9a1.45 0.15 102 1 0 -0.6 2.8a1.45 0.15 102 1 0 0.6 -2.8M319.2 204.8a1.45 0.12 1 1 0 2.9 0.0a1.45 0.12 1 1 0 -2.9 -0.0M323.8 204.9a1.45 0.36 -0 1 0 2.9 -0.0a1.45 0.36 -0 1 0 -2.9 0.0M328.3 204.9a1.45 0.64 -0 1 0 2.9 -0.0a1.45 0.64 -0 1 0 -2.9 0.0M332.9 204.9a1.45 0.39 0 1 0 2.9 0.0a1.45 0.39 0 1 0 -2.9 -0.0M337.5 204.8a1.45 0.20 1 1 0 2.9 0.1a1.45 0.20 1 1 0 -2.9 -0.1M342.1 204.8a1.45 0.12 3 1 0 2.9 0.2a1.45 0.12 3 1 0 -2.9 -0.2M398.2 203.4a1.45 0.12 77 1 0 0.7 2.8a1.45 0.12 77 1 0 -0.7 -2.8M402.9 203.4a1.45 0.20 84 1 0 0.3 2.9a1.45 0.20 84 1 0 -0.3 -2.9M407.6 203.4a1.45 0.39 90 1 0 -0.0 2.9a1.45 0.39 90 1 0 0.0 -2.9M412.4 203.4a1.45 0.64 97 1 0 -0.3 2.9a1.45 0.64 97 1 0 0.3 -2.9M417.1 203.4a1.45 0.36 103 1 0 -0.6 2.8a1.45 0.36 103 1 0 0.6 -2.8M421.8 203.5a1.45 0.12 108 1 0 -0.9 2.8a1.45 0.12 108 1 0 0.9 -2.8M319.2 209.6a1.45 0.30 -5 1 0 2.9 -0.3a1.45 0.30 -5 1 0 -2.9 0.3M323.8 209.6a1.45 0.57 -6 1 0 2.9 -0.3a1.45 0.57 -6 1 0 -2.9 0.3M328.3 209.6a1.45 0.42 -6 1 0 2.9 -0.3a1.45 0.42 -6 1 0 -2.9 0.3M332.9 209.6a1.45 0.20 -6 1 0 2.9 -0.3a1.45 0.20 -6 1 0 -2.9 0.3M337.5 209.6a1.45 0.12 -5 1 0 2.9 -0.3a1.45 0.12 -5 1 0 -2.9 0.3M402.9 208.0a1.45 0.12 85 1 0 0.3 2.9a1.45 0.12 85 1 0 -0.3 -2.9M407.7 208.0a1.45 0.20 91 1 0 -0.1 2.9a1.45 0.20 91 1 0 0.1 -2.9M412.4 208.0a1.45 0.42 98 1 0 -0.4 2.9a1.45 0.42 98 1 0 0.4 -2.9M417.1 208.0a1.45 0.57 104 1 0 -0.7 2.8a1.45 0.57 104 1 0 0.7 -2.8M421.9 208.1a1.45 0.30 110 1 0 -1.0 2.7a1.45 0.30 110 1 0 1.0 -2.7M314.6 214.3a1.45 0.17 -10 1 0 2.9 -0.5a1.45 0.17 -10 1 0 -2.9 0.5M319.2 214.3a1.45 0.45 -11 1 0 2.8 -0.6a1.45 0.45 -11 1 0 -2.8 0.6M323.8 214.3a1.45 0.51 -12 1 0 2.8 -0.6a1.45 0.51 -12 1 0 -2.8 0.6M328.4 214.3a1.45 0.25 -13 1 0 2.8 -0.7a1.45 0.25 -13 1 0 -2.8 0.7M332.9 214.3a1.45 0.12 -13 1 0 2.8 -0.7a1.45 0.12 -13 1 0 -2.8 0.7M407.7 212.6a1.45 0.12 93 1 0 -0.2 2.9a1.45 0.12 93 1 0 0.2 -2.9M412.5 212.6a1.45 0.25 100 1 0 -0.5 2.9a1.45 0.25 100 1 0 0.5 -2.9M417.2 212.6a1.45 0.51 106 1 0 -0.8 2.8a1.45 0.51 106 1 0 0.8 -2.8M421.9 212.7a1.45 0.45 112 1 0 -1.1 2.7a1.45 0.45 112 1 0 1.1 -2.7M426.6 212.7a1.45 0.17 117 1 0 -1.3 2.6a1.45 0.17 117 1 0 1.3 -2.6M314.6 219.0a1.45 0.31 -15 1 0 2.8 -0.8a1.45 0.31 -15 1 0 -2.8 0.8M319.2 219.0a1.45 0.62 -17 1 0 2.8 -0.9a1.45 0.62 -17 1 0 -2.8 0.9M323.8 219.1a1.45 0.35 -19 1 0 2.7 -0.9a1.45 0.35 -19 1 0 -2.7 0.9M328.4 219.1a1.45 0.12 -20 1 0 2.7 -1.0a1.45 0.12 -20 1 0 -2.7 1.0M412.5 217.2a1.45 0.12 102 1 0 -0.6 2.8a1.45 0.12 102 1 0 0.6 -2.8M417.3 217.2a1.45 0.35 108 1 0 -0.9 2.8a1.45 0.35 108 1 0 0.9 -2.8M422.0 217.3a1.45 0.62 114 1 0 -1.2 2.7a1.45 0.62 114 1 0 1.2 -2.7M426.7 217.3a1.45 0.31 119 1 0 -1.4 2.5a1.45 0.31 119 1 0 1.4 -2.5M314.7 223.7a1.45 0.41 -21 1 0 2.7 -1.0a1.45 0.41 -21 1 0 -2.7 1.0M319.3 223.7a1.45 0.53 -23 1 0 2.7 -1.1a1.45 0.53 -23 1 0 -2.7 1.1M323.9 223.8a1.45 0.23 -25 1 0 2.6 -1.2a1.45 0.23 -25 1 0 -2.6 1.2M417.3 221.8a1.45 0.23 111 1 0 -1.1 2.7a1.45 0.23 111 1 0 1.1 -2.7M422.0 221.9a1.45 0.53 117 1 0 -1.3 2.6a1.45 0.53 117 1 0 1.3 -2.6M426.7 222.0a1.45 0.41 122 1 0 -1.5 2.5a1.45 0.41 122 1 0 1.5 -2.5M314.7 228.4a1.45 0.51 -26 1 0 2.6 -1.3a1.45 0.51 -26 1 0 -2.6 1.3M319.4 228.5a1.45 0.42 -29 1 0 2.5 -1.4a1.45 0.42 -29 1 0 -2.5 1.4M324.0 228.5a1.45 0.15 -31 1 0 2.5 -1.5a1.45 0.15 -31 1 0 -2.5 1.5M360.5 228.2a1.45 0.12 -19 1 0 2.7 -1.0a1.45 0.12 -19 1 0 -2.7 1.0M365.0 227.9a1.45 0.24 -6 1 0 2.9 -0.3a1.45 0.24 -6 1 0 -2.9 0.3M369.6 227.5a1.45 0.30 12 1 0 2.8 0.6a1.45 0.30 12 1 0 -2.8 -0.6M374.3 227.0a1.45 0.24 31 1 0 2.5 1.5a1.45 0.24 31 1 0 -2.5 -1.5M379.2 226.7a1.45 0.12 48 1 0 1.9 2.2a1.45 0.12 48 1 0 -1.9 -2.2M417.4 226.4a1.45 0.15 115 1 0 -1.2 2.6a1.45 0.15 115 1 0 1.2 -2.6M422.1 226.5a1.45 0.42 120 1 0 -1.5 2.5a1.45 0.42 120 1 0 1.5 -2.5M426.8 226.6a1.45 0.51 126 1 0 -1.7 2.4a1.45 0.51 126 1 0 1.7 -2.4M314.8 233.1a1.45 0.59 -32 1 0 2.5 -1.5a1.45 0.59 -32 1 0 -2.5 1.5M319.4 233.2a1.45 0.35 -35 1 0 2.4 -1.7a1.45 0.35 -35 1 0 -2.4 1.7M324.1 233.2a1.45 0.12 -38 1 0 2.3 -1.8a1.45 0.12 -38 1 0 -2.3 1.8M356.2 233.3a1.45 0.12 -42 1 0 2.2 -1.9a1.45 0.12 -42 1 0 -2.2 1.9M360.6 233.1a1.45 0.37 -34 1 0 2.4 -1.6a1.45 0.37 -34 1 0 -2.4 1.6M365.0 232.8a1.45 0.66 -18 1 0 2.8 -0.9a1.45 0.66 -18 1 0 -2.8 0.9M369.6 232.1a1.45 0.74 8 1 0 2.9 0.4a1.45 0.74 8 1 0 -2.9 -0.4M374.4 231.5a1.45 0.66 36 1 0 2.4 1.7a1.45 0.66 36 1 0 -2.4 -1.7M379.4 231.1a1.45 0.37 56 1 0 1.6 2.4a1.45 0.37 56 1 0 -1.6 -2.4M384.3 231.0a1.45 0.12 71 1 0 1.0 2.7a1.45 0.12 71 1 0 -1.0 -2.7M417.5 231.1a1.45 0.12 120 1 0 -1.4 2.5a1.45 0.12 120 1 0 1.4 -2.5M422.2 231.1a1.45 0.35 124 1 0 -1.6 2.4a1.45 0.35 124 1 0 1.6 -2.4M426.9 231.2a1.45 0.59 129 1 0 -1.8 2.2a1.45 0.59 129 1 0 1.8 -2.2M314.9 237.8a1.45 0.64 -37 1 0 2.3 -1.7a1.45 0.64 -37 1 0 -2.3 1.7M319.5 237.9a1.45 0.31 -41 1 0 2.2 -1.9a1.45 0.31 -41 1 0 -2.2 1.9M324.2 237.9a1.45 0.12 -44 1 0 2.1 -2.0a1.45 0.12 -44 1 0 -2.1 2.0M356.5 238.2a1.45 0.24 -59 1 0 1.5 -2.5a1.45 0.24 -59 1 0 -1.5 2.5M361.0 238.1a1.45 0.66 -54 1 0 1.7 -2.4a1.45 0.66 -54 1 0 -1.7 2.4M365.3 237.8a1.45 0.78 -39 1 0 2.2 -1.8a1.45 0.78 -39 1 0 -2.2 1.8M369.6 236.8a1.45 0.81 4 1 0 2.9 0.2a1.45 0.81 4 1 0 -2.9 -0.2M374.7 235.8a1.45 0.78 51 1 0 1.8 2.2a1.45 0.78 51 1 0 -1.8 -2.2M379.7 235.5a1.45 0.66 72 1 0 0.9 2.8a1.45 0.66 72 1 0 -0.9 -2.8M384.6 235.5a1.45 0.24 84 1 0 0.3 2.9a1.45 0.24 84 1 0 -0.3 -2.9M417.6 235.7a1.45 0.12 125 1 0 -1.6 2.4a1.45 0.12 125 1 0 1.6 -2.4M422.3 235.8a1.45 0.31 129 1 0 -1.8 2.3a1.45 0.31 129 1 0 1.8 -2.3M427.0 235.9a1.45 0.64 133 1 0 -2.0 2.1a1.45 0.64 133 1 0 2.0 -2.1M315.0 242.5a1.45 0.65 318 1 0 2.2 -1.9a1.45 0.65 318 1 0 -2.2 1.9M319.6 242.5a1.45 0.30 314 1 0 2.0 -2.1a1.45 0.30 314 1 0 -2.0 2.1M324.3 242.6a1.45 0.12 310 1 0 1.9 -2.2a1.45 0.12 310 1 0 -1.9 2.2M357.0 242.9a1.45 0.30 282 1 0 0.6 -2.8a1.45 0.30 282 1 0 -0.6 2.8M361.6 242.9a1.45 0.74 278 1 0 0.4 -2.9a1.45 0.74 278 1 0 -0.4 2.9M366.3 242.9a1.45 0.81 274 1 0 0.2 -2.9a1.45 0.81 274 1 0 -0.2 2.9M371.0 240.1a1.45 0.91 90 1 0 0.0 2.9a1.45 0.91 90 1 0 -0.0 -2.9M375.7 240.1a1.45 0.81 94 1 0 -0.2 2.9a1.45 0.81 94 1 0 0.2 -2.9M380.4 240.1a1.45 0.74 98 1 0 -0.4 2.9a1.45 0.74 98 1 0 0.4 -2.9M385.0 240.1a1.45 0.30 102 1 0 -0.6 2.8a1.45 0.30 102 1 0 0.6 -2.8M417.7 240.4a1.45 0.12 130 1 0 -1.9 2.2a1.45 0.12 130 1 0 1.9 -2.2M422.4 240.5a1.45 0.30 134 1 0 -2.0 2.1a1.45 0.30 134 1 0 2.0 -2.1M427.0 240.5a1.45 0.65 138 1 0 -2.2 1.9a1.45 0.65 138 1 0 2.2 -1.9M315.0 247.1a1.45 0.64 313 1 0 2.0 -2.1a1.45 0.64 313 1 0 -2.0 2.1M319.7 247.2a1.45 0.31 309 1 0 1.8 -2.3a1.45 0.31 309 1 0 -1.8 2.3M324.4 247.3a1.45 0.12 305 1 0 1.6 -2.4a1.45 0.12 305 1 0 -1.6 2.4M357.4 247.5a1.45 0.24 264 1 0 -0.3 -2.9a1.45 0.24 264 1 0 0.3 2.9M362.3 247.5a1.45 0.66 252 1 0 -0.9 -2.8a1.45 0.66 252 1 0 0.9 2.8M367.3 247.2a1.45 0.78 231 1 0 -1.8 -2.2a1.45 0.78 231 1 0 1.8 2.2M372.4 246.2a1.45 0.81 184 1 0 -2.9 -0.2a1.45 0.81 184 1 0 2.9 0.2M376.7 245.2a1.45 0.78 141 1 0 -2.2 1.8a1.45 0.78 141 1 0 2.2 -1.8M381.0 244.9a1.45 0.66 126 1 0 -1.7 2.4a1.45 0.66 126 1 0 1.7 -2.4M385.5 244.8a1.45 0.24 121 1 0 -1.5 2.5a1.45 0.24 121 1 0 1.5 -2.5M417.8 245.1a1.45 0.12 136 1 0 -2.1 2.0a1.45 0.12 136 1 0 2.1 -2.0M422.5 245.1a1.45 0.31 139 1 0 -2.2 1.9a1.45 0.31 139 1 0 2.2 -1.9M427.1 245.2a1.45 0.64 143 1 0 -2.3 1.7a1.45 0.64 143 1 0 2.3 -1.7M315.1 251.8a1.45 0.59 309 1 0 1.8 -2.2a1.45 0.59 309 1 0 -1.8 2.2M319.8 251.9a1.45 0.35 304 1 0 1.6 -2.4a1.45 0.35 304 1 0 -1.6 2.4M324.5 251.9a1.45 0.12 300 1 0 1.4 -2.5a1.45 0.12 300 1 0 -1.4 2.5M357.7 252.0a1.45 0.12 251 1 0 -1.0 -2.7a1.45 0.12 251 1 0 1.0 2.7M362.6 251.9a1.45 0.37 236 1 0 -1.6 -2.4a1.45 0.37 236 1 0 1.6 2.4M367.6 251.5a1.45 0.66 216 1 0 -2.4 -1.7a1.45 0.66 216 1 0 2.4 1.7M372.4 250.9a1.45 0.74 188 1 0 -2.9 -0.4a1.45 0.74 188 1 0 2.9 0.4M377.0 250.2a1.45 0.66 162 1 0 -2.8 0.9a1.45 0.66 162 1 0 2.8 -0.9M381.4 249.9a1.45 0.37 146 1 0 -2.4 1.6a1.45 0.37 146 1 0 2.4 -1.6M385.8 249.7a1.45 0.12 138 1 0 -2.2 1.9a1.45 0.12 138 1 0 2.2 -1.9M417.9 249.8a1.45 0.12 142 1 0 -2.3 1.8a1.45 0.12 142 1 0 2.3 -1.8M422.6 249.8a1.45 0.35 145 1 0 -2.4 1.7a1.45 0.35 145 1 0 2.4 -1.7M427.2 249.9a1.45 0.59 148 1 0 -2.5 1.5a1.45 0.59 148 1 0 2.5 -1.5M315.2 256.4a1.45 0.51 306 1 0 1.7 -2.4a1.45 0.51 306 1 0 -1.7 2.4M319.9 256.5a1.45 0.42 300 1 0 1.5 -2.5a1.45 0.42 300 1 0 -1.5 2.5M324.6 256.6a1.45 0.15 295 1 0 1.2 -2.6a1.45 0.15 295 1 0 -1.2 2.6M362.8 256.3a1.45 0.12 228 1 0 -1.9 -2.2a1.45 0.12 228 1 0 1.9 2.2M367.7 256.0a1.45 0.24 211 1 0 -2.5 -1.5a1.45 0.24 211 1 0 2.5 1.5M372.4 255.5a1.45 0.30 192 1 0 -2.8 -0.6a1.45 0.30 192 1 0 2.8 0.6M377.0 255.1a1.45 0.24 174 1 0 -2.9 0.3a1.45 0.24 174 1 0 2.9 -0.3M381.5 254.8a1.45 0.12 161 1 0 -2.7 1.0a1.45 0.12 161 1 0 2.7 -1.0M418.0 254.5a1.45 0.15 149 1 0 -2.5 1.5a1.45 0.15 149 1 0 2.5 -1.5M422.6 254.5a1.45 0.42 151 1 0 -2.5 1.4a1.45 0.42 151 1 0 2.5 -1.4M427.3 254.6a1.45 0.51 154 1 0 -2.6 1.3a1.45 0.51 154 1 0 2.6 -1.3M315.3 261.0a1.45 0.41 302 1 0 1.5 -2.5a1.45 0.41 302 1 0 -1.5 2.5M320.0 261.1a1.45 0.53 297 1 0 1.3 -2.6a1.45 0.53 297 1 0 -1.3 2.6M324.7 261.2a1.45 0.23 291 1 0 1.1 -2.7a1.45 0.23 291 1 0 -1.1 2.7M418.1 259.2a1.45 0.23 155 1 0 -2.6 1.2a1.45 0.23 155 1 0 2.6 -1.2M422.7 259.3a1.45 0.53 157 1 0 -2.7 1.1a1.45 0.53 157 1 0 2.7 -1.1M427.3 259.3a1.45 0.41 159 1 0 -2.7 1.0a1.45 0.41 159 1 0 2.7 -1.0M315.3 265.7a1.45 0.31 299 1 0 1.4 -2.5a1.45 0.31 299 1 0 -1.4 2.5M320.0 265.7a1.45 0.62 294 1 0 1.2 -2.7a1.45 0.62 294 1 0 -1.2 2.7M324.7 265.8a1.45 0.35 288 1 0 0.9 -2.8a1.45 0.35 288 1 0 -0.9 2.8M329.5 265.8a1.45 0.12 282 1 0 0.6 -2.8a1.45 0.12 282 1 0 -0.6 2.8M413.6 263.9a1.45 0.12 160 1 0 -2.7 1.0a1.45 0.12 160 1 0 2.7 -1.0M418.2 263.9a1.45 0.35 161 1 0 -2.7 0.9a1.45 0.35 161 1 0 2.7 -0.9M422.8 264.0a1.45 0.62 163 1 0 -2.8 0.9a1.45 0.62 163 1 0 2.8 -0.9M427.4 264.0a1.45 0.31 165 1 0 -2.8 0.8a1.45 0.31 165 1 0 2.8 -0.8M315.4 270.3a1.45 0.17 297 1 0 1.3 -2.6a1.45 0.17 297 1 0 -1.3 2.6M320.1 270.3a1.45 0.45 292 1 0 1.1 -2.7a1.45 0.45 292 1 0 -1.1 2.7M324.8 270.4a1.45 0.51 286 1 0 0.8 -2.8a1.45 0.51 286 1 0 -0.8 2.8M329.5 270.4a1.45 0.25 280 1 0 0.5 -2.9a1.45 0.25 280 1 0 -0.5 2.9M334.3 270.4a1.45 0.12 273 1 0 0.2 -2.9a1.45 0.12 273 1 0 -0.2 2.9M409.1 268.7a1.45 0.12 167 1 0 -2.8 0.7a1.45 0.12 167 1 0 2.8 -0.7M413.6 268.7a1.45 0.25 167 1 0 -2.8 0.7a1.45 0.25 167 1 0 2.8 -0.7M418.2 268.7a1.45 0.51 168 1 0 -2.8 0.6a1.45 0.51 168 1 0 2.8 -0.6M422.8 268.7a1.45 0.45 169 1 0 -2.8 0.6a1.45 0.45 169 1 0 2.8 -0.6M427.4 268.7a1.45 0.17 170 1 0 -2.9 0.5a1.45 0.17 170 1 0 2.9 -0.5M320.1 274.9a1.45 0.30 290 1 0 1.0 -2.7a1.45 0.30 290 1 0 -1.0 2.7M324.9 275.0a1.45 0.57 284 1 0 0.7 -2.8a1.45 0.57 284 1 0 -0.7 2.8M329.6 275.0a1.45 0.42 278 1 0 0.4 -2.9a1.45 0.42 278 1 0 -0.4 2.9M334.3 275.0a1.45 0.20 271 1 0 0.1 -2.9a1.45 0.20 271 1 0 -0.1 2.9M339.1 275.0a1.45 0.12 265 1 0 -0.3 -2.9a1.45 0.12 265 1 0 0.3 2.9M404.5 273.4a1.45 0.12 175 1 0 -2.9 0.3a1.45 0.12 175 1 0 2.9 -0.3M409.1 273.4a1.45 0.20 174 1 0 -2.9 0.3a1.45 0.20 174 1 0 2.9 -0.3M413.7 273.4a1.45 0.42 174 1 0 -2.9 0.3a1.45 0.42 174 1 0 2.9 -0.3M418.2 273.4a1.45 0.57 174 1 0 -2.9 0.3a1.45 0.57 174 1 0 2.9 -0.3M422.8 273.4a1.45 0.30 175 1 0 -2.9 0.3a1.45 0.30 175 1 0 2.9 -0.3M320.2 279.5a1.45 0.12 288 1 0 0.9 -2.8a1.45 0.12 288 1 0 -0.9 2.8M324.9 279.6a1.45 0.36 283 1 0 0.6 -2.8a1.45 0.36 283 1 0 -0.6 2.8M329.6 279.6a1.45 0.64 277 1 0 0.3 -2.9a1.45 0.64 277 1 0 -0.3 2.9M334.4 279.6a1.45 0.39 270 1 0 0.0 -2.9a1.45 0.39 270 1 0 -0.0 2.9M339.1 279.6a1.45 0.20 264 1 0 -0.3 -2.9a1.45 0.20 264 1 0 0.3 2.9M343.8 279.6a1.45 0.12 257 1 0 -0.7 -2.8a1.45 0.12 257 1 0 0.7 2.8M399.9 278.2a1.45 0.12 183 1 0 -2.9 -0.2a1.45 0.12 183 1 0 2.9 0.2M404.5 278.2a1.45 0.20 181 1 0 -2.9 -0.1a1.45 0.20 181 1 0 2.9 0.1M409.1 278.1a1.45 0.39 180 1 0 -2.9 -0.0a1.45 0.39 180 1 0 2.9 0.0M413.7 278.1a1.45 0.64 180 1 0 -2.9 0.0a1.45 0.64 180 1 0 2.9 -0.0M418.2 278.1a1.45 0.36 180 1 0 -2.9 0.0a1.45 0.36 180 1 0 2.9 -0.0M422.8 278.2a1.45 0.12 181 1 0 -2.9 -0.0a1.45 0.12 181 1 0 2.9 0.0M324.9 284.1a1.45 0.15 282 1 0 0.6 -2.8a1.45 0.15 282 1 0 -0.6 2.8M329.6 284.2a1.45 0.39 276 1 0 0.3 -2.9a1.45 0.39 276 1 0 -0.3 2.9M334.4 284.2a1.45 0.64 270 1 0 -0.0 -2.9a1.45 0.64 270 1 0 0.0 2.9M339.1 284.2a1.45 0.42 264 1 0 -0.3 -2.9a1.45 0.42 264 1 0 0.3 2.9M343.8 284.1a1.45 0.25 257 1 0 -0.7 -2.8a1.45 0.25 257 1 0 0.7 2.8M348.6 284.1a1.45 0.12 250 1 0 -1.0 -2.7a1.45 0.12 250 1 0 1.0 2.7M395.3 283.0a1.45 0.12 192 1 0 -2.8 -0.6a1.45 0.12 192 1 0 2.8 0.6M399.9 283.0a1.45 0.25 190 1 0 -2.9 -0.5a1.45 0.25 190 1 0 2.9 0.5M404.5 282.9a1.45 0.42 188 1 0 -2.9 -0.4a1.45 0.42 188 1 0 2.9 0.4M409.1 282.9a1.45 0.64 187 1 0 -2.9 -0.3a1.45 0.64 187 1 0 2.9 0.3M413.7 282.9a1.45 0.39 186 1 0 -2.9 -0.3a1.45 0.39 186 1 0 2.9 0.3M418.2 282.9a1.45 0.15 186 1 0 -2.9 -0.3a1.45 0.15 186 1 0 2.9 0.3M329.6 288.7a1.45 0.15 276 1 0 0.3 -2.9a1.45 0.15 276 1 0 -0.3 2.9M334.4 288.7a1.45 0.36 270 1 0 -0.0 -2.9a1.45 0.36 270 1 0 0.0 2.9M339.1 288.7a1.45 0.57 264 1 0 -0.3 -2.9a1.45 0.57 264 1 0 0.3 2.9M343.8 288.7a1.45 0.51 258 1 0 -0.6 -2.8a1.45 0.51 258 1 0 0.6 2.8M348.6 288.7a1.45 0.35 251 1 0 -0.9 -2.7a1.45 0.35 251 1 0 0.9 2.7M353.3 288.6a1.45 0.23 245 1 0 -1.2 -2.6a1.45 0.23 245 1 0 1.2 2.6M358.0 288.5a1.45 0.15 239 1 0 -1.5 -2.5a1.45 0.15 239 1 0 1.5 2.5M362.7 288.4a1.45 0.12 232 1 0 -1.8 -2.3a1.45 0.12 232 1 0 1.8 2.3M367.4 288.3a1.45 0.12 226 1 0 -2.0 -2.1a1.45 0.12 226 1 0 2.0 2.1M372.1 288.2a1.45 0.12 220 1 0 -2.2 -1.9a1.45 0.12 220 1 0 2.2 1.9M376.8 288.1a1.45 0.12 215 1 0 -2.4 -1.6a1.45 0.12 215 1 0 2.4 1.6M381.4 288.0a1.45 0.12 210 1 0 -2.5 -1.4a1.45 0.12 210 1 0 2.5 1.4M386.1 287.9a1.45 0.15 205 1 0 -2.6 -1.2a1.45 0.15 205 1 0 2.6 1.2M390.7 287.8a1.45 0.23 201 1 0 -2.7 -1.1a1.45 0.23 201 1 0 2.7 1.1M395.3 287.8a1.45 0.35 198 1 0 -2.8 -0.9a1.45 0.35 198 1 0 2.8 0.9M399.9 287.7a1.45 0.51 196 1 0 -2.8 -0.8a1.45 0.51 196 1 0 2.8 0.8M404.5 287.6a1.45 0.57 194 1 0 -2.8 -0.7a1.45 0.57 194 1 0 2.8 0.7M409.1 287.6a1.45 0.36 193 1 0 -2.8 -0.6a1.45 0.36 193 1 0 2.8 0.6M413.6 287.6a1.45 0.15 192 1 0 -2.8 -0.6a1.45 0.15 192 1 0 2.8 0.6M334.3 293.3a1.45 0.12 271 1 0 0.0 -2.9a1.45 0.12 271 1 0 -0.0 2.9M339.1 293.3a1.45 0.30 265 1 0 -0.3 -2.9a1.45 0.30 265 1 0 0.3 2.9M343.8 293.3a1.45 0.45 259 1 0 -0.6 -2.8a1.45 0.45 259 1 0 0.6 2.8M348.5 293.3a1.45 0.62 253 1 0 -0.9 -2.8a1.45 0.62 253 1 0 0.9 2.8M353.2 293.2a1.45 0.53 247 1 0 -1.1 -2.7a1.45 0.53 247 1 0 1.1 2.7M358.0 293.1a1.45 0.42 241 1 0 -1.4 -2.5a1.45 0.42 241 1 0 1.4 2.5M362.7 293.1a1.45 0.35 235 1 0 -1.7 -2.4a1.45 0.35 235 1 0 1.7 2.4M367.4 293.0a1.45 0.31 229 1 0 -1.9 -2.2a1.45 0.31 229 1 0 1.9 2.2M372.0 292.9a1.45 0.30 224 1 0 -2.1 -2.0a1.45 0.30 224 1 0 2.1 2.0M376.7 292.8a1.45 0.31 219 1 0 -2.3 -1.8a1.45 0.31 219 1 0 2.3 1.8M381.4 292.7a1.45 0.35 214 1 0 -2.4 -1.6a1.45 0.35 214 1 0 2.4 1.6M386.0 292.6a1.45 0.42 210 1 0 -2.5 -1.5a1.45 0.42 210 1 0 2.5 1.5M390.6 292.5a1.45 0.53 207 1 0 -2.6 -1.3a1.45 0.53 207 1 0 2.6 1.3M395.2 292.5a1.45 0.62 204 1 0 -2.7 -1.2a1.45 0.62 204 1 0 2.7 1.2M399.8 292.4a1.45 0.45 202 1 0 -2.7 -1.1a1.45 0.45 202 1 0 2.7 1.1M404.4 292.4a1.45 0.30 200 1 0 -2.7 -1.0a1.45 0.30 200 1 0 2.7 1.0M409.0 292.3a1.45 0.12 198 1 0 -2.8 -0.9a1.45 0.12 198 1 0 2.8 0.9M343.8 297.9a1.45 0.17 260 1 0 -0.5 -2.9a1.45 0.17 260 1 0 0.5 2.9M348.5 297.9a1.45 0.31 255 1 0 -0.8 -2.8a1.45 0.31 255 1 0 0.8 2.8M353.2 297.8a1.45 0.41 249 1 0 -1.0 -2.7a1.45 0.41 249 1 0 1.0 2.7M357.9 297.8a1.45 0.51 244 1 0 -1.3 -2.6a1.45 0.51 244 1 0 1.3 2.6M362.6 297.7a1.45 0.59 238 1 0 -1.5 -2.5a1.45 0.59 238 1 0 1.5 2.5M367.3 297.6a1.45 0.64 233 1 0 -1.7 -2.3a1.45 0.64 233 1 0 1.7 2.3M372.0 297.5a1.45 0.65 228 1 0 -1.9 -2.2a1.45 0.65 228 1 0 1.9 2.2M376.6 297.5a1.45 0.64 223 1 0 -2.1 -2.0a1.45 0.64 223 1 0 2.1 2.0M381.3 297.4a1.45 0.59 219 1 0 -2.2 -1.8a1.45 0.59 219 1 0 2.2 1.8M385.9 297.3a1.45 0.51 216 1 0 -2.4 -1.7a1.45 0.51 216 1 0 2.4 1.7M390.5 297.2a1.45 0.41 212 1 0 -2.5 -1.5a1.45 0.41 212 1 0 2.5 1.5M395.2 297.2a1.45 0.31 209 1 0 -2.5 -1.4a1.45 0.31 209 1 0 2.5 1.4M399.8 297.1a1.45 0.17 207 1 0 -2.6 -1.3a1.45 0.17 207 1 0 2.6 1.3"/>
<path fill="none" stroke="#d43c3c" stroke-width="0.55" d="M435.8 187.6a1.45 0.74 -45 1 0 2.1 -2.1a1.45 0.74 -45 1 0 -2.1 2.1M440.4 187.5a1.45 0.72 -43 1 0 2.1 -2.0a1.45 0.72 -43 1 0 -2.1 2.0M444.9 187.5a1.45 0.60 -40 1 0 2.2 -1.9a1.45 0.60 -40 1 0 -2.2 1.9M449.4 187.4a1.45 0.51 -37 1 0 2.3 -1.7a1.45 0.51 -37 1 0 -2.3 1.7M454.0 187.3a1.45 0.44 -34 1 0 2.4 -1.6a1.45 0.44 -34 1 0 -2.4 1.6M458.5 187.3a1.45 0.37 -30 1 0 2.5 -1.5a1.45 0.37 -30 1 0 -2.5 1.5M463.0 187.2a1.45 0.32 -27 1 0 2.6 -1.3a1.45 0.32 -27 1 0 -2.6 1.3M467.6 187.1a1.45 0.28 -23 1 0 2.7 -1.1a1.45 0.28 -23 1 0 -2.7 1.1M472.1 187.0a1.45 0.25 -18 1 0 2.8 -0.9a1.45 0.25 -18 1 0 -2.8 0.9M476.7 186.9a1.45 0.24 -14 1 0 2.8 -0.7a1.45 0.24 -14 1 0 -2.8 0.7M481.2 186.8a1.45 0.23 -9 1 0 2.9 -0.5a1.45 0.23 -9 1 0 -2.9 0.5M485.8 186.7a1.45 0.22 -5 1 0 2.9 -0.2a1.45 0.22 -5 1 0 -2.9 0.2M490.4 186.5a1.45 0.22 0 1 0 2.9 0.0a1.45 0.22 0 1 0 -2.9 -0.0M494.9 186.4a1.45 0.22 5 1 0 2.9 0.2a1.45 0.22 5 1 0 -2.9 -0.2M499.5 186.3a1.45 0.23 9 1 0 2.9 0.5a1.45 0.23 9 1 0 -2.9 -0.5M504.1 186.2a1.45 0.24 14 1 0 2.8 0.7a1.45 0.24 14 1 0 -2.8 -0.7M508.7 186.1a1.45 0.25 18 1 0 2.8 0.9a1.45 0.25 18 1 0 -2.8 -0.9M513.4 186.0a1.45 0.28 23 1 0 2.7 1.1a1.45 0.28 23 1 0 -2.7 -1.1M518.0 185.9a1.45 0.32 27 1 0 2.6 1.3a1.45 0.32 27 1 0 -2.6 -1.3M522.6 185.8a1.45 0.37 30 1 0 2.5 1.5a1.45 0.37 30 1 0 -2.5 -1.5M527.2 185.7a1.45 0.44 34 1 0 2.4 1.6a1.45 0.44 34 1 0 -2.4 -1.6M531.9 185.7a1.45 0.51 37 1 0 2.3 1.7a1.45 0.51 37 1 0 -2.3 -1.7M536.5 185.6a1.45 0.60 40 1 0 2.2 1.9a1.45 0.60 40 1 0 -2.2 -1.9M541.1 185.6a1.45 0.72 43 1 0 2.1 2.0a1.45 0.72 43 1 0 -2.1 -2.0M545.7 185.5a1.45 0.74 45 1 0 2.1 2.1a1.45 0.74 45 1 0 -2.1 -2.1M435.9 192.2a1.45 0.72 -47 1 0 2.0 -2.1a1.45 0.72 -47 1 0 -2.0 2.1M440.4 192.1a1.45 0.59 -45 1 0 2.1 -2.1a1.45 0.59 -45 1 0 -2.1 2.1M444.9 192.1a1.45 0.50 -42 1 0 2.1 -2.0a1.45 0.50 -42 1 0 -2.1 2.0M449.5 192.0a1.45 0.41 -39 1 0 2.2 -1.8a1.45 0.41 -39 1 0 -2.2 1.8M454.0 192.0a1.45 0.34 -36 1 0 2.3 -1.7a1.45 0.34 -36 1 0 -2.3 1.7M458.5 191.9a1.45 0.28 -32 1 0 2.4 -1.6a1.45 0.28 -32 1 0 -2.4 1.6M463.0 191.8a1.45 0.25 -29 1 0 2.5 -1.4a1.45 0.25 -29 1 0 -2.5 1.4M467.6 191.7a1.45 0.23 -24 1 0 2.6 -1.2a1.45 0.23 -24 1 0 -2.6 1.2M472.1 191.6a1.45 0.21 -20 1 0 2.7 -1.0a1.45 0.21 -20 1 0 -2.7 1.0M504.1 190.7a1.45 0.12 15 1 0 2.8 0.8a1.45 0.12 15 1 0 -2.8 -0.8M508.8 190.6a1.45 0.21 20 1 0 2.7 1.0a1.45 0.21 20 1 0 -2.7 -1.0M513.4 190.5a1.45 0.23 24 1 0 2.6 1.2a1.45 0.23 24 1 0 -2.6 -1.2M518.0 190.4a1.45 0.25 29 1 0 2.5 1.4a1.45 0.25 29 1 0 -2.5 -1.4M522.6 190.3a1.45 0.28 32 1 0 2.4 1.6a1.45 0.28 32 1 0 -2.4 -1.6M527.3 190.3a1.45 0.34 36 1 0 2.3 1.7a1.45 0.34 36 1 0 -2.3 -1.7M531.9 190.2a1.45 0.41 39 1 0 2.2 1.8a1.45 0.41 39 1 0 -2.2 -1.8M536.5 190.1a1.45 0.50 42 1 0 2.1 2.0a1.45 0.50 42 1 0 -2.1 -2.0M541.2 190.1a1.45 0.59 45 1 0 2.1 2.1a1.45 0.59 45 1 0 -2.1 -2.1M545.8 190.1a1.45 0.72 47 1 0 2.0 2.1a1.45 0.72 47 1 0 -2.0 -2.1M435.9 196.8a1.45 0.60 -50 1 0 1.9 -2.2a1.45 0.60 -50 1 0 -1.9 2.2M440.4 196.8a1.45 0.50 -48 1 0 2.0 -2.1a1.45 0.50 -48 1 0 -2.0 2.1M445.0 196.7a1.45 0.40 -45 1 0 2.1 -2.1a1.45 0.40 -45 1 0 -2.1 2.1M449.5 196.7a1.45 0.32 -42 1 0 2.2 -1.9a1.45 0.32 -42 1 0 -2.2 1.9M454.0 196.6a1.45 0.26 -39 1 0 2.3 -1.8a1.45 0.26 -39 1 0 -2.3 1.8M458.6 196.5a1.45 0.23 -35 1 0 2.4 -1.7a1.45 0.23 -35 1 0 -2.4 1.7M463.1 196.4a1.45 0.21 -31 1 0 2.5 -1.5a1.45 0.21 -31 1 0 -2.5 1.5M508.8 195.2a1.45 0.12 22 1 0 2.7 1.1a1.45 0.12 22 1 0 -2.7 -1.1M513.4 195.1a1.45 0.12 27 1 0 2.6 1.3a1.45 0.12 27 1 0 -2.6 -1.3M518.0 195.0a1.45 0.21 31 1 0 2.5 1.5a1.45 0.21 31 1 0 -2.5 -1.5M522.7 194.9a1.45 0.23 35 1 0 2.4 1.7a1.45 0.23 35 1 0 -2.4 -1.7M527.3 194.8a1.45 0.26 39 1 0 2.3 1.8a1.45 0.26 39 1 0 -2.3 -1.8M531.9 194.7a1.45 0.32 42 1 0 2.2 1.9a1.45 0.32 42 1 0 -2.2 -1.9M536.6 194.7a1.45 0.40 45 1 0 2.1 2.1a1.45 0.40 45 1 0 -2.1 -2.1M541.2 194.6a1.45 0.50 48 1 0 2.0 2.1a1.45 0.50 48 1 0 -2.0 -2.1M545.8 194.6a1.45 0.60 50 1 0 1.9 2.2a1.45 0.60 50 1 0 -1.9 -2.2M436.0 201.4a1.45 0.51 -53 1 0 1.7 -2.3a1.45 0.51 -53 1 0 -1.7 2.3M440.5 201.4a1.45 0.41 -51 1 0 1.8 -2.2a1.45 0.41 -51 1 0 -1.8 2.2M445.0 201.4a1.45 0.32 -48 1 0 1.9 -2.2a1.45 0.32 -48 1 0 -1.9 2.2M449.6 201.3a1.45 0.26 -45 1 0 2.1 -2.1a1.45 0.26 -45 1 0 -2.1 2.1M454.1 201.2a1.45 0.22 -42 1 0 2.2 -1.9a1.45 0.22 -42 1 0 -2.2 1.9M513.4 199.6a1.45 0.12 29 1 0 2.5 1.4a1.45 0.12 29 1 0 -2.5 -1.4M518.1 199.5a1.45 0.12 34 1 0 2.4 1.6a1.45 0.12 34 1 0 -2.4 -1.6M522.7 199.4a1.45 0.15 38 1 0 2.3 1.8a1.45 0.15 38 1 0 -2.3 -1.8M527.4 199.3a1.45 0.22 42 1 0 2.2 1.9a1.45 0.22 42 1 0 -2.2 -1.9M532.0 199.3a1.45 0.26 45 1 0 2.1 2.1a1.45 0.26 45 1 0 -2.1 -2.1M536.6 199.2a1.45 0.32 48 1 0 1.9 2.2a1.45 0.32 48 1 0 -1.9 -2.2M541.3 199.2a1.45 0.41 51 1 0 1.8 2.2a1.45 0.41 51 1 0 -1.8 -2.2M545.9 199.1a1.45 0.51 53 1 0 1.7 2.3a1.45 0.51 53 1 0 -1.7 -2.3M436.0 206.1a1.45 0.44 -56 1 0 1.6 -2.4a1.45 0.44 -56 1 0 -1.6 2.4M440.6 206.0a1.45 0.34 -54 1 0 1.7 -2.3a1.45 0.34 -54 1 0 -1.7 2.3M445.1 206.0a1.45 0.26 -51 1 0 1.8 -2.3a1.45 0.26 -51 1 0 -1.8 2.3M449.6 205.9a1.45 0.22 -48 1 0 1.9 -2.2a1.45 0.22 -48 1 0 -1.9 2.2M476.7 205.4a1.45 0.12 -21 1 0 2.7 -1.0a1.45 0.12 -21 1 0 -2.7 1.0M481.2 205.2a1.45 0.50 -14 1 0 2.8 -0.7a1.45 0.50 -14 1 0 -2.8 0.7M485.8 205.0a1.45 0.57 -7 1 0 2.9 -0.4a1.45 0.57 -7 1 0 -2.9 0.4M490.4 204.9a1.45 0.60 0 1 0 2.9 0.0a1.45 0.60 0 1 0 -2.9 -0.0M494.9 204.7a1.45 0.57 7 1 0 2.9 0.4a1.45 0.57 7 1 0 -2.9 -0.4M499.6 204.5a1.45 0.50 14 1 0 2.8 0.7a1.45 0.50 14 1 0 -2.8 -0.7M504.2 204.4a1.45 0.24 21 1 0 2.7 1.0a1.45 0.24 21 1 0 -2.7 -1.0M508.8 204.2a1.45 0.14 27 1 0 2.6 1.3a1.45 0.14 27 1 0 -2.6 -1.3M513.5 204.1a1.45 0.12 32 1 0 2.5 1.5a1.45 0.12 32 1 0 -2.5 -1.5M518.1 204.0a1.45 0.12 37 1 0 2.3 1.7a1.45 0.12 37 1 0 -2.3 -1.7M522.8 203.9a1.45 0.12 41 1 0 2.2 1.9a1.45 0.12 41 1 0 -2.2 -1.9M527.4 203.8a1.45 0.19 45 1 0 2.1 2.1a1.45 0.19 45 1 0 -2.1 -2.1M532.1 203.8a1.45 0.22 48 1 0 1.9 2.2a1.45 0.22 48 1 0 -1.9 -2.2M536.7 203.7a1.45 0.26 51 1 0 1.8 2.3a1.45 0.26 51 1 0 -1.8 -2.3M541.3 203.7a1.45 0.34 54 1 0 1.7 2.3a1.45 0.34 54 1 0 -1.7 -2.3M546.0 203.7a1.45 0.44 56 1 0 1.6 2.4a1.45 0.44 56 1 0 -1.6 -2.4M436.1 210.7a1.45 0.37 -60 1 0 1.5 -2.5a1.45 0.37 -60 1 0 -1.5 2.5M440.6 210.7a1.45 0.28 -58 1 0 1.6 -2.4a1.45 0.28 -58 1 0 -1.6 2.4M445.2 210.6a1.45 0.23 -55 1 0 1.7 -2.4a1.45 0.23 -55 1 0 -1.7 2.4M467.7 210.3a1.45 0.12 -36 1 0 2.4 -1.7a1.45 0.12 -36 1 0 -2.4 1.7M472.2 210.2a1.45 0.57 -30 1 0 2.5 -1.4a1.45 0.57 -30 1 0 -2.5 1.4M476.7 210.0a1.45 0.79 -23 1 0 2.7 -1.1a1.45 0.79 -23 1 0 -2.7 1.1M481.2 209.8a1.45 1.05 -16 1 0 2.8 -0.8a1.45 1.05 -16 1 0 -2.8 0.8M485.8 209.6a1.45 1.02 -7 1 0 2.9 -0.4a1.45 1.02 -7 1 0 -2.9 0.4M490.4 209.4a1.45 1.00 0 1 0 2.9 0.0a1.45 1.00 0 1 0 -2.9 -0.0M494.9 209.3a1.45 1.02 7 1 0 2.9 0.4a1.45 1.02 7 1 0 -2.9 -0.4M499.6 209.0a1.45 1.05 16 1 0 2.8 0.8a1.45 1.05 16 1 0 -2.8 -0.8M504.2 208.9a1.45 0.79 23 1 0 2.7 1.1a1.45 0.79 23 1 0 -2.7 -1.1M508.9 208.7a1.45 0.57 30 1 0 2.5 1.4a1.45 0.57 30 1 0 -2.5 -1.4M513.5 208.6a1.45 0.32 36 1 0 2.4 1.7a1.45 0.32 36 1 0 -2.4 -1.7M518.2 208.5a1.45 0.12 41 1 0 2.2 1.9a1.45 0.12 41 1 0 -2.2 -1.9M522.8 208.4a1.45 0.12 45 1 0 2.1 2.1a1.45 0.12 45 1 0 -2.1 -2.1M527.5 208.3a1.45 0.13 49 1 0 1.9 2.2a1.45 0.13 49 1 0 -1.9 -2.2M532.1 208.3a1.45 0.20 52 1 0 1.8 2.3a1.45 0.20 52 1 0 -1.8 -2.3M536.8 208.3a1.45 0.23 55 1 0 1.7 2.4a1.45 0.23 55 1 0 -1.7 -2.4M541.4 208.2a1.45 0.28 58 1 0 1.6 2.4a1.45 0.28 58 1 0 -1.6 -2.4M546.0 208.2a1.45 0.37 60 1 0 1.5 2.5a1.45 0.37 60 1 0 -1.5 -2.5M436.2 215.3a1.45 0.32 -63 1 0 1.3 -2.6a1.45 0.32 -63 1 0 -1.3 2.6M440.7 215.3a1.45 0.25 -61 1 0 1.4 -2.5a1.45 0.25 -61 1 0 -1.4 2.5M445.3 215.3a1.45 0.21 -59 1 0 1.5 -2.5a1.45 0.21 -59 1 0 -1.5 2.5M463.3 215.0a1.45 0.12 -45 1 0 2.1 -2.1a1.45 0.12 -45 1 0 -2.1 2.1M467.8 214.9a1.45 0.68 -40 1 0 2.2 -1.9a1.45 0.68 -40 1 0 -2.2 1.9M472.3 214.8a1.45 1.04 -33 1 0 2.4 -1.6a1.45 1.04 -33 1 0 -2.4 1.6M476.7 214.5a1.45 0.97 -21 1 0 2.7 -1.0a1.45 0.97 -21 1 0 -2.7 1.0M481.2 214.3a1.45 0.92 -12 1 0 2.8 -0.6a1.45 0.92 -12 1 0 -2.8 0.6M485.8 214.1a1.45 0.89 -5 1 0 2.9 -0.3a1.45 0.89 -5 1 0 -2.9 0.3M490.4 214.0a1.45 0.89 0 1 0 2.9 0.0a1.45 0.89 0 1 0 -2.9 -0.0M494.9 213.9a1.45 0.89 5 1 0 2.9 0.3a1.45 0.89 5 1 0 -2.9 -0.3M499.5 213.7a1.45 0.92 12 1 0 2.8 0.6a1.45 0.92 12 1 0 -2.8 -0.6M504.2 213.5a1.45 0.97 21 1 0 2.7 1.0a1.45 0.97 21 1 0 -2.7 -1.0M508.9 213.2a1.45 1.04 33 1 0 2.4 1.6a1.45 1.04 33 1 0 -2.4 -1.6M513.6 213.1a1.45 0.68 40 1 0 2.2 1.9a1.45 0.68 40 1 0 -2.2 -1.9M518.3 213.0a1.45 0.42 45 1 0 2.1 2.1a1.45 0.42 45 1 0 -2.1 -2.1M522.9 212.9a1.45 0.15 49 1 0 1.9 2.2a1.45 0.15 49 1 0 -1.9 -2.2M527.6 212.9a1.45 0.12 53 1 0 1.7 2.3a1.45 0.12 53 1 0 -1.7 -2.3M532.2 212.8a1.45 0.15 56 1 0 1.6 2.4a1.45 0.15 56 1 0 -1.6 -2.4M536.9 212.8a1.45 0.21 59 1 0 1.5 2.5a1.45 0.21 59 1 0 -1.5 -2.5M541.5 212.7a1.45 0.25 61 1 0 1.4 2.5a1.45 0.25 61 1 0 -1.4 -2.5M546.1 212.7a1.45 0.32 63 1 0 1.3 2.6a1.45 0.32 63 1 0 -1.3 -2.6M436.3 219.9a1.45 0.28 -67 1 0 1.1 -2.7a1.45 0.28 -67 1 0 -1.1 2.7M440.8 219.9a1.45 0.23 -66 1 0 1.2 -2.6a1.45 0.23 -66 1 0 -1.2 2.6M458.9 219.8a1.45 0.12 -54 1 0 1.7 -2.4a1.45 0.12 -54 1 0 -1.7 2.4M463.4 219.7a1.45 0.68 -50 1 0 1.9 -2.2a1.45 0.68 -50 1 0 -1.9 2.2M467.8 219.6a1.45 1.02 -42 1 0 2.1 -2.0a1.45 1.02 -42 1 0 -2.1 2.0M472.2 219.2a1.45 0.93 -26 1 0 2.6 -1.3a1.45 0.93 -26 1 0 -2.6 1.3M476.6 218.9a1.45 0.87 -13 1 0 2.8 -0.7a1.45 0.87 -13 1 0 -2.8 0.7M481.2 218.7a1.45 0.83 -5 1 0 2.9 -0.3a1.45 0.83 -5 1 0 -2.9 0.3M485.8 218.6a1.45 0.75 -2 1 0 2.9 -0.1a1.45 0.75 -2 1 0 -2.9 0.1M490.4 218.6a1.45 0.66 0 1 0 2.9 0.0a1.45 0.66 0 1 0 -2.9 -0.0M494.9 218.6a1.45 0.75 2 1 0 2.9 0.1a1.45 0.75 2 1 0 -2.9 -0.1M499.5 218.5a1.45 0.83 5 1 0 2.9 0.3a1.45 0.83 5 1 0 -2.9 -0.3M504.1 218.3a1.45 0.87 13 1 0 2.8 0.7a1.45 0.87 13 1 0 -2.8 -0.7M508.8 218.0a1.45 0.93 26 1 0 2.6 1.3a1.45 0.93 26 1 0 -2.6 -1.3M513.6 217.6a1.45 1.02 42 1 0 2.1 2.0a1.45 1.02 42 1 0 -2.1 -2.0M518.4 217.5a1.45 0.68 50 1 0 1.9 2.2a1.45 0.68 50 1 0 -1.9 -2.2M523.0 217.4a1.45 0.38 54 1 0 1.7 2.4a1.45 0.38 54 1 0 -1.7 -2.4M527.7 217.4a1.45 0.12 58 1 0 1.5 2.5a1.45 0.12 58 1 0 -1.5 -2.5M532.3 217.3a1.45 0.12 61 1 0 1.4 2.5a1.45 0.12 61 1 0 -1.4 -2.5M537.0 217.3a1.45 0.19 63 1 0 1.3 2.6a1.45 0.19 63 1 0 -1.3 -2.6M541.6 217.3a1.45 0.23 66 1 0 1.2 2.6a1.45 0.23 66 1 0 -1.2 -2.6M546.2 217.3a1.45 0.28 67 1 0 1.1 2.7a1.45 0.28 67 1 0 -1.1 -2.7M436.4 224.6a1.45 0.25 -72 1 0 0.9 -2.8a1.45 0.25 -72 1 0 -0.9 2.8M440.9 224.5a1.45 0.21 -70 1 0 1.0 -2.7a1.45 0.21 -70 1 0 -1.0 2.7M459.0 224.4a1.45 0.57 -60 1 0 1.4 -2.5a1.45 0.57 -60 1 0 -1.4 2.5M463.5 224.4a1.45 1.04 -55 1 0 1.6 -2.4a1.45 1.04 -55 1 0 -1.6 2.4M467.7 224.0a1.45 0.93 -36 1 0 2.3 -1.7a1.45 0.93 -36 1 0 -2.3 1.7M472.1 223.6a1.45 0.85 -15 1 0 2.8 -0.7a1.45 0.85 -15 1 0 -2.8 0.7M476.6 223.3a1.45 0.66 -3 1 0 2.9 -0.2a1.45 0.66 -3 1 0 -2.9 0.2M481.2 223.2a1.45 0.32 0 1 0 2.9 0.0a1.45 0.32 0 1 0 -2.9 -0.0M485.8 223.2a1.45 0.15 0 1 0 2.9 0.0a1.45 0.15 0 1 0 -2.9 -0.0M490.4 223.2a1.45 0.12 0 1 0 2.9 0.0a1.45 0.12 0 1 0 -2.9 -0.0M494.9 223.2a1.45 0.15 0 1 0 2.9 0.0a1.45 0.15 0 1 0 -2.9 -0.0M499.5 223.2a1.45 0.32 0 1 0 2.9 0.0a1.45 0.32 0 1 0 -2.9 -0.0M504.1 223.1a1.45 0.66 3 1 0 2.9 0.2a1.45 0.66 3 1 0 -2.9 -0.2M508.7 222.8a1.45 0.85 15 1 0 2.8 0.7a1.45 0.85 15 1 0 -2.8 -0.7M513.5 222.3a1.45 0.93 36 1 0 2.3 1.7a1.45 0.93 36 1 0 -2.3 -1.7M518.5 222.0a1.45 1.04 55 1 0 1.6 2.4a1.45 1.04 55 1 0 -1.6 -2.4M523.1 221.9a1.45 0.57 60 1 0 1.4 2.5a1.45 0.57 60 1 0 -1.4 -2.5M527.8 221.9a1.45 0.25 63 1 0 1.3 2.6a1.45 0.25 63 1 0 -1.3 -2.6M532.4 221.9a1.45 0.12 66 1 0 1.2 2.7a1.45 0.12 66 1 0 -1.2 -2.7M537.1 221.8a1.45 0.14 68 1 0 1.1 2.7a1.45 0.14 68 1 0 -1.1 -2.7M541.7 221.8a1.45 0.21 70 1 0 1.0 2.7a1.45 0.21 70 1 0 -1.0 -2.7M546.3 221.8a1.45 0.25 72 1 0 0.9 2.8a1.45 0.25 72 1 0 -0.9 -2.8M436.5 229.2a1.45 0.24 -76 1 0 0.7 -2.8a1.45 0.24 -76 1 0 -0.7 2.8M454.7 229.1a1.45 0.12 -69 1 0 1.0 -2.7a1.45 0.12 -69 1 0 -1.0 2.7M459.2 229.1a1.45 0.79 -67 1 0 1.1 -2.7a1.45 0.79 -67 1 0 -1.1 2.7M463.5 229.0a1.45 0.97 -55 1 0 1.6 -2.4a1.45 0.97 -55 1 0 -1.6 2.4M467.6 228.3a1.45 0.87 -23 1 0 2.7 -1.1a1.45 0.87 -23 1 0 -2.7 1.1M472.0 227.8a1.45 0.66 -3 1 0 2.9 -0.2a1.45 0.66 -3 1 0 -2.9 0.2M476.6 227.8a1.45 0.20 0 1 0 2.9 0.0a1.45 0.20 0 1 0 -2.9 -0.0M504.1 227.8a1.45 0.20 0 1 0 2.9 0.0a1.45 0.20 0 1 0 -2.9 -0.0M508.7 227.7a1.45 0.66 3 1 0 2.9 0.2a1.45 0.66 3 1 0 -2.9 -0.2M513.4 227.2a1.45 0.87 23 1 0 2.7 1.1a1.45 0.87 23 1 0 -2.7 -1.1M518.5 226.6a1.45 0.97 55 1 0 1.6 2.4a1.45 0.97 55 1 0 -1.6 -2.4M523.3 226.4a1.45 0.79 67 1 0 1.1 2.7a1.45 0.79 67 1 0 -1.1 -2.7M527.9 226.4a1.45 0.40 69 1 0 1.0 2.7a1.45 0.40 69 1 0 -1.0 -2.7M532.6 226.4a1.45 0.12 72 1 0 0.9 2.8a1.45 0.12 72 1 0 -0.9 -2.8M537.2 226.4a1.45 0.12 73 1 0 0.8 2.8a1.45 0.12 73 1 0 -0.8 -2.8M541.8 226.4a1.45 0.20 75 1 0 0.8 2.8a1.45 0.20 75 1 0 -0.8 -2.8M546.4 226.4a1.45 0.24 76 1 0 0.7 2.8a1.45 0.24 76 1 0 -0.7 -2.8M436.6 233.8a1.45 0.23 -81 1 0 0.5 -2.9a1.45 0.23 -81 1 0 -0.5 2.9M454.8 233.7a1.45 0.50 -76 1 0 0.7 -2.8a1.45 0.50 -76 1 0 -0.7 2.8M459.3 233.7a1.45 1.05 -74 1 0 0.8 -2.8a1.45 1.05 -74 1 0 -0.8 2.8M463.5 233.5a1.45 0.92 -54 1 0 1.7 -2.3a1.45 0.92 -54 1 0 -1.7 2.3M467.5 232.6a1.45 0.83 -9 1 0 2.9 -0.4a1.45 0.83 -9 1 0 -2.9 0.4M472.0 232.3a1.45 0.32 0 1 0 2.9 0.0a1.45 0.32 0 1 0 -2.9 -0.0M508.7 232.3a1.45 0.32 0 1 0 2.9 0.0a1.45 0.32 0 1 0 -2.9 -0.0M513.3 232.1a1.45 0.83 9 1 0 2.9 0.4a1.45 0.83 9 1 0 -2.9 -0.4M518.4 231.2a1.45 0.92 54 1 0 1.7 2.3a1.45 0.92 54 1 0 -1.7 -2.3M523.5 230.9a1.45 1.05 74 1 0 0.8 2.8a1.45 1.05 74 1 0 -0.8 -2.8M528.1 230.9a1.45 0.50 76 1 0 0.7 2.8a1.45 0.50 76 1 0 -0.7 -2.8M532.7 230.9a1.45 0.15 77 1 0 0.6 2.8a1.45 0.15 77 1 0 -0.6 -2.8M537.3 230.9a1.45 0.12 79 1 0 0.6 2.8a1.45 0.12 79 1 0 -0.6 -2.8M541.9 230.9a1.45 0.19 80 1 0 0.5 2.9a1.45 0.19 80 1 0 -0.5 -2.9M546.5 230.9a1.45 0.23 81 1 0 0.5 2.9a1.45 0.23 81 1 0 -0.5 -2.9M436.7 238.4a1.45 0.22 -85 1 0 0.2 -2.9a1.45 0.22 -85 1 0 -0.2 2.9M455.0 238.4a1.45 0.57 -83 1 0 0.4 -2.9a1.45 0.57 -83 1 0 -0.4 2.9M459.5 238.4a1.45 1.02 -81 1 0 0.5 -2.9a1.45 1.02 -81 1 0 -0.5 2.9M463.4 238.0a1.45 0.89 -50 1 0 1.9 -2.2a1.45 0.89 -50 1 0 -1.9 2.2M467.5 237.0a1.45 0.75 -2 1 0 2.9 -0.1a1.45 0.75 -2 1 0 -2.9 0.1M472.0 236.9a1.45 0.15 0 1 0 2.9 0.0a1.45 0.15 0 1 0 -2.9 -0.0M508.7 236.9a1.45 0.15 0 1 0 2.9 0.0a1.45 0.15 0 1 0 -2.9 -0.0M513.3 236.9a1.45 0.75 2 1 0 2.9 0.1a1.45 0.75 2 1 0 -2.9 -0.1M518.3 235.8a1.45 0.89 50 1 0 1.9 2.2a1.45 0.89 50 1 0 -1.9 -2.2M523.6 235.5a1.45 1.02 81 1 0 0.5 2.9a1.45 1.02 81 1 0 -0.5 -2.9M528.3 235.5a1.45 0.57 83 1 0 0.4 2.9a1.45 0.57 83 1 0 -0.4 -2.9M532.9 235.5a1.45 0.21 84 1 0 0.3 2.9a1.45 0.21 84 1 0 -0.3 -2.9M537.5 235.5a1.45 0.12 84 1 0 0.3 2.9a1.45 0.12 84 1 0 -0.3 -2.9M542.0 235.5a1.45 0.17 85 1 0 0.3 2.9a1.45 0.17 85 1 0 -0.3 -2.9M546.6 235.5a1.45 0.22 85 1 0 0.2 2.9a1.45 0.22 85 1 0 -0.2 -2.9M436.8 240.1a1.45 0.22 90 1 0 0.0 2.9a1.45 0.22 90 1 0 -0.0 -2.9M455.2 240.1a1.45 0.60 90 1 0 0.0 2.9a1.45 0.60 90 1 0 -0.0 -2.9M459.7 240.1a1.45 1.00 90 1 0 0.0 2.9a1.45 1.00 90 1 0 -0.0 -2.9M462.9 241.5a1.45 0.89 0 1 0 2.9 0.0a1.45 0.89 0 1 0 -2.9 -0.0M467.5 241.5a1.45 0.66 0 1 0 2.9 0.0a1.45 0.66 0 1 0 -2.9 -0.0M472.0 241.5a1.45 0.12 0 1 0 2.9 0.0a1.45 0.12 0 1 0 -2.9 -0.0M508.7 241.5a1.45 0.12 0 1 0 2.9 0.0a1.45 0.12 0 1 0 -2.9 -0.0M513.2 241.5a1.45 0.66 0 1 0 2.9 0.0a1.45 0.66 0 1 0 -2.9 -0.0M517.8 241.5a1.45 0.89 0 1 0 2.9 0.0a1.45 0.89 0 1 0 -2.9 -0.0M523.9 240.1a1.45 1.00 90 1 0 0.0 2.9a1.45 1.00 90 1 0 -0.0 -2.9M528.4 240.1a1.45 0.60 90 1 0 0.0 2.9a1.45 0.60 90 1 0 -0.0 -2.9M533.0 240.1a1.45 0.23 90 1 0 0.0 2.9a1.45 0.23 90 1 0 -0.0 -2.9M537.6 240.1a1.45 0.12 90 1 0 0.0 2.9a1.45 0.12 90 1 0 -0.0 -2.9M542.2 240.1a1.45 0.17 90 1 0 0.0 2.9a1.45 0.17 90 1 0 -0.0 -2.9M546.8 240.1a1.45 0.22 90 1 0 0.0 2.9a1.45 0.22 90 1 0 -0.0 -2.9M436.7 244.6a1.45 0.22 85 1 0 0.2 2.9a1.45 0.22 85 1 0 -0.2 -2.9M455.0 244.6a1.45 0.57 83 1 0 0.4 2.9a1.45 0.57 83 1 0 -0.4 -2.9M459.5 244.6a1.45 1.02 81 1 0 0.5 2.9a1.45 1.02 81 1 0 -0.5 -2.9M463.4 245.0a1.45 0.89 50 1 0 1.9 2.2a1.45 0.89 50 1 0 -1.9 -2.2M467.5 246.0a1.45 0.75 2 1 0 2.9 0.1a1.45 0.75 2 1 0 -2.9 -0.1M472.0 246.1a1.45 0.15 0 1 0 2.9 0.0a1.45 0.15 0 1 0 -2.9 -0.0M508.7 246.1a1.45 0.15 0 1 0 2.9 0.0a1.45 0.15 0 1 0 -2.9 -0.0M513.3 246.1a1.45 0.75 -2 1 0 2.9 -0.1a1.45 0.75 -2 1 0 -2.9 0.1M518.3 247.2a1.45 0.89 -50 1 0 1.9 -2.2a1.45 0.89 -50 1 0 -1.9 2.2M523.6 247.5a1.45 1.02 -81 1 0 0.5 -2.9a1.45 1.02 -81 1 0 -0.5 2.9M528.3 247.5a1.45 0.57 -83 1 0 0.4 -2.9a1.45 0.57 -83 1 0 -0.4 2.9M532.9 247.5a1.45 0.21 -84 1 0 0.3 -2.9a1.45 0.21 -84 1 0 -0.3 2.9M537.5 247.5a1.45 0.12 -84 1 0 0.3 -2.9a1.45 0.12 -84 1 0 -0.3 2.9M542.0 247.5a1.45 0.17 -85 1 0 0.3 -2.9a1.45 0.17 -85 1 0 -0.3 2.9M546.6 247.5a1.45 0.22 -85 1 0 0.2 -2.9a1.45 0.22 -85 1 0 -0.2 2.9M436.6 249.2a1.45 0.23 81 1 0 0.5 2.9a1.45 0.23 81 1 0 -0.5 -2.9M454.8 249.3a1.45 0.50 76 1 0 0.7 2.8a1.45 0.50 76 1 0 -0.7 -2.8M459.3 249.3a1.45 1.05 74 1 0 0.8 2.8a1.45 1.05 74 1 0 -0.8 -2.8M463.5 249.5a1.45 0.92 54 1 0 1.7 2.3a1.45 0.92 54 1 0 -1.7 -2.3M467.5 250.4a1.45 0.83 9 1 0 2.9 0.4a1.45 0.83 9 1 0 -2.9 -0.4M472.0 250.7a1.45 0.32 0 1 0 2.9 0.0a1.45 0.32 0 1 0 -2.9 -0.0M508.7 250.7a1.45 0.32 0 1 0 2.9 0.0a1.45 0.32 0 1 0 -2.9 -0.0M513.3 250.9a1.45 0.83 -9 1 0 2.9 -0.4a1.45 0.83 -9 1 0 -2.9 0.4M518.4 251.8a1.45 0.92 -54 1 0 1.7 -2.3a1.45 0.92 -54 1 0 -1.7 2.3M523.5 252.1a1.45 1.05 -74 1 0 0.8 -2.8a1.45 1.05 -74 1 0 -0.8 2.8M528.1 252.1a1.45 0.50 -76 1 0 0.7 -2.8a1.45 0.50 -76 1 0 -0.7 2.8M532.7 252.1a1.45 0.15 -77 1 0 0.6 -2.8a1.45 0.15 -77 1 0 -0.6 2.8M537.3 252.1a1.45 0.12 -79 1 0 0.6 -2.8a1.45 0.12 -79 1 0 -0.6 2.8M541.9 252.1a1.45 0.19 -80 1 0 0.5 -2.9a1.45 0.19 -80 1 0 -0.5 2.9M546.5 252.1a1.45 0.23 -81 1 0 0.5 -2.9a1.45 0.23 -81 1 0 -0.5 2.9M436.5 253.8a1.45 0.24 76 1 0 0.7 2.8a1.45 0.24 76 1 0 -0.7 -2.8M441.0 253.8a1.45 0.12 75 1 0 0.8 2.8a1.45 0.12 75 1 0 -0.8 -2.8M454.7 253.9a1.45 0.24 69 1 0 1.0 2.7a1.45 0.24 69 1 0 -1.0 -2.7M459.2 253.9a1.45 0.79 67 1 0 1.1 2.7a1.45 0.79 67 1 0 -1.1 -2.7M463.5 254.0a1.45 0.97 55 1 0 1.6 2.4a1.45 0.97 55 1 0 -1.6 -2.4M467.6 254.7a1.45 0.87 23 1 0 2.7 1.1a1.45 0.87 23 1 0 -2.7 -1.1M472.0 255.2a1.45 0.66 3 1 0 2.9 0.2a1.45 0.66 3 1 0 -2.9 -0.2M476.6 255.2a1.45 0.20 0 1 0 2.9 0.0a1.45 0.20 0 1 0 -2.9 -0.0M504.1 255.2a1.45 0.20 0 1 0 2.9 0.0a1.45 0.20 0 1 0 -2.9 -0.0M508.7 255.3a1.45 0.66 -3 1 0 2.9 -0.2a1.45 0.66 -3 1 0 -2.9 0.2M513.4 255.8a1.45 0.87 -23 1 0 2.7 -1.1a1.45 0.87 -23 1 0 -2.7 1.1M518.5 256.4a1.45 0.97 -55 1 0 1.6 -2.4a1.45 0.97 -55 1 0 -1.6 2.4M523.3 256.6a1.45 0.79 -67 1 0 1.1 -2.7a1.45 0.79 -67 1 0 -1.1 2.7M527.9 256.6a1.45 0.40 -69 1 0 1.0 -2.7a1.45 0.40 -69 1 0 -1.0 2.7M532.6 256.6a1.45 0.12 -72 1 0 0.9 -2.8a1.45 0.12 -72 1 0 -0.9 2.8M537.2 256.6a1.45 0.12 -73 1 0 0.8 -2.8a1.45 0.12 -73 1 0 -0.8 2.8M541.8 256.6a1.45 0.20 -75 1 0 0.8 -2.8a1.45 0.20 -75 1 0 -0.8 2.8M546.4 256.6a1.45 0.24 -76 1 0 0.7 -2.8a1.45 0.24 -76 1 0 -0.7 2.8M436.4 258.4a1.45 0.25 72 1 0 0.9 2.8a1.45 0.25 72 1 0 -0.9 -2.8M440.9 258.5a1.45 0.21 70 1 0 1.0 2.7a1.45 0.21 70 1 0 -1.0 -2.7M445.5 258.5a1.45 0.12 68 1 0 1.1 2.7a1.45 0.12 68 1 0 -1.1 -2.7M454.5 258.5a1.45 0.14 63 1 0 1.3 2.6a1.45 0.14 63 1 0 -1.3 -2.6M459.0 258.6a1.45 0.57 60 1 0 1.4 2.5a1.45 0.57 60 1 0 -1.4 -2.5M463.5 258.6a1.45 1.04 55 1 0 1.6 2.4a1.45 1.04 55 1 0 -1.6 -2.4M467.7 259.0a1.45 0.93 36 1 0 2.3 1.7a1.45 0.93 36 1 0 -2.3 -1.7M472.1 259.4a1.45 0.85 15 1 0 2.8 0.7a1.45 0.85 15 1 0 -2.8 -0.7M476.6 259.7a1.45 0.66 3 1 0 2.9 0.2a1.45 0.66 3 1 0 -2.9 -0.2M481.2 259.8a1.45 0.32 0 1 0 2.9 0.0a1.45 0.32 0 1 0 -2.9 -0.0M485.8 259.8a1.45 0.15 0 1 0 2.9 0.0a1.45 0.15 0 1 0 -2.9 -0.0M490.4 259.8a1.45 0.12 0 1 0 2.9 0.0a1.45 0.12 0 1 0 -2.9 -0.0M494.9 259.8a1.45 0.15 0 1 0 2.9 0.0a1.45 0.15 0 1 0 -2.9 -0.0M499.5 259.8a1.45 0.32 0 1 0 2.9 0.0a1.45 0.32 0 1 0 -2.9 -0.0M504.1 259.9a1.45 0.66 -3 1 0 2.9 -0.2a1.45 0.66 -3 1 0 -2.9 0.2M508.7 260.2a1.45 0.85 -15 1 0 2.8 -0.7a1.45 0.85 -15 1 0 -2.8 0.7M513.5 260.7a1.45 0.93 -36 1 0 2.3 -1.7a1.45 0.93 -36 1 0 -2.3 1.7M518.5 261.0a1.45 1.04 -55 1 0 1.6 -2.4a1.45 1.04 -55 1 0 -1.6 2.4M523.1 261.1a1.45 0.57 -60 1 0 1.4 -2.5a1.45 0.57 -60 1 0 -1.4 2.5M527.8 261.1a1.45 0.25 -63 1 0 1.3 -2.6a1.45 0.25 -63 1 0 -1.3 2.6M532.4 261.1a1.45 0.12 -66 1 0 1.2 -2.7a1.45 0.12 -66 1 0 -1.2 2.7M537.1 261.2a1.45 0.14 -68 1 0 1.1 -2.7a1.45 0.14 -68 1 0 -1.1 2.7M541.7 261.2a1.45 0.21 -70 1 0 1.0 -2.7a1.45 0.21 -70 1 0 -1.0 2.7M546.3 261.2a1.45 0.25 -72 1 0 0.9 -2.8a1.45 0.25 -72 1 0 -0.9 2.8M436.3 263.1a1.45 0.28 67 1 0 1.1 2.7a1.45 0.28 67 1 0 -1.1 -2.7M440.8 263.1a1.45 0.23 66 1 0 1.2 2.6a1.45 0.23 66 1 0 -1.2 -2.6M445.4 263.1a1.45 0.12 63 1 0 1.3 2.6a1.45 0.12 63 1 0 -1.3 -2.6M449.9 263.1a1.45 0.12 61 1 0 1.4 2.5a1.45 0.12 61 1 0 -1.4 -2.5M454.4 263.2a1.45 0.12 58 1 0 1.5 2.5a1.45 0.12 58 1 0 -1.5 -2.5M458.9 263.2a1.45 0.32 54 1 0 1.7 2.4a1.45 0.32 54 1 0 -1.7 -2.4M463.4 263.3a1.45 0.68 50 1 0 1.9 2.2a1.45 0.68 50 1 0 -1.9 -2.2M467.8 263.4a1.45 1.02 42 1 0 2.1 2.0a1.45 1.02 42 1 0 -2.1 -2.0M472.2 263.8a1.45 0.93 26 1 0 2.6 1.3a1.45 0.93 26 1 0 -2.6 -1.3M476.6 264.1a1.45 0.87 13 1 0 2.8 0.7a1.45 0.87 13 1 0 -2.8 -0.7M481.2 264.3a1.45 0.83 5 1 0 2.9 0.3a1.45 0.83 5 1 0 -2.9 -0.3M485.8 264.4a1.45 0.75 2 1 0 2.9 0.1a1.45 0.75 2 1 0 -2.9 -0.1M490.4 264.4a1.45 0.66 -0 1 0 2.9 -0.0a1.45 0.66 -0 1 0 -2.9 0.0M494.9 264.4a1.45 0.75 -2 1 0 2.9 -0.1a1.45 0.75 -2 1 0 -2.9 0.1M499.5 264.5a1.45 0.83 -5 1 0 2.9 -0.3a1.45 0.83 -5 1 0 -2.9 0.3M504.1 264.7a1.45 0.87 -13 1 0 2.8 -0.7a1.45 0.87 -13 1 0 -2.8 0.7M508.8 265.0a1.45 0.93 -26 1 0 2.6 -1.3a1.45 0.93 -26 1 0 -2.6 1.3M513.6 265.4a1.45 1.02 -42 1 0 2.1 -2.0a1.45 1.02 -42 1 0 -2.1 2.0M518.4 265.5a1.45 0.68 -50 1 0 1.9 -2.2a1.45 0.68 -50 1 0 -1.9 2.2M523.0 265.6a1.45 0.38 -54 1 0 1.7 -2.4a1.45 0.38 -54 1 0 -1.7 2.4M527.7 265.6a1.45 0.12 -58 1 0 1.5 -2.5a1.45 0.12 -58 1 0 -1.5 2.5M532.3 265.7a1.45 0.12 -61 1 0 1.4 -2.5a1.45 0.12 -61 1 0 -1.4 2.5M537.0 265.7a1.45 0.19 -63 1 0 1.3 -2.6a1.45 0.19 -63 1 0 -1.3 2.6M541.6 265.7a1.45 0.23 -66 1 0 1.2 -2.6a1.45 0.23 -66 1 0 -1.2 2.6M546.2 265.7a1.45 0.28 -67 1 0 1.1 -2.7a1.45 0.28 -67 1 0 -1.1 2.7M436.2 267.7a1.45 0.32 63 1 0 1.3 2.6a1.45 0.32 63 1 0 -1.3 -2.6M440.7 267.7a1.45 0.25 61 1 0 1.4 2.5a1.45 0.25 61 1 0 -1.4 -2.5M445.3 267.7a1.45 0.21 59 1 0 1.5 2.5a1.45 0.21 59 1 0 -1.5 -2.5M449.8 267.8a1.45 0.12 56 1 0 1.6 2.4a1.45 0.12 56 1 0 -1.6 -2.4M454.3 267.8a1.45 0.12 53 1 0 1.7 2.3a1.45 0.12 53 1 0 -1.7 -2.3M458.8 267.9a1.45 0.12 49 1 0 1.9 2.2a1.45 0.12 49 1 0 -1.9 -2.2M463.3 268.0a1.45 0.42 45 1 0 2.1 2.1a1.45 0.42 45 1 0 -2.1 -2.1M467.8 268.1a1.45 0.68 40 1 0 2.2 1.9a1.45 0.68 40 1 0 -2.2 -1.9M472.3 268.2a1.45 1.04 33 1 0 2.4 1.6a1.45 1.04 33 1 0 -2.4 -1.6M476.7 268.5a1.45 0.97 21 1 0 2.7 1.0a1.45 0.97 21 1 0 -2.7 -1.0M481.2 268.7a1.45 0.92 12 1 0 2.8 0.6a1.45 0.92 12 1 0 -2.8 -0.6M485.8 268.9a1.45 0.89 5 1 0 2.9 0.3a1.45 0.89 5 1 0 -2.9 -0.3M490.4 269.0a1.45 0.89 -0 1 0 2.9 -0.0a1.45 0.89 -0 1 0 -2.9 0.0M494.9 269.1a1.45 0.89 -5 1 0 2.9 -0.3a1.45 0.89 -5 1 0 -2.9 0.3M499.5 269.3a1.45 0.92 -12 1 0 2.8 -0.6a1.45 0.92 -12 1 0 -2.8 0.6M504.2 269.5a1.45 0.97 -21 1 0 2.7 -1.0a1.45 0.97 -21 1 0 -2.7 1.0M508.9 269.8a1.45 1.04 -33 1 0 2.4 -1.6a1.45 1.04 -33 1 0 -2.4 1.6M513.6 269.9a1.45 0.68 -40 1 0 2.2 -1.9a1.45 0.68 -40 1 0 -2.2 1.9M518.3 270.0a1.45 0.42 -45 1 0 2.1 -2.1a1.45 0.42 -45 1 0 -2.1 2.1M522.9 270.1a1.45 0.15 -49 1 0 1.9 -2.2a1.45 0.15 -49 1 0 -1.9 2.2M527.6 270.1a1.45 0.12 -53 1 0 1.7 -2.3a1.45 0.12 -53 1 0 -1.7 2.3M532.2 270.2a1.45 0.15 -56 1 0 1.6 -2.4a1.45 0.15 -56 1 0 -1.6 2.4M536.9 270.2a1.45 0.21 -59 1 0 1.5 -2.5a1.45 0.21 -59 1 0 -1.5 2.5M541.5 270.3a1.45 0.25 -61 1 0 1.4 -2.5a1.45 0.25 -61 1 0 -1.4 2.5M546.1 270.3a1.45 0.32 -63 1 0 1.3 -2.6a1.45 0.32 -63 1 0 -1.3 2.6M436.1 272.3a1.45 0.37 60 1 0 1.5 2.5a1.45 0.37 60 1 0 -1.5 -2.5M440.6 272.3a1.45 0.28 58 1 0 1.6 2.4a1.45 0.28 58 1 0 -1.6 -2.4M445.2 272.4a1.45 0.23 55 1 0 1.7 2.4a1.45 0.23 55 1 0 -1.7 -2.4M449.7 272.4a1.45 0.15 52 1 0 1.8 2.3a1.45 0.15 52 1 0 -1.8 -2.3M454.2 272.5a1.45 0.12 49 1 0 1.9 2.2a1.45 0.12 49 1 0 -1.9 -2.2M458.7 272.5a1.45 0.12 45 1 0 2.1 2.1a1.45 0.12 45 1 0 -2.1 -2.1M463.2 272.6a1.45 0.15 41 1 0 2.2 1.9a1.45 0.15 41 1 0 -2.2 -1.9M467.7 272.7a1.45 0.38 36 1 0 2.4 1.7a1.45 0.38 36 1 0 -2.4 -1.7M472.2 272.8a1.45 0.57 30 1 0 2.5 1.4a1.45 0.57 30 1 0 -2.5 -1.4M476.7 273.0a1.45 0.79 23 1 0 2.7 1.1a1.45 0.79 23 1 0 -2.7 -1.1M481.2 273.2a1.45 1.05 16 1 0 2.8 0.8a1.45 1.05 16 1 0 -2.8 -0.8M485.8 273.4a1.45 1.02 7 1 0 2.9 0.4a1.45 1.02 7 1 0 -2.9 -0.4M490.4 273.6a1.45 1.00 -0 1 0 2.9 -0.0a1.45 1.00 -0 1 0 -2.9 0.0M494.9 273.7a1.45 1.02 -7 1 0 2.9 -0.4a1.45 1.02 -7 1 0 -2.9 0.4M499.6 274.0a1.45 1.05 -16 1 0 2.8 -0.8a1.45 1.05 -16 1 0 -2.8 0.8M504.2 274.1a1.45 0.79 -23 1 0 2.7 -1.1a1.45 0.79 -23 1 0 -2.7 1.1M508.9 274.3a1.45 0.57 -30 1 0 2.5 -1.4a1.45 0.57 -30 1 0 -2.5 1.4M513.5 274.4a1.45 0.38 -36 1 0 2.4 -1.7a1.45 0.38 -36 1 0 -2.4 1.7M518.2 274.5a1.45 0.15 -41 1 0 2.2 -1.9a1.45 0.15 -41 1 0 -2.2 1.9M522.8 274.6a1.45 0.12 -45 1 0 2.1 -2.1a1.45 0.12 -45 1 0 -2.1 2.1M527.5 274.7a1.45 0.13 -49 1 0 1.9 -2.2a1.45 0.13 -49 1 0 -1.9 2.2M532.1 274.7a1.45 0.20 -52 1 0 1.8 -2.3a1.45 0.20 -52 1 0 -1.8 2.3M536.8 274.7a1.45 0.23 -55 1 0 1.7 -2.4a1.45 0.23 -55 1 0 -1.7 2.4M541.4 274.8a1.45 0.28 -58 1 0 1.6 -2.4a1.45 0.28 -58 1 0 -1.6 2.4M546.0 274.8a1.45 0.37 -60 1 0 1.5 -2.5a1.45 0.37 -60 1 0 -1.5 2.5M436.0 276.9a1.45 0.44 56 1 0 1.6 2.4a1.45 0.44 56 1 0 -1.6 -2.4M440.6 277.0a1.45 0.34 54 1 0 1.7 2.3a1.45 0.34 54 1 0 -1.7 -2.3M445.1 277.0a1.45 0.26 51 1 0 1.8 2.3a1.45 0.26 51 1 0 -1.8 -2.3M449.6 277.1a1.45 0.22 48 1 0 1.9 2.2a1.45 0.22 48 1 0 -1.9 -2.2M454.1 277.1a1.45 0.19 45 1 0 2.1 2.1a1.45 0.19 45 1 0 -2.1 -2.1M458.6 277.2a1.45 0.13 41 1 0 2.2 1.9a1.45 0.13 41 1 0 -2.2 -1.9M463.2 277.3a1.45 0.12 37 1 0 2.3 1.7a1.45 0.12 37 1 0 -2.3 -1.7M467.7 277.4a1.45 0.12 32 1 0 2.5 1.5a1.45 0.12 32 1 0 -2.5 -1.5M472.2 277.5a1.45 0.25 27 1 0 2.6 1.3a1.45 0.25 27 1 0 -2.6 -1.3M476.7 277.6a1.45 0.40 21 1 0 2.7 1.0a1.45 0.40 21 1 0 -2.7 -1.0M481.2 277.8a1.45 0.50 14 1 0 2.8 0.7a1.45 0.50 14 1 0 -2.8 -0.7M485.8 278.0a1.45 0.57 7 1 0 2.9 0.4a1.45 0.57 7 1 0 -2.9 -0.4M490.4 278.1a1.45 0.60 -0 1 0 2.9 -0.0a1.45 0.60 -0 1 0 -2.9 0.0M494.9 278.3a1.45 0.57 -7 1 0 2.9 -0.4a1.45 0.57 -7 1 0 -2.9 0.4M499.6 278.5a1.45 0.50 -14 1 0 2.8 -0.7a1.45 0.50 -14 1 0 -2.8 0.7M504.2 278.6a1.45 0.40 -21 1 0 2.7 -1.0a1.45 0.40 -21 1 0 -2.7 1.0M508.8 278.8a1.45 0.25 -27 1 0 2.6 -1.3a1.45 0.25 -27 1 0 -2.6 1.3M513.5 278.9a1.45 0.12 -32 1 0 2.5 -1.5a1.45 0.12 -32 1 0 -2.5 1.5M518.1 279.0a1.45 0.12 -37 1 0 2.3 -1.7a1.45 0.12 -37 1 0 -2.3 1.7M522.8 279.1a1.45 0.13 -41 1 0 2.2 -1.9a1.45 0.13 -41 1 0 -2.2 1.9M527.4 279.2a1.45 0.19 -45 1 0 2.1 -2.1a1.45 0.19 -45 1 0 -2.1 2.1M532.1 279.2a1.45 0.22 -48 1 0 1.9 -2.2a1.45 0.22 -48 1 0 -1.9 2.2M536.7 279.3a1.45 0.26 -51 1 0 1.8 -2.3a1.45 0.26 -51 1 0 -1.8 2.3M541.3 279.3a1.45 0.34 -54 1 0 1.7 -2.3a1.45 0.34 -54 1 0 -1.7 2.3M546.0 279.3a1.45 0.44 -56 1 0 1.6 -2.4a1.45 0.44 -56 1 0 -1.6 2.4M436.0 281.6a1.45 0.51 53 1 0 1.7 2.3a1.45 0.51 53 1 0 -1.7 -2.3M440.5 281.6a1.45 0.41 51 1 0 1.8 2.2a1.45 0.41 51 1 0 -1.8 -2.2M445.0 281.6a1.45 0.32 48 1 0 1.9 2.2a1.45 0.32 48 1 0 -1.9 -2.2M449.6 281.7a1.45 0.26 45 1 0 2.1 2.1a1.45 0.26 45 1 0 -2.1 -2.1M454.1 281.8a1.45 0.22 42 1 0 2.2 1.9a1.45 0.22 42 1 0 -2.2 -1.9M458.6 281.8a1.45 0.20 38 1 0 2.3 1.8a1.45 0.20 38 1 0 -2.3 -1.8M463.1 281.9a1.45 0.15 34 1 0 2.4 1.6a1.45 0.15 34 1 0 -2.4 -1.6M467.6 282.0a1.45 0.12 29 1 0 2.5 1.4a1.45 0.12 29 1 0 -2.5 -1.4M472.2 282.1a1.45 0.12 24 1 0 2.7 1.2a1.45 0.12 24 1 0 -2.7 -1.2M476.7 282.3a1.45 0.12 18 1 0 2.8 0.9a1.45 0.12 18 1 0 -2.8 -0.9M481.2 282.4a1.45 0.15 13 1 0 2.8 0.6a1.45 0.15 13 1 0 -2.8 -0.6M485.8 282.6a1.45 0.21 6 1 0 2.9 0.3a1.45 0.21 6 1 0 -2.9 -0.3M490.4 282.7a1.45 0.23 -0 1 0 2.9 -0.0a1.45 0.23 -0 1 0 -2.9 0.0M494.9 282.9a1.45 0.21 -6 1 0 2.9 -0.3a1.45 0.21 -6 1 0 -2.9 0.3M499.5 283.0a1.45 0.15 -13 1 0 2.8 -0.6a1.45 0.15 -13 1 0 -2.8 0.6M504.2 283.2a1.45 0.12 -18 1 0 2.8 -0.9a1.45 0.12 -18 1 0 -2.8 0.9M508.8 283.3a1.45 0.12 -24 1 0 2.7 -1.2a1.45 0.12 -24 1 0 -2.7 1.2M513.4 283.4a1.45 0.12 -29 1 0 2.5 -1.4a1.45 0.12 -29 1 0 -2.5 1.4M518.1 283.5a1.45 0.15 -34 1 0 2.4 -1.6a1.45 0.15 -34 1 0 -2.4 1.6M522.7 283.6a1.45 0.20 -38 1 0 2.3 -1.8a1.45 0.20 -38 1 0 -2.3 1.8M527.4 283.7a1.45 0.22 -42 1 0 2.2 -1.9a1.45 0.22 -42 1 0 -2.2 1.9M532.0 283.7a1.45 0.26 -45 1 0 2.1 -2.1a1.45 0.26 -45 1 0 -2.1 2.1M536.6 283.8a1.45 0.32 -48 1 0 1.9 -2.2a1.45 0.32 -48 1 0 -1.9 2.2M541.3 283.8a1.45 0.41 -51 1 0 1.8 -2.2a1.45 0.41 -51 1 0 -1.8 2.2M545.9 283.9a1.45 0.51 -53 1 0 1.7 -2.3a1.45 0.51 -53 1 0 -1.7 2.3M435.9 286.2a1.45 0.60 50 1 0 1.9 2.2a1.45 0.60 50 1 0 -1.9 -2.2M440.4 286.2a1.45 0.50 48 1 0 2.0 2.1a1.45 0.50 48 1 0 -2.0 -2.1M445.0 286.3a1.45 0.40 45 1 0 2.1 2.1a1.45 0.40 45 1 0 -2.1 -2.1M449.5 286.3a1.45 0.32 42 1 0 2.2 1.9a1.45 0.32 42 1 0 -2.2 -1.9M454.0 286.4a1.45 0.26 39 1 0 2.3 1.8a1.45 0.26 39 1 0 -2.3 -1.8M458.6 286.5a1.45 0.23 35 1 0 2.4 1.7a1.45 0.23 35 1 0 -2.4 -1.7M463.1 286.6a1.45 0.21 31 1 0 2.5 1.5a1.45 0.21 31 1 0 -2.5 -1.5M467.6 286.7a1.45 0.19 27 1 0 2.6 1.3a1.45 0.19 27 1 0 -2.6 -1.3M472.1 286.8a1.45 0.14 22 1 0 2.7 1.1a1.45 0.14 22 1 0 -2.7 -1.1M476.7 286.9a1.45 0.12 17 1 0 2.8 0.8a1.45 0.12 17 1 0 -2.8 -0.8M481.2 287.0a1.45 0.12 11 1 0 2.8 0.6a1.45 0.12 11 1 0 -2.8 -0.6M485.8 287.2a1.45 0.12 6 1 0 2.9 0.3a1.45 0.12 6 1 0 -2.9 -0.3M490.4 287.3a1.45 0.12 -0 1 0 2.9 -0.0a1.45 0.12 -0 1 0 -2.9 0.0M494.9 287.4a1.45 0.12 -6 1 0 2.9 -0.3a1.45 0.12 -6 1 0 -2.9 0.3M499.5 287.6a1.45 0.12 -11 1 0 2.8 -0.6a1.45 0.12 -11 1 0 -2.8 0.6M504.2 287.7a1.45 0.12 -17 1 0 2.8 -0.8a1.45 0.12 -17 1 0 -2.8 0.8M508.8 287.8a1.45 0.14 -22 1 0 2.7 -1.1a1.45 0.14 -22 1 0 -2.7 1.1M513.4 287.9a1.45 0.19 -27 1 0 2.6 -1.3a1.45 0.19 -27 1 0 -2.6 1.3M518.0 288.0a1.45 0.21 -31 1 0 2.5 -1.5a1.45 0.21 -31 1 0 -2.5 1.5M522.7 288.1a1.45 0.23 -35 1 0 2.4 -1.7a1.45 0.23 -35 1 0 -2.4 1.7M527.3 288.2a1.45 0.26 -39 1 0 2.3 -1.8a1.45 0.26 -39 1 0 -2.3 1.8M531.9 288.3a1.45 0.32 -42 1 0 2.2 -1.9a1.45 0.32 -42 1 0 -2.2 1.9M536.6 288.3a1.45 0.40 -45 1 0 2.1 -2.1a1.45 0.40 -45 1 0 -2.1 2.1M541.2 288.4a1.45 0.50 -48 1 0 2.0 -2.1a1.45 0.50 -48 1 0 -2.0 2.1M545.8 288.4a1.45 0.60 -50 1 0 1.9 -2.2a1.45 0.60 -50 1 0 -1.9 2.2M435.9 290.8a1.45 0.72 47 1 0 2.0 2.1a1.45 0.72 47 1 0 -2.0 -2.1M440.4 290.9a1.45 0.59 45 1 0 2.1 2.1a1.45 0.59 45 1 0 -2.1 -2.1M444.9 290.9a1.45 0.50 42 1 0 2.1 2.0a1.45 0.50 42 1 0 -2.1 -2.0M449.5 291.0a1.45 0.41 39 1 0 2.2 1.8a1.45 0.41 39 1 0 -2.2 -1.8M454.0 291.0a1.45 0.34 36 1 0 2.3 1.7a1.45 0.34 36 1 0 -2.3 -1.7M458.5 291.1a1.45 0.28 32 1 0 2.4 1.6a1.45 0.28 32 1 0 -2.4 -1.6M463.0 291.2a1.45 0.25 29 1 0 2.5 1.4a1.45 0.25 29 1 0 -2.5 -1.4M467.6 291.3a1.45 0.23 24 1 0 2.6 1.2a1.45 0.23 24 1 0 -2.6 -1.2M472.1 291.4a1.45 0.21 20 1 0 2.7 1.0a1.45 0.21 20 1 0 -2.7 -1.0M476.7 291.5a1.45 0.20 15 1 0 2.8 0.8a1.45 0.20 15 1 0 -2.8 -0.8M481.2 291.6a1.45 0.19 10 1 0 2.9 0.5a1.45 0.19 10 1 0 -2.9 -0.5M485.8 291.7a1.45 0.17 5 1 0 2.9 0.3a1.45 0.17 5 1 0 -2.9 -0.3M490.4 291.9a1.45 0.17 -0 1 0 2.9 -0.0a1.45 0.17 -0 1 0 -2.9 0.0M494.9 292.0a1.45 0.17 -5 1 0 2.9 -0.3a1.45 0.17 -5 1 0 -2.9 0.3M499.5 292.1a1.45 0.19 -10 1 0 2.9 -0.5a1.45 0.19 -10 1 0 -2.9 0.5M504.1 292.3a1.45 0.20 -15 1 0 2.8 -0.8a1.45 0.20 -15 1 0 -2.8 0.8M508.8 292.4a1.45 0.21 -20 1 0 2.7 -1.0a1.45 0.21 -20 1 0 -2.7 1.0M513.4 292.5a1.45 0.23 -24 1 0 2.6 -1.2a1.45 0.23 -24 1 0 -2.6 1.2M518.0 292.6a1.45 0.25 -29 1 0 2.5 -1.4a1.45 0.25 -29 1 0 -2.5 1.4M522.6 292.7a1.45 0.28 -32 1 0 2.4 -1.6a1.45 0.28 -32 1 0 -2.4 1.6M527.3 292.7a1.45 0.34 -36 1 0 2.3 -1.7a1.45 0.34 -36 1 0 -2.3 1.7M531.9 292.8a1.45 0.41 -39 1 0 2.2 -1.8a1.45 0.41 -39 1 0 -2.2 1.8M536.5 292.9a1.45 0.50 -42 1 0 2.1 -2.0a1.45 0.50 -42 1 0 -2.1 2.0M541.2 292.9a1.45 0.59 -45 1 0 2.1 -2.1a1.45 0.59 -45 1 0 -2.1 2.1M545.8 292.9a1.45 0.72 -47 1 0 2.0 -2.1a1.45 0.72 -47 1 0 -2.0 2.1M435.8 295.4a1.45 0.74 45 1 0 2.1 2.1a1.45 0.74 45 1 0 -2.1 -2.1M440.4 295.5a1.45 0.72 43 1 0 2.1 2.0a1.45 0.72 43 1 0 -2.1 -2.0M444.9 295.5a1.45 0.60 40 1 0 2.2 1.9a1.45 0.60 40 1 0 -2.2 -1.9M449.4 295.6a1.45 0.51 37 1 0 2.3 1.7a1.45 0.51 37 1 0 -2.3 -1.7M454.0 295.7a1.45 0.44 34 1 0 2.4 1.6a1.45 0.44 34 1 0 -2.4 -1.6M458.5 295.7a1.45 0.37 30 1 0 2.5 1.5a1.45 0.37 30 1 0 -2.5 -1.5M463.0 295.8a1.45 0.32 27 1 0 2.6 1.3a1.45 0.32 27 1 0 -2.6 -1.3M467.6 295.9a1.45 0.28 23 1 0 2.7 1.1a1.45 0.28 23 1 0 -2.7 -1.1M472.1 296.0a1.45 0.25 18 1 0 2.8 0.9a1.45 0.25 18 1 0 -2.8 -0.9M476.7 296.1a1.45 0.24 14 1 0 2.8 0.7a1.45 0.24 14 1 0 -2.8 -0.7M481.2 296.2a1.45 0.23 9 1 0 2.9 0.5a1.45 0.23 9 1 0 -2.9 -0.5M485.8 296.3a1.45 0.22 5 1 0 2.9 0.2a1.45 0.22 5 1 0 -2.9 -0.2M490.4 296.5a1.45 0.22 -0 1 0 2.9 -0.0a1.45 0.22 -0 1 0 -2.9 0.0M494.9 296.6a1.45 0.22 -5 1 0 2.9 -0.2a1.45 0.22 -5 1 0 -2.9 0.2M499.5 296.7a1.45 0.23 -9 1 0 2.9 -0.5a1.45 0.23 -9 1 0 -2.9 0.5M504.1 296.8a1.45 0.24 -14 1 0 2.8 -0.7a1.45 0.24 -14 1 0 -2.8 0.7M508.7 296.9a1.45 0.25 -18 1 0 2.8 -0.9a1.45 0.25 -18 1 0 -2.8 0.9M513.4 297.0a1.45 0.28 -23 1 0 2.7 -1.1a1.45 0.28 -23 1 0 -2.7 1.1M518.0 297.1a1.45 0.32 -27 1 0 2.6 -1.3a1.45 0.32 -27 1 0 -2.6 1.3M522.6 297.2a1.45 0.37 -30 1 0 2.5 -1.5a1.45 0.37 -30 1 0 -2.5 1.5M527.2 297.3a1.45 0.44 -34 1 0 2.4 -1.6a1.45 0.44 -34 1 0 -2.4 1.6M531.9 297.3a1.45 0.51 -37 1 0 2.3 -1.7a1.45 0.51 -37 1 0 -2.3 1.7M536.5 297.4a1.45 0.60 -40 1 0 2.2 -1.9a1.45 0.60 -40 1 0 -2.2 1.9M541.1 297.4a1.45 0.72 -43 1 0 2.1 -2.0a1.45 0.72 -43 1 0 -2.1 2.0M545.7 297.5a1.45 0.74 -45 1 0 2.1 -2.1a1.45 0.74 -45 1 0 -2.1 2.1"/>
<path fill="none" stroke="#3c3cd8" stroke-width="0.55" d="M476.7 191.5a1.45 0.12 -15 1 0 2.8 -0.8a1.45 0.12 -15 1 0 -2.8 0.8M481.2 191.4a1.45 0.12 -10 1 0 2.9 -0.5a1.45 0.12 -10 1 0 -2.9 0.5M485.8 191.3a1.45 0.12 -5 1 0 2.9 -0.3a1.45 0.12 -5 1 0 -2.9 0.3M490.4 191.1a1.45 0.12 0 1 0 2.9 0.0a1.45 0.12 0 1 0 -2.9 -0.0M494.9 191.0a1.45 0.12 5 1 0 2.9 0.3a1.45 0.12 5 1 0 -2.9 -0.3M499.5 190.9a1.45 0.12 10 1 0 2.9 0.5a1.45 0.12 10 1 0 -2.9 -0.5M467.6 196.3a1.45 0.13 -27 1 0 2.6 -1.3a1.45 0.13 -27 1 0 -2.6 1.3M472.1 196.2a1.45 0.16 -22 1 0 2.7 -1.1a1.45 0.16 -22 1 0 -2.7 1.1M476.7 196.1a1.45 0.18 -17 1 0 2.8 -0.8a1.45 0.18 -17 1 0 -2.8 0.8M481.2 196.0a1.45 0.19 -11 1 0 2.8 -0.6a1.45 0.19 -11 1 0 -2.8 0.6M485.8 195.8a1.45 0.18 -6 1 0 2.9 -0.3a1.45 0.18 -6 1 0 -2.9 0.3M490.4 195.7a1.45 0.16 0 1 0 2.9 0.0a1.45 0.16 0 1 0 -2.9 -0.0M494.9 195.6a1.45 0.14 6 1 0 2.9 0.3a1.45 0.14 6 1 0 -2.9 -0.3M499.5 195.4a1.45 0.12 11 1 0 2.8 0.6a1.45 0.12 11 1 0 -2.8 -0.6M504.2 195.3a1.45 0.12 17 1 0 2.8 0.8a1.45 0.12 17 1 0 -2.8 -0.8M458.6 201.2a1.45 0.13 -38 1 0 2.3 -1.8a1.45 0.13 -38 1 0 -2.3 1.8M463.1 201.1a1.45 0.18 -34 1 0 2.4 -1.6a1.45 0.18 -34 1 0 -2.4 1.6M467.6 201.0a1.45 0.23 -29 1 0 2.5 -1.4a1.45 0.23 -29 1 0 -2.5 1.4M472.2 200.9a1.45 0.24 -24 1 0 2.7 -1.2a1.45 0.24 -24 1 0 -2.7 1.2M476.7 200.7a1.45 0.22 -18 1 0 2.8 -0.9a1.45 0.22 -18 1 0 -2.8 0.9M481.2 200.6a1.45 0.13 -13 1 0 2.8 -0.6a1.45 0.13 -13 1 0 -2.8 0.6M485.8 200.4a1.45 0.12 -6 1 0 2.9 -0.3a1.45 0.12 -6 1 0 -2.9 0.3M490.4 200.3a1.45 0.12 0 1 0 2.9 0.0a1.45 0.12 0 1 0 -2.9 -0.0M494.9 200.1a1.45 0.12 6 1 0 2.9 0.3a1.45 0.12 6 1 0 -2.9 -0.3M499.5 200.0a1.45 0.12 13 1 0 2.8 0.6a1.45 0.12 13 1 0 -2.8 -0.6M504.2 199.8a1.45 0.12 18 1 0 2.8 0.9a1.45 0.12 18 1 0 -2.8 -0.9M508.8 199.7a1.45 0.12 24 1 0 2.7 1.2a1.45 0.12 24 1 0 -2.7 -1.2M454.1 205.9a1.45 0.14 -45 1 0 2.1 -2.1a1.45 0.14 -45 1 0 -2.1 2.1M458.6 205.8a1.45 0.20 -41 1 0 2.2 -1.9a1.45 0.20 -41 1 0 -2.2 1.9M463.2 205.7a1.45 0.26 -37 1 0 2.3 -1.7a1.45 0.26 -37 1 0 -2.3 1.7M467.7 205.6a1.45 0.25 -32 1 0 2.5 -1.5a1.45 0.25 -32 1 0 -2.5 1.5M472.2 205.5a1.45 0.12 -27 1 0 2.6 -1.3a1.45 0.12 -27 1 0 -2.6 1.3M449.7 210.6a1.45 0.13 -52 1 0 1.8 -2.3a1.45 0.13 -52 1 0 -1.8 2.3M454.2 210.5a1.45 0.20 -49 1 0 1.9 -2.2a1.45 0.20 -49 1 0 -1.9 2.2M458.7 210.5a1.45 0.26 -45 1 0 2.1 -2.1a1.45 0.26 -45 1 0 -2.1 2.1M463.2 210.4a1.45 0.18 -41 1 0 2.2 -1.9a1.45 0.18 -41 1 0 -2.2 1.9M449.8 215.2a1.45 0.18 -56 1 0 1.6 -2.4a1.45 0.18 -56 1 0 -1.6 2.4M454.3 215.2a1.45 0.26 -53 1 0 1.7 -2.3a1.45 0.26 -53 1 0 -1.7 2.3M458.8 215.1a1.45 0.18 -49 1 0 1.9 -2.2a1.45 0.18 -49 1 0 -1.9 2.2M445.4 219.9a1.45 0.13 -63 1 0 1.3 -2.6a1.45 0.13 -63 1 0 -1.3 2.6M449.9 219.9a1.45 0.23 -61 1 0 1.4 -2.5a1.45 0.23 -61 1 0 -1.4 2.5M454.4 219.8a1.45 0.25 -58 1 0 1.5 -2.5a1.45 0.25 -58 1 0 -1.5 2.5M445.5 224.5a1.45 0.16 -68 1 0 1.1 -2.7a1.45 0.16 -68 1 0 -1.1 2.7M450.0 224.5a1.45 0.24 -66 1 0 1.2 -2.7a1.45 0.24 -66 1 0 -1.2 2.7M454.5 224.5a1.45 0.12 -63 1 0 1.3 -2.6a1.45 0.12 -63 1 0 -1.3 2.6M441.0 229.2a1.45 0.12 -75 1 0 0.8 -2.8a1.45 0.12 -75 1 0 -0.8 2.8M445.6 229.1a1.45 0.18 -73 1 0 0.8 -2.8a1.45 0.18 -73 1 0 -0.8 2.8M450.1 229.1a1.45 0.22 -72 1 0 0.9 -2.8a1.45 0.22 -72 1 0 -0.9 2.8M481.2 227.8a1.45 0.12 0 1 0 2.9 0.0a1.45 0.12 0 1 0 -2.9 -0.0M485.8 227.8a1.45 0.20 0 1 0 2.9 0.0a1.45 0.20 0 1 0 -2.9 -0.0M490.4 227.8a1.45 0.25 0 1 0 2.9 0.0a1.45 0.25 0 1 0 -2.9 -0.0M494.9 227.8a1.45 0.20 0 1 0 2.9 0.0a1.45 0.20 0 1 0 -2.9 -0.0M499.5 227.8a1.45 0.12 0 1 0 2.9 0.0a1.45 0.12 0 1 0 -2.9 -0.0M441.2 233.8a1.45 0.12 -80 1 0 0.5 -2.9a1.45 0.12 -80 1 0 -0.5 2.9M445.7 233.8a1.45 0.19 -79 1 0 0.6 -2.8a1.45 0.19 -79 1 0 -0.6 2.8M450.3 233.8a1.45 0.13 -77 1 0 0.6 -2.8a1.45 0.13 -77 1 0 -0.6 2.8M476.6 232.3a1.45 0.12 0 1 0 2.9 0.0a1.45 0.12 0 1 0 -2.9 -0.0M481.2 232.3a1.45 0.30 0 1 0 2.9 0.0a1.45 0.30 0 1 0 -2.9 -0.0M485.8 232.3a1.45 0.42 0 1 0 2.9 0.0a1.45 0.42 0 1 0 -2.9 -0.0M490.4 232.3a1.45 0.45 0 1 0 2.9 0.0a1.45 0.45 0 1 0 -2.9 -0.0M494.9 232.3a1.45 0.42 0 1 0 2.9 0.0a1.45 0.42 0 1 0 -2.9 -0.0M499.5 232.3a1.45 0.30 0 1 0 2.9 0.0a1.45 0.30 0 1 0 -2.9 -0.0M504.1 232.3a1.45 0.12 0 1 0 2.9 0.0a1.45 0.12 0 1 0 -2.9 -0.0M441.3 238.4a1.45 0.12 -85 1 0 0.3 -2.9a1.45 0.12 -85 1 0 -0.3 2.9M445.9 238.4a1.45 0.18 -84 1 0 0.3 -2.9a1.45 0.18 -84 1 0 -0.3 2.9M450.4 238.4a1.45 0.12 -84 1 0 0.3 -2.9a1.45 0.12 -84 1 0 -0.3 2.9M476.6 236.9a1.45 0.20 0 1 0 2.9 0.0a1.45 0.20 0 1 0 -2.9 -0.0M481.2 236.9a1.45 0.42 0 1 0 2.9 0.0a1.45 0.42 0 1 0 -2.9 -0.0M485.8 236.9a1.45 0.52 0 1 0 2.9 0.0a1.45 0.52 0 1 0 -2.9 -0.0M490.4 236.9a1.45 0.57 0 1 0 2.9 0.0a1.45 0.57 0 1 0 -2.9 -0.0M494.9 236.9a1.45 0.52 0 1 0 2.9 0.0a1.45 0.52 0 1 0 -2.9 -0.0M499.5 236.9a1.45 0.42 0 1 0 2.9 0.0a1.45 0.42 0 1 0 -2.9 -0.0M504.1 236.9a1.45 0.20 0 1 0 2.9 0.0a1.45 0.20 0 1 0 -2.9 -0.0M441.4 240.1a1.45 0.12 90 1 0 0.0 2.9a1.45 0.12 90 1 0 -0.0 -2.9M446.0 240.1a1.45 0.16 90 1 0 0.0 2.9a1.45 0.16 90 1 0 -0.0 -2.9M450.6 240.1a1.45 0.12 90 1 0 0.0 2.9a1.45 0.12 90 1 0 -0.0 -2.9M476.6 241.5a1.45 0.25 0 1 0 2.9 0.0a1.45 0.25 0 1 0 -2.9 -0.0M481.2 241.5a1.45 0.45 0 1 0 2.9 0.0a1.45 0.45 0 1 0 -2.9 -0.0M485.8 241.5a1.45 0.57 0 1 0 2.9 0.0a1.45 0.57 0 1 0 -2.9 -0.0M490.4 241.5a1.45 0.72 0 1 0 2.9 0.0a1.45 0.72 0 1 0 -2.9 -0.0M494.9 241.5a1.45 0.57 0 1 0 2.9 0.0a1.45 0.57 0 1 0 -2.9 -0.0M499.5 241.5a1.45 0.45 0 1 0 2.9 0.0a1.45 0.45 0 1 0 -2.9 -0.0M504.1 241.5a1.45 0.25 0 1 0 2.9 0.0a1.45 0.25 0 1 0 -2.9 -0.0M441.3 244.6a1.45 0.12 85 1 0 0.3 2.9a1.45 0.12 85 1 0 -0.3 -2.9M445.9 244.6a1.45 0.14 84 1 0 0.3 2.9a1.45 0.14 84 1 0 -0.3 -2.9M450.4 244.6a1.45 0.12 84 1 0 0.3 2.9a1.45 0.12 84 1 0 -0.3 -2.9M476.6 246.1a1.45 0.20 0 1 0 2.9 0.0a1.45 0.20 0 1 0 -2.9 -0.0M481.2 246.1a1.45 0.42 0 1 0 2.9 0.0a1.45 0.42 0 1 0 -2.9 -0.0M485.8 246.1a1.45 0.52 0 1 0 2.9 0.0a1.45 0.52 0 1 0 -2.9 -0.0M490.4 246.1a1.45 0.57 0 1 0 2.9 0.0a1.45 0.57 0 1 0 -2.9 -0.0M494.9 246.1a1.45 0.52 0 1 0 2.9 0.0a1.45 0.52 0 1 0 -2.9 -0.0M499.5 246.1a1.45 0.42 0 1 0 2.9 0.0a1.45 0.42 0 1 0 -2.9 -0.0M504.1 246.1a1.45 0.20 0 1 0 2.9 0.0a1.45 0.20 0 1 0 -2.9 -0.0M441.2 249.2a1.45 0.12 80 1 0 0.5 2.9a1.45 0.12 80 1 0 -0.5 -2.9M445.7 249.2a1.45 0.12 79 1 0 0.6 2.8a1.45 0.12 79 1 0 -0.6 -2.8M450.3 249.2a1.45 0.12 77 1 0 0.6 2.8a1.45 0.12 77 1 0 -0.6 -2.8M476.6 250.7a1.45 0.12 0 1 0 2.9 0.0a1.45 0.12 0 1 0 -2.9 -0.0M481.2 250.7a1.45 0.30 0 1 0 2.9 0.0a1.45 0.30 0 1 0 -2.9 -0.0M485.8 250.7a1.45 0.42 0 1 0 2.9 0.0a1.45 0.42 0 1 0 -2.9 -0.0M490.4 250.7a1.45 0.45 0 1 0 2.9 0.0a1.45 0.45 0 1 0 -2.9 -0.0M494.9 250.7a1.45 0.42 0 1 0 2.9 0.0a1.45 0.42 0 1 0 -2.9 -0.0M499.5 250.7a1.45 0.30 0 1 0 2.9 0.0a1.45 0.30 0 1 0 -2.9 -0.0M504.1 250.7a1.45 0.12 0 1 0 2.9 0.0a1.45 0.12 0 1 0 -2.9 -0.0M445.6 253.9a1.45 0.12 73 1 0 0.8 2.8a1.45 0.12 73 1 0 -0.8 -2.8M450.1 253.9a1.45 0.12 72 1 0 0.9 2.8a1.45 0.12 72 1 0 -0.9 -2.8M481.2 255.2a1.45 0.12 0 1 0 2.9 0.0a1.45 0.12 0 1 0 -2.9 -0.0M485.8 255.2a1.45 0.20 0 1 0 2.9 0.0a1.45 0.20 0 1 0 -2.9 -0.0M490.4 255.2a1.45 0.25 0 1 0 2.9 0.0a1.45 0.25 0 1 0 -2.9 -0.0M494.9 255.2a1.45 0.20 0 1 0 2.9 0.0a1.45 0.20 0 1 0 -2.9 -0.0M499.5 255.2a1.45 0.12 0 1 0 2.9 0.0a1.45 0.12 0 1 0 -2.9 -0.0M450.0 258.5a1.45 0.12 66 1 0 1.2 2.7a1.45 0.12 66 1 0 -1.2 -2.7"/>
<path fill="none" stroke="#d43c3c" stroke-width="0.55" d="M556.0 187.6a1.45 0.60 -45 1 0 2.1 -2.1a1.45 0.60 -45 1 0 -2.1 2.1M560.6 187.5a1.45 0.43 -43 1 0 2.1 -2.0a1.45 0.43 -43 1 0 -2.1 2.0M565.1 187.5a1.45 0.23 -40 1 0 2.2 -1.9a1.45 0.23 -40 1 0 -2.2 1.9M569.6 187.4a1.45 0.12 -37 1 0 2.3 -1.7a1.45 0.12 -37 1 0 -2.3 1.7M652.1 185.7a1.45 0.12 37 1 0 2.3 1.7a1.45 0.12 37 1 0 -2.3 -1.7M656.7 185.6a1.45 0.23 40 1 0 2.2 1.9a1.45 0.23 40 1 0 -2.2 -1.9M661.3 185.6a1.45 0.43 43 1 0 2.1 2.0a1.45 0.43 43 1 0 -2.1 -2.0M665.9 185.5a1.45 0.60 45 1 0 2.1 2.1a1.45 0.60 45 1 0 -2.1 -2.1M556.1 192.2a1.45 0.43 -47 1 0 2.0 -2.1a1.45 0.43 -47 1 0 -2.0 2.1M560.6 192.1a1.45 0.21 -45 1 0 2.1 -2.1a1.45 0.21 -45 1 0 -2.1 2.1M565.1 192.1a1.45 0.12 -42 1 0 2.1 -2.0a1.45 0.12 -42 1 0 -2.1 2.0M656.7 190.1a1.45 0.12 42 1 0 2.1 2.0a1.45 0.12 42 1 0 -2.1 -2.0M661.4 190.1a1.45 0.21 45 1 0 2.1 2.1a1.45 0.21 45 1 0 -2.1 -2.1M666.0 190.1a1.45 0.43 47 1 0 2.0 2.1a1.45 0.43 47 1 0 -2.0 -2.1M556.1 196.8a1.45 0.23 -50 1 0 1.9 -2.2a1.45 0.23 -50 1 0 -1.9 2.2M560.6 196.8a1.45 0.12 -48 1 0 2.0 -2.1a1.45 0.12 -48 1 0 -2.0 2.1M661.4 194.6a1.45 0.12 48 1 0 2.0 2.1a1.45 0.12 48 1 0 -2.0 -2.1M666.0 194.6a1.45 0.23 50 1 0 1.9 2.2a1.45 0.23 50 1 0 -1.9 -2.2M556.2 201.4a1.45 0.12 -53 1 0 1.7 -2.3a1.45 0.12 -53 1 0 -1.7 2.3M592.4 200.9a1.45 0.12 -24 1 0 2.7 -1.2a1.45 0.12 -24 1 0 -2.7 1.2M596.9 200.7a1.45 0.16 -18 1 0 2.8 -0.9a1.45 0.16 -18 1 0 -2.8 0.9M601.4 200.6a1.45 0.28 -13 1 0 2.8 -0.6a1.45 0.28 -13 1 0 -2.8 0.6M606.0 200.4a1.45 0.37 -6 1 0 2.9 -0.3a1.45 0.37 -6 1 0 -2.9 0.3M610.5 200.3a1.45 0.39 0 1 0 2.9 0.0a1.45 0.39 0 1 0 -2.9 -0.0M615.1 200.1a1.45 0.37 6 1 0 2.9 0.3a1.45 0.37 6 1 0 -2.9 -0.3M619.7 200.0a1.45 0.28 13 1 0 2.8 0.6a1.45 0.28 13 1 0 -2.8 -0.6M624.4 199.8a1.45 0.16 18 1 0 2.8 0.9a1.45 0.16 18 1 0 -2.8 -0.9M629.0 199.7a1.45 0.12 24 1 0 2.7 1.2a1.45 0.12 24 1 0 -2.7 -1.2M666.1 199.1a1.45 0.12 53 1 0 1.7 2.3a1.45 0.12 53 1 0 -1.7 -2.3M587.9 205.6a1.45 0.19 -32 1 0 2.5 -1.5a1.45 0.19 -32 1 0 -2.5 1.5M592.4 205.5a1.45 0.42 -27 1 0 2.6 -1.3a1.45 0.42 -27 1 0 -2.6 1.3M596.9 205.4a1.45 0.65 -21 1 0 2.7 -1.0a1.45 0.65 -21 1 0 -2.7 1.0M601.4 205.2a1.45 0.91 -14 1 0 2.8 -0.7a1.45 0.91 -14 1 0 -2.8 0.7M606.0 205.0a1.45 1.04 -7 1 0 2.9 -0.4a1.45 1.04 -7 1 0 -2.9 0.4M610.5 204.9a1.45 1.04 0 1 0 2.9 0.0a1.45 1.04 0 1 0 -2.9 -0.0M615.1 204.7a1.45 1.04 7 1 0 2.9 0.4a1.45 1.04 7 1 0 -2.9 -0.4M619.8 204.5a1.45 0.91 14 1 0 2.8 0.7a1.45 0.91 14 1 0 -2.8 -0.7M624.4 204.4a1.45 0.65 21 1 0 2.7 1.0a1.45 0.65 21 1 0 -2.7 -1.0M629.0 204.2a1.45 0.42 27 1 0 2.6 1.3a1.45 0.42 27 1 0 -2.6 -1.3M633.7 204.1a1.45 0.19 32 1 0 2.5 1.5a1.45 0.19 32 1 0 -2.5 -1.5M578.9 210.5a1.45 0.12 -45 1 0 2.1 -2.1a1.45 0.12 -45 1 0 -2.1 2.1M583.4 210.4a1.45 0.28 -41 1 0 2.2 -1.9a1.45 0.28 -41 1 0 -2.2 1.9M587.9 210.3a1.45 0.61 -36 1 0 2.4 -1.7a1.45 0.61 -36 1 0 -2.4 1.7M592.4 210.2a1.45 1.04 -30 1 0 2.5 -1.4a1.45 1.04 -30 1 0 -2.5 1.4M596.9 210.0a1.45 1.02 -23 1 0 2.7 -1.1a1.45 1.02 -23 1 0 -2.7 1.1M601.4 209.8a1.45 1.00 -16 1 0 2.8 -0.8a1.45 1.00 -16 1 0 -2.8 0.8M606.0 209.6a1.45 0.99 -7 1 0 2.9 -0.4a1.45 0.99 -7 1 0 -2.9 0.4M610.5 209.4a1.45 0.99 0 1 0 2.9 0.0a1.45 0.99 0 1 0 -2.9 -0.0M615.1 209.3a1.45 0.99 7 1 0 2.9 0.4a1.45 0.99 7 1 0 -2.9 -0.4M619.8 209.0a1.45 1.00 16 1 0 2.8 0.8a1.45 1.00 16 1 0 -2.8 -0.8M624.4 208.9a1.45 1.02 23 1 0 2.7 1.1a1.45 1.02 23 1 0 -2.7 -1.1M629.1 208.7a1.45 1.04 30 1 0 2.5 1.4a1.45 1.04 30 1 0 -2.5 -1.4M633.7 208.6a1.45 0.61 36 1 0 2.4 1.7a1.45 0.61 36 1 0 -2.4 -1.7M638.4 208.5a1.45 0.28 41 1 0 2.2 1.9a1.45 0.28 41 1 0 -2.2 -1.9M643.0 208.4a1.45 0.12 45 1 0 2.1 2.1a1.45 0.12 45 1 0 -2.1 -2.1M579.0 215.1a1.45 0.28 -49 1 0 1.9 -2.2a1.45 0.28 -49 1 0 -1.9 2.2M583.5 215.0a1.45 0.69 -45 1 0 2.1 -2.1a1.45 0.69 -45 1 0 -2.1 2.1M588.0 214.9a1.45 1.03 -40 1 0 2.2 -1.9a1.45 1.03 -40 1 0 -2.2 1.9M592.5 214.8a1.45 1.00 -33 1 0 2.4 -1.6a1.45 1.00 -33 1 0 -2.4 1.6M596.9 214.5a1.45 0.97 -21 1 0 2.7 -1.0a1.45 0.97 -21 1 0 -2.7 1.0M601.4 214.3a1.45 0.95 -12 1 0 2.8 -0.6a1.45 0.95 -12 1 0 -2.8 0.6M606.0 214.1a1.45 0.94 -5 1 0 2.9 -0.3a1.45 0.94 -5 1 0 -2.9 0.3M610.5 214.0a1.45 0.94 0 1 0 2.9 0.0a1.45 0.94 0 1 0 -2.9 -0.0M615.1 213.9a1.45 0.94 5 1 0 2.9 0.3a1.45 0.94 5 1 0 -2.9 -0.3M619.7 213.7a1.45 0.95 12 1 0 2.8 0.6a1.45 0.95 12 1 0 -2.8 -0.6M624.4 213.5a1.45 0.97 21 1 0 2.7 1.0a1.45 0.97 21 1 0 -2.7 -1.0M629.1 213.2a1.45 1.00 33 1 0 2.4 1.6a1.45 1.00 33 1 0 -2.4 -1.6M633.8 213.1a1.45 1.03 40 1 0 2.2 1.9a1.45 1.03 40 1 0 -2.2 -1.9M638.5 213.0a1.45 0.69 45 1 0 2.1 2.1a1.45 0.69 45 1 0 -2.1 -2.1M643.1 212.9a1.45 0.28 49 1 0 1.9 2.2a1.45 0.28 49 1 0 -1.9 -2.2M574.6 219.8a1.45 0.19 -58 1 0 1.5 -2.5a1.45 0.19 -58 1 0 -1.5 2.5M579.1 219.8a1.45 0.61 -54 1 0 1.7 -2.4a1.45 0.61 -54 1 0 -1.7 2.4M583.6 219.7a1.45 1.03 -50 1 0 1.9 -2.2a1.45 1.03 -50 1 0 -1.9 2.2M588.0 219.6a1.45 0.99 -42 1 0 2.1 -2.0a1.45 0.99 -42 1 0 -2.1 2.0M592.4 219.2a1.45 0.96 -26 1 0 2.6 -1.3a1.45 0.96 -26 1 0 -2.6 1.3M596.8 218.9a1.45 0.93 -13 1 0 2.8 -0.7a1.45 0.93 -13 1 0 -2.8 0.7M601.4 218.7a1.45 0.91 -5 1 0 2.9 -0.3a1.45 0.91 -5 1 0 -2.9 0.3M606.0 218.6a1.45 0.68 -2 1 0 2.9 -0.1a1.45 0.68 -2 1 0 -2.9 0.1M610.5 218.6a1.45 0.61 0 1 0 2.9 0.0a1.45 0.61 0 1 0 -2.9 -0.0M615.1 218.6a1.45 0.68 2 1 0 2.9 0.1a1.45 0.68 2 1 0 -2.9 -0.1M619.7 218.5a1.45 0.91 5 1 0 2.9 0.3a1.45 0.91 5 1 0 -2.9 -0.3M624.3 218.3a1.45 0.93 13 1 0 2.8 0.7a1.45 0.93 13 1 0 -2.8 -0.7M629.0 218.0a1.45 0.96 26 1 0 2.6 1.3a1.45 0.96 26 1 0 -2.6 -1.3M633.8 217.6a1.45 0.99 42 1 0 2.1 2.0a1.45 0.99 42 1 0 -2.1 -2.0M638.6 217.5a1.45 1.03 50 1 0 1.9 2.2a1.45 1.03 50 1 0 -1.9 -2.2M643.2 217.4a1.45 0.61 54 1 0 1.7 2.4a1.45 0.61 54 1 0 -1.7 -2.4M647.9 217.4a1.45 0.19 58 1 0 1.5 2.5a1.45 0.19 58 1 0 -1.5 -2.5M570.2 224.5a1.45 0.12 -66 1 0 1.2 -2.7a1.45 0.12 -66 1 0 -1.2 2.7M574.7 224.5a1.45 0.42 -63 1 0 1.3 -2.6a1.45 0.42 -63 1 0 -1.3 2.6M579.2 224.4a1.45 1.04 -60 1 0 1.4 -2.5a1.45 1.04 -60 1 0 -1.4 2.5M583.7 224.4a1.45 1.00 -55 1 0 1.6 -2.4a1.45 1.00 -55 1 0 -1.6 2.4M587.9 224.0a1.45 0.96 -36 1 0 2.3 -1.7a1.45 0.96 -36 1 0 -2.3 1.7M592.3 223.6a1.45 0.92 -15 1 0 2.8 -0.7a1.45 0.92 -15 1 0 -2.8 0.7M596.8 223.3a1.45 0.61 -3 1 0 2.9 -0.2a1.45 0.61 -3 1 0 -2.9 0.2M601.4 223.2a1.45 0.31 0 1 0 2.9 0.0a1.45 0.31 0 1 0 -2.9 -0.0M606.0 223.2a1.45 0.16 0 1 0 2.9 0.0a1.45 0.16 0 1 0 -2.9 -0.0M610.5 223.2a1.45 0.12 0 1 0 2.9 0.0a1.45 0.12 0 1 0 -2.9 -0.0M615.1 223.2a1.45 0.16 0 1 0 2.9 0.0a1.45 0.16 0 1 0 -2.9 -0.0M619.7 223.2a1.45 0.31 0 1 0 2.9 0.0a1.45 0.31 0 1 0 -2.9 -0.0M624.3 223.1a1.45 0.61 3 1 0 2.9 0.2a1.45 0.61 3 1 0 -2.9 -0.2M628.9 222.8a1.45 0.92 15 1 0 2.8 0.7a1.45 0.92 15 1 0 -2.8 -0.7M633.7 222.3a1.45 0.96 36 1 0 2.3 1.7a1.45 0.96 36 1 0 -2.3 -1.7M638.7 222.0a1.45 1.00 55 1 0 1.6 2.4a1.45 1.00 55 1 0 -1.6 -2.4M643.3 221.9a1.45 1.04 60 1 0 1.4 2.5a1.45 1.04 60 1 0 -1.4 -2.5M648.0 221.9a1.45 0.42 63 1 0 1.3 2.6a1.45 0.42 63 1 0 -1.3 -2.6M652.6 221.9a1.45 0.12 66 1 0 1.2 2.7a1.45 0.12 66 1 0 -1.2 -2.7M570.3 229.1a1.45 0.16 -72 1 0 0.9 -2.8a1.45 0.16 -72 1 0 -0.9 2.8M574.9 229.1a1.45 0.65 -69 1 0 1.0 -2.7a1.45 0.65 -69 1 0 -1.0 2.7M579.4 229.1a1.45 1.02 -67 1 0 1.1 -2.7a1.45 1.02 -67 1 0 -1.1 2.7M583.7 229.0a1.45 0.97 -55 1 0 1.6 -2.4a1.45 0.97 -55 1 0 -1.6 2.4M587.8 228.3a1.45 0.93 -23 1 0 2.7 -1.1a1.45 0.93 -23 1 0 -2.7 1.1M592.2 227.8a1.45 0.61 -3 1 0 2.9 -0.2a1.45 0.61 -3 1 0 -2.9 0.2M596.8 227.8a1.45 0.21 0 1 0 2.9 0.0a1.45 0.21 0 1 0 -2.9 -0.0M624.3 227.8a1.45 0.21 0 1 0 2.9 0.0a1.45 0.21 0 1 0 -2.9 -0.0M628.9 227.7a1.45 0.61 3 1 0 2.9 0.2a1.45 0.61 3 1 0 -2.9 -0.2M633.6 227.2a1.45 0.93 23 1 0 2.7 1.1a1.45 0.93 23 1 0 -2.7 -1.1M638.7 226.6a1.45 0.97 55 1 0 1.6 2.4a1.45 0.97 55 1 0 -1.6 -2.4M643.5 226.4a1.45 1.02 67 1 0 1.1 2.7a1.45 1.02 67 1 0 -1.1 -2.7M648.1 226.4a1.45 0.65 69 1 0 1.0 2.7a1.45 0.65 69 1 0 -1.0 -2.7M652.8 226.4a1.45 0.16 72 1 0 0.9 2.8a1.45 0.16 72 1 0 -0.9 -2.8M570.5 233.8a1.45 0.28 -77 1 0 0.6 -2.8a1.45 0.28 -77 1 0 -0.6 2.8M575.0 233.7a1.45 0.91 -76 1 0 0.7 -2.8a1.45 0.91 -76 1 0 -0.7 2.8M579.5 233.7a1.45 1.00 -74 1 0 0.8 -2.8a1.45 1.00 -74 1 0 -0.8 2.8M583.7 233.5a1.45 0.95 -54 1 0 1.7 -2.3a1.45 0.95 -54 1 0 -1.7 2.3M587.7 232.6a1.45 0.91 -9 1 0 2.9 -0.4a1.45 0.91 -9 1 0 -2.9 0.4M592.2 232.3a1.45 0.31 0 1 0 2.9 0.0a1.45 0.31 0 1 0 -2.9 -0.0M628.9 232.3a1.45 0.31 0 1 0 2.9 0.0a1.45 0.31 0 1 0 -2.9 -0.0M633.5 232.1a1.45 0.91 9 1 0 2.9 0.4a1.45 0.91 9 1 0 -2.9 -0.4M638.6 231.2a1.45 0.95 54 1 0 1.7 2.3a1.45 0.95 54 1 0 -1.7 -2.3M643.7 230.9a1.45 1.00 74 1 0 0.8 2.8a1.45 1.00 74 1 0 -0.8 -2.8M648.3 230.9a1.45 0.91 76 1 0 0.7 2.8a1.45 0.91 76 1 0 -0.7 -2.8M652.9 230.9a1.45 0.28 77 1 0 0.6 2.8a1.45 0.28 77 1 0 -0.6 -2.8M570.6 238.4a1.45 0.37 -84 1 0 0.3 -2.9a1.45 0.37 -84 1 0 -0.3 2.9M575.2 238.4a1.45 1.04 -83 1 0 0.4 -2.9a1.45 1.04 -83 1 0 -0.4 2.9M579.7 238.4a1.45 0.99 -81 1 0 0.5 -2.9a1.45 0.99 -81 1 0 -0.5 2.9M583.6 238.0a1.45 0.94 -50 1 0 1.9 -2.2a1.45 0.94 -50 1 0 -1.9 2.2M587.7 237.0a1.45 0.68 -2 1 0 2.9 -0.1a1.45 0.68 -2 1 0 -2.9 0.1M592.2 236.9a1.45 0.16 0 1 0 2.9 0.0a1.45 0.16 0 1 0 -2.9 -0.0M628.9 236.9a1.45 0.16 0 1 0 2.9 0.0a1.45 0.16 0 1 0 -2.9 -0.0M633.5 236.9a1.45 0.68 2 1 0 2.9 0.1a1.45 0.68 2 1 0 -2.9 -0.1M638.5 235.8a1.45 0.94 50 1 0 1.9 2.2a1.45 0.94 50 1 0 -1.9 -2.2M643.8 235.5a1.45 0.99 81 1 0 0.5 2.9a1.45 0.99 81 1 0 -0.5 -2.9M648.5 235.5a1.45 1.04 83 1 0 0.4 2.9a1.45 1.04 83 1 0 -0.4 -2.9M653.1 235.5a1.45 0.37 84 1 0 0.3 2.9a1.45 0.37 84 1 0 -0.3 -2.9M570.8 240.1a1.45 0.39 90 1 0 0.0 2.9a1.45 0.39 90 1 0 -0.0 -2.9M575.4 240.1a1.45 1.04 90 1 0 0.0 2.9a1.45 1.04 90 1 0 -0.0 -2.9M579.9 240.1a1.45 0.99 90 1 0 0.0 2.9a1.45 0.99 90 1 0 -0.0 -2.9M583.1 241.5a1.45 0.94 0 1 0 2.9 0.0a1.45 0.94 0 1 0 -2.9 -0.0M587.6 241.5a1.45 0.61 0 1 0 2.9 0.0a1.45 0.61 0 1 0 -2.9 -0.0M592.2 241.5a1.45 0.12 0 1 0 2.9 0.0a1.45 0.12 0 1 0 -2.9 -0.0M628.9 241.5a1.45 0.12 0 1 0 2.9 0.0a1.45 0.12 0 1 0 -2.9 -0.0M633.4 241.5a1.45 0.61 0 1 0 2.9 0.0a1.45 0.61 0 1 0 -2.9 -0.0M638.0 241.5a1.45 0.94 0 1 0 2.9 0.0a1.45 0.94 0 1 0 -2.9 -0.0M644.1 240.1a1.45 0.99 90 1 0 0.0 2.9a1.45 0.99 90 1 0 -0.0 -2.9M648.6 240.1a1.45 1.04 90 1 0 0.0 2.9a1.45 1.04 90 1 0 -0.0 -2.9M653.2 240.1a1.45 0.39 90 1 0 0.0 2.9a1.45 0.39 90 1 0 -0.0 -2.9M570.6 244.6a1.45 0.37 84 1 0 0.3 2.9a1.45 0.37 84 1 0 -0.3 -2.9M575.2 244.6a1.45 1.04 83 1 0 0.4 2.9a1.45 1.04 83 1 0 -0.4 -2.9M579.7 244.6a1.45 0.99 81 1 0 0.5 2.9a1.45 0.99 81 1 0 -0.5 -2.9M583.6 245.0a1.45 0.94 50 1 0 1.9 2.2a1.45 0.94 50 1 0 -1.9 -2.2M587.7 246.0a1.45 0.68 2 1 0 2.9 0.1a1.45 0.68 2 1 0 -2.9 -0.1M592.2 246.1a1.45 0.16 0 1 0 2.9 0.0a1.45 0.16 0 1 0 -2.9 -0.0M628.9 246.1a1.45 0.16 0 1 0 2.9 0.0a1.45 0.16 0 1 0 -2.9 -0.0M633.5 246.1a1.45 0.68 -2 1 0 2.9 -0.1a1.45 0.68 -2 1 0 -2.9 0.1M638.5 247.2a1.45 0.94 -50 1 0 1.9 -2.2a1.45 0.94 -50 1 0 -1.9 2.2M643.8 247.5a1.45 0.99 -81 1 0 0.5 -2.9a1.45 0.99 -81 1 0 -0.5 2.9M648.5 247.5a1.45 1.04 -83 1 0 0.4 -2.9a1.45 1.04 -83 1 0 -0.4 2.9M653.1 247.5a1.45 0.37 -84 1 0 0.3 -2.9a1.45 0.37 -84 1 0 -0.3 2.9M570.5 249.2a1.45 0.28 77 1 0 0.6 2.8a1.45 0.28 77 1 0 -0.6 -2.8M575.0 249.3a1.45 0.91 76 1 0 0.7 2.8a1.45 0.91 76 1 0 -0.7 -2.8M579.5 249.3a1.45 1.00 74 1 0 0.8 2.8a1.45 1.00 74 1 0 -0.8 -2.8M583.7 249.5a1.45 0.95 54 1 0 1.7 2.3a1.45 0.95 54 1 0 -1.7 -2.3M587.7 250.4a1.45 0.91 9 1 0 2.9 0.4a1.45 0.91 9 1 0 -2.9 -0.4M592.2 250.7a1.45 0.31 0 1 0 2.9 0.0a1.45 0.31 0 1 0 -2.9 -0.0M628.9 250.7a1.45 0.31 0 1 0 2.9 0.0a1.45 0.31 0 1 0 -2.9 -0.0M633.5 250.9a1.45 0.91 -9 1 0 2.9 -0.4a1.45 0.91 -9 1 0 -2.9 0.4M638.6 251.8a1.45 0.95 -54 1 0 1.7 -2.3a1.45 0.95 -54 1 0 -1.7 2.3M643.7 252.1a1.45 1.00 -74 1 0 0.8 -2.8a1.45 1.00 -74 1 0 -0.8 2.8M648.3 252.1a1.45 0.91 -76 1 0 0.7 -2.8a1.45 0.91 -76 1 0 -0.7 2.8M652.9 252.1a1.45 0.28 -77 1 0 0.6 -2.8a1.45 0.28 -77 1 0 -0.6 2.8M570.3 253.9a1.45 0.16 72 1 0 0.9 2.8a1.45 0.16 72 1 0 -0.9 -2.8M574.9 253.9a1.45 0.65 69 1 0 1.0 2.7a1.45 0.65 69 1 0 -1.0 -2.7M579.4 253.9a1.45 1.02 67 1 0 1.1 2.7a1.45 1.02 67 1 0 -1.1 -2.7M583.7 254.0a1.45 0.97 55 1 0 1.6 2.4a1.45 0.97 55 1 0 -1.6 -2.4M587.8 254.7a1.45 0.93 23 1 0 2.7 1.1a1.45 0.93 23 1 0 -2.7 -1.1M592.2 255.2a1.45 0.61 3 1 0 2.9 0.2a1.45 0.61 3 1 0 -2.9 -0.2M596.8 255.2a1.45 0.21 0 1 0 2.9 0.0a1.45 0.21 0 1 0 -2.9 -0.0M624.3 255.2a1.45 0.21 0 1 0 2.9 0.0a1.45 0.21 0 1 0 -2.9 -0.0M628.9 255.3a1.45 0.61 -3 1 0 2.9 -0.2a1.45 0.61 -3 1 0 -2.9 0.2M633.6 255.8a1.45 0.93 -23 1 0 2.7 -1.1a1.45 0.93 -23 1 0 -2.7 1.1M638.7 256.4a1.45 0.97 -55 1 0 1.6 -2.4a1.45 0.97 -55 1 0 -1.6 2.4M643.5 256.6a1.45 1.02 -67 1 0 1.1 -2.7a1.45 1.02 -67 1 0 -1.1 2.7M648.1 256.6a1.45 0.65 -69 1 0 1.0 -2.7a1.45 0.65 -69 1 0 -1.0 2.7M652.8 256.6a1.45 0.16 -72 1 0 0.9 -2.8a1.45 0.16 -72 1 0 -0.9 2.8M570.2 258.5a1.45 0.12 66 1 0 1.2 2.7a1.45 0.12 66 1 0 -1.2 -2.7M574.7 258.5a1.45 0.42 63 1 0 1.3 2.6a1.45 0.42 63 1 0 -1.3 -2.6M579.2 258.6a1.45 1.04 60 1 0 1.4 2.5a1.45 1.04 60 1 0 -1.4 -2.5M583.7 258.6a1.45 1.00 55 1 0 1.6 2.4a1.45 1.00 55 1 0 -1.6 -2.4M587.9 259.0a1.45 0.96 36 1 0 2.3 1.7a1.45 0.96 36 1 0 -2.3 -1.7M592.3 259.4a1.45 0.92 15 1 0 2.8 0.7a1.45 0.92 15 1 0 -2.8 -0.7M596.8 259.7a1.45 0.61 3 1 0 2.9 0.2a1.45 0.61 3 1 0 -2.9 -0.2M601.4 259.8a1.45 0.31 0 1 0 2.9 0.0a1.45 0.31 0 1 0 -2.9 -0.0M606.0 259.8a1.45 0.16 0 1 0 2.9 0.0a1.45 0.16 0 1 0 -2.9 -0.0M610.5 259.8a1.45 0.12 0 1 0 2.9 0.0a1.45 0.12 0 1 0 -2.9 -0.0M615.1 259.8a1.45 0.16 0 1 0 2.9 0.0a1.45 0.16 0 1 0 -2.9 -0.0M619.7 259.8a1.45 0.31 0 1 0 2.9 0.0a1.45 0.31 0 1 0 -2.9 -0.0M624.3 259.9a1.45 0.61 -3 1 0 2.9 -0.2a1.45 0.61 -3 1 0 -2.9 0.2M628.9 260.2a1.45 0.92 -15 1 0 2.8 -0.7a1.45 0.92 -15 1 0 -2.8 0.7M633.7 260.7a1.45 0.96 -36 1 0 2.3 -1.7a1.45 0.96 -36 1 0 -2.3 1.7M638.7 261.0a1.45 1.00 -55 1 0 1.6 -2.4a1.45 1.00 -55 1 0 -1.6 2.4M643.3 261.1a1.45 1.04 -60 1 0 1.4 -2.5a1.45 1.04 -60 1 0 -1.4 2.5M648.0 261.1a1.45 0.42 -63 1 0 1.3 -2.6a1.45 0.42 -63 1 0 -1.3 2.6M652.6 261.1a1.45 0.12 -66 1 0 1.2 -2.7a1.45 0.12 -66 1 0 -1.2 2.7M574.6 263.2a1.45 0.19 58 1 0 1.5 2.5a1.45 0.19 58 1 0 -1.5 -2.5M579.1 263.2a1.45 0.61 54 1 0 1.7 2.4a1.45 0.61 54 1 0 -1.7 -2.4M583.6 263.3a1.45 1.03 50 1 0 1.9 2.2a1.45 1.03 50 1 0 -1.9 -2.2M588.0 263.4a1.45 0.99 42 1 0 2.1 2.0a1.45 0.99 42 1 0 -2.1 -2.0M592.4 263.8a1.45 0.96 26 1 0 2.6 1.3a1.45 0.96 26 1 0 -2.6 -1.3M596.8 264.1a1.45 0.93 13 1 0 2.8 0.7a1.45 0.93 13 1 0 -2.8 -0.7M601.4 264.3a1.45 0.91 5 1 0 2.9 0.3a1.45 0.91 5 1 0 -2.9 -0.3M606.0 264.4a1.45 0.68 2 1 0 2.9 0.1a1.45 0.68 2 1 0 -2.9 -0.1M610.5 264.4a1.45 0.61 -0 1 0 2.9 -0.0a1.45 0.61 -0 1 0 -2.9 0.0M615.1 264.4a1.45 0.68 -2 1 0 2.9 -0.1a1.45 0.68 -2 1 0 -2.9 0.1M619.7 264.5a1.45 0.91 -5 1 0 2.9 -0.3a1.45 0.91 -5 1 0 -2.9 0.3M624.3 264.7a1.45 0.93 -13 1 0 2.8 -0.7a1.45 0.93 -13 1 0 -2.8 0.7M629.0 265.0a1.45 0.96 -26 1 0 2.6 -1.3a1.45 0.96 -26 1 0 -2.6 1.3M633.8 265.4a1.45 0.99 -42 1 0 2.1 -2.0a1.45 0.99 -42 1 0 -2.1 2.0M638.6 265.5a1.45 1.03 -50 1 0 1.9 -2.2a1.45 1.03 -50 1 0 -1.9 2.2M643.2 265.6a1.45 0.61 -54 1 0 1.7 -2.4a1.45 0.61 -54 1 0 -1.7 2.4M647.9 265.6a1.45 0.19 -58 1 0 1.5 -2.5a1.45 0.19 -58 1 0 -1.5 2.5M579.0 267.9a1.45 0.28 49 1 0 1.9 2.2a1.45 0.28 49 1 0 -1.9 -2.2M583.5 268.0a1.45 0.69 45 1 0 2.1 2.1a1.45 0.69 45 1 0 -2.1 -2.1M588.0 268.1a1.45 1.03 40 1 0 2.2 1.9a1.45 1.03 40 1 0 -2.2 -1.9M592.5 268.2a1.45 1.00 33 1 0 2.4 1.6a1.45 1.00 33 1 0 -2.4 -1.6M596.9 268.5a1.45 0.97 21 1 0 2.7 1.0a1.45 0.97 21 1 0 -2.7 -1.0M601.4 268.7a1.45 0.95 12 1 0 2.8 0.6a1.45 0.95 12 1 0 -2.8 -0.6M606.0 268.9a1.45 0.94 5 1 0 2.9 0.3a1.45 0.94 5 1 0 -2.9 -0.3M610.5 269.0a1.45 0.94 -0 1 0 2.9 -0.0a1.45 0.94 -0 1 0 -2.9 0.0M615.1 269.1a1.45 0.94 -5 1 0 2.9 -0.3a1.45 0.94 -5 1 0 -2.9 0.3M619.7 269.3a1.45 0.95 -12 1 0 2.8 -0.6a1.45 0.95 -12 1 0 -2.8 0.6M624.4 269.5a1.45 0.97 -21 1 0 2.7 -1.0a1.45 0.97 -21 1 0 -2.7 1.0M629.1 269.8a1.45 1.00 -33 1 0 2.4 -1.6a1.45 1.00 -33 1 0 -2.4 1.6M633.8 269.9a1.45 1.03 -40 1 0 2.2 -1.9a1.45 1.03 -40 1 0 -2.2 1.9M638.5 270.0a1.45 0.69 -45 1 0 2.1 -2.1a1.45 0.69 -45 1 0 -2.1 2.1M643.1 270.1a1.45 0.28 -49 1 0 1.9 -2.2a1.45 0.28 -49 1 0 -1.9 2.2M578.9 272.5a1.45 0.12 45 1 0 2.1 2.1a1.45 0.12 45 1 0 -2.1 -2.1M583.4 272.6a1.45 0.28 41 1 0 2.2 1.9a1.45 0.28 41 1 0 -2.2 -1.9M587.9 272.7a1.45 0.61 36 1 0 2.4 1.7a1.45 0.61 36 1 0 -2.4 -1.7M592.4 272.8a1.45 1.04 30 1 0 2.5 1.4a1.45 1.04 30 1 0 -2.5 -1.4M596.9 273.0a1.45 1.02 23 1 0 2.7 1.1a1.45 1.02 23 1 0 -2.7 -1.1M601.4 273.2a1.45 1.00 16 1 0 2.8 0.8a1.45 1.00 16 1 0 -2.8 -0.8M606.0 273.4a1.45 0.99 7 1 0 2.9 0.4a1.45 0.99 7 1 0 -2.9 -0.4M610.5 273.6a1.45 0.99 -0 1 0 2.9 -0.0a1.45 0.99 -0 1 0 -2.9 0.0M615.1 273.7a1.45 0.99 -7 1 0 2.9 -0.4a1.45 0.99 -7 1 0 -2.9 0.4M619.8 274.0a1.45 1.00 -16 1 0 2.8 -0.8a1.45 1.00 -16 1 0 -2.8 0.8M624.4 274.1a1.45 1.02 -23 1 0 2.7 -1.1a1.45 1.02 -23 1 0 -2.7 1.1M629.1 274.3a1.45 1.04 -30 1 0 2.5 -1.4a1.45 1.04 -30 1 0 -2.5 1.4M633.7 274.4a1.45 0.61 -36 1 0 2.4 -1.7a1.45 0.61 -36 1 0 -2.4 1.7M638.4 274.5a1.45 0.28 -41 1 0 2.2 -1.9a1.45 0.28 -41 1 0 -2.2 1.9M643.0 274.6a1.45 0.12 -45 1 0 2.1 -2.1a1.45 0.12 -45 1 0 -2.1 2.1M587.9 277.4a1.45 0.19 32 1 0 2.5 1.5a1.45 0.19 32 1 0 -2.5 -1.5M592.4 277.5a1.45 0.42 27 1 0 2.6 1.3a1.45 0.42 27 1 0 -2.6 -1.3M596.9 277.6a1.45 0.65 21 1 0 2.7 1.0a1.45 0.65 21 1 0 -2.7 -1.0M601.4 277.8a1.45 0.91 14 1 0 2.8 0.7a1.45 0.91 14 1 0 -2.8 -0.7M606.0 278.0a1.45 1.04 7 1 0 2.9 0.4a1.45 1.04 7 1 0 -2.9 -0.4M610.5 278.1a1.45 1.04 -0 1 0 2.9 -0.0a1.45 1.04 -0 1 0 -2.9 0.0M615.1 278.3a1.45 1.04 -7 1 0 2.9 -0.4a1.45 1.04 -7 1 0 -2.9 0.4M619.8 278.5a1.45 0.91 -14 1 0 2.8 -0.7a1.45 0.91 -14 1 0 -2.8 0.7M624.4 278.6a1.45 0.65 -21 1 0 2.7 -1.0a1.45 0.65 -21 1 0 -2.7 1.0M629.0 278.8a1.45 0.42 -27 1 0 2.6 -1.3a1.45 0.42 -27 1 0 -2.6 1.3M633.7 278.9a1.45 0.19 -32 1 0 2.5 -1.5a1.45 0.19 -32 1 0 -2.5 1.5M556.2 281.6a1.45 0.12 53 1 0 1.7 2.3a1.45 0.12 53 1 0 -1.7 -2.3M592.4 282.1a1.45 0.12 24 1 0 2.7 1.2a1.45 0.12 24 1 0 -2.7 -1.2M596.9 282.3a1.45 0.16 18 1 0 2.8 0.9a1.45 0.16 18 1 0 -2.8 -0.9M601.4 282.4a1.45 0.28 13 1 0 2.8 0.6a1.45 0.28 13 1 0 -2.8 -0.6M606.0 282.6a1.45 0.37 6 1 0 2.9 0.3a1.45 0.37 6 1 0 -2.9 -0.3M610.5 282.7a1.45 0.39 -0 1 0 2.9 -0.0a1.45 0.39 -0 1 0 -2.9 0.0M615.1 282.9a1.45 0.37 -6 1 0 2.9 -0.3a1.45 0.37 -6 1 0 -2.9 0.3M619.7 283.0a1.45 0.28 -13 1 0 2.8 -0.6a1.45 0.28 -13 1 0 -2.8 0.6M624.4 283.2a1.45 0.16 -18 1 0 2.8 -0.9a1.45 0.16 -18 1 0 -2.8 0.9M629.0 283.3a1.45 0.12 -24 1 0 2.7 -1.2a1.45 0.12 -24 1 0 -2.7 1.2M666.1 283.9a1.45 0.12 -53 1 0 1.7 -2.3a1.45 0.12 -53 1 0 -1.7 2.3M556.1 286.2a1.45 0.23 50 1 0 1.9 2.2a1.45 0.23 50 1 0 -1.9 -2.2M560.6 286.2a1.45 0.12 48 1 0 2.0 2.1a1.45 0.12 48 1 0 -2.0 -2.1M661.4 288.4a1.45 0.12 -48 1 0 2.0 -2.1a1.45 0.12 -48 1 0 -2.0 2.1M666.0 288.4a1.45 0.23 -50 1 0 1.9 -2.2a1.45 0.23 -50 1 0 -1.9 2.2M556.1 290.8a1.45 0.43 47 1 0 2.0 2.1a1.45 0.43 47 1 0 -2.0 -2.1M560.6 290.9a1.45 0.21 45 1 0 2.1 2.1a1.45 0.21 45 1 0 -2.1 -2.1M565.1 290.9a1.45 0.12 42 1 0 2.1 2.0a1.45 0.12 42 1 0 -2.1 -2.0M656.7 292.9a1.45 0.12 -42 1 0 2.1 -2.0a1.45 0.12 -42 1 0 -2.1 2.0M661.4 292.9a1.45 0.21 -45 1 0 2.1 -2.1a1.45 0.21 -45 1 0 -2.1 2.1M666.0 292.9a1.45 0.43 -47 1 0 2.0 -2.1a1.45 0.43 -47 1 0 -2.0 2.1M556.0 295.4a1.45 0.60 45 1 0 2.1 2.1a1.45 0.60 45 1 0 -2.1 -2.1M560.6 295.5a1.45 0.43 43 1 0 2.1 2.0a1.45 0.43 43 1 0 -2.1 -2.0M565.1 295.5a1.45 0.23 40 1 0 2.2 1.9a1.45 0.23 40 1 0 -2.2 -1.9M569.6 295.6a1.45 0.12 37 1 0 2.3 1.7a1.45 0.12 37 1 0 -2.3 -1.7M652.1 297.3a1.45 0.12 -37 1 0 2.3 -1.7a1.45 0.12 -37 1 0 -2.3 1.7M656.7 297.4a1.45 0.23 -40 1 0 2.2 -1.9a1.45 0.23 -40 1 0 -2.2 1.9M661.3 297.4a1.45 0.43 -43 1 0 2.1 -2.0a1.45 0.43 -43 1 0 -2.1 2.0M665.9 297.5a1.45 0.60 -45 1 0 2.1 -2.1a1.45 0.60 -45 1 0 -2.1 2.1"/>
<path fill="none" stroke="#3c3cd8" stroke-width="0.55" d="M574.2 187.3a1.45 0.12 -34 1 0 2.4 -1.6a1.45 0.12 -34 1 0 -2.4 1.6M578.7 187.3a1.45 0.25 -30 1 0 2.5 -1.5a1.45 0.25 -30 1 0 -2.5 1.5M583.2 187.2a1.45 0.33 -27 1 0 2.6 -1.3a1.45 0.33 -27 1 0 -2.6 1.3M587.8 187.1a1.45 0.38 -23 1 0 2.7 -1.1a1.45 0.38 -23 1 0 -2.7 1.1M592.3 187.0a1.45 0.41 -18 1 0 2.8 -0.9a1.45 0.41 -18 1 0 -2.8 0.9M596.9 186.9a1.45 0.44 -14 1 0 2.8 -0.7a1.45 0.44 -14 1 0 -2.8 0.7M601.4 186.8a1.45 0.47 -9 1 0 2.9 -0.5a1.45 0.47 -9 1 0 -2.9 0.5M606.0 186.7a1.45 0.48 -5 1 0 2.9 -0.2a1.45 0.48 -5 1 0 -2.9 0.2M610.5 186.5a1.45 0.48 0 1 0 2.9 0.0a1.45 0.48 0 1 0 -2.9 -0.0M615.1 186.4a1.45 0.48 5 1 0 2.9 0.2a1.45 0.48 5 1 0 -2.9 -0.2M619.7 186.3a1.45 0.47 9 1 0 2.9 0.5a1.45 0.47 9 1 0 -2.9 -0.5M624.3 186.2a1.45 0.44 14 1 0 2.8 0.7a1.45 0.44 14 1 0 -2.8 -0.7M628.9 186.1a1.45 0.41 18 1 0 2.8 0.9a1.45 0.41 18 1 0 -2.8 -0.9M633.6 186.0a1.45 0.38 23 1 0 2.7 1.1a1.45 0.38 23 1 0 -2.7 -1.1M638.2 185.9a1.45 0.33 27 1 0 2.6 1.3a1.45 0.33 27 1 0 -2.6 -1.3M642.8 185.8a1.45 0.25 30 1 0 2.5 1.5a1.45 0.25 30 1 0 -2.5 -1.5M647.4 185.7a1.45 0.12 34 1 0 2.4 1.6a1.45 0.12 34 1 0 -2.4 -1.6M569.7 192.0a1.45 0.16 -39 1 0 2.2 -1.8a1.45 0.16 -39 1 0 -2.2 1.8M574.2 192.0a1.45 0.31 -36 1 0 2.3 -1.7a1.45 0.31 -36 1 0 -2.3 1.7M578.7 191.9a1.45 0.37 -32 1 0 2.4 -1.6a1.45 0.37 -32 1 0 -2.4 1.6M583.2 191.8a1.45 0.42 -29 1 0 2.5 -1.4a1.45 0.42 -29 1 0 -2.5 1.4M587.8 191.7a1.45 0.48 -24 1 0 2.6 -1.2a1.45 0.48 -24 1 0 -2.6 1.2M592.3 191.6a1.45 0.41 -20 1 0 2.7 -1.0a1.45 0.41 -20 1 0 -2.7 1.0M596.9 191.5a1.45 0.35 -15 1 0 2.8 -0.8a1.45 0.35 -15 1 0 -2.8 0.8M601.4 191.4a1.45 0.31 -10 1 0 2.9 -0.5a1.45 0.31 -10 1 0 -2.9 0.5M606.0 191.3a1.45 0.28 -5 1 0 2.9 -0.3a1.45 0.28 -5 1 0 -2.9 0.3M610.5 191.1a1.45 0.27 0 1 0 2.9 0.0a1.45 0.27 0 1 0 -2.9 -0.0M615.1 191.0a1.45 0.28 5 1 0 2.9 0.3a1.45 0.28 5 1 0 -2.9 -0.3M619.7 190.9a1.45 0.31 10 1 0 2.9 0.5a1.45 0.31 10 1 0 -2.9 -0.5M624.3 190.7a1.45 0.35 15 1 0 2.8 0.8a1.45 0.35 15 1 0 -2.8 -0.8M629.0 190.6a1.45 0.41 20 1 0 2.7 1.0a1.45 0.41 20 1 0 -2.7 -1.0M633.6 190.5a1.45 0.48 24 1 0 2.6 1.2a1.45 0.48 24 1 0 -2.6 -1.2M638.2 190.4a1.45 0.42 29 1 0 2.5 1.4a1.45 0.42 29 1 0 -2.5 -1.4M642.8 190.3a1.45 0.37 32 1 0 2.4 1.6a1.45 0.37 32 1 0 -2.4 -1.6M647.5 190.3a1.45 0.31 36 1 0 2.3 1.7a1.45 0.31 36 1 0 -2.3 -1.7M652.1 190.2a1.45 0.16 39 1 0 2.2 1.8a1.45 0.16 39 1 0 -2.2 -1.8M565.2 196.7a1.45 0.18 -45 1 0 2.1 -2.1a1.45 0.18 -45 1 0 -2.1 2.1M569.7 196.7a1.45 0.33 -42 1 0 2.2 -1.9a1.45 0.33 -42 1 0 -2.2 1.9M574.2 196.6a1.45 0.40 -39 1 0 2.3 -1.8a1.45 0.40 -39 1 0 -2.3 1.8M578.8 196.5a1.45 0.46 -35 1 0 2.4 -1.7a1.45 0.46 -35 1 0 -2.4 1.7M583.3 196.4a1.45 0.40 -31 1 0 2.5 -1.5a1.45 0.40 -31 1 0 -2.5 1.5M587.8 196.3a1.45 0.31 -27 1 0 2.6 -1.3a1.45 0.31 -27 1 0 -2.6 1.3M592.3 196.2a1.45 0.23 -22 1 0 2.7 -1.1a1.45 0.23 -22 1 0 -2.7 1.1M596.9 196.1a1.45 0.17 -17 1 0 2.8 -0.8a1.45 0.17 -17 1 0 -2.8 0.8M601.4 196.0a1.45 0.12 -11 1 0 2.8 -0.6a1.45 0.12 -11 1 0 -2.8 0.6M606.0 195.8a1.45 0.12 -6 1 0 2.9 -0.3a1.45 0.12 -6 1 0 -2.9 0.3M610.5 195.7a1.45 0.12 0 1 0 2.9 0.0a1.45 0.12 0 1 0 -2.9 -0.0M615.1 195.6a1.45 0.12 6 1 0 2.9 0.3a1.45 0.12 6 1 0 -2.9 -0.3M619.7 195.4a1.45 0.12 11 1 0 2.8 0.6a1.45 0.12 11 1 0 -2.8 -0.6M624.4 195.3a1.45 0.17 17 1 0 2.8 0.8a1.45 0.17 17 1 0 -2.8 -0.8M629.0 195.2a1.45 0.23 22 1 0 2.7 1.1a1.45 0.23 22 1 0 -2.7 -1.1M633.6 195.1a1.45 0.31 27 1 0 2.6 1.3a1.45 0.31 27 1 0 -2.6 -1.3M638.2 195.0a1.45 0.40 31 1 0 2.5 1.5a1.45 0.40 31 1 0 -2.5 -1.5M642.9 194.9a1.45 0.46 35 1 0 2.4 1.7a1.45 0.46 35 1 0 -2.4 -1.7M647.5 194.8a1.45 0.40 39 1 0 2.3 1.8a1.45 0.40 39 1 0 -2.3 -1.8M652.1 194.7a1.45 0.33 42 1 0 2.2 1.9a1.45 0.33 42 1 0 -2.2 -1.9M656.8 194.7a1.45 0.18 45 1 0 2.1 2.1a1.45 0.18 45 1 0 -2.1 -2.1M560.7 201.4a1.45 0.16 -51 1 0 1.8 -2.2a1.45 0.16 -51 1 0 -1.8 2.2M565.2 201.4a1.45 0.33 -48 1 0 1.9 -2.2a1.45 0.33 -48 1 0 -1.9 2.2M569.8 201.3a1.45 0.40 -45 1 0 2.1 -2.1a1.45 0.40 -45 1 0 -2.1 2.1M574.3 201.2a1.45 0.48 -42 1 0 2.2 -1.9a1.45 0.48 -42 1 0 -2.2 1.9M578.8 201.2a1.45 0.35 -38 1 0 2.3 -1.8a1.45 0.35 -38 1 0 -2.3 1.8M583.3 201.1a1.45 0.24 -34 1 0 2.4 -1.6a1.45 0.24 -34 1 0 -2.4 1.6M587.8 201.0a1.45 0.15 -29 1 0 2.5 -1.4a1.45 0.15 -29 1 0 -2.5 1.4M633.6 199.6a1.45 0.15 29 1 0 2.5 1.4a1.45 0.15 29 1 0 -2.5 -1.4M638.3 199.5a1.45 0.24 34 1 0 2.4 1.6a1.45 0.24 34 1 0 -2.4 -1.6M642.9 199.4a1.45 0.35 38 1 0 2.3 1.8a1.45 0.35 38 1 0 -2.3 -1.8M647.6 199.3a1.45 0.48 42 1 0 2.2 1.9a1.45 0.48 42 1 0 -2.2 -1.9M652.2 199.3a1.45 0.40 45 1 0 2.1 2.1a1.45 0.40 45 1 0 -2.1 -2.1M656.8 199.2a1.45 0.33 48 1 0 1.9 2.2a1.45 0.33 48 1 0 -1.9 -2.2M661.5 199.2a1.45 0.16 51 1 0 1.8 2.2a1.45 0.16 51 1 0 -1.8 -2.2M556.2 206.1a1.45 0.12 -56 1 0 1.6 -2.4a1.45 0.12 -56 1 0 -1.6 2.4M560.8 206.0a1.45 0.31 -54 1 0 1.7 -2.3a1.45 0.31 -54 1 0 -1.7 2.3M565.3 206.0a1.45 0.40 -51 1 0 1.8 -2.3a1.45 0.40 -51 1 0 -1.8 2.3M569.8 205.9a1.45 0.48 -48 1 0 1.9 -2.2a1.45 0.48 -48 1 0 -1.9 2.2M574.3 205.9a1.45 0.33 -45 1 0 2.1 -2.1a1.45 0.33 -45 1 0 -2.1 2.1M578.8 205.8a1.45 0.21 -41 1 0 2.2 -1.9a1.45 0.21 -41 1 0 -2.2 1.9M583.4 205.7a1.45 0.12 -37 1 0 2.3 -1.7a1.45 0.12 -37 1 0 -2.3 1.7M638.3 204.0a1.45 0.12 37 1 0 2.3 1.7a1.45 0.12 37 1 0 -2.3 -1.7M643.0 203.9a1.45 0.21 41 1 0 2.2 1.9a1.45 0.21 41 1 0 -2.2 -1.9M647.6 203.8a1.45 0.33 45 1 0 2.1 2.1a1.45 0.33 45 1 0 -2.1 -2.1M652.3 203.8a1.45 0.48 48 1 0 1.9 2.2a1.45 0.48 48 1 0 -1.9 -2.2M656.9 203.7a1.45 0.40 51 1 0 1.8 2.3a1.45 0.40 51 1 0 -1.8 -2.3M661.5 203.7a1.45 0.31 54 1 0 1.7 2.3a1.45 0.31 54 1 0 -1.7 -2.3M666.2 203.7a1.45 0.12 56 1 0 1.6 2.4a1.45 0.12 56 1 0 -1.6 -2.4M556.3 210.7a1.45 0.25 -60 1 0 1.5 -2.5a1.45 0.25 -60 1 0 -1.5 2.5M560.8 210.7a1.45 0.37 -58 1 0 1.6 -2.4a1.45 0.37 -58 1 0 -1.6 2.4M565.4 210.6a1.45 0.46 -55 1 0 1.7 -2.4a1.45 0.46 -55 1 0 -1.7 2.4M569.9 210.6a1.45 0.35 -52 1 0 1.8 -2.3a1.45 0.35 -52 1 0 -1.8 2.3M574.4 210.5a1.45 0.21 -49 1 0 1.9 -2.2a1.45 0.21 -49 1 0 -1.9 2.2M647.7 208.3a1.45 0.21 49 1 0 1.9 2.2a1.45 0.21 49 1 0 -1.9 -2.2M652.3 208.3a1.45 0.35 52 1 0 1.8 2.3a1.45 0.35 52 1 0 -1.8 -2.3M657.0 208.3a1.45 0.46 55 1 0 1.7 2.4a1.45 0.46 55 1 0 -1.7 -2.4M661.6 208.2a1.45 0.37 58 1 0 1.6 2.4a1.45 0.37 58 1 0 -1.6 -2.4M666.2 208.2a1.45 0.25 60 1 0 1.5 2.5a1.45 0.25 60 1 0 -1.5 -2.5M556.4 215.3a1.45 0.33 -63 1 0 1.3 -2.6a1.45 0.33 -63 1 0 -1.3 2.6M560.9 215.3a1.45 0.42 -61 1 0 1.4 -2.5a1.45 0.42 -61 1 0 -1.4 2.5M565.5 215.3a1.45 0.40 -59 1 0 1.5 -2.5a1.45 0.40 -59 1 0 -1.5 2.5M570.0 215.2a1.45 0.24 -56 1 0 1.6 -2.4a1.45 0.24 -56 1 0 -1.6 2.4M574.5 215.2a1.45 0.12 -53 1 0 1.7 -2.3a1.45 0.12 -53 1 0 -1.7 2.3M647.8 212.9a1.45 0.12 53 1 0 1.7 2.3a1.45 0.12 53 1 0 -1.7 -2.3M652.4 212.8a1.45 0.24 56 1 0 1.6 2.4a1.45 0.24 56 1 0 -1.6 -2.4M657.1 212.8a1.45 0.40 59 1 0 1.5 2.5a1.45 0.40 59 1 0 -1.5 -2.5M661.7 212.7a1.45 0.42 61 1 0 1.4 2.5a1.45 0.42 61 1 0 -1.4 -2.5M666.3 212.7a1.45 0.33 63 1 0 1.3 2.6a1.45 0.33 63 1 0 -1.3 -2.6M556.5 219.9a1.45 0.38 -67 1 0 1.1 -2.7a1.45 0.38 -67 1 0 -1.1 2.7M561.0 219.9a1.45 0.48 -66 1 0 1.2 -2.6a1.45 0.48 -66 1 0 -1.2 2.6M565.6 219.9a1.45 0.31 -63 1 0 1.3 -2.6a1.45 0.31 -63 1 0 -1.3 2.6M570.1 219.9a1.45 0.15 -61 1 0 1.4 -2.5a1.45 0.15 -61 1 0 -1.4 2.5M652.5 217.3a1.45 0.15 61 1 0 1.4 2.5a1.45 0.15 61 1 0 -1.4 -2.5M657.2 217.3a1.45 0.31 63 1 0 1.3 2.6a1.45 0.31 63 1 0 -1.3 -2.6M661.8 217.3a1.45 0.48 66 1 0 1.2 2.6a1.45 0.48 66 1 0 -1.2 -2.6M666.4 217.3a1.45 0.38 67 1 0 1.1 2.7a1.45 0.38 67 1 0 -1.1 -2.7M556.6 224.6a1.45 0.41 -72 1 0 0.9 -2.8a1.45 0.41 -72 1 0 -0.9 2.8M561.1 224.5a1.45 0.41 -70 1 0 1.0 -2.7a1.45 0.41 -70 1 0 -1.0 2.7M565.7 224.5a1.45 0.23 -68 1 0 1.1 -2.7a1.45 0.23 -68 1 0 -1.1 2.7M657.3 221.8a1.45 0.23 68 1 0 1.1 2.7a1.45 0.23 68 1 0 -1.1 -2.7M661.9 221.8a1.45 0.41 70 1 0 1.0 2.7a1.45 0.41 70 1 0 -1.0 -2.7M666.5 221.8a1.45 0.41 72 1 0 0.9 2.8a1.45 0.41 72 1 0 -0.9 -2.8M556.7 229.2a1.45 0.44 -76 1 0 0.7 -2.8a1.45 0.44 -76 1 0 -0.7 2.8M561.2 229.2a1.45 0.35 -75 1 0 0.8 -2.8a1.45 0.35 -75 1 0 -0.8 2.8M565.8 229.1a1.45 0.17 -73 1 0 0.8 -2.8a1.45 0.17 -73 1 0 -0.8 2.8M601.4 227.8a1.45 0.12 0 1 0 2.9 0.0a1.45 0.12 0 1 0 -2.9 -0.0M606.0 227.8a1.45 0.13 0 1 0 2.9 0.0a1.45 0.13 0 1 0 -2.9 -0.0M610.5 227.8a1.45 0.17 0 1 0 2.9 0.0a1.45 0.17 0 1 0 -2.9 -0.0M615.1 227.8a1.45 0.13 0 1 0 2.9 0.0a1.45 0.13 0 1 0 -2.9 -0.0M619.7 227.8a1.45 0.12 0 1 0 2.9 0.0a1.45 0.12 0 1 0 -2.9 -0.0M657.4 226.4a1.45 0.17 73 1 0 0.8 2.8a1.45 0.17 73 1 0 -0.8 -2.8M662.0 226.4a1.45 0.35 75 1 0 0.8 2.8a1.45 0.35 75 1 0 -0.8 -2.8M666.6 226.4a1.45 0.44 76 1 0 0.7 2.8a1.45 0.44 76 1 0 -0.7 -2.8M556.8 233.8a1.45 0.47 -81 1 0 0.5 -2.9a1.45 0.47 -81 1 0 -0.5 2.9M561.4 233.8a1.45 0.31 -80 1 0 0.5 -2.9a1.45 0.31 -80 1 0 -0.5 2.9M565.9 233.8a1.45 0.12 -79 1 0 0.6 -2.8a1.45 0.12 -79 1 0 -0.6 2.8M596.8 232.3a1.45 0.12 0 1 0 2.9 0.0a1.45 0.12 0 1 0 -2.9 -0.0M601.4 232.3a1.45 0.21 0 1 0 2.9 0.0a1.45 0.21 0 1 0 -2.9 -0.0M606.0 232.3a1.45 0.36 0 1 0 2.9 0.0a1.45 0.36 0 1 0 -2.9 -0.0M610.5 232.3a1.45 0.40 0 1 0 2.9 0.0a1.45 0.40 0 1 0 -2.9 -0.0M615.1 232.3a1.45 0.36 0 1 0 2.9 0.0a1.45 0.36 0 1 0 -2.9 -0.0M619.7 232.3a1.45 0.21 0 1 0 2.9 0.0a1.45 0.21 0 1 0 -2.9 -0.0M624.3 232.3a1.45 0.12 0 1 0 2.9 0.0a1.45 0.12 0 1 0 -2.9 -0.0M657.5 230.9a1.45 0.12 79 1 0 0.6 2.8a1.45 0.12 79 1 0 -0.6 -2.8M662.1 230.9a1.45 0.31 80 1 0 0.5 2.9a1.45 0.31 80 1 0 -0.5 -2.9M666.7 230.9a1.45 0.47 81 1 0 0.5 2.9a1.45 0.47 81 1 0 -0.5 -2.9M556.9 238.4a1.45 0.48 -85 1 0 0.2 -2.9a1.45 0.48 -85 1 0 -0.2 2.9M561.5 238.4a1.45 0.28 -85 1 0 0.3 -2.9a1.45 0.28 -85 1 0 -0.3 2.9M566.1 238.4a1.45 0.12 -84 1 0 0.3 -2.9a1.45 0.12 -84 1 0 -0.3 2.9M596.8 236.9a1.45 0.13 0 1 0 2.9 0.0a1.45 0.13 0 1 0 -2.9 -0.0M601.4 236.9a1.45 0.36 0 1 0 2.9 0.0a1.45 0.36 0 1 0 -2.9 -0.0M606.0 236.9a1.45 0.45 0 1 0 2.9 0.0a1.45 0.45 0 1 0 -2.9 -0.0M610.5 236.9a1.45 0.49 0 1 0 2.9 0.0a1.45 0.49 0 1 0 -2.9 -0.0M615.1 236.9a1.45 0.45 0 1 0 2.9 0.0a1.45 0.45 0 1 0 -2.9 -0.0M619.7 236.9a1.45 0.36 0 1 0 2.9 0.0a1.45 0.36 0 1 0 -2.9 -0.0M624.3 236.9a1.45 0.13 0 1 0 2.9 0.0a1.45 0.13 0 1 0 -2.9 -0.0M657.7 235.5a1.45 0.12 84 1 0 0.3 2.9a1.45 0.12 84 1 0 -0.3 -2.9M662.2 235.5a1.45 0.28 85 1 0 0.3 2.9a1.45 0.28 85 1 0 -0.3 -2.9M666.8 235.5a1.45 0.48 85 1 0 0.2 2.9a1.45 0.48 85 1 0 -0.2 -2.9M557.0 240.1a1.45 0.48 90 1 0 0.0 2.9a1.45 0.48 90 1 0 -0.0 -2.9M561.6 240.1a1.45 0.27 90 1 0 0.0 2.9a1.45 0.27 90 1 0 -0.0 -2.9M566.2 240.1a1.45 0.12 90 1 0 0.0 2.9a1.45 0.12 90 1 0 -0.0 -2.9M596.8 241.5a1.45 0.17 0 1 0 2.9 0.0a1.45 0.17 0 1 0 -2.9 -0.0M601.4 241.5a1.45 0.40 0 1 0 2.9 0.0a1.45 0.40 0 1 0 -2.9 -0.0M606.0 241.5a1.45 0.49 0 1 0 2.9 0.0a1.45 0.49 0 1 0 -2.9 -0.0M610.5 241.5a1.45 0.59 0 1 0 2.9 0.0a1.45 0.59 0 1 0 -2.9 -0.0M615.1 241.5a1.45 0.49 0 1 0 2.9 0.0a1.45 0.49 0 1 0 -2.9 -0.0M619.7 241.5a1.45 0.40 0 1 0 2.9 0.0a1.45 0.40 0 1 0 -2.9 -0.0M624.3 241.5a1.45 0.17 0 1 0 2.9 0.0a1.45 0.17 0 1 0 -2.9 -0.0M657.8 240.1a1.45 0.12 90 1 0 0.0 2.9a1.45 0.12 90 1 0 -0.0 -2.9M662.4 240.1a1.45 0.27 90 1 0 0.0 2.9a1.45 0.27 90 1 0 -0.0 -2.9M667.0 240.1a1.45 0.48 90 1 0 0.0 2.9a1.45 0.48 90 1 0 -0.0 -2.9M556.9 244.6a1.45 0.48 85 1 0 0.2 2.9a1.45 0.48 85 1 0 -0.2 -2.9M561.5 244.6a1.45 0.28 85 1 0 0.3 2.9a1.45 0.28 85 1 0 -0.3 -2.9M566.1 244.6a1.45 0.12 84 1 0 0.3 2.9a1.45 0.12 84 1 0 -0.3 -2.9M596.8 246.1a1.45 0.13 0 1 0 2.9 0.0a1.45 0.13 0 1 0 -2.9 -0.0M601.4 246.1a1.45 0.36 0 1 0 2.9 0.0a1.45 0.36 0 1 0 -2.9 -0.0M606.0 246.1a1.45 0.45 0 1 0 2.9 0.0a1.45 0.45 0 1 0 -2.9 -0.0M610.5 246.1a1.45 0.49 0 1 0 2.9 0.0a1.45 0.49 0 1 0 -2.9 -0.0M615.1 246.1a1.45 0.45 0 1 0 2.9 0.0a1.45 0.45 0 1 0 -2.9 -0.0M619.7 246.1a1.45 0.36 0 1 0 2.9 0.0a1.45 0.36 0 1 0 -2.9 -0.0M624.3 246.1a1.45 0.13 0 1 0 2.9 0.0a1.45 0.13 0 1 0 -2.9 -0.0M657.7 247.5a1.45 0.12 -84 1 0 0.3 -2.9a1.45 0.12 -84 1 0 -0.3 2.9M662.2 247.5a1.45 0.28 -85 1 0 0.3 -2.9a1.45 0.28 -85 1 0 -0.3 2.9M666.8 247.5a1.45 0.48 -85 1 0 0.2 -2.9a1.45 0.48 -85 1 0 -0.2 2.9M556.8 249.2a1.45 0.47 81 1 0 0.5 2.9a1.45 0.47 81 1 0 -0.5 -2.9M561.4 249.2a1.45 0.31 80 1 0 0.5 2.9a1.45 0.31 80 1 0 -0.5 -2.9M565.9 249.2a1.45 0.12 79 1 0 0.6 2.8a1.45 0.12 79 1 0 -0.6 -2.8M596.8 250.7a1.45 0.12 0 1 0 2.9 0.0a1.45 0.12 0 1 0 -2.9 -0.0M601.4 250.7a1.45 0.21 0 1 0 2.9 0.0a1.45 0.21 0 1 0 -2.9 -0.0M606.0 250.7a1.45 0.36 0 1 0 2.9 0.0a1.45 0.36 0 1 0 -2.9 -0.0M610.5 250.7a1.45 0.40 0 1 0 2.9 0.0a1.45 0.40 0 1 0 -2.9 -0.0M615.1 250.7a1.45 0.36 0 1 0 2.9 0.0a1.45 0.36 0 1 0 -2.9 -0.0M619.7 250.7a1.45 0.21 0 1 0 2.9 0.0a1.45 0.21 0 1 0 -2.9 -0.0M624.3 250.7a1.45 0.12 0 1 0 2.9 0.0a1.45 0.12 0 1 0 -2.9 -0.0M657.5 252.1a1.45 0.12 -79 1 0 0.6 -2.8a1.45 0.12 -79 1 0 -0.6 2.8M662.1 252.1a1.45 0.31 -80 1 0 0.5 -2.9a1.45 0.31 -80 1 0 -0.5 2.9M666.7 252.1a1.45 0.47 -81 1 0 0.5 -2.9a1.45 0.47 -81 1 0 -0.5 2.9M556.7 253.8a1.45 0.44 76 1 0 0.7 2.8a1.45 0.44 76 1 0 -0.7 -2.8M561.2 253.8a1.45 0.35 75 1 0 0.8 2.8a1.45 0.35 75 1 0 -0.8 -2.8M565.8 253.9a1.45 0.17 73 1 0 0.8 2.8a1.45 0.17 73 1 0 -0.8 -2.8M601.4 255.2a1.45 0.12 0 1 0 2.9 0.0a1.45 0.12 0 1 0 -2.9 -0.0M606.0 255.2a1.45 0.13 0 1 0 2.9 0.0a1.45 0.13 0 1 0 -2.9 -0.0M610.5 255.2a1.45 0.17 0 1 0 2.9 0.0a1.45 0.17 0 1 0 -2.9 -0.0M615.1 255.2a1.45 0.13 0 1 0 2.9 0.0a1.45 0.13 0 1 0 -2.9 -0.0M619.7 255.2a1.45 0.12 0 1 0 2.9 0.0a1.45 0.12 0 1 0 -2.9 -0.0M657.4 256.6a1.45 0.17 -73 1 0 0.8 -2.8a1.45 0.17 -73 1 0 -0.8 2.8M662.0 256.6a1.45 0.35 -75 1 0 0.8 -2.8a1.45 0.35 -75 1 0 -0.8 2.8M666.6 256.6a1.45 0.44 -76 1 0 0.7 -2.8a1.45 0.44 -76 1 0 -0.7 2.8M556.6 258.4a1.45 0.41 72 1 0 0.9 2.8a1.45 0.41 72 1 0 -0.9 -2.8M561.1 258.5a1.45 0.41 70 1 0 1.0 2.7a1.45 0.41 70 1 0 -1.0 -2.7M565.7 258.5a1.45 0.23 68 1 0 1.1 2.7a1.45 0.23 68 1 0 -1.1 -2.7M657.3 261.2a1.45 0.23 -68 1 0 1.1 -2.7a1.45 0.23 -68 1 0 -1.1 2.7M661.9 261.2a1.45 0.41 -70 1 0 1.0 -2.7a1.45 0.41 -70 1 0 -1.0 2.7M666.5 261.2a1.45 0.41 -72 1 0 0.9 -2.8a1.45 0.41 -72 1 0 -0.9 2.8M556.5 263.1a1.45 0.38 67 1 0 1.1 2.7a1.45 0.38 67 1 0 -1.1 -2.7M561.0 263.1a1.45 0.48 66 1 0 1.2 2.6a1.45 0.48 66 1 0 -1.2 -2.6M565.6 263.1a1.45 0.31 63 1 0 1.3 2.6a1.45 0.31 63 1 0 -1.3 -2.6M570.1 263.1a1.45 0.15 61 1 0 1.4 2.5a1.45 0.15 61 1 0 -1.4 -2.5M652.5 265.7a1.45 0.15 -61 1 0 1.4 -2.5a1.45 0.15 -61 1 0 -1.4 2.5M657.2 265.7a1.45 0.31 -63 1 0 1.3 -2.6a1.45 0.31 -63 1 0 -1.3 2.6M661.8 265.7a1.45 0.48 -66 1 0 1.2 -2.6a1.45 0.48 -66 1 0 -1.2 2.6M666.4 265.7a1.45 0.38 -67 1 0 1.1 -2.7a1.45 0.38 -67 1 0 -1.1 2.7M556.4 267.7a1.45 0.33 63 1 0 1.3 2.6a1.45 0.33 63 1 0 -1.3 -2.6M560.9 267.7a1.45 0.42 61 1 0 1.4 2.5a1.45 0.42 61 1 0 -1.4 -2.5M565.5 267.7a1.45 0.40 59 1 0 1.5 2.5a1.45 0.40 59 1 0 -1.5 -2.5M570.0 267.8a1.45 0.24 56 1 0 1.6 2.4a1.45 0.24 56 1 0 -1.6 -2.4M574.5 267.8a1.45 0.12 53 1 0 1.7 2.3a1.45 0.12 53 1 0 -1.7 -2.3M647.8 270.1a1.45 0.12 -53 1 0 1.7 -2.3a1.45 0.12 -53 1 0 -1.7 2.3M652.4 270.2a1.45 0.24 -56 1 0 1.6 -2.4a1.45 0.24 -56 1 0 -1.6 2.4M657.1 270.2a1.45 0.40 -59 1 0 1.5 -2.5a1.45 0.40 -59 1 0 -1.5 2.5M661.7 270.3a1.45 0.42 -61 1 0 1.4 -2.5a1.45 0.42 -61 1 0 -1.4 2.5M666.3 270.3a1.45 0.33 -63 1 0 1.3 -2.6a1.45 0.33 -63 1 0 -1.3 2.6M556.3 272.3a1.45 0.25 60 1 0 1.5 2.5a1.45 0.25 60 1 0 -1.5 -2.5M560.8 272.3a1.45 0.37 58 1 0 1.6 2.4a1.45 0.37 58 1 0 -1.6 -2.4M565.4 272.4a1.45 0.46 55 1 0 1.7 2.4a1.45 0.46 55 1 0 -1.7 -2.4M569.9 272.4a1.45 0.35 52 1 0 1.8 2.3a1.45 0.35 52 1 0 -1.8 -2.3M574.4 272.5a1.45 0.21 49 1 0 1.9 2.2a1.45 0.21 49 1 0 -1.9 -2.2M647.7 274.7a1.45 0.21 -49 1 0 1.9 -2.2a1.45 0.21 -49 1 0 -1.9 2.2M652.3 274.7a1.45 0.35 -52 1 0 1.8 -2.3a1.45 0.35 -52 1 0 -1.8 2.3M657.0 274.7a1.45 0.46 -55 1 0 1.7 -2.4a1.45 0.46 -55 1 0 -1.7 2.4M661.6 274.8a1.45 0.37 -58 1 0 1.6 -2.4a1.45 0.37 -58 1 0 -1.6 2.4M666.2 274.8a1.45 0.25 -60 1 0 1.5 -2.5a1.45 0.25 -60 1 0 -1.5 2.5M556.2 276.9a1.45 0.12 56 1 0 1.6 2.4a1.45 0.12 56 1 0 -1.6 -2.4M560.8 277.0a1.45 0.31 54 1 0 1.7 2.3a1.45 0.31 54 1 0 -1.7 -2.3M565.3 277.0a1.45 0.40 51 1 0 1.8 2.3a1.45 0.40 51 1 0 -1.8 -2.3M569.8 277.1a1.45 0.48 48 1 0 1.9 2.2a1.45 0.48 48 1 0 -1.9 -2.2M574.3 277.1a1.45 0.33 45 1 0 2.1 2.1a1.45 0.33 45 1 0 -2.1 -2.1M578.8 277.2a1.45 0.21 41 1 0 2.2 1.9a1.45 0.21 41 1 0 -2.2 -1.9M583.4 277.3a1.45 0.12 37 1 0 2.3 1.7a1.45 0.12 37 1 0 -2.3 -1.7M638.3 279.0a1.45 0.12 -37 1 0 2.3 -1.7a1.45 0.12 -37 1 0 -2.3 1.7M643.0 279.1a1.45 0.21 -41 1 0 2.2 -1.9a1.45 0.21 -41 1 0 -2.2 1.9M647.6 279.2a1.45 0.33 -45 1 0 2.1 -2.1a1.45 0.33 -45 1 0 -2.1 2.1M652.3 279.2a1.45 0.48 -48 1 0 1.9 -2.2a1.45 0.48 -48 1 0 -1.9 2.2M656.9 279.3a1.45 0.40 -51 1 0 1.8 -2.3a1.45 0.40 -51 1 0 -1.8 2.3M661.5 279.3a1.45 0.31 -54 1 0 1.7 -2.3a1.45 0.31 -54 1 0 -1.7 2.3M666.2 279.3a1.45 0.12 -56 1 0 1.6 -2.4a1.45 0.12 -56 1 0 -1.6 2.4M560.7 281.6a1.45 0.16 51 1 0 1.8 2.2a1.45 0.16 51 1 0 -1.8 -2.2M565.2 281.6a1.45 0.33 48 1 0 1.9 2.2a1.45 0.33 48 1 0 -1.9 -2.2M569.8 281.7a1.45 0.40 45 1 0 2.1 2.1a1.45 0.40 45 1 0 -2.1 -2.1M574.3 281.8a1.45 0.48 42 1 0 2.2 1.9a1.45 0.48 42 1 0 -2.2 -1.9M578.8 281.8a1.45 0.35 38 1 0 2.3 1.8a1.45 0.35 38 1 0 -2.3 -1.8M583.3 281.9a1.45 0.24 34 1 0 2.4 1.6a1.45 0.24 34 1 0 -2.4 -1.6M587.8 282.0a1.45 0.15 29 1 0 2.5 1.4a1.45 0.15 29 1 0 -2.5 -1.4M633.6 283.4a1.45 0.15 -29 1 0 2.5 -1.4a1.45 0.15 -29 1 0 -2.5 1.4M638.3 283.5a1.45 0.24 -34 1 0 2.4 -1.6a1.45 0.24 -34 1 0 -2.4 1.6M642.9 283.6a1.45 0.35 -38 1 0 2.3 -1.8a1.45 0.35 -38 1 0 -2.3 1.8M647.6 283.7a1.45 0.48 -42 1 0 2.2 -1.9a1.45 0.48 -42 1 0 -2.2 1.9M652.2 283.7a1.45 0.40 -45 1 0 2.1 -2.1a1.45 0.40 -45 1 0 -2.1 2.1M656.8 283.8a1.45 0.33 -48 1 0 1.9 -2.2a1.45 0.33 -48 1 0 -1.9 2.2M661.5 283.8a1.45 0.16 -51 1 0 1.8 -2.2a1.45 0.16 -51 1 0 -1.8 2.2M565.2 286.3a1.45 0.18 45 1 0 2.1 2.1a1.45 0.18 45 1 0 -2.1 -2.1M569.7 286.3a1.45 0.33 42 1 0 2.2 1.9a1.45 0.33 42 1 0 -2.2 -1.9M574.2 286.4a1.45 0.40 39 1 0 2.3 1.8a1.45 0.40 39 1 0 -2.3 -1.8M578.8 286.5a1.45 0.46 35 1 0 2.4 1.7a1.45 0.46 35 1 0 -2.4 -1.7M583.3 286.6a1.45 0.40 31 1 0 2.5 1.5a1.45 0.40 31 1 0 -2.5 -1.5M587.8 286.7a1.45 0.31 27 1 0 2.6 1.3a1.45 0.31 27 1 0 -2.6 -1.3M592.3 286.8a1.45 0.23 22 1 0 2.7 1.1a1.45 0.23 22 1 0 -2.7 -1.1M596.9 286.9a1.45 0.17 17 1 0 2.8 0.8a1.45 0.17 17 1 0 -2.8 -0.8M601.4 287.0a1.45 0.12 11 1 0 2.8 0.6a1.45 0.12 11 1 0 -2.8 -0.6M606.0 287.2a1.45 0.12 6 1 0 2.9 0.3a1.45 0.12 6 1 0 -2.9 -0.3M610.5 287.3a1.45 0.12 -0 1 0 2.9 -0.0a1.45 0.12 -0 1 0 -2.9 0.0M615.1 287.4a1.45 0.12 -6 1 0 2.9 -0.3a1.45 0.12 -6 1 0 -2.9 0.3M619.7 287.6a1.45 0.12 -11 1 0 2.8 -0.6a1.45 0.12 -11 1 0 -2.8 0.6M624.4 287.7a1.45 0.17 -17 1 0 2.8 -0.8a1.45 0.17 -17 1 0 -2.8 0.8M629.0 287.8a1.45 0.23 -22 1 0 2.7 -1.1a1.45 0.23 -22 1 0 -2.7 1.1M633.6 287.9a1.45 0.31 -27 1 0 2.6 -1.3a1.45 0.31 -27 1 0 -2.6 1.3M638.2 288.0a1.45 0.40 -31 1 0 2.5 -1.5a1.45 0.40 -31 1 0 -2.5 1.5M642.9 288.1a1.45 0.46 -35 1 0 2.4 -1.7a1.45 0.46 -35 1 0 -2.4 1.7M647.5 288.2a1.45 0.40 -39 1 0 2.3 -1.8a1.45 0.40 -39 1 0 -2.3 1.8M652.1 288.3a1.45 0.33 -42 1 0 2.2 -1.9a1.45 0.33 -42 1 0 -2.2 1.9M656.8 288.3a1.45 0.18 -45 1 0 2.1 -2.1a1.45 0.18 -45 1 0 -2.1 2.1M569.7 291.0a1.45 0.16 39 1 0 2.2 1.8a1.45 0.16 39 1 0 -2.2 -1.8M574.2 291.0a1.45 0.31 36 1 0 2.3 1.7a1.45 0.31 36 1 0 -2.3 -1.7M578.7 291.1a1.45 0.37 32 1 0 2.4 1.6a1.45 0.37 32 1 0 -2.4 -1.6M583.2 291.2a1.45 0.42 29 1 0 2.5 1.4a1.45 0.42 29 1 0 -2.5 -1.4M587.8 291.3a1.45 0.48 24 1 0 2.6 1.2a1.45 0.48 24 1 0 -2.6 -1.2M592.3 291.4a1.45 0.41 20 1 0 2.7 1.0a1.45 0.41 20 1 0 -2.7 -1.0M596.9 291.5a1.45 0.35 15 1 0 2.8 0.8a1.45 0.35 15 1 0 -2.8 -0.8M601.4 291.6a1.45 0.31 10 1 0 2.9 0.5a1.45 0.31 10 1 0 -2.9 -0.5M606.0 291.7a1.45 0.28 5 1 0 2.9 0.3a1.45 0.28 5 1 0 -2.9 -0.3M610.5 291.9a1.45 0.27 -0 1 0 2.9 -0.0a1.45 0.27 -0 1 0 -2.9 0.0M615.1 292.0a1.45 0.28 -5 1 0 2.9 -0.3a1.45 0.28 -5 1 0 -2.9 0.3M619.7 292.1a1.45 0.31 -10 1 0 2.9 -0.5a1.45 0.31 -10 1 0 -2.9 0.5M624.3 292.3a1.45 0.35 -15 1 0 2.8 -0.8a1.45 0.35 -15 1 0 -2.8 0.8M629.0 292.4a1.45 0.41 -20 1 0 2.7 -1.0a1.45 0.41 -20 1 0 -2.7 1.0M633.6 292.5a1.45 0.48 -24 1 0 2.6 -1.2a1.45 0.48 -24 1 0 -2.6 1.2M638.2 292.6a1.45 0.42 -29 1 0 2.5 -1.4a1.45 0.42 -29 1 0 -2.5 1.4M642.8 292.7a1.45 0.37 -32 1 0 2.4 -1.6a1.45 0.37 -32 1 0 -2.4 1.6M647.5 292.7a1.45 0.31 -36 1 0 2.3 -1.7a1.45 0.31 -36 1 0 -2.3 1.7M652.1 292.8a1.45 0.16 -39 1 0 2.2 -1.8a1.45 0.16 -39 1 0 -2.2 1.8M574.2 295.7a1.45 0.12 34 1 0 2.4 1.6a1.45 0.12 34 1 0 -2.4 -1.6M578.7 295.7a1.45 0.25 30 1 0 2.5 1.5a1.45 0.25 30 1 0 -2.5 -1.5M583.2 295.8a1.45 0.33 27 1 0 2.6 1.3a1.45 0.33 27 1 0 -2.6 -1.3M587.8 295.9a1.45 0.38 23 1 0 2.7 1.1a1.45 0.38 23 1 0 -2.7 -1.1M592.3 296.0a1.45 0.41 18 1 0 2.8 0.9a1.45 0.41 18 1 0 -2.8 -0.9M596.9 296.1a1.45 0.44 14 1 0 2.8 0.7a1.45 0.44 14 1 0 -2.8 -0.7M601.4 296.2a1.45 0.47 9 1 0 2.9 0.5a1.45 0.47 9 1 0 -2.9 -0.5M606.0 296.3a1.45 0.48 5 1 0 2.9 0.2a1.45 0.48 5 1 0 -2.9 -0.2M610.5 296.5a1.45 0.48 -0 1 0 2.9 -0.0a1.45 0.48 -0 1 0 -2.9 0.0M615.1 296.6a1.45 0.48 -5 1 0 2.9 -0.2a1.45 0.48 -5 1 0 -2.9 0.2M619.7 296.7a1.45 0.47 -9 1 0 2.9 -0.5a1.45 0.47 -9 1 0 -2.9 0.5M624.3 296.8a1.45 0.44 -14 1 0 2.8 -0.7a1.45 0.44 -14 1 0 -2.8 0.7M628.9 296.9a1.45 0.41 -18 1 0 2.8 -0.9a1.45 0.41 -18 1 0 -2.8 0.9M633.6 297.0a1.45 0.38 -23 1 0 2.7 -1.1a1.45 0.38 -23 1 0 -2.7 1.1M638.2 297.1a1.45 0.33 -27 1 0 2.6 -1.3a1.45 0.33 -27 1 0 -2.6 1.3M642.8 297.2a1.45 0.25 -30 1 0 2.5 -1.5a1.45 0.25 -30 1 0 -2.5 1.5M647.4 297.3a1.45 0.12 -34 1 0 2.4 -1.6a1.45 0.12 -34 1 0 -2.4 1.6"/>
<path fill="#c44848" stroke="#c44848" stroke-width="0.25" d="M316.5 317.6l.3 -2.3 -.3 -1.5 -.3 1.5zM321.0 317.6l.4 -2.3 -.2 -1.5 -.4 1.5zM325.5 317.6l.5 -2.3 -.2 -1.6 -.4 1.5zM329.9 317.6l.7 -2.2 -.0 -1.6 -.6 1.5zM334.2 317.6l1.0 -2.1 .2 -1.6 -.7 1.4zM338.6 317.5l1.2 -2.0 .4 -1.6 -.9 1.3zM342.9 317.4l1.5 -1.9 .6 -1.5 -1.1 1.2zM347.2 317.2l1.8 -1.7 .8 -1.4 -1.3 1.0zM351.5 317.1l2.0 -1.4 1.0 -1.3 -1.4 .9zM355.9 316.9l2.2 -1.2 1.2 -1.2 -1.5 .7zM360.3 316.7l2.4 -.9 1.3 -1.0 -1.6 .5zM316.6 322.2l.2 -2.3 -.4 -1.5 -.2 1.5zM321.1 322.2l.3 -2.3 -.3 -1.5 -.3 1.5zM325.5 322.2l.5 -2.2 -.1 -1.5 -.4 1.5zM329.8 322.1l.8 -2.2 .0 -1.5 -.6 1.4zM334.1 322.1l1.1 -2.0 .3 -1.5 -.8 1.3zM338.4 321.9l1.4 -1.9 .5 -1.5 -1.0 1.2zM342.7 321.8l1.7 -1.6 .8 -1.4 -1.2 1.0zM347.0 321.6l2.0 -1.3 1.0 -1.3 -1.4 .8zM351.4 321.3l2.2 -1.0 1.2 -1.1 -1.5 .6zM355.8 321.1l2.4 -.7 1.4 -.9 -1.6 .4zM360.2 320.8l2.5 -.4 1.5 -.7 -1.7 .2zM364.7 320.6l2.5 -.1 1.6 -.6 -1.7 -.0zM316.7 326.7l.1 -2.3 -.4 -1.5 -.2 1.5zM321.1 326.7l.3 -2.3 -.3 -1.5 -.3 1.5zM325.4 326.7l.6 -2.2 -.1 -1.5 -.5 1.5zM329.7 326.7l.9 -2.1 .1 -1.5 -.7 1.4zM333.9 326.6l1.3 -1.9 .4 -1.5 -.9 1.2zM338.2 326.4l1.6 -1.7 .7 -1.4 -1.2 1.0zM342.5 326.1l1.9 -1.3 .9 -1.3 -1.3 .8zM346.8 325.9l2.2 -1.0 1.2 -1.1 -1.5 .6zM351.2 325.6l2.3 -.6 1.4 -.9 -1.6 .3zM355.7 325.3l2.4 -.2 1.5 -.6 -1.6 .1zM360.1 325.0l2.5 .1 1.6 -.4 -1.7 -.2zM364.7 324.7l2.5 .5 1.7 -.2 -1.6 -.4zM316.7 331.3l.1 -2.3 -.5 -1.5 -.1 1.6zM321.0 331.3l.4 -2.3 -.3 -1.6 -.3 1.5zM325.3 331.3l.7 -2.2 -.0 -1.6 -.6 1.5zM329.5 331.2l1.1 -2.1 .3 -1.6 -.8 1.3zM333.7 331.1l1.5 -1.8 .6 -1.5 -1.1 1.2zM338.0 330.8l1.9 -1.5 .9 -1.3 -1.3 .9zM342.3 330.5l2.1 -1.1 1.1 -1.1 -1.5 .6zM346.7 330.2l2.3 -.6 1.3 -.9 -1.6 .3zM351.1 329.8l2.4 -.2 1.5 -.6 -1.6 .0zM355.6 329.5l2.4 .2 1.6 -.3 -1.6 -.3zM360.3 329.2l2.2 .6 1.5 -.1 -1.4 -.5zM365.1 328.9l1.9 .8 1.4 .1 -1.3 -.7zM369.8 328.8l1.8 1.1 1.4 .2 -1.2 -.8zM374.3 328.6l1.7 1.3 1.4 .4 -1.1 -.9zM378.9 328.4l1.8 1.5 1.4 .5 -1.1 -1.1zM383.4 328.3l1.9 1.6 1.5 .7 -1.2 -1.2zM316.7 336.0l.1 -2.4 -.5 -1.5 -.1 1.6zM321.0 336.0l.4 -2.4 -.2 -1.6 -.4 1.6zM325.2 335.9l.9 -2.2 .1 -1.6 -.7 1.5zM329.3 335.8l1.3 -2.0 .4 -1.6 -1.0 1.3zM333.5 335.5l1.7 -1.7 .8 -1.4 -1.2 1.1zM337.8 335.2l2.1 -1.3 1.1 -1.2 -1.4 .8zM342.1 334.9l2.3 -.8 1.3 -1.0 -1.6 .4zM346.6 334.5l2.4 -.3 1.5 -.7 -1.6 .1zM351.5 334.1l1.9 .2 1.3 -.4 -1.3 -.2zM356.7 333.9l1.0 .4 .8 -.2 -.7 -.4zM361.4 333.7l.9 .6 .7 -.1 -.6 -.5zM366.0 333.6l.8 .7 .8 .0 -.5 -.6zM370.6 333.5l.7 .8 .7 .1 -.4 -.6zM375.2 333.4l.6 .9 .7 .2 -.3 -.7zM379.9 333.4l.5 .9 .7 .3 -.3 -.7zM384.3 333.2l.6 1.1 .8 .4 -.3 -.8zM388.5 332.7l1.1 1.7 1.1 .8 -.7 -1.2zM392.8 332.5l1.4 2.0 1.3 1.0 -.9 -1.4zM316.7 340.6l.1 -2.5 -.4 -1.6 -.2 1.6zM320.9 340.6l.5 -2.4 -.1 -1.6 -.5 1.6zM325.0 340.5l1.0 -2.2 .2 -1.6 -.8 1.5zM329.2 340.3l1.5 -2.0 .6 -1.6 -1.1 1.3zM333.4 340.0l1.9 -1.5 .9 -1.4 -1.3 1.0zM337.6 339.6l2.2 -1.1 1.2 -1.1 -1.5 .6zM342.2 339.2l2.2 -.5 1.3 -.8 -1.5 .2zM347.5 338.7l1.2 .1 .7 -.4 -.8 -.2zM352.2 338.5l1.0 .4 .7 -.3 -.7 -.3zM356.8 338.3l.9 .5 .7 -.1 -.6 -.5zM361.4 338.2l.8 .7 .8 -.0 -.5 -.5zM366.0 338.1l.7 .8 .7 .1 -.4 -.6zM370.7 338.0l.6 .9 .7 .2 -.3 -.7zM375.3 337.9l.5 1.0 .7 .3 -.2 -.7zM380.0 337.8l.4 1.0 .6 .4 -.2 -.7zM384.6 337.8l.3 1.0 .6 .4 -.1 -.7zM389.2 337.8l.2 1.1 .6 .5 -.1 -.7zM393.6 337.5l.4 1.4 .7 .7 -.2 -1.0zM397.8 336.9l.9 2.1 1.0 1.2 -.5 -1.5zM316.7 345.2l.1 -2.5 -.4 -1.6 -.2 1.7zM320.8 345.2l.6 -2.4 -.1 -1.7 -.5 1.6zM324.9 345.1l1.1 -2.2 .3 -1.7 -.9 1.4zM329.0 344.8l1.6 -1.9 .7 -1.5 -1.2 1.2zM333.2 344.5l2.0 -1.4 1.0 -1.3 -1.4 .9zM337.8 344.0l2.1 -.8 1.1 -1.0 -1.4 .4zM343.1 343.4l1.1 .0 .6 -.5 -.7 -.1zM347.6 343.2l1.1 .2 .7 -.3 -.7 -.2zM352.2 343.0l1.0 .4 .7 -.2 -.7 -.4zM356.8 342.9l.9 .6 .7 -.1 -.6 -.5zM361.4 342.7l.8 .7 .8 .0 -.5 -.6zM366.1 342.6l.7 .9 .7 .2 -.4 -.6zM370.7 342.5l.5 .9 .7 .3 -.3 -.7zM375.4 342.4l.4 1.0 .6 .4 -.2 -.7zM380.1 342.4l.2 1.1 .6 .5 -.1 -.8zM384.7 342.3l.1 1.1 .5 .5 .0 -.8zM389.4 342.3l.0 1.1 .5 .6 .1 -.7zM393.9 342.3l.0 1.1 .5 .6 .1 -.7zM398.5 342.3l.0 1.1 .5 .6 .1 -.8zM402.6 341.4l.6 2.2 .8 1.3 -.3 -1.5zM316.6 349.8l.1 -2.5 -.4 -1.6 -.2 1.7zM320.8 349.7l.7 -2.4 -.0 -1.7 -.5 1.6zM324.8 349.6l1.2 -2.2 .4 -1.6 -.9 1.4zM329.0 349.3l1.7 -1.8 .7 -1.5 -1.2 1.1zM333.3 348.9l2.0 -1.3 1.0 -1.2 -1.4 .8zM338.6 348.1l1.1 -.2 .5 -.6 -.8 .0zM343.1 347.9l1.1 .0 .6 -.5 -.7 -.1zM347.6 347.7l1.1 .2 .7 -.3 -.7 -.3zM352.2 347.6l1.0 .4 .7 -.2 -.7 -.4zM356.7 347.4l1.0 .6 .8 -.1 -.6 -.5zM361.2 347.2l1.1 .9 1.0 .1 -.7 -.7zM365.8 347.0l1.0 1.1 1.0 .3 -.6 -.8zM370.5 346.8l.8 1.3 .9 .5 -.5 -.9zM375.3 346.7l.5 1.4 .8 .7 -.3 -1.0zM380.1 346.7l.2 1.4 .6 .7 -.1 -.9zM384.8 346.8l-.0 1.1 .5 .6 .1 -.8zM389.5 346.8l-.2 1.1 .4 .6 .2 -.7zM394.1 346.8l-.2 1.1 .4 .7 .2 -.7zM398.7 346.8l-.2 1.1 .4 .7 .2 -.7zM403.1 346.5l-.1 1.5 .5 .9 .1 -1.0zM407.3 345.7l.4 2.4 .7 1.5 -.2 -1.6zM316.6 354.3l.1 -2.5 -.4 -1.6 -.2 1.7zM320.7 354.3l.7 -2.4 -.0 -1.7 -.6 1.6zM324.8 354.2l1.3 -2.2 .4 -1.6 -.9 1.4zM329.0 353.9l1.7 -1.7 .8 -1.5 -1.2 1.1zM333.6 353.2l1.6 -.9 .8 -1.0 -1.1 .5zM338.6 352.6l1.1 -.2 .5 -.6 -.8 .0zM343.1 352.5l1.1 .0 .6 -.5 -.7 -.1zM347.6 352.4l1.1 .2 .7 -.4 -.7 -.2zM352.0 352.2l1.2 .3 .8 -.3 -.8 -.3zM356.4 352.0l1.5 .6 1.1 -.1 -1.0 -.5zM360.5 351.7l1.9 1.0 1.5 .2 -1.3 -.8zM365.0 351.2l2.0 1.5 1.6 .6 -1.3 -1.1zM369.8 350.8l1.6 2.0 1.4 .9 -1.0 -1.4zM374.8 350.5l1.1 2.3 1.1 1.2 -.6 -1.6zM379.9 350.7l.4 2.0 .7 1.2 -.1 -1.4zM384.9 351.0l-.1 1.5 .4 1.0 .2 -1.0zM389.6 351.3l-.3 1.2 .3 .8 .3 -.8zM394.3 351.4l-.4 1.0 .2 .7 .4 -.7zM398.8 351.4l-.4 1.0 .2 .7 .4 -.7zM403.4 351.4l-.3 1.0 .3 .7 .3 -.7zM407.8 350.6l-.1 2.0 .4 1.3 .2 -1.4zM316.7 358.9l.1 -2.5 -.4 -1.6 -.2 1.7zM320.8 358.9l.7 -2.4 -.0 -1.7 -.5 1.6zM324.8 358.7l1.2 -2.2 .4 -1.6 -.9 1.4zM329.0 358.4l1.7 -1.7 .7 -1.4 -1.2 1.1zM334.1 357.4l1.0 -.4 .3 -.7 -.7 .2zM338.6 357.2l1.1 -.2 .5 -.6 -.7 .1zM343.1 357.1l1.1 -.1 .5 -.5 -.8 -.0zM347.5 357.0l1.2 .0 .7 -.5 -.8 -.1zM351.8 357.0l1.6 .1 1.0 -.4 -1.1 -.2zM355.6 356.8l2.5 .3 1.6 -.3 -1.6 -.3zM385.0 354.8l-.2 2.4 .3 1.6 .3 -1.6zM389.8 355.6l-.5 1.5 .1 1.0 .4 -1.0zM394.4 355.9l-.6 1.0 .1 .8 .5 -.6zM399.0 356.0l-.6 .9 .1 .7 .5 -.6zM403.5 356.0l-.5 .9 .1 .7 .4 -.6zM408.0 355.8l-.4 1.2 .2 .8 .4 -.8zM412.4 354.8l-.2 2.5 .4 1.6 .2 -1.6zM316.8 363.5l-.0 -2.5 -.5 -1.6 -.1 1.7zM320.8 363.5l.6 -2.4 -.1 -1.7 -.5 1.6zM324.9 363.3l1.2 -2.2 .3 -1.6 -.9 1.4zM329.2 362.9l1.4 -1.6 .5 -1.3 -1.0 1.0zM334.2 362.0l1.0 -.5 .3 -.7 -.7 .3zM338.6 361.9l1.0 -.3 .4 -.6 -.7 .1zM343.1 361.8l1.1 -.2 .5 -.6 -.8 .0zM347.4 361.8l1.4 -.2 .8 -.6 -1.0 .1zM351.3 362.0l2.3 -.4 1.4 -.7 -1.5 .2zM390.1 359.8l-.9 1.9 -.1 1.4 .7 -1.2zM394.6 360.4l-.8 1.1 -.1 .9 .6 -.7zM399.1 360.6l-.7 .8 -.0 .8 .6 -.5zM403.7 360.6l-.7 .8 .0 .8 .5 -.5zM408.1 360.6l-.6 .9 .1 .7 .5 -.6zM412.7 359.5l-.5 2.2 .1 1.5 .5 -1.5zM316.9 368.0l-.1 -2.5 -.6 -1.6 -.0 1.7zM320.9 368.0l.4 -2.5 -.2 -1.7 -.4 1.6zM325.0 367.9l1.0 -2.3 .2 -1.7 -.8 1.5zM329.4 367.4l1.2 -1.5 .4 -1.3 -.9 1.0zM334.2 366.6l.9 -.6 .2 -.7 -.7 .3zM338.7 366.5l1.0 -.4 .3 -.7 -.7 .2zM343.2 366.5l1.0 -.3 .4 -.6 -.7 .1zM347.4 366.6l1.5 -.6 .7 -.8 -1.0 .3zM351.3 367.1l2.3 -1.1 1.3 -1.1 -1.6 .6zM390.6 364.1l-1.4 2.1 -.5 1.6 1.0 -1.3zM394.9 364.9l-1.1 1.1 -.3 1.0 .8 -.7zM399.2 365.3l-.8 .7 -.1 .7 .6 -.4zM403.8 365.2l-.8 .7 -.1 .7 .6 -.4zM408.3 365.2l-.7 .8 -.0 .8 .6 -.5zM412.9 364.3l-.8 2.0 -.1 1.4 .6 -1.3zM317.0 372.6l-.3 -2.5 -.7 -1.6 .1 1.7zM321.1 372.6l.3 -2.5 -.3 -1.7 -.3 1.7zM325.2 372.6l.8 -2.4 .1 -1.7 -.6 1.6zM329.6 371.9l1.0 -1.5 .2 -1.2 -.8 1.0zM334.3 371.2l.8 -.7 .1 -.7 -.6 .4zM338.8 371.2l.9 -.6 .2 -.7 -.7 .3zM343.3 371.2l1.0 -.5 .3 -.7 -.7 .3zM347.5 371.4l1.4 -.9 .6 -.9 -1.0 .5zM391.0 369.0l-1.9 1.7 -.9 1.5 1.3 -1.1zM395.1 369.6l-1.3 .9 -.5 .9 .9 -.5zM399.4 369.9l-.9 .5 -.3 .7 .7 -.3zM403.9 369.9l-.9 .6 -.2 .7 .7 -.3zM408.4 369.8l-.8 .7 -.1 .7 .6 -.4zM413.1 369.0l-1.0 1.8 -.2 1.4 .8 -1.1zM317.2 377.1l-.6 -2.5 -.8 -1.5 .3 1.7zM321.3 377.2l.0 -2.5 -.5 -1.6 -.1 1.7zM325.4 377.2l.6 -2.5 -.1 -1.7 -.5 1.6zM329.7 376.6l.9 -1.7 .1 -1.3 -.7 1.1zM334.4 375.9l.7 -.8 .0 -.8 -.6 .5zM338.9 375.8l.8 -.7 .1 -.7 -.6 .4zM343.4 375.8l.9 -.7 .2 -.7 -.7 .4zM347.7 376.2l1.1 -1.1 .4 -1.0 -.8 .7zM391.3 373.9l-2.2 1.2 -1.2 1.2 1.5 -.7zM395.2 374.4l-1.4 .6 -.7 .8 1.0 -.3zM399.5 374.6l-1.0 .4 -.4 .7 .7 -.2zM404.0 374.5l-1.0 .5 -.3 .7 .7 -.2zM408.4 374.4l-.9 .6 -.2 .7 .7 -.4zM413.3 373.6l-1.2 1.7 -.4 1.4 .9 -1.1zM425.7 373.1l.3 2.5 .7 1.6 -.1 -1.7zM317.4 381.6l-.8 -2.4 -1.0 -1.4 .5 1.6zM329.9 381.4l.6 -2.0 -.1 -1.4 -.5 1.3zM334.5 380.5l.6 -.9 -.1 -.7 -.5 .6zM339.0 380.5l.7 -.8 .0 -.8 -.6 .5zM343.5 380.4l.7 -.8 .0 -.8 -.6 .5zM348.0 380.8l.9 -1.2 .1 -1.0 -.7 .8zM352.4 381.6l1.0 -2.2 .2 -1.6 -.8 1.4zM391.3 379.0l-2.2 .5 -1.3 .8 1.5 -.2zM395.2 379.2l-1.4 .3 -.7 .6 1.0 -.1zM399.5 379.3l-1.1 .2 -.5 .6 .7 -.1zM404.0 379.2l-1.0 .4 -.4 .6 .7 -.2zM408.5 379.1l-.9 .5 -.3 .7 .7 -.3zM413.4 378.1l-1.4 1.7 -.5 1.4 1.0 -1.1zM417.7 377.7l-1.1 2.3 -.2 1.7 .8 -1.5zM421.8 377.6l-.5 2.5 .2 1.7 .4 -1.6zM425.8 377.6l.1 2.5 .6 1.6 .0 -1.7zM330.2 386.2l.3 -2.3 -.3 -1.5 -.3 1.5zM334.6 385.1l.5 -1.0 -.2 -.7 -.4 .6zM339.1 385.1l.6 -.9 -.1 -.7 -.5 .6zM343.7 385.1l.6 -.9 -.1 -.7 -.5 .6zM348.2 385.2l.6 -1.1 -.1 -.9 -.5 .7zM352.9 385.6l.5 -1.5 -.1 -1.1 -.5 1.0zM357.7 386.3l.2 -2.5 -.4 -1.7 -.2 1.7zM387.1 384.1l-2.5 -.1 -1.6 .4 1.7 .2zM390.9 384.0l-1.6 -.1 -1.0 .5 1.1 .1zM395.1 384.0l-1.2 .0 -.7 .5 .8 .1zM399.6 383.9l-1.1 .1 -.5 .5 .8 .0zM404.1 383.8l-1.0 .3 -.4 .6 .7 -.1zM408.5 383.7l-1.0 .5 -.3 .7 .7 -.2zM413.6 382.6l-1.6 1.8 -.7 1.5 1.2 -1.2zM417.8 382.3l-1.1 2.2 -.3 1.7 .9 -1.4zM421.8 382.2l-.6 2.4 .1 1.7 .5 -1.6zM425.9 382.2l.0 2.5 .5 1.6 .1 -1.7zM334.8 390.2l.3 -1.7 -.3 -1.1 -.3 1.1zM339.3 389.7l.4 -1.0 -.2 -.7 -.4 .7zM343.8 389.7l.4 -1.0 -.2 -.7 -.4 .6zM348.4 389.7l.4 -1.0 -.2 -.7 -.4 .7zM353.0 389.9l.3 -1.3 -.3 -.9 -.3 .9zM357.8 390.1l.1 -1.6 -.4 -1.0 -.2 1.1zM362.9 390.7l-.5 -2.4 -.8 -1.4 .3 1.6zM382.3 389.4l-2.2 -.9 -1.6 -.1 1.4 .7zM386.4 389.0l-1.5 -.5 -1.1 .2 1.0 .4zM390.7 388.8l-1.3 -.3 -.8 .3 .9 .3zM395.0 388.7l-1.1 -.1 -.6 .4 .7 .2zM399.6 388.6l-1.1 .0 -.6 .5 .7 .1zM404.1 388.4l-1.1 .2 -.5 .6 .7 -.1zM409.1 387.8l-1.6 1.0 -.8 1.0 1.1 -.6zM413.6 387.2l-1.6 1.8 -.7 1.5 1.2 -1.1zM417.8 386.9l-1.2 2.1 -.3 1.6 .9 -1.4zM421.9 386.8l-.6 2.4 .1 1.6 .5 -1.6zM426.0 386.8l-.0 2.4 .5 1.6 .1 -1.6zM335.2 395.2l-.2 -2.3 -.6 -1.4 .0 1.5zM339.4 394.2l.2 -1.1 -.4 -.7 -.2 .7zM344.0 394.3l.2 -1.1 -.3 -.7 -.3 .7zM348.5 394.3l.2 -1.1 -.3 -.7 -.3 .7zM353.2 394.2l.2 -1.1 -.4 -.6 -.2 .7zM357.9 394.4l.0 -1.3 -.5 -.7 -.1 .9zM362.7 394.5l-.3 -1.5 -.7 -.8 .1 1.0zM367.5 394.5l-.6 -1.5 -.8 -.7 .3 1.0zM372.3 394.3l-.9 -1.3 -1.0 -.5 .5 1.0zM377.0 394.1l-1.1 -1.1 -1.0 -.3 .7 .8zM381.6 393.9l-1.2 -.8 -1.0 -.1 .8 .6zM386.0 393.6l-1.1 -.6 -.8 .1 .7 .5zM390.5 393.5l-1.0 -.4 -.7 .2 .7 .4zM395.0 393.3l-1.1 -.2 -.7 .4 .7 .2zM399.6 393.2l-1.1 -.0 -.6 .5 .7 .1zM404.1 393.0l-1.1 .2 -.5 .6 .8 -.1zM409.4 392.1l-2.0 1.3 -1.0 1.3 1.4 -.8zM413.6 391.8l-1.6 1.8 -.6 1.5 1.1 -1.1zM417.7 391.6l-1.1 2.1 -.3 1.6 .8 -1.4zM421.8 391.4l-.6 2.3 .1 1.6 .5 -1.5zM426.0 391.4l-.1 2.4 .5 1.5 .1 -1.6zM339.9 399.6l-.4 -2.0 -.7 -1.2 .2 1.4zM344.1 398.8l.0 -1.1 -.5 -.6 -.1 .7zM348.7 398.8l.0 -1.1 -.5 -.6 -.1 .7zM353.3 398.8l.0 -1.1 -.5 -.6 -.1 .7zM357.9 398.8l-.1 -1.1 -.5 -.5 -.0 .8zM362.6 398.7l-.2 -1.1 -.6 -.5 .1 .8zM367.3 398.7l-.4 -1.0 -.7 -.4 .2 .8zM372.0 398.6l-.6 -1.0 -.7 -.3 .3 .7zM376.6 398.5l-.7 -.8 -.7 -.2 .4 .6zM381.3 398.3l-.8 -.7 -.8 -.0 .5 .6zM385.9 398.2l-.9 -.6 -.7 .1 .6 .5zM390.5 398.0l-1.0 -.4 -.7 .2 .7 .4zM395.0 397.9l-1.1 -.2 -.7 .4 .7 .2zM399.6 397.7l-1.1 .0 -.6 .5 .7 .1zM404.9 397.1l-2.0 .8 -1.1 1.0 1.4 -.5zM409.3 396.7l-1.9 1.3 -.9 1.3 1.3 -.8zM413.5 396.3l-1.5 1.8 -.6 1.5 1.1 -1.1zM417.7 396.1l-1.0 2.1 -.2 1.6 .8 -1.4zM421.8 396.0l-.5 2.3 .1 1.6 .5 -1.5zM426.0 396.0l-.1 2.4 .5 1.5 .1 -1.6zM344.7 404.0l-.7 -2.0 -.9 -1.1 .4 1.3zM348.9 403.3l-.2 -1.1 -.6 -.5 .0 .8zM353.4 403.3l-.2 -1.1 -.6 -.5 .0 .8zM358.1 403.3l-.2 -1.0 -.6 -.5 .1 .7zM362.7 403.2l-.3 -1.0 -.6 -.4 .1 .7zM367.3 403.2l-.5 -1.0 -.7 -.3 .2 .7zM372.0 403.1l-.6 -.9 -.7 -.2 .3 .7zM376.6 403.0l-.7 -.8 -.7 -.1 .4 .6zM381.3 402.9l-.8 -.7 -.8 .0 .5 .5zM385.9 402.7l-.9 -.5 -.7 .1 .6 .4zM390.5 402.6l-1.0 -.3 -.7 .3 .7 .3zM395.0 402.4l-1.1 -.1 -.6 .4 .7 .2zM400.4 401.9l-2.1 .5 -1.2 .8 1.4 -.2zM404.9 401.5l-2.1 1.0 -1.1 1.1 1.4 -.6zM409.2 401.1l-1.8 1.5 -.8 1.3 1.3 -.9zM413.4 400.9l-1.4 1.9 -.5 1.5 1.0 -1.2zM417.6 400.7l-.9 2.2 -.1 1.6 .7 -1.4zM421.8 400.6l-.5 2.3 .2 1.6 .4 -1.5zM426.0 400.6l-.0 2.4 .5 1.6 .1 -1.6zM349.7 408.6l-1.2 -1.9 -1.2 -1.0 .7 1.4zM353.9 408.2l-.8 -1.5 -.9 -.7 .4 1.0zM358.2 407.8l-.4 -1.0 -.7 -.3 .2 .7zM362.8 407.7l-.5 -1.0 -.7 -.3 .3 .7zM367.4 407.7l-.6 -.9 -.7 -.2 .3 .7zM372.1 407.6l-.7 -.8 -.7 -.1 .4 .6zM376.7 407.5l-.8 -.7 -.8 -.0 .5 .6zM381.3 407.4l-.9 -.6 -.7 .1 .6 .5zM385.9 407.2l-1.0 -.4 -.7 .2 .6 .4zM391.1 407.0l-1.8 -.2 -1.2 .4 1.2 .2zM396.1 406.6l-2.3 .3 -1.4 .7 1.6 -.1zM400.5 406.2l-2.3 .8 -1.3 1.0 1.5 -.4zM404.9 405.9l-2.0 1.3 -1.0 1.2 1.4 -.8zM409.1 405.6l-1.7 1.7 -.7 1.4 1.2 -1.1zM413.3 405.3l-1.3 2.0 -.4 1.6 .9 -1.3zM417.5 405.2l-.8 2.2 -.1 1.6 .6 -1.5zM421.7 405.1l-.4 2.4 .2 1.6 .4 -1.6zM425.9 405.1l-.0 2.4 .5 1.6 .1 -1.6zM359.2 412.8l-1.7 -1.6 -1.4 -.7 1.1 1.2zM363.6 412.6l-1.5 -1.4 -1.3 -.5 1.0 1.0zM368.1 412.4l-1.5 -1.2 -1.2 -.3 .9 .9zM372.7 412.3l-1.5 -1.0 -1.2 -.2 1.0 .8zM377.4 412.1l-1.7 -.8 -1.3 -.1 1.1 .6zM382.2 411.9l-2.0 -.6 -1.4 .1 1.3 .5zM387.0 411.6l-2.4 -.3 -1.6 .3 1.6 .3zM391.6 411.3l-2.5 .2 -1.5 .6 1.7 -.0zM396.1 410.9l-2.4 .7 -1.4 .9 1.6 -.3zM400.4 410.5l-2.2 1.1 -1.2 1.2 1.5 -.7zM404.7 410.2l-1.9 1.5 -.9 1.4 1.3 -1.0zM409.0 410.0l-1.5 1.9 -.6 1.5 1.1 -1.2zM413.2 409.8l-1.1 2.2 -.3 1.6 .8 -1.4zM417.4 409.7l-.7 2.3 .0 1.6 .6 -1.5zM421.6 409.6l-.3 2.4 .3 1.6 .3 -1.6zM425.9 409.6l-.0 2.5 .5 1.6 .1 -1.7zM378.0 416.4l-2.5 -.5 -1.7 .2 1.6 .4zM382.6 416.1l-2.5 -.2 -1.7 .4 1.7 .2zM387.1 415.8l-2.5 .2 -1.6 .6 1.7 -.0zM391.6 415.5l-2.4 .6 -1.4 .9 1.7 -.3zM396.0 415.2l-2.3 1.0 -1.3 1.1 1.6 -.6zM400.3 414.9l-2.0 1.4 -1.0 1.3 1.4 -.9zM404.6 414.6l-1.7 1.8 -.7 1.5 1.2 -1.1zM408.8 414.4l-1.3 2.1 -.4 1.6 1.0 -1.3zM413.0 414.3l-1.0 2.3 -.2 1.7 .7 -1.5zM417.3 414.2l-.6 2.4 .1 1.7 .5 -1.6zM421.6 414.2l-.3 2.5 .3 1.6 .3 -1.6zM426.0 414.2l-.0 2.5 .5 1.6 .1 -1.7zM368.9 420.9l-2.5 -.4 -1.7 .2 1.7 .4zM373.4 420.8l-2.5 -.2 -1.7 .3 1.7 .3zM378.0 420.5l-2.5 .0 -1.6 .5 1.7 .1zM382.5 420.3l-2.5 .3 -1.5 .7 1.7 -.1zM387.0 420.0l-2.4 .7 -1.4 .9 1.7 -.4zM391.4 419.7l-2.3 1.1 -1.3 1.1 1.6 -.6zM395.8 419.5l-2.1 1.4 -1.1 1.3 1.5 -.9zM400.1 419.2l-1.8 1.7 -.8 1.5 1.3 -1.1zM404.4 419.0l-1.5 2.0 -.6 1.6 1.1 -1.3zM408.6 418.9l-1.1 2.2 -.3 1.6 .9 -1.4zM412.9 418.8l-.8 2.3 -.1 1.7 .6 -1.5zM417.2 418.8l-.5 2.4 .2 1.7 .4 -1.6zM421.6 418.8l-.3 2.5 .3 1.6 .3 -1.6zM426.0 418.8l-.1 2.5 .4 1.6 .2 -1.7zM364.3 425.1l-2.5 .0 -1.6 .5 1.7 .1zM368.8 425.0l-2.5 .2 -1.6 .6 1.7 -.0zM373.4 424.8l-2.5 .3 -1.5 .7 1.7 -.1zM377.9 424.7l-2.5 .6 -1.5 .9 1.7 -.3zM382.3 424.5l-2.4 .8 -1.4 1.0 1.6 -.5zM386.8 424.2l-2.2 1.1 -1.2 1.2 1.6 -.7zM391.2 424.0l-2.1 1.4 -1.0 1.3 1.4 -.9zM395.5 423.8l-1.8 1.7 -.8 1.5 1.3 -1.1zM399.9 423.6l-1.6 1.9 -.6 1.6 1.1 -1.2zM404.2 423.5l-1.3 2.1 -.4 1.6 .9 -1.4zM408.5 423.4l-1.0 2.3 -.2 1.7 .8 -1.5zM412.8 423.4l-.7 2.4 .0 1.7 .6 -1.6zM417.2 423.3l-.5 2.4 .2 1.7 .4 -1.6zM421.7 423.3l-.4 2.4 .3 1.6 .3 -1.6zM426.2 423.3l-.3 2.4 .3 1.6 .3 -1.6z"/>
<path fill="#4c4cdc" stroke="#4c4cdc" stroke-width="0.25" d="M364.8 316.5l2.5 -.7 1.5 -.9 -1.7 .3zM369.3 316.3l2.5 -.4 1.5 -.8 -1.7 .2zM373.9 316.1l2.5 -.2 1.6 -.6 -1.7 .1zM378.5 316.0l2.5 -.1 1.6 -.6 -1.7 -.0zM383.0 316.0l2.5 -.0 1.6 -.5 -1.7 -.1zM387.6 315.9l2.5 .0 1.6 -.5 -1.7 -.1zM392.1 315.9l2.5 .0 1.6 -.5 -1.7 -.1zM396.7 315.9l2.5 .0 1.6 -.5 -1.7 -.1zM401.3 315.9l2.5 .0 1.6 -.5 -1.7 -.1zM405.9 315.9l2.5 .0 1.6 -.5 -1.7 -.1zM410.4 315.9l2.5 .0 1.6 -.5 -1.7 -.1zM415.0 315.9l2.4 .1 1.6 -.5 -1.6 -.1zM419.7 315.8l2.4 .2 1.5 -.4 -1.6 -.2zM424.3 315.7l2.3 .3 1.5 -.3 -1.5 -.3zM369.2 320.4l2.5 .1 1.7 -.4 -1.7 -.2zM373.8 320.2l2.5 .3 1.7 -.3 -1.7 -.3zM378.4 320.1l2.4 .5 1.7 -.2 -1.6 -.4zM383.0 320.1l2.4 .6 1.6 -.1 -1.6 -.5zM387.6 320.0l2.4 .6 1.6 -.1 -1.6 -.5zM392.2 320.0l2.4 .6 1.7 -.1 -1.6 -.5zM396.7 320.1l2.4 .5 1.7 -.1 -1.6 -.4zM401.3 320.1l2.4 .5 1.7 -.2 -1.6 -.4zM405.8 320.2l2.5 .4 1.7 -.3 -1.6 -.3zM410.4 320.3l2.5 .3 1.6 -.3 -1.6 -.3zM415.0 320.3l2.4 .3 1.6 -.3 -1.6 -.3zM419.6 320.3l2.4 .3 1.6 -.3 -1.6 -.3zM424.3 320.2l2.3 .4 1.5 -.3 -1.5 -.3zM369.3 324.5l2.4 .7 1.7 -.0 -1.6 -.6zM373.9 324.3l2.3 .9 1.7 .1 -1.5 -.7zM378.5 324.2l2.2 1.1 1.6 .2 -1.5 -.8zM383.2 324.1l2.2 1.1 1.6 .3 -1.4 -.8zM387.8 324.1l2.1 1.1 1.6 .3 -1.4 -.8zM392.3 324.2l2.2 1.1 1.6 .3 -1.4 -.8zM396.8 324.2l2.2 1.0 1.6 .2 -1.5 -.8zM401.4 324.3l2.3 .9 1.7 .1 -1.5 -.7zM405.9 324.4l2.3 .8 1.7 .1 -1.5 -.6zM410.4 324.5l2.4 .7 1.7 -.0 -1.6 -.5zM415.0 324.6l2.4 .6 1.6 -.1 -1.6 -.5zM419.6 324.7l2.3 .5 1.6 -.2 -1.6 -.4zM424.3 324.7l2.3 .5 1.6 -.2 -1.5 -.4zM388.0 328.3l1.8 1.6 1.5 .7 -1.1 -1.2zM392.5 328.3l1.8 1.6 1.5 .6 -1.1 -1.1zM397.0 328.3l1.9 1.5 1.5 .6 -1.2 -1.1zM401.5 328.4l2.0 1.4 1.6 .5 -1.3 -1.0zM406.0 328.6l2.1 1.3 1.6 .4 -1.4 -.9zM410.5 328.7l2.2 1.1 1.6 .3 -1.4 -.8zM415.1 328.9l2.3 .9 1.6 .1 -1.5 -.7zM419.7 329.0l2.3 .8 1.6 .0 -1.5 -.6zM424.3 329.1l2.2 .7 1.6 -.0 -1.5 -.6zM397.4 332.5l1.5 1.9 1.3 .9 -.9 -1.4zM401.8 332.6l1.6 1.9 1.4 .9 -1.0 -1.3zM406.3 332.8l1.8 1.7 1.5 .7 -1.1 -1.2zM410.7 332.9l2.0 1.5 1.6 .6 -1.3 -1.1zM415.2 333.1l2.1 1.3 1.6 .4 -1.3 -.9zM419.7 333.3l2.2 1.1 1.6 .2 -1.4 -.8zM424.3 333.5l2.2 .9 1.6 .1 -1.4 -.7zM402.2 336.9l1.1 2.2 1.2 1.2 -.7 -1.5zM406.6 337.0l1.4 2.1 1.3 1.1 -.8 -1.4zM411.0 337.2l1.6 1.9 1.4 .9 -1.0 -1.3zM415.4 337.4l1.8 1.7 1.5 .7 -1.2 -1.2zM419.9 337.6l2.0 1.4 1.5 .5 -1.3 -1.0zM424.4 337.8l2.1 1.2 1.6 .3 -1.3 -.9zM406.9 341.3l.9 2.3 1.0 1.3 -.5 -1.6zM411.3 341.4l1.2 2.2 1.2 1.2 -.7 -1.5zM415.6 341.7l1.5 2.0 1.3 1.0 -.9 -1.4zM420.0 341.9l1.7 1.7 1.5 .7 -1.1 -1.2zM424.5 342.1l1.9 1.5 1.5 .5 -1.2 -1.1zM411.6 345.8l.7 2.4 .9 1.4 -.4 -1.6zM415.9 346.0l1.1 2.2 1.1 1.2 -.6 -1.5zM420.2 346.2l1.4 2.0 1.3 1.0 -.9 -1.4zM424.6 346.4l1.7 1.7 1.4 .8 -1.1 -1.2zM412.0 350.2l.3 2.5 .7 1.5 -.1 -1.7zM416.2 350.4l.7 2.4 .9 1.4 -.4 -1.6zM420.5 350.6l1.1 2.2 1.1 1.2 -.6 -1.5zM424.8 350.8l1.4 2.0 1.3 1.0 -.9 -1.4zM360.2 356.5l2.4 .6 1.7 -.1 -1.6 -.5zM364.9 356.1l2.2 1.1 1.6 .3 -1.4 -.8zM369.7 355.6l1.8 1.7 1.5 .7 -1.1 -1.2zM374.8 355.1l1.1 2.2 1.1 1.2 -.6 -1.5zM379.9 354.9l.4 2.4 .7 1.5 -.2 -1.7zM416.6 354.8l.3 2.5 .7 1.5 -.1 -1.7zM420.8 355.0l.8 2.3 1.0 1.3 -.4 -1.6zM425.0 355.2l1.2 2.1 1.2 1.1 -.7 -1.5zM355.7 361.9l2.4 -.3 1.5 -.7 -1.7 .1zM360.2 361.7l2.5 -.1 1.6 -.5 -1.7 -.0zM364.8 361.2l2.4 .5 1.6 -.2 -1.6 -.4zM369.6 360.4l2.0 1.4 1.6 .5 -1.3 -1.0zM374.8 359.7l1.1 2.2 1.2 1.2 -.7 -1.5zM380.1 359.4l.2 2.5 .6 1.5 -.0 -1.7zM385.3 359.4l-.6 2.4 .1 1.7 .5 -1.6zM416.9 359.3l-.1 2.5 .4 1.6 .2 -1.7zM421.0 359.4l.4 2.4 .8 1.5 -.2 -1.7zM425.2 359.6l.9 2.3 1.0 1.3 -.5 -1.6zM355.9 367.1l2.2 -1.1 1.2 -1.1 -1.5 .6zM360.5 367.1l2.2 -1.1 1.2 -1.1 -1.5 .6zM364.9 366.7l2.3 -.6 1.4 -.9 -1.6 .3zM369.5 365.4l2.2 1.0 1.6 .2 -1.4 -.8zM375.0 364.2l.8 2.3 1.0 1.3 -.4 -1.6zM380.5 363.9l-.3 2.4 .3 1.6 .3 -1.6zM385.7 364.0l-1.0 2.2 -.2 1.6 .8 -1.5zM417.1 363.9l-.4 2.5 .2 1.7 .4 -1.6zM421.3 363.9l.1 2.5 .6 1.6 .0 -1.7zM425.4 364.1l.7 2.4 .9 1.4 -.4 -1.6zM351.6 372.1l1.9 -1.6 .9 -1.4 -1.4 1.0zM356.4 372.2l1.7 -1.8 .7 -1.5 -1.2 1.1zM361.3 372.3l1.4 -2.0 .5 -1.6 -1.0 1.3zM366.2 372.4l1.0 -2.1 .2 -1.6 -.8 1.4zM369.9 369.4l1.6 1.6 1.4 .7 -1.0 -1.2zM376.2 368.6l-.7 2.3 .1 1.6 .5 -1.5zM381.3 368.7l-1.2 2.1 -.4 1.6 .9 -1.4zM386.2 368.9l-1.6 1.9 -.7 1.5 1.2 -1.2zM417.4 368.5l-.7 2.4 .0 1.7 .6 -1.6zM421.5 368.5l-.1 2.5 .4 1.6 .2 -1.7zM425.6 368.5l.4 2.5 .8 1.5 -.2 -1.7zM352.0 376.9l1.5 -2.0 .6 -1.6 -1.1 1.3zM357.0 377.0l1.1 -2.2 .2 -1.6 -.8 1.4zM362.1 377.1l.4 -2.4 -.3 -1.6 -.3 1.6zM367.7 376.9l-.8 -2.3 -1.0 -1.3 .5 1.5zM373.3 375.4l-2.3 -.6 -1.6 .1 1.5 .5zM377.6 374.1l-2.2 1.0 -1.2 1.1 1.5 -.6zM382.1 373.8l-2.1 1.3 -1.1 1.2 1.5 -.8zM386.7 373.9l-2.1 1.2 -1.1 1.2 1.5 -.7zM417.6 373.1l-.9 2.4 -.1 1.7 .7 -1.6zM421.6 373.0l-.3 2.5 .3 1.7 .3 -1.7zM321.6 381.7l-.3 -2.5 -.7 -1.6 .1 1.7zM325.7 381.8l.2 -2.5 -.3 -1.7 -.3 1.7zM357.4 381.7l.6 -2.4 -.1 -1.7 -.5 1.6zM362.6 381.7l-.2 -2.4 -.6 -1.5 .0 1.7zM368.0 381.3l-1.2 -2.1 -1.2 -1.1 .7 1.5zM373.2 380.4l-2.1 -1.2 -1.6 -.3 1.4 .9zM377.9 379.6l-2.4 -.2 -1.6 .4 1.6 .2zM382.4 379.2l-2.4 .3 -1.5 .7 1.6 -.1zM387.0 379.0l-2.4 .5 -1.5 .8 1.6 -.2zM317.6 386.0l-1.1 -2.3 -1.2 -1.3 .7 1.6zM321.8 386.2l-.6 -2.4 -.9 -1.4 .3 1.7zM326.0 386.3l-.1 -2.5 -.6 -1.6 -.0 1.7zM362.8 386.2l-.5 -2.4 -.8 -1.5 .2 1.6zM368.0 385.9l-1.2 -2.1 -1.2 -1.1 .7 1.5zM373.0 385.3l-1.9 -1.6 -1.5 -.6 1.2 1.1zM377.9 384.8l-2.3 -.9 -1.6 -.1 1.5 .7zM382.5 384.4l-2.4 -.5 -1.6 .2 1.6 .4zM317.9 390.4l-1.4 -2.1 -1.3 -1.1 .9 1.5zM322.1 390.6l-1.0 -2.3 -1.1 -1.3 .6 1.6zM326.3 390.7l-.5 -2.4 -.8 -1.4 .3 1.6zM330.6 390.9l-.1 -2.5 -.6 -1.6 -.0 1.7zM368.0 390.5l-1.2 -2.2 -1.2 -1.2 .7 1.6zM372.9 390.2l-1.7 -1.8 -1.4 -.8 1.1 1.3zM377.8 389.8l-2.1 -1.4 -1.6 -.5 1.4 1.0zM318.1 394.8l-1.7 -1.9 -1.4 -.9 1.0 1.3zM322.4 395.0l-1.3 -2.1 -1.3 -1.1 .8 1.5zM326.6 395.1l-.9 -2.2 -1.1 -1.2 .5 1.5zM330.9 395.2l-.5 -2.3 -.8 -1.4 .3 1.6zM318.2 399.1l-1.9 -1.6 -1.5 -.7 1.2 1.2zM322.6 399.3l-1.6 -1.8 -1.4 -.8 1.0 1.3zM326.9 399.5l-1.3 -2.0 -1.3 -1.0 .8 1.4zM331.2 399.6l-1.0 -2.1 -1.1 -1.1 .6 1.5zM335.6 399.7l-.7 -2.2 -.9 -1.3 .4 1.5zM318.4 403.4l-2.1 -1.3 -1.6 -.4 1.4 1.0zM322.8 403.6l-1.9 -1.5 -1.5 -.6 1.2 1.1zM327.2 403.7l-1.7 -1.7 -1.4 -.7 1.0 1.2zM331.5 403.9l-1.4 -1.9 -1.3 -.9 .8 1.3zM335.9 404.0l-1.1 -2.0 -1.2 -1.0 .7 1.4zM340.4 404.2l-1.0 -2.2 -1.1 -1.2 .6 1.5zM318.4 407.7l-2.2 -1.0 -1.6 -.2 1.5 .8zM322.9 407.8l-2.1 -1.2 -1.6 -.3 1.4 .9zM327.4 408.0l-1.9 -1.3 -1.5 -.5 1.2 1.0zM331.8 408.2l-1.7 -1.5 -1.4 -.6 1.1 1.1zM336.2 408.3l-1.5 -1.7 -1.4 -.7 1.0 1.2zM340.7 408.5l-1.4 -1.9 -1.3 -.9 .9 1.3zM345.2 408.6l-1.3 -2.0 -1.3 -1.0 .8 1.4zM318.5 412.1l-2.3 -.8 -1.7 -.0 1.5 .6zM323.0 412.1l-2.3 -.8 -1.6 -.1 1.5 .7zM327.5 412.3l-2.1 -1.0 -1.6 -.2 1.4 .8zM332.0 412.4l-2.0 -1.1 -1.5 -.3 1.3 .9zM336.5 412.5l-1.9 -1.3 -1.5 -.4 1.2 1.0zM341.0 412.7l-1.8 -1.5 -1.5 -.6 1.2 1.1zM345.6 412.8l-1.8 -1.6 -1.5 -.7 1.1 1.2zM350.1 412.9l-1.8 -1.7 -1.5 -.8 1.1 1.2zM354.7 413.0l-1.8 -1.8 -1.5 -.8 1.1 1.3zM318.5 416.4l-2.4 -.5 -1.6 .1 1.6 .5zM323.0 416.5l-2.3 -.6 -1.6 .1 1.6 .5zM327.6 416.5l-2.3 -.6 -1.6 .1 1.5 .5zM332.1 416.6l-2.2 -.7 -1.6 -.0 1.4 .6zM336.6 416.7l-2.1 -.9 -1.5 -.1 1.4 .7zM341.2 416.9l-2.1 -1.0 -1.6 -.2 1.4 .8zM345.8 417.0l-2.1 -1.1 -1.6 -.3 1.4 .9zM350.4 417.0l-2.1 -1.2 -1.6 -.4 1.4 .9zM355.0 417.1l-2.2 -1.3 -1.6 -.4 1.4 .9zM359.6 417.1l-2.2 -1.3 -1.7 -.4 1.4 .9zM364.2 417.0l-2.3 -1.2 -1.7 -.3 1.5 .9zM368.8 416.8l-2.3 -1.0 -1.7 -.2 1.5 .8zM373.4 416.7l-2.4 -.8 -1.7 -.0 1.6 .6zM318.5 420.9l-2.4 -.4 -1.6 .3 1.6 .3zM323.1 420.8l-2.4 -.3 -1.6 .3 1.6 .3zM327.6 420.8l-2.3 -.3 -1.6 .3 1.6 .3zM332.1 420.9l-2.3 -.4 -1.5 .2 1.5 .4zM336.7 420.9l-2.3 -.5 -1.5 .2 1.5 .4zM341.3 421.0l-2.3 -.5 -1.6 .1 1.5 .5zM345.9 421.1l-2.3 -.6 -1.6 .1 1.5 .5zM350.5 421.1l-2.4 -.7 -1.7 .0 1.6 .6zM355.1 421.2l-2.4 -.7 -1.7 .0 1.6 .6zM359.7 421.1l-2.4 -.7 -1.7 .0 1.6 .5zM364.3 421.0l-2.5 -.6 -1.7 .1 1.6 .5zM318.5 425.4l-2.4 -.3 -1.6 .3 1.6 .3zM323.1 425.3l-2.4 -.2 -1.6 .4 1.6 .2zM327.6 425.2l-2.4 -.1 -1.5 .4 1.6 .2zM332.1 425.2l-2.3 -.1 -1.5 .4 1.6 .1zM336.7 425.2l-2.3 -.1 -1.5 .4 1.6 .2zM341.3 425.2l-2.3 -.1 -1.5 .4 1.6 .2zM345.9 425.2l-2.4 -.1 -1.6 .4 1.6 .2zM350.5 425.3l-2.5 -.2 -1.6 .4 1.6 .2zM355.1 425.2l-2.5 -.1 -1.6 .4 1.7 .2zM359.7 425.2l-2.5 -.1 -1.6 .4 1.7 .2z"/>
<path fill="#c44848" stroke="#c44848" stroke-width="0.25" d="M434.6 317.1l1.9 -1.5 .9 -1.3 -1.3 .9zM439.2 317.1l1.9 -1.5 .9 -1.3 -1.3 .9zM443.7 317.1l1.9 -1.5 .9 -1.3 -1.3 .9zM448.3 317.1l1.9 -1.5 .9 -1.3 -1.3 .9zM452.9 317.1l1.9 -1.5 .9 -1.3 -1.3 .9zM457.4 317.1l1.9 -1.5 .9 -1.3 -1.3 .9zM462.0 317.1l1.9 -1.5 .9 -1.3 -1.3 .9zM466.6 317.1l1.9 -1.5 .9 -1.3 -1.3 .9zM471.1 317.1l1.9 -1.5 .9 -1.4 -1.4 .9zM475.7 317.1l1.9 -1.5 .9 -1.4 -1.4 .9zM480.3 317.1l1.9 -1.5 .9 -1.4 -1.4 .9zM484.8 317.1l2.0 -1.5 .9 -1.4 -1.4 .9zM489.4 317.2l2.0 -1.5 1.0 -1.4 -1.4 1.0zM494.0 317.2l2.0 -1.5 1.0 -1.4 -1.4 1.0zM498.5 317.2l2.0 -1.5 1.0 -1.4 -1.4 1.0zM503.1 317.2l2.0 -1.5 1.0 -1.4 -1.4 1.0zM507.7 317.1l1.9 -1.5 .9 -1.4 -1.4 .9zM512.3 317.1l1.9 -1.5 .9 -1.4 -1.4 .9zM516.8 317.1l1.9 -1.5 .9 -1.3 -1.3 .9zM521.4 317.1l1.9 -1.5 .9 -1.3 -1.3 .9zM526.0 317.1l1.9 -1.5 .9 -1.3 -1.3 .9zM530.6 317.1l1.9 -1.4 .9 -1.3 -1.3 .9zM535.2 317.1l1.9 -1.4 .9 -1.3 -1.3 .9zM539.7 317.1l1.9 -1.5 .9 -1.3 -1.3 .9zM544.3 317.1l1.9 -1.5 .9 -1.3 -1.3 .9zM434.6 321.7l1.9 -1.5 .9 -1.3 -1.3 .9zM439.2 321.7l1.9 -1.5 .9 -1.3 -1.3 .9zM443.7 321.7l1.9 -1.5 .9 -1.3 -1.3 .9zM448.3 321.7l1.9 -1.5 .9 -1.3 -1.3 .9zM452.9 321.7l1.9 -1.5 .9 -1.3 -1.3 .9zM457.5 321.7l1.9 -1.5 .9 -1.3 -1.3 .9zM462.0 321.7l1.9 -1.5 .9 -1.3 -1.3 .9zM466.6 321.7l1.9 -1.5 .9 -1.3 -1.3 .9zM471.1 321.7l1.9 -1.5 .9 -1.4 -1.4 .9zM512.2 321.7l1.9 -1.5 .9 -1.4 -1.4 .9zM516.8 321.7l1.9 -1.5 .9 -1.4 -1.4 .9zM521.4 321.7l1.9 -1.5 .9 -1.3 -1.3 .9zM526.0 321.7l1.9 -1.5 .9 -1.3 -1.3 .9zM530.6 321.7l1.9 -1.4 .9 -1.3 -1.3 .9zM535.2 321.6l1.9 -1.4 .9 -1.3 -1.3 .9zM539.7 321.7l1.9 -1.5 .9 -1.3 -1.3 .9zM544.3 321.7l1.9 -1.5 .9 -1.3 -1.3 .9zM434.6 326.2l1.9 -1.4 .9 -1.3 -1.3 .9zM439.2 326.2l1.9 -1.4 .9 -1.3 -1.3 .9zM443.8 326.2l1.9 -1.4 .9 -1.3 -1.3 .9zM448.3 326.2l1.9 -1.4 .9 -1.3 -1.3 .9zM452.9 326.2l1.9 -1.4 .9 -1.3 -1.3 .9zM457.5 326.2l1.9 -1.4 .9 -1.3 -1.3 .9zM462.0 326.3l1.9 -1.5 .9 -1.4 -1.4 .9zM521.4 326.3l1.9 -1.5 .9 -1.3 -1.3 .9zM526.0 326.2l1.9 -1.5 .9 -1.3 -1.3 .9zM530.6 326.2l1.9 -1.4 .9 -1.3 -1.3 .9zM535.2 326.2l1.9 -1.4 .9 -1.3 -1.3 .9zM539.7 326.2l1.9 -1.5 .9 -1.3 -1.3 .9zM544.3 326.2l1.9 -1.5 .9 -1.3 -1.3 .9zM434.6 330.8l1.9 -1.4 .9 -1.3 -1.3 .9zM439.2 330.8l1.9 -1.4 .9 -1.3 -1.3 .9zM443.8 330.8l1.9 -1.4 .9 -1.3 -1.3 .9zM448.3 330.8l1.9 -1.4 .9 -1.3 -1.3 .9zM452.9 330.8l1.9 -1.4 .9 -1.3 -1.3 .9zM457.4 330.9l2.0 -1.6 1.0 -1.4 -1.4 1.0zM485.0 331.1l1.7 -1.8 .8 -1.5 -1.2 1.2zM489.4 330.9l1.9 -1.6 .9 -1.4 -1.3 1.0zM493.8 330.8l2.1 -1.4 1.1 -1.3 -1.4 .9zM526.0 330.8l1.9 -1.5 .9 -1.4 -1.4 .9zM530.6 330.8l1.9 -1.4 .9 -1.3 -1.3 .9zM535.2 330.8l1.9 -1.4 .9 -1.3 -1.3 .9zM539.7 330.8l1.9 -1.5 .9 -1.3 -1.3 .9zM544.3 330.8l1.9 -1.5 .9 -1.3 -1.3 .9zM434.6 335.4l1.9 -1.4 .9 -1.3 -1.3 .9zM439.2 335.4l1.9 -1.5 .9 -1.3 -1.3 .9zM443.8 335.4l1.9 -1.5 .9 -1.3 -1.3 .9zM448.3 335.4l1.9 -1.5 .9 -1.3 -1.3 .9zM452.8 335.5l2.0 -1.6 1.0 -1.4 -1.4 1.0zM471.9 336.0l1.0 -2.3 .2 -1.7 -.8 1.5zM476.5 335.3l1.0 -1.5 .2 -1.2 -.8 1.0zM481.2 334.7l.8 -.7 .1 -.7 -.6 .4zM485.7 334.6l.9 -.6 .2 -.7 -.7 .3zM490.2 334.6l1.0 -.5 .3 -.7 -.7 .2zM494.7 334.5l1.0 -.3 .4 -.6 -.7 .1zM499.2 334.4l1.1 -.2 .5 -.6 -.7 .1zM503.8 334.3l1.1 -.1 .5 -.6 -.8 .0zM507.3 334.6l2.2 -.5 1.3 -.8 -1.5 .2zM530.5 335.4l1.9 -1.5 .9 -1.4 -1.4 .9zM535.2 335.4l1.9 -1.4 .9 -1.3 -1.3 .9zM539.7 335.4l1.9 -1.5 .9 -1.3 -1.3 .9zM544.3 335.4l1.9 -1.5 .9 -1.3 -1.3 .9zM434.6 339.9l1.9 -1.5 .9 -1.3 -1.3 .9zM439.2 340.0l1.9 -1.5 .9 -1.3 -1.3 .9zM443.7 340.0l1.9 -1.5 .9 -1.3 -1.3 .9zM448.2 340.0l2.0 -1.6 1.0 -1.4 -1.4 1.0zM467.7 340.3l.6 -2.0 -.1 -1.4 -.5 1.3zM472.3 339.4l.6 -.9 -.1 -.7 -.5 .6zM476.7 339.3l.7 -.8 .1 -.8 -.6 .5zM481.2 339.2l.9 -.7 .2 -.7 -.6 .4zM485.7 339.2l.9 -.5 .3 -.7 -.7 .3zM490.1 339.1l1.0 -.4 .4 -.7 -.7 .2zM494.7 339.0l1.1 -.2 .5 -.6 -.7 .1zM499.2 338.9l1.1 -.1 .5 -.5 -.8 -.0zM503.7 338.8l1.1 .0 .6 -.5 -.7 -.1zM508.3 338.7l1.1 .1 .6 -.4 -.7 -.2zM512.8 338.7l1.1 .1 .6 -.4 -.7 -.2zM516.2 338.8l2.5 -.0 1.6 -.5 -1.7 -.1zM530.4 339.9l2.1 -1.4 1.1 -1.3 -1.5 .9zM535.2 339.9l1.9 -1.4 .9 -1.3 -1.3 .9zM539.7 339.9l1.9 -1.5 .9 -1.3 -1.3 .9zM544.3 340.0l1.9 -1.5 .9 -1.3 -1.3 .9zM434.6 344.5l1.9 -1.5 .9 -1.3 -1.3 .9zM439.2 344.5l1.9 -1.5 .9 -1.3 -1.3 .9zM443.7 344.6l2.0 -1.5 .9 -1.4 -1.4 .9zM463.4 344.6l.3 -1.8 -.3 -1.2 -.3 1.2zM467.8 344.0l.5 -1.0 -.2 -.7 -.4 .6zM472.3 343.9l.6 -.9 -.1 -.7 -.5 .6zM476.7 343.9l.8 -.8 .1 -.7 -.6 .5zM481.2 343.8l.9 -.6 .2 -.7 -.7 .4zM485.6 343.7l1.0 -.5 .3 -.7 -.7 .2zM490.1 343.6l1.0 -.3 .4 -.6 -.7 .1zM494.6 343.5l1.1 -.1 .5 -.6 -.8 .0zM499.1 343.3l1.1 .0 .6 -.5 -.7 -.1zM503.7 343.2l1.1 .1 .6 -.4 -.7 -.2zM508.3 343.2l1.0 .2 .7 -.3 -.7 -.3zM512.8 343.1l1.0 .3 .7 -.3 -.7 -.3zM517.4 343.1l1.0 .3 .7 -.3 -.7 -.3zM520.8 343.1l2.5 .4 1.7 -.3 -1.6 -.3zM530.1 344.2l2.3 -1.0 1.3 -1.1 -1.6 .6zM535.1 344.5l2.0 -1.5 1.0 -1.4 -1.4 .9zM539.7 344.5l1.9 -1.5 .9 -1.3 -1.3 .9zM544.3 344.5l1.9 -1.5 .9 -1.3 -1.3 .9zM434.6 349.1l1.9 -1.5 .9 -1.4 -1.4 .9zM439.1 349.1l1.9 -1.5 .9 -1.4 -1.4 .9zM459.1 349.5l-.0 -2.2 -.5 -1.4 -.1 1.5zM463.4 348.6l.3 -1.0 -.3 -.7 -.3 .7zM467.9 348.5l.5 -1.0 -.2 -.7 -.4 .6zM472.3 348.5l.6 -.9 -.1 -.7 -.5 .6zM476.7 348.5l.7 -.8 .0 -.8 -.6 .5zM481.1 348.5l1.0 -.8 .3 -.8 -.7 .5zM485.4 348.5l1.2 -.7 .5 -.8 -.9 .4zM489.8 348.3l1.4 -.5 .7 -.7 -1.0 .2zM494.3 348.1l1.4 -.2 .8 -.6 -1.0 .0zM498.9 347.9l1.4 .1 .8 -.4 -.9 -.1zM503.6 347.7l1.2 .3 .8 -.3 -.8 -.3zM508.3 347.6l1.0 .4 .7 -.2 -.7 -.4zM512.8 347.6l1.0 .5 .7 -.2 -.6 -.4zM517.4 347.5l1.0 .5 .7 -.2 -.6 -.4zM522.0 347.5l1.0 .5 .7 -.2 -.6 -.4zM529.9 348.2l2.5 -.3 1.6 -.7 -1.7 .1zM534.8 348.9l2.2 -1.2 1.2 -1.2 -1.5 .7zM539.7 349.1l1.9 -1.5 .9 -1.4 -1.4 .9zM544.3 349.1l1.9 -1.5 .9 -1.3 -1.3 .9zM434.6 353.7l1.9 -1.5 .9 -1.4 -1.4 .9zM439.1 353.7l2.0 -1.5 1.0 -1.4 -1.4 1.0zM453.6 350.3l.5 2.5 .8 1.5 -.2 -1.7zM459.0 353.1l.1 -1.1 -.4 -.6 -.2 .7zM463.5 353.1l.2 -1.0 -.3 -.7 -.3 .7zM467.9 353.1l.4 -1.0 -.2 -.7 -.4 .7zM472.3 353.1l.6 -1.0 -.1 -.8 -.5 .6zM476.7 353.3l.8 -1.1 .1 -1.0 -.6 .7zM481.0 353.3l1.1 -1.1 .3 -1.0 -.8 .7zM485.3 353.3l1.4 -1.0 .6 -1.0 -1.0 .6zM489.3 353.2l2.0 -.9 1.0 -1.0 -1.4 .5zM493.8 352.8l2.0 -.3 1.2 -.7 -1.4 .1zM498.6 352.4l1.6 .2 1.0 -.4 -1.1 -.2zM503.3 352.1l1.4 .4 1.0 -.2 -1.0 -.4zM508.1 352.0l1.2 .6 .9 -.1 -.7 -.5zM512.9 352.0l.9 .6 .7 -.1 -.6 -.5zM517.5 352.0l.9 .6 .8 -.0 -.5 -.5zM522.0 352.0l.9 .6 .8 -.0 -.5 -.5zM525.9 351.8l1.7 .9 1.3 .1 -1.1 -.7zM529.9 352.0l2.5 .6 1.7 -.1 -1.6 -.5zM534.6 353.1l2.4 -.8 1.4 -1.0 -1.7 .4zM539.6 353.7l2.0 -1.5 1.0 -1.4 -1.4 .9zM544.3 353.7l1.9 -1.5 .9 -1.3 -1.3 .9zM434.5 358.3l2.0 -1.5 1.0 -1.4 -1.4 1.0zM455.0 358.4l-.5 -2.0 -.8 -1.1 .3 1.4zM459.1 357.7l.0 -1.1 -.5 -.6 -.1 .7zM463.5 357.7l.2 -1.1 -.4 -.6 -.2 .7zM468.0 357.7l.3 -1.0 -.3 -.7 -.3 .7zM472.4 358.0l.5 -1.3 -.2 -.9 -.4 .9zM476.8 358.1l.7 -1.5 .0 -1.1 -.6 .9zM480.8 358.7l1.3 -2.1 .4 -1.6 -1.0 1.3zM502.9 356.4l1.9 .8 1.4 .0 -1.3 -.6zM508.0 356.4l1.3 .9 1.0 .1 -.8 -.7zM512.8 356.4l.9 .8 .9 .1 -.6 -.6zM517.5 356.4l.7 .8 .7 .1 -.5 -.6zM522.1 356.4l.8 .8 .7 .1 -.5 -.6zM526.6 356.4l.8 .7 .8 .0 -.5 -.6zM534.5 357.1l2.5 -.1 1.6 -.5 -1.7 -.1zM544.3 358.3l1.9 -1.5 .9 -1.4 -1.4 .9zM434.5 362.9l2.0 -1.5 1.0 -1.4 -1.4 1.0zM454.7 362.2l-.2 -1.1 -.6 -.5 .1 .7zM459.2 362.2l-.1 -1.1 -.5 -.5 -.0 .8zM463.6 362.2l.0 -1.1 -.5 -.6 -.1 .7zM468.1 362.4l.1 -1.2 -.4 -.8 -.2 .8zM472.6 362.7l.3 -1.5 -.3 -1.0 -.3 1.0zM477.0 363.4l.5 -2.4 -.2 -1.6 -.4 1.6zM507.9 360.6l1.2 1.2 1.1 .4 -.8 -.9zM512.8 360.7l.9 1.1 .9 .3 -.6 -.8zM517.6 360.9l.6 .9 .7 .2 -.3 -.7zM522.2 360.9l.6 .9 .7 .2 -.4 -.7zM526.7 360.9l.7 .8 .7 .2 -.4 -.6zM530.3 360.4l1.9 1.5 1.5 .6 -1.2 -1.1zM544.2 362.9l2.0 -1.5 1.0 -1.4 -1.4 1.0zM434.5 367.4l2.0 -1.5 1.0 -1.4 -1.4 1.0zM454.8 366.7l-.3 -1.0 -.6 -.4 .1 .7zM459.2 366.7l-.2 -1.1 -.6 -.5 .0 .8zM463.7 366.8l-.1 -1.1 -.5 -.5 -.0 .8zM468.3 367.0l-.1 -1.4 -.5 -.8 -.0 .9zM472.9 367.3l-.1 -1.7 -.5 -1.0 -.0 1.1zM507.7 364.6l1.5 1.9 1.3 .9 -.9 -1.3zM512.9 365.0l.8 1.3 .9 .6 -.4 -1.0zM517.7 365.3l.5 1.0 .7 .4 -.3 -.8zM522.2 365.3l.5 1.0 .7 .3 -.2 -.7zM526.8 365.4l.5 .9 .7 .3 -.3 -.7zM530.6 364.9l1.4 1.5 1.3 .6 -.9 -1.1zM544.2 367.5l2.0 -1.6 1.0 -1.4 -1.4 1.0zM434.5 372.0l2.0 -1.5 1.0 -1.4 -1.4 1.0zM454.8 371.2l-.4 -1.0 -.7 -.3 .2 .7zM459.3 371.3l-.3 -1.0 -.6 -.4 .1 .7zM463.9 371.3l-.3 -1.0 -.6 -.4 .1 .7zM468.5 371.6l-.4 -1.4 -.7 -.7 .2 1.0zM473.2 371.9l-.5 -1.7 -.8 -.9 .3 1.2zM508.1 368.7l1.0 2.3 1.1 1.3 -.6 -1.6zM513.1 369.4l.5 1.5 .8 .7 -.2 -1.0zM517.8 369.7l.3 1.2 .7 .5 -.1 -.8zM522.4 369.8l.3 1.0 .6 .4 -.1 -.7zM526.9 369.9l.4 1.0 .7 .4 -.2 -.7zM530.9 369.4l1.1 1.5 1.1 .7 -.6 -1.1zM544.2 372.0l2.0 -1.6 1.0 -1.4 -1.4 1.0zM434.5 376.6l2.0 -1.5 .9 -1.4 -1.4 .9zM454.9 375.7l-.6 -.9 -.7 -.3 .3 .7zM459.4 375.7l-.5 -1.0 -.7 -.3 .2 .7zM464.0 375.8l-.4 -1.0 -.7 -.3 .2 .7zM468.7 376.0l-.6 -1.2 -.8 -.5 .3 .9zM473.4 376.2l-.8 -1.5 -.9 -.7 .5 1.0zM508.6 373.1l.3 2.4 .7 1.5 -.1 -1.6zM513.3 373.9l.2 1.5 .6 .9 -.0 -1.1zM517.9 374.2l.1 1.2 .5 .6 .0 -.8zM522.5 374.3l.2 1.1 .6 .5 -.0 -.8zM527.0 374.4l.3 1.0 .6 .4 -.1 -.7zM531.0 373.8l1.0 1.8 1.0 .9 -.6 -1.2zM544.2 376.6l2.0 -1.6 1.0 -1.4 -1.4 1.0zM434.6 381.1l1.9 -1.5 .9 -1.4 -1.4 .9zM455.0 380.2l-.7 -.8 -.7 -.2 .4 .6zM459.5 380.2l-.6 -.9 -.7 -.2 .3 .7zM464.1 380.2l-.6 -.9 -.7 -.2 .3 .7zM468.8 380.4l-.7 -1.0 -.8 -.3 .4 .8zM473.6 380.5l-1.0 -1.2 -1.0 -.4 .6 .9zM478.9 380.8l-2.0 -1.5 -1.6 -.6 1.3 1.1zM509.1 378.1l-.3 1.9 .3 1.3 .3 -1.3zM513.6 378.5l-.1 1.4 .4 .9 .2 -1.0zM518.1 378.8l-.1 1.1 .4 .6 .2 -.7zM522.6 378.9l.0 1.1 .5 .6 .1 -.7zM527.0 378.9l.2 1.1 .6 .5 -.0 -.8zM530.9 378.0l1.0 2.1 1.1 1.1 -.6 -1.5zM544.2 381.2l2.0 -1.6 1.0 -1.4 -1.4 1.0zM434.6 385.7l1.9 -1.5 .9 -1.4 -1.4 .9zM439.1 385.7l2.0 -1.6 1.0 -1.4 -1.4 1.0zM455.6 385.0l-1.5 -1.1 -1.2 -.3 1.0 .8zM459.6 384.7l-.7 -.8 -.7 -.1 .4 .6zM464.2 384.7l-.7 -.8 -.7 -.1 .4 .6zM468.7 384.7l-.7 -.8 -.8 -.1 .4 .6zM473.6 384.8l-1.1 -.9 -1.0 -.2 .7 .7zM478.4 384.7l-1.4 -.9 -1.1 -.1 .9 .7zM483.8 384.6l-2.4 -.7 -1.7 .0 1.6 .6zM505.2 382.4l-1.0 2.1 -.2 1.5 .8 -1.4zM509.3 383.0l-.6 1.5 .1 1.1 .5 -1.0zM513.7 383.2l-.4 1.2 .3 .8 .3 -.8zM518.2 383.4l-.2 1.1 .4 .7 .2 -.7zM522.6 383.4l-.1 1.1 .4 .6 .1 -.7zM527.1 383.4l.1 1.1 .5 .5 .0 -.8zM531.0 382.4l.9 2.4 1.0 1.4 -.5 -1.6zM544.2 385.7l2.0 -1.5 1.0 -1.4 -1.4 1.0zM434.6 390.3l1.9 -1.5 .9 -1.4 -1.4 .9zM439.1 390.3l1.9 -1.5 .9 -1.4 -1.4 .9zM452.3 388.2l2.3 1.1 1.7 .2 -1.5 -.8zM459.7 389.1l-.9 -.7 -.8 .0 .5 .5zM464.2 389.1l-.8 -.7 -.8 .0 .5 .5zM468.8 389.1l-.9 -.7 -.8 .0 .5 .5zM473.5 389.1l-1.0 -.6 -.8 .0 .6 .5zM478.3 389.1l-1.3 -.6 -1.0 .1 .9 .5zM483.0 388.9l-1.6 -.4 -1.1 .3 1.1 .3zM488.0 388.5l-2.2 .1 -1.4 .5 1.5 .0zM492.7 388.0l-2.3 .7 -1.3 .9 1.6 -.4zM496.9 387.6l-2.0 1.2 -1.0 1.2 1.4 -.7zM500.9 387.7l-1.3 1.2 -.5 1.1 1.0 -.7zM505.1 387.7l-1.0 1.2 -.2 1.0 .7 -.8zM509.4 387.8l-.7 1.2 .0 .9 .5 -.7zM513.8 388.0l-.5 1.0 .2 .7 .4 -.6zM518.3 388.0l-.3 1.0 .3 .7 .3 -.7zM522.7 388.0l-.2 1.1 .4 .6 .2 -.7zM527.0 387.6l.1 1.6 .6 .9 .0 -1.1zM539.6 390.3l2.0 -1.6 1.0 -1.4 -1.4 1.0zM544.2 390.3l2.0 -1.5 .9 -1.4 -1.4 .9zM434.6 394.8l1.9 -1.5 .9 -1.4 -1.4 .9zM439.2 394.8l1.9 -1.5 .9 -1.3 -1.3 .9zM460.4 393.7l-1.8 -.7 -1.3 .0 1.1 .6zM464.3 393.6l-.9 -.5 -.7 .1 .6 .4zM468.8 393.6l-.9 -.5 -.7 .1 .6 .4zM473.4 393.5l-1.0 -.5 -.7 .2 .6 .4zM478.1 393.5l-1.1 -.4 -.8 .2 .7 .3zM482.8 393.3l-1.3 -.2 -.9 .4 .9 .2zM487.4 393.1l-1.5 .1 -.9 .5 1.0 .1zM492.0 392.9l-1.5 .4 -.8 .7 1.0 -.1zM496.4 392.7l-1.4 .6 -.6 .8 1.0 -.3zM500.8 392.5l-1.2 .8 -.4 .9 .8 -.5zM505.1 392.5l-.9 .9 -.2 .9 .7 -.5zM509.4 392.6l-.7 .8 .0 .8 .5 -.5zM513.9 392.5l-.5 .9 .1 .7 .4 -.6zM518.3 392.5l-.4 1.0 .3 .7 .3 -.7zM522.8 392.5l-.2 1.1 .4 .7 .2 -.7zM527.0 391.3l.2 2.5 .6 1.6 -.1 -1.7zM539.6 394.9l2.0 -1.6 1.0 -1.4 -1.4 1.0zM544.2 394.8l1.9 -1.5 .9 -1.4 -1.4 .9zM434.6 399.4l1.9 -1.5 .9 -1.3 -1.3 .9zM439.2 399.4l1.9 -1.5 .9 -1.3 -1.3 .9zM443.7 399.4l1.9 -1.5 .9 -1.4 -1.4 .9zM464.3 398.0l-1.0 -.4 -.7 .2 .7 .3zM468.9 398.0l-1.0 -.4 -.7 .3 .7 .3zM473.4 398.0l-1.0 -.3 -.7 .3 .7 .3zM478.0 397.9l-1.1 -.2 -.7 .3 .7 .3zM482.5 397.8l-1.1 -.1 -.6 .4 .7 .2zM487.1 397.7l-1.1 .0 -.6 .5 .7 .1zM491.7 397.5l-1.1 .2 -.5 .6 .8 -.1zM496.1 397.4l-1.0 .4 -.4 .7 .8 -.2zM500.6 397.3l-.9 .6 -.3 .7 .7 -.3zM505.0 397.2l-.8 .7 -.1 .7 .6 -.4zM509.5 397.2l-.7 .8 -.0 .8 .6 -.5zM513.9 397.1l-.5 .9 .1 .7 .5 -.6zM518.3 397.1l-.4 1.0 .2 .7 .4 -.7zM522.7 396.0l-.2 2.4 .4 1.5 .2 -1.6zM535.1 399.5l1.9 -1.6 .9 -1.4 -1.4 1.0zM539.7 399.4l1.9 -1.5 .9 -1.4 -1.4 .9zM544.3 399.4l1.9 -1.5 .9 -1.3 -1.3 .9zM434.6 403.9l1.9 -1.5 .9 -1.3 -1.3 .9zM439.2 403.9l1.9 -1.5 .9 -1.3 -1.3 .9zM443.8 403.9l1.9 -1.4 .9 -1.3 -1.3 .9zM448.2 404.0l2.0 -1.5 1.0 -1.4 -1.4 1.0zM469.3 402.4l-1.6 -.1 -1.0 .4 1.0 .2zM473.4 402.4l-1.1 -.2 -.6 .4 .7 .2zM478.0 402.4l-1.1 -.1 -.6 .4 .7 .2zM482.5 402.3l-1.1 .0 -.6 .5 .7 .1zM487.1 402.2l-1.1 .1 -.5 .6 .8 -.0zM491.6 402.1l-1.0 .3 -.4 .6 .7 -.1zM496.1 402.0l-1.0 .4 -.3 .7 .7 -.2zM500.5 401.9l-.9 .6 -.2 .7 .7 -.3zM505.0 401.8l-.8 .7 -.1 .7 .6 -.4zM509.5 401.7l-.7 .8 .0 .8 .5 -.5zM513.9 401.7l-.5 .9 .1 .7 .5 -.6zM518.4 400.6l-.5 2.3 .2 1.6 .4 -1.5zM535.1 404.0l1.9 -1.5 .9 -1.4 -1.4 .9zM539.7 403.9l1.9 -1.5 .9 -1.3 -1.3 .9zM544.3 403.9l1.9 -1.5 .9 -1.3 -1.3 .9zM434.6 408.5l1.9 -1.5 .9 -1.3 -1.3 .9zM439.2 408.5l1.9 -1.5 .9 -1.3 -1.3 .9zM443.8 408.5l1.9 -1.4 .9 -1.3 -1.3 .9zM448.3 408.5l1.9 -1.4 .9 -1.3 -1.3 .9zM474.4 406.5l-2.3 .4 -1.4 .7 1.6 -.2zM477.9 406.8l-1.1 .1 -.5 .5 .8 .0zM482.5 406.7l-1.1 .2 -.5 .6 .8 -.0zM487.0 406.7l-1.0 .3 -.4 .6 .7 -.1zM491.5 406.6l-1.0 .4 -.4 .7 .7 -.2zM496.0 406.5l-1.0 .5 -.3 .7 .7 -.3zM500.5 406.4l-.9 .6 -.2 .7 .7 -.4zM505.0 406.4l-.8 .8 -.1 .7 .6 -.5zM509.7 405.7l-.9 1.6 -.2 1.2 .7 -1.0zM513.2 409.1l.9 -2.4 .1 -1.7 -.7 1.5zM530.5 408.6l2.0 -1.5 1.0 -1.4 -1.4 1.0zM535.1 408.5l1.9 -1.5 .9 -1.3 -1.3 .9zM539.7 408.5l1.9 -1.5 .9 -1.3 -1.3 .9zM544.3 408.5l1.9 -1.5 .9 -1.3 -1.3 .9zM434.6 413.1l1.9 -1.5 .9 -1.3 -1.3 .9zM439.2 413.1l1.9 -1.5 .9 -1.3 -1.3 .9zM443.8 413.1l1.9 -1.4 .9 -1.3 -1.3 .9zM448.3 413.0l1.9 -1.4 .9 -1.3 -1.3 .9zM452.9 413.1l1.9 -1.5 .9 -1.3 -1.3 .9zM479.9 412.8l2.3 -1.1 1.2 -1.2 -1.6 .6zM487.9 410.5l-2.1 1.2 -1.1 1.2 1.4 -.7zM492.2 410.4l-1.8 1.3 -.9 1.2 1.3 -.8zM496.7 410.2l-1.7 1.5 -.8 1.4 1.2 -1.0zM498.8 413.4l1.6 -1.9 .7 -1.5 -1.2 1.2zM525.9 413.1l2.0 -1.5 .9 -1.4 -1.4 .9zM530.6 413.1l1.9 -1.4 .9 -1.3 -1.3 .9zM535.2 413.1l1.9 -1.4 .9 -1.3 -1.3 .9zM539.7 413.0l1.9 -1.4 .9 -1.3 -1.3 .9zM544.3 413.0l1.9 -1.4 .9 -1.3 -1.3 .9zM434.6 417.7l1.9 -1.5 .9 -1.3 -1.3 .9zM439.2 417.6l1.9 -1.5 .9 -1.3 -1.3 .9zM443.8 417.6l1.9 -1.4 .9 -1.3 -1.3 .9zM448.3 417.6l1.9 -1.4 .9 -1.3 -1.3 .9zM452.9 417.6l1.9 -1.5 .9 -1.3 -1.3 .9zM457.4 417.6l1.9 -1.5 .9 -1.3 -1.3 .9zM461.9 417.7l2.0 -1.6 1.0 -1.4 -1.4 1.0zM516.8 417.8l1.9 -1.6 .9 -1.4 -1.4 1.0zM521.4 417.6l1.9 -1.5 .9 -1.3 -1.3 .9zM526.0 417.6l1.9 -1.4 .9 -1.3 -1.3 .9zM530.6 417.6l1.9 -1.4 .9 -1.3 -1.3 .9zM535.2 417.6l1.9 -1.4 .9 -1.3 -1.3 .9zM539.7 417.6l1.9 -1.4 .9 -1.3 -1.3 .9zM544.3 417.6l1.9 -1.4 .9 -1.3 -1.3 .9zM434.6 422.2l1.9 -1.5 .9 -1.3 -1.3 .9zM439.2 422.2l1.9 -1.5 .9 -1.3 -1.3 .9zM443.8 422.2l1.9 -1.4 .9 -1.3 -1.3 .9zM448.3 422.2l1.9 -1.4 .9 -1.3 -1.3 .9zM452.9 422.2l1.9 -1.5 .9 -1.3 -1.3 .9zM457.5 422.2l1.9 -1.5 .9 -1.3 -1.3 .9zM462.0 422.2l1.9 -1.5 .9 -1.3 -1.3 .9zM466.6 422.2l1.9 -1.5 .9 -1.4 -1.4 .9zM507.7 422.3l2.0 -1.6 1.0 -1.4 -1.4 1.0zM512.2 422.3l1.9 -1.5 .9 -1.4 -1.4 .9zM516.9 422.2l1.9 -1.5 .9 -1.3 -1.3 .9zM521.4 422.2l1.9 -1.5 .9 -1.3 -1.3 .9zM526.0 422.2l1.9 -1.5 .9 -1.3 -1.3 .9zM530.6 422.2l1.9 -1.5 .9 -1.3 -1.3 .9zM535.2 422.2l1.9 -1.5 .9 -1.3 -1.3 .9zM539.7 422.2l1.9 -1.5 .9 -1.3 -1.3 .9zM544.3 422.2l1.9 -1.5 .9 -1.3 -1.3 .9zM434.6 426.8l1.9 -1.5 .9 -1.3 -1.3 .9zM439.2 426.8l1.9 -1.5 .9 -1.3 -1.3 .9zM443.8 426.8l1.9 -1.4 .9 -1.3 -1.3 .9zM448.3 426.8l1.9 -1.4 .9 -1.3 -1.3 .9zM452.9 426.8l1.9 -1.4 .9 -1.3 -1.3 .9zM457.5 426.8l1.9 -1.5 .9 -1.3 -1.3 .9zM462.0 426.8l1.9 -1.5 .9 -1.3 -1.3 .9zM466.6 426.8l1.9 -1.5 .9 -1.4 -1.4 .9zM471.1 426.8l1.9 -1.5 .9 -1.4 -1.4 .9zM475.7 426.8l2.0 -1.5 1.0 -1.4 -1.4 1.0zM480.2 426.8l2.0 -1.5 1.0 -1.4 -1.4 1.0zM484.8 426.9l2.0 -1.6 1.0 -1.4 -1.4 1.0zM489.4 426.9l2.0 -1.6 1.0 -1.4 -1.4 1.0zM493.9 426.9l2.0 -1.6 1.0 -1.4 -1.4 1.0zM498.5 426.8l1.9 -1.5 .9 -1.4 -1.4 .9zM503.1 426.8l1.9 -1.5 .9 -1.4 -1.4 .9zM507.7 426.8l1.9 -1.5 .9 -1.4 -1.4 .9zM512.3 426.8l1.9 -1.5 .9 -1.3 -1.3 .9zM516.8 426.8l1.9 -1.5 .9 -1.3 -1.3 .9zM521.4 426.8l1.9 -1.5 .9 -1.3 -1.3 .9zM526.0 426.8l1.9 -1.5 .9 -1.3 -1.3 .9zM530.6 426.8l1.9 -1.5 .9 -1.3 -1.3 .9zM535.1 426.8l1.9 -1.5 .9 -1.3 -1.3 .9zM539.7 426.8l1.9 -1.5 .9 -1.3 -1.3 .9zM544.3 426.8l1.9 -1.5 .9 -1.3 -1.3 .9z"/>
<path fill="#4c4cdc" stroke="#4c4cdc" stroke-width="0.25" d="M475.7 321.8l2.0 -1.6 1.0 -1.4 -1.4 1.0zM480.3 321.8l1.9 -1.6 .9 -1.4 -1.3 1.0zM484.9 321.8l1.8 -1.6 .8 -1.4 -1.3 1.0zM489.5 321.7l1.8 -1.5 .8 -1.4 -1.3 1.0zM494.0 321.7l1.8 -1.5 .9 -1.4 -1.3 .9zM498.6 321.7l1.9 -1.5 .9 -1.4 -1.3 .9zM503.1 321.7l2.0 -1.5 1.0 -1.4 -1.4 1.0zM507.6 321.8l2.0 -1.6 1.0 -1.4 -1.4 1.0zM466.6 326.4l1.9 -1.7 .9 -1.4 -1.4 1.0zM471.3 326.5l1.7 -1.8 .8 -1.5 -1.2 1.1zM476.0 326.5l1.6 -1.8 .7 -1.5 -1.2 1.2zM480.5 326.5l1.7 -1.8 .7 -1.5 -1.2 1.2zM485.0 326.4l1.7 -1.7 .7 -1.5 -1.2 1.1zM489.5 326.4l1.8 -1.6 .8 -1.4 -1.3 1.0zM494.0 326.3l1.9 -1.5 .9 -1.4 -1.3 .9zM498.5 326.2l1.9 -1.4 .9 -1.3 -1.4 .9zM503.1 326.2l2.0 -1.4 1.0 -1.3 -1.4 .8zM507.6 326.2l2.0 -1.4 1.0 -1.3 -1.4 .8zM512.2 326.2l2.0 -1.4 1.0 -1.3 -1.4 .9zM516.8 326.3l2.0 -1.6 1.0 -1.4 -1.4 1.0zM462.2 331.1l1.7 -1.8 .8 -1.5 -1.2 1.1zM467.0 331.2l1.5 -2.0 .5 -1.6 -1.1 1.3zM471.7 331.3l1.3 -2.1 .4 -1.6 -1.0 1.4zM476.2 331.2l1.4 -2.1 .5 -1.6 -1.0 1.3zM480.6 331.2l1.5 -2.0 .6 -1.6 -1.1 1.3zM498.3 330.7l2.2 -1.3 1.2 -1.2 -1.5 .8zM502.9 330.5l2.2 -1.1 1.2 -1.1 -1.5 .6zM507.4 330.5l2.2 -1.1 1.2 -1.1 -1.5 .6zM512.0 330.6l2.2 -1.1 1.2 -1.2 -1.5 .7zM516.6 330.7l2.1 -1.3 1.1 -1.3 -1.5 .8zM521.3 330.8l2.1 -1.5 1.0 -1.4 -1.4 .9zM457.7 335.7l1.6 -1.9 .7 -1.5 -1.2 1.2zM462.7 335.9l1.2 -2.2 .3 -1.6 -.9 1.4zM467.4 336.0l1.0 -2.3 .2 -1.7 -.7 1.5zM511.8 334.7l2.4 -.6 1.4 -.9 -1.7 .3zM516.4 334.9l2.4 -.8 1.4 -1.0 -1.6 .4zM521.1 335.1l2.3 -1.1 1.2 -1.1 -1.6 .6zM525.8 335.3l2.1 -1.4 1.1 -1.3 -1.5 .9zM453.2 340.2l1.6 -1.9 .7 -1.5 -1.2 1.2zM458.4 340.5l.9 -2.3 .1 -1.7 -.7 1.5zM463.2 340.6l.6 -2.4 -.1 -1.6 -.5 1.6zM520.8 339.1l2.5 -.4 1.5 -.8 -1.7 .2zM525.6 339.6l2.3 -1.0 1.3 -1.1 -1.6 .5zM448.4 344.7l1.7 -1.7 .8 -1.4 -1.2 1.1zM453.8 345.1l.8 -2.3 .1 -1.6 -.6 1.5zM458.8 341.1l-.2 2.4 .3 1.6 .3 -1.6zM525.3 343.5l2.5 -.2 1.6 -.6 -1.7 .0zM443.7 349.2l2.0 -1.6 .9 -1.4 -1.4 1.0zM448.9 349.5l1.2 -2.1 .4 -1.6 -.9 1.3zM454.0 345.7l.0 2.4 .5 1.5 .1 -1.6zM525.3 347.4l2.5 .6 1.7 -.1 -1.6 -.5zM443.8 353.7l1.8 -1.6 .8 -1.4 -1.3 1.0zM449.6 350.3l-.1 2.4 .4 1.5 .2 -1.6zM439.1 358.3l2.0 -1.6 1.0 -1.4 -1.4 1.0zM444.0 358.4l1.7 -1.7 .7 -1.4 -1.2 1.1zM448.9 355.0l.6 2.3 .9 1.3 -.3 -1.6zM485.0 358.4l1.8 -1.7 .8 -1.5 -1.3 1.1zM489.1 358.0l2.2 -1.1 1.2 -1.2 -1.5 .7zM493.4 357.4l2.5 -.4 1.5 -.7 -1.7 .2zM497.9 356.8l2.5 .3 1.7 -.3 -1.7 -.3zM530.0 356.1l2.2 1.2 1.7 .3 -1.5 -.9zM539.5 358.2l2.1 -1.4 1.1 -1.3 -1.5 .8zM439.1 362.9l2.0 -1.5 1.0 -1.4 -1.4 .9zM444.1 363.0l1.5 -1.8 .6 -1.5 -1.1 1.1zM448.6 359.7l1.0 2.2 1.1 1.2 -.6 -1.5zM481.2 363.4l.9 -2.3 .1 -1.7 -.7 1.5zM485.3 363.2l1.4 -2.0 .5 -1.6 -1.0 1.3zM489.3 362.7l2.1 -1.3 1.0 -1.3 -1.4 .8zM493.4 361.9l2.4 -.3 1.5 -.7 -1.7 .1zM498.0 361.1l2.4 .7 1.7 -.0 -1.6 -.5zM502.7 360.6l2.2 1.3 1.6 .4 -1.4 -.9zM534.5 361.0l2.4 .8 1.7 .0 -1.6 -.6zM539.4 362.6l2.2 -1.2 1.2 -1.2 -1.5 .8zM439.1 367.4l1.9 -1.5 1.0 -1.3 -1.4 .9zM443.2 365.8l2.3 .5 1.6 -.2 -1.5 -.4zM448.4 364.4l1.4 2.1 1.3 1.1 -.8 -1.5zM477.5 368.0l-.1 -2.5 -.6 -1.6 .0 1.7zM481.9 368.0l.1 -2.5 -.5 -1.6 -.1 1.7zM486.1 368.0l.5 -2.4 -.1 -1.6 -.5 1.6zM489.6 367.5l1.7 -1.7 .8 -1.4 -1.2 1.1zM493.4 366.1l2.4 .2 1.6 -.4 -1.6 -.2zM498.1 365.1l2.1 1.3 1.6 .4 -1.4 -.9zM502.9 364.7l1.8 1.8 1.5 .8 -1.1 -1.2zM534.7 365.0l2.1 1.4 1.6 .5 -1.4 -1.0zM539.4 367.2l2.2 -1.2 1.2 -1.2 -1.6 .7zM439.1 371.9l2.0 -1.4 1.0 -1.3 -1.4 .9zM443.2 370.3l2.3 .6 1.6 -.1 -1.5 -.5zM448.2 369.1l1.6 2.0 1.4 1.0 -1.0 -1.4zM478.1 372.4l-.9 -2.3 -1.0 -1.3 .5 1.6zM482.7 372.3l-1.0 -2.3 -1.1 -1.3 .6 1.6zM487.4 372.2l-1.1 -2.2 -1.1 -1.2 .6 1.5zM491.6 372.4l-.6 -2.3 -.9 -1.3 .3 1.6zM493.9 369.2l1.6 1.8 1.4 .8 -1.0 -1.3zM498.7 369.0l1.3 2.1 1.2 1.1 -.8 -1.5zM503.4 368.8l1.1 2.2 1.1 1.2 -.6 -1.5zM534.9 369.3l1.8 1.8 1.5 .8 -1.2 -1.2zM539.4 371.8l2.2 -1.2 1.2 -1.2 -1.5 .7zM439.1 376.5l2.0 -1.4 1.0 -1.3 -1.4 .9zM443.1 375.2l2.4 .1 1.6 -.4 -1.6 -.2zM448.0 373.9l1.8 1.7 1.5 .8 -1.2 -1.2zM478.6 376.6l-1.5 -2.0 -1.4 -1.0 .9 1.4zM483.3 376.3l-1.8 -1.7 -1.5 -.7 1.1 1.2zM488.2 375.7l-2.2 -1.0 -1.6 -.2 1.4 .8zM492.7 374.3l-2.3 .7 -1.3 .9 1.6 -.4zM495.8 373.2l-.8 2.3 -.0 1.6 .6 -1.5zM499.7 373.1l-.0 2.4 .5 1.6 .1 -1.6zM504.1 373.1l.2 2.5 .6 1.5 -.1 -1.7zM535.1 373.6l1.5 2.0 1.4 1.0 -.9 -1.4zM539.5 376.5l2.1 -1.4 1.1 -1.3 -1.5 .9zM439.1 381.1l2.0 -1.5 1.0 -1.4 -1.4 .9zM443.2 380.3l2.4 -.4 1.5 -.7 -1.6 .2zM447.9 378.7l2.0 1.4 1.6 .5 -1.3 -1.0zM483.6 380.4l-2.2 -1.1 -1.6 -.3 1.4 .8zM488.3 379.7l-2.4 -.3 -1.6 .3 1.6 .3zM492.6 378.8l-2.3 .8 -1.3 1.0 1.6 -.5zM496.6 378.0l-1.6 1.8 -.7 1.5 1.2 -1.2zM500.5 377.7l-1.0 2.3 -.2 1.7 .7 -1.5zM504.7 377.6l-.5 2.4 .1 1.7 .5 -1.6zM535.4 377.9l1.1 2.3 1.2 1.2 -.7 -1.6zM539.6 381.1l2.0 -1.5 1.0 -1.4 -1.4 1.0zM443.3 385.2l2.3 -.8 1.3 -1.0 -1.6 .5zM447.7 383.7l2.3 .9 1.7 .1 -1.5 -.7zM488.3 384.0l-2.5 -.0 -1.6 .5 1.7 .1zM492.7 383.4l-2.4 .8 -1.4 1.0 1.6 -.4zM496.9 382.8l-2.0 1.5 -1.0 1.4 1.4 -.9zM501.0 382.5l-1.5 2.0 -.6 1.6 1.1 -1.3zM536.1 382.2l.2 2.5 .6 1.6 -.1 -1.7zM539.7 385.7l1.9 -1.6 .9 -1.4 -1.4 1.0zM443.5 390.0l2.2 -1.2 1.2 -1.2 -1.5 .7zM447.7 389.0l2.5 .1 1.6 -.4 -1.7 -.2zM531.3 386.9l.5 2.4 .8 1.4 -.2 -1.6zM535.8 390.7l1.2 -2.2 .3 -1.7 -.9 1.4zM443.6 394.8l2.1 -1.5 1.0 -1.3 -1.4 .9zM447.8 394.2l2.4 -.7 1.4 -.9 -1.6 .4zM452.3 393.3l2.4 .4 1.6 -.2 -1.6 -.4zM531.9 391.3l-.2 2.5 .4 1.7 .2 -1.7zM535.3 395.1l1.7 -1.8 .8 -1.5 -1.2 1.2zM448.0 399.2l2.2 -1.2 1.2 -1.2 -1.5 .7zM452.3 398.6l2.5 -.4 1.5 -.8 -1.7 .2zM456.8 398.0l2.5 .3 1.7 -.3 -1.7 -.3zM527.4 395.9l-.3 2.5 .3 1.7 .3 -1.7zM531.2 399.9l1.3 -2.2 .4 -1.7 -.9 1.4zM452.6 403.6l2.2 -1.1 1.2 -1.1 -1.5 .6zM456.9 403.2l2.4 -.5 1.4 -.8 -1.6 .2zM461.3 402.8l2.5 -.1 1.6 -.5 -1.7 -.1zM522.6 404.6l.6 -2.5 -.1 -1.7 -.5 1.6zM526.7 404.5l1.1 -2.3 .3 -1.7 -.8 1.5zM530.6 404.2l1.8 -1.8 .8 -1.5 -1.3 1.1zM452.7 408.5l2.0 -1.5 1.0 -1.4 -1.4 .9zM457.2 408.2l2.2 -1.1 1.2 -1.2 -1.5 .7zM461.6 408.0l2.3 -.8 1.3 -1.0 -1.6 .4zM466.1 407.8l2.4 -.5 1.4 -.8 -1.6 .2zM517.7 409.1l.9 -2.4 .1 -1.7 -.7 1.5zM522.0 409.0l1.2 -2.2 .4 -1.7 -.9 1.4zM526.1 408.8l1.8 -1.8 .8 -1.5 -1.3 1.2zM457.3 413.1l2.0 -1.5 1.0 -1.4 -1.4 .9zM461.8 412.9l2.1 -1.3 1.1 -1.2 -1.5 .8zM466.3 412.8l2.1 -1.1 1.2 -1.1 -1.5 .6zM470.9 412.7l2.2 -1.0 1.2 -1.1 -1.5 .6zM475.4 412.7l2.2 -1.0 1.2 -1.1 -1.5 .6zM503.6 413.5l1.4 -2.1 .5 -1.6 -1.1 1.3zM508.3 413.6l1.3 -2.2 .4 -1.6 -1.0 1.4zM512.8 413.6l1.3 -2.2 .4 -1.7 -1.0 1.4zM517.2 413.5l1.5 -2.0 .6 -1.6 -1.1 1.3zM521.5 413.3l1.8 -1.8 .8 -1.5 -1.3 1.1zM466.5 417.6l2.0 -1.4 1.0 -1.3 -1.4 .9zM471.1 417.5l2.0 -1.3 1.0 -1.3 -1.4 .8zM475.6 417.5l2.0 -1.3 1.0 -1.2 -1.4 .8zM480.2 417.5l2.0 -1.3 1.0 -1.3 -1.4 .8zM484.9 417.6l1.9 -1.4 .9 -1.3 -1.3 .9zM489.5 417.7l1.8 -1.6 .9 -1.4 -1.3 1.0zM494.1 417.8l1.8 -1.7 .8 -1.5 -1.2 1.1zM498.8 417.9l1.7 -1.8 .7 -1.5 -1.2 1.2zM503.4 418.0l1.6 -1.9 .7 -1.6 -1.2 1.2zM508.0 418.0l1.6 -1.9 .7 -1.6 -1.2 1.2zM512.4 417.9l1.8 -1.8 .8 -1.5 -1.2 1.2zM471.1 422.3l2.0 -1.6 1.0 -1.4 -1.4 1.0zM475.7 422.2l2.0 -1.5 1.0 -1.4 -1.4 .9zM480.3 422.2l1.9 -1.4 .9 -1.3 -1.3 .9zM484.9 422.2l1.8 -1.5 .9 -1.3 -1.3 .9zM489.5 422.3l1.8 -1.5 .8 -1.4 -1.3 1.0zM494.1 422.3l1.8 -1.6 .8 -1.4 -1.3 1.0zM498.7 422.4l1.8 -1.7 .8 -1.4 -1.3 1.0zM503.2 422.4l1.9 -1.7 .9 -1.4 -1.3 1.0z"/>
<path fill="#c44848" stroke="#c44848" stroke-width="0.25" d="M554.5 315.7l2.4 .3 1.6 -.3 -1.6 -.3zM559.1 315.7l2.4 .3 1.6 -.3 -1.6 -.3zM563.6 315.7l2.4 .3 1.6 -.3 -1.6 -.3zM568.2 315.7l2.4 .3 1.6 -.3 -1.6 -.3zM572.8 315.7l2.4 .3 1.6 -.3 -1.6 -.3zM577.3 315.7l2.4 .3 1.6 -.3 -1.6 -.3zM581.8 315.7l2.5 .3 1.7 -.3 -1.7 -.3zM641.3 315.7l2.5 .3 1.6 -.3 -1.6 -.3zM645.9 315.7l2.4 .3 1.6 -.3 -1.6 -.3zM650.5 315.7l2.3 .3 1.6 -.3 -1.6 -.3zM655.1 315.7l2.3 .3 1.6 -.3 -1.6 -.3zM659.6 315.7l2.4 .3 1.6 -.3 -1.6 -.3zM664.2 315.7l2.4 .3 1.6 -.3 -1.6 -.3zM554.5 320.3l2.4 .3 1.6 -.3 -1.6 -.3zM559.1 320.3l2.4 .3 1.6 -.3 -1.6 -.3zM563.7 320.3l2.4 .3 1.6 -.3 -1.6 -.3zM568.2 320.3l2.4 .3 1.6 -.3 -1.6 -.3zM572.7 320.3l2.5 .3 1.7 -.3 -1.7 -.3zM645.8 320.3l2.5 .3 1.7 -.3 -1.7 -.3zM650.5 320.3l2.4 .3 1.6 -.3 -1.6 -.3zM655.1 320.3l2.3 .3 1.6 -.3 -1.6 -.3zM659.6 320.3l2.4 .3 1.6 -.3 -1.6 -.3zM664.2 320.3l2.4 .3 1.6 -.3 -1.6 -.3zM554.5 324.8l2.3 .3 1.6 -.3 -1.6 -.3zM559.1 324.8l2.3 .3 1.6 -.3 -1.6 -.3zM563.7 324.8l2.3 .3 1.6 -.3 -1.6 -.3zM568.1 324.8l2.5 .3 1.7 -.3 -1.7 -.3zM650.4 324.8l2.5 .3 1.7 -.3 -1.7 -.3zM655.0 324.8l2.4 .3 1.6 -.3 -1.6 -.3zM659.6 324.8l2.4 .3 1.6 -.3 -1.6 -.3zM664.2 324.8l2.4 .3 1.6 -.3 -1.6 -.3zM554.6 329.4l2.3 .3 1.6 -.3 -1.6 -.3zM559.1 329.4l2.3 .3 1.6 -.3 -1.6 -.3zM563.6 329.4l2.5 .3 1.7 -.3 -1.7 -.3zM596.5 327.6l1.1 2.3 1.1 1.3 -.6 -1.6zM601.6 327.5l.5 2.4 .8 1.5 -.2 -1.7zM606.5 327.5l.1 2.4 .5 1.5 .0 -1.6zM611.3 327.5l-.2 2.3 .4 1.5 .2 -1.5zM615.8 331.3l.5 -2.3 -.2 -1.5 -.4 1.5zM620.1 331.4l.7 -2.3 .0 -1.6 -.6 1.5zM624.4 331.4l1.1 -2.3 .2 -1.7 -.8 1.5zM654.9 329.4l2.5 .3 1.7 -.3 -1.7 -.3zM659.6 329.4l2.4 .3 1.6 -.3 -1.6 -.3zM664.2 329.4l2.4 .3 1.6 -.3 -1.6 -.3zM554.5 334.0l2.3 .3 1.6 -.3 -1.6 -.3zM559.0 334.0l2.5 .3 1.6 -.3 -1.6 -.3zM592.1 332.3l.9 2.1 1.0 1.2 -.5 -1.5zM598.1 335.2l-.2 -1.5 -.6 -.9 .1 1.1zM602.4 334.8l.1 -1.1 -.4 -.6 -.2 .7zM606.8 334.9l.2 -1.1 -.3 -.7 -.3 .7zM611.3 334.9l.4 -1.1 -.3 -.7 -.3 .7zM615.7 334.9l.5 -1.0 -.2 -.8 -.4 .6zM620.2 334.8l.6 -.9 -.1 -.8 -.5 .6zM624.7 334.8l.7 -.9 -.0 -.8 -.5 .5zM628.9 335.5l1.1 -1.7 .3 -1.4 -.9 1.1zM633.1 335.7l1.6 -1.9 .6 -1.6 -1.1 1.2zM659.5 334.0l2.5 .3 1.7 -.3 -1.7 -.3zM664.2 334.0l2.4 .3 1.6 -.3 -1.6 -.3zM554.5 338.6l2.4 .3 1.6 -.3 -1.6 -.3zM582.4 337.2l1.7 1.9 1.5 .9 -1.1 -1.3zM589.3 339.8l-.8 -1.6 -.9 -.8 .4 1.1zM593.5 339.3l-.2 -1.1 -.6 -.5 .0 .8zM597.9 339.4l-.0 -1.1 -.5 -.6 -.1 .8zM602.3 339.5l.1 -1.2 -.4 -.7 -.2 .8zM606.8 339.5l.3 -1.1 -.3 -.8 -.3 .8zM611.2 339.5l.5 -1.1 -.2 -.8 -.4 .7zM615.6 339.5l.6 -1.0 -.1 -.8 -.5 .6zM620.1 339.4l.7 -.9 .0 -.8 -.6 .6zM624.6 339.4l.8 -.8 .1 -.8 -.6 .5zM629.1 339.3l.8 -.7 .2 -.8 -.6 .4zM633.7 339.2l.9 -.7 .2 -.7 -.7 .4zM637.5 340.0l1.7 -1.6 .8 -1.4 -1.2 1.0zM664.1 338.6l2.5 .3 1.7 -.3 -1.7 -.3zM554.4 343.1l2.5 .3 1.7 -.3 -1.7 -.3zM577.6 342.0l1.9 1.6 1.6 .6 -1.2 -1.1zM584.8 344.0l-.8 -1.3 -.9 -.5 .5 .9zM589.0 343.9l-.4 -1.1 -.7 -.4 .2 .8zM593.5 344.0l-.2 -1.1 -.6 -.5 .1 .8zM597.9 344.1l-.0 -1.2 -.5 -.7 -.1 .8zM602.3 344.1l.2 -1.2 -.4 -.8 -.2 .8zM606.7 344.1l.4 -1.2 -.3 -.8 -.3 .8zM611.1 344.1l.6 -1.1 -.1 -.9 -.5 .7zM615.5 344.1l.7 -1.0 .0 -.9 -.6 .6zM620.0 344.0l.9 -.9 .1 -.8 -.7 .5zM624.5 343.9l.9 -.8 .2 -.8 -.7 .4zM629.0 343.8l1.0 -.6 .3 -.8 -.7 .4zM633.5 343.8l1.0 -.6 .3 -.7 -.7 .3zM638.1 343.7l1.0 -.5 .3 -.7 -.7 .3zM641.9 344.4l1.9 -1.3 .9 -1.2 -1.3 .8zM580.6 348.6l-1.3 -1.3 -1.2 -.5 .8 1.0zM584.6 348.3l-.6 -1.0 -.7 -.3 .3 .7zM589.0 348.5l-.4 -1.1 -.7 -.4 .2 .8zM593.5 348.6l-.3 -1.2 -.6 -.6 .1 .8zM597.9 348.7l-.1 -1.3 -.5 -.7 -.0 .9zM602.3 348.7l.1 -1.3 -.4 -.8 -.2 .9zM606.7 348.7l.4 -1.3 -.3 -.9 -.3 .8zM611.1 348.7l.6 -1.2 -.1 -.9 -.5 .8zM615.5 348.6l.8 -1.0 .1 -.9 -.6 .6zM619.9 348.5l1.0 -.8 .2 -.9 -.7 .5zM624.3 348.4l1.1 -.7 .4 -.8 -.8 .4zM628.8 348.3l1.1 -.5 .4 -.7 -.8 .3zM633.4 348.3l1.1 -.4 .5 -.7 -.8 .2zM638.0 348.2l1.1 -.4 .4 -.7 -.8 .2zM642.6 348.2l1.0 -.3 .4 -.6 -.7 .1zM646.2 348.8l2.2 -1.0 1.2 -1.1 -1.5 .6zM573.0 351.5l2.0 1.2 1.5 .4 -1.3 -.9zM580.1 352.8l-.7 -.8 -.8 -.1 .4 .6zM584.6 352.9l-.6 -1.0 -.8 -.3 .4 .7zM589.1 353.0l-.5 -1.1 -.7 -.4 .3 .8zM593.6 353.1l-.4 -1.2 -.7 -.6 .2 .9zM598.0 353.2l-.2 -1.3 -.6 -.7 .0 .9zM602.4 353.5l-.0 -1.6 -.5 -.9 -.1 1.1zM606.7 354.1l.3 -2.2 -.3 -1.5 -.3 1.5zM610.9 354.2l.9 -2.2 .1 -1.6 -.7 1.4zM615.0 353.9l1.3 -1.9 .5 -1.5 -1.0 1.2zM619.4 353.5l1.5 -1.3 .6 -1.2 -1.1 .8zM624.2 352.9l1.2 -.6 .5 -.8 -.9 .3zM628.7 352.8l1.2 -.4 .6 -.7 -.9 .2zM633.3 352.7l1.2 -.3 .6 -.6 -.9 .1zM637.9 352.7l1.2 -.2 .6 -.6 -.8 .0zM642.5 352.6l1.1 -.2 .5 -.6 -.8 .0zM646.6 352.9l1.7 -.5 .9 -.8 -1.2 .3zM576.1 357.4l-1.5 -.9 -1.2 -.1 .9 .7zM580.1 357.3l-.8 -.8 -.8 -.1 .5 .6zM584.7 357.4l-.7 -.9 -.8 -.2 .4 .7zM589.2 357.6l-.6 -1.1 -.8 -.4 .4 .8zM593.7 357.7l-.5 -1.2 -.7 -.5 .3 .9zM598.4 358.2l-.7 -1.8 -.9 -1.0 .4 1.3zM602.9 358.8l-.5 -2.5 -.8 -1.5 .3 1.7zM619.0 358.3l2.0 -1.5 1.0 -1.4 -1.4 .9zM623.4 357.8l2.1 -.9 1.2 -1.0 -1.5 .5zM628.6 357.2l1.3 -.2 .7 -.6 -.9 .0zM633.2 357.1l1.3 -.1 .7 -.5 -.9 -.0zM637.8 357.1l1.2 -.0 .7 -.5 -.8 -.1zM642.4 357.1l1.2 -.0 .6 -.5 -.8 -.1zM647.1 357.1l1.1 -.0 .6 -.5 -.8 -.1zM650.5 357.5l2.4 -.5 1.4 -.8 -1.6 .2zM568.2 361.1l2.4 .7 1.7 -.0 -1.6 -.5zM575.6 361.7l-.9 -.6 -.8 .1 .6 .5zM580.2 361.8l-.9 -.7 -.8 -.0 .6 .6zM584.8 361.9l-.9 -.9 -.8 -.2 .5 .7zM589.3 362.0l-.8 -1.0 -.8 -.3 .5 .7zM593.9 362.2l-.8 -1.2 -.9 -.4 .5 .9zM599.0 363.0l-1.4 -2.1 -1.3 -1.1 .8 1.5zM623.1 362.1l2.5 -.6 1.5 -.9 -1.7 .3zM627.9 361.8l2.1 -.1 1.3 -.6 -1.4 -.0zM633.1 361.5l1.3 .1 .8 -.4 -.9 -.2zM637.8 361.5l1.2 .2 .8 -.4 -.8 -.2zM642.4 361.5l1.2 .2 .7 -.4 -.8 -.2zM647.0 361.5l1.1 .1 .7 -.4 -.8 -.2zM650.7 361.8l2.2 -.2 1.3 -.6 -1.5 .1zM568.2 365.8l2.4 .5 1.6 -.2 -1.6 -.4zM575.6 366.2l-1.0 -.5 -.8 .1 .6 .4zM580.2 366.3l-1.0 -.6 -.8 .0 .6 .5zM584.8 366.4l-1.0 -.8 -.9 -.1 .6 .6zM589.4 366.5l-1.0 -.9 -.9 -.1 .6 .7zM594.5 366.9l-1.6 -1.4 -1.3 -.5 1.0 1.0zM599.4 367.2l-1.9 -1.7 -1.6 -.7 1.2 1.2zM627.6 365.9l2.4 .3 1.6 -.3 -1.6 -.3zM633.1 365.9l1.3 .4 .9 -.2 -.8 -.4zM637.7 365.9l1.2 .4 .8 -.2 -.8 -.4zM642.4 365.9l1.2 .3 .8 -.3 -.8 -.3zM647.0 366.0l1.1 .3 .7 -.3 -.7 -.3zM650.9 366.1l1.9 .1 1.2 -.4 -1.3 -.2zM568.2 370.6l2.4 .3 1.6 -.3 -1.6 -.3zM575.7 370.6l-1.0 -.4 -.7 .2 .7 .4zM580.3 370.7l-1.1 -.5 -.8 .2 .7 .4zM584.9 370.8l-1.1 -.6 -.9 .1 .7 .5zM589.5 370.9l-1.1 -.7 -.9 .0 .7 .5zM594.8 371.1l-2.0 -1.0 -1.5 -.2 1.3 .8zM627.6 370.0l2.3 .9 1.7 .1 -1.5 -.7zM633.1 370.2l1.2 .6 .9 -.1 -.8 -.5zM637.8 370.3l1.1 .6 .9 -.1 -.7 -.5zM642.4 370.4l1.1 .5 .8 -.1 -.7 -.4zM647.0 370.4l1.1 .4 .8 -.2 -.7 -.4zM651.0 370.5l1.7 .3 1.2 -.3 -1.2 -.3zM568.2 375.3l2.4 .0 1.6 -.5 -1.6 -.1zM575.7 375.1l-1.1 -.3 -.7 .3 .7 .3zM580.3 375.2l-1.1 -.4 -.8 .3 .7 .3zM584.9 375.2l-1.2 -.4 -.8 .2 .8 .4zM589.5 375.2l-1.2 -.4 -.9 .2 .8 .4zM594.9 375.3l-2.1 -.5 -1.5 .2 1.4 .4zM627.8 374.1l2.0 1.5 1.6 .6 -1.3 -1.1zM633.2 374.6l1.0 .9 .9 .1 -.6 -.7zM637.8 374.7l1.0 .8 .9 .1 -.6 -.6zM642.4 374.8l1.0 .7 .8 -.0 -.6 -.5zM647.0 374.9l1.0 .5 .8 -.1 -.6 -.5zM650.9 374.9l1.8 .5 1.3 -.2 -1.2 -.4zM568.2 380.1l2.5 -.2 1.6 -.6 -1.7 .1zM575.6 379.5l-1.1 -.1 -.6 .4 .7 .2zM580.3 379.6l-1.1 -.2 -.7 .4 .8 .2zM584.9 379.6l-1.2 -.2 -.8 .4 .8 .2zM589.5 379.6l-1.3 -.2 -.8 .4 .9 .2zM594.4 379.5l-1.7 -.1 -1.0 .4 1.1 .2zM599.6 379.2l-2.5 .3 -1.5 .7 1.7 -.1zM623.7 378.1l1.4 2.1 1.3 1.1 -.8 -1.5zM628.3 378.4l1.4 1.8 1.3 .8 -.9 -1.2zM633.4 379.0l.8 1.0 .9 .3 -.5 -.8zM637.9 379.1l.9 .9 .8 .2 -.5 -.7zM642.5 379.3l.9 .8 .8 .1 -.6 -.6zM647.1 379.4l.9 .6 .8 -.0 -.6 -.5zM650.7 379.3l2.0 .7 1.4 .0 -1.3 -.6zM568.2 384.8l2.5 -.4 1.5 -.8 -1.7 .2zM576.0 383.9l-1.5 .2 -.9 .6 1.0 -.0zM580.2 384.0l-1.1 -.0 -.6 .5 .8 .1zM584.9 384.0l-1.2 -.0 -.7 .5 .8 .1zM589.5 384.0l-1.3 .0 -.7 .5 .9 .1zM594.1 383.9l-1.3 .1 -.7 .5 .9 .0zM599.2 383.5l-2.1 .6 -1.2 .9 1.4 -.3zM603.9 383.0l-2.2 1.2 -1.2 1.2 1.5 -.7zM619.9 382.2l.4 2.5 .7 1.5 -.2 -1.7zM624.1 382.5l.8 2.3 1.0 1.3 -.5 -1.6zM629.0 383.4l.5 1.2 .7 .5 -.3 -.9zM633.5 383.5l.6 1.1 .8 .4 -.3 -.8zM638.0 383.6l.7 1.0 .8 .3 -.4 -.7zM642.5 383.7l.8 .9 .8 .1 -.5 -.7zM647.1 383.9l.8 .7 .8 .0 -.5 -.6zM650.5 383.7l2.2 .9 1.6 .1 -1.5 -.7zM573.1 389.6l2.2 -.7 1.2 -.9 -1.5 .4zM580.2 388.5l-1.1 .2 -.5 .6 .8 -.0zM584.8 388.5l-1.2 .2 -.6 .6 .8 -.0zM589.4 388.4l-1.2 .2 -.6 .6 .8 -.0zM594.0 388.3l-1.2 .3 -.6 .6 .9 -.1zM598.5 388.2l-1.2 .5 -.5 .7 .9 -.2zM603.4 387.7l-1.6 1.1 -.7 1.1 1.1 -.7zM607.9 387.2l-1.6 1.8 -.6 1.5 1.1 -1.1zM612.0 386.9l-1.1 2.2 -.3 1.6 .8 -1.4zM616.1 386.8l-.5 2.4 .1 1.6 .5 -1.6zM620.2 387.0l-.0 2.2 .5 1.4 .1 -1.5zM624.7 387.8l.1 1.3 .6 .7 .0 -.9zM629.1 387.9l.3 1.3 .7 .6 -.1 -.9zM633.6 388.0l.5 1.2 .7 .5 -.2 -.8zM638.1 388.1l.6 1.0 .8 .3 -.3 -.8zM642.6 388.3l.7 .9 .8 .2 -.4 -.7zM646.8 388.2l1.2 1.0 1.0 .2 -.7 -.7zM572.9 394.4l2.4 -.9 1.3 -1.1 -1.6 .5zM580.4 392.7l-1.5 .6 -.7 .8 1.0 -.3zM584.7 392.9l-1.1 .3 -.5 .6 .8 -.1zM589.3 392.9l-1.1 .4 -.5 .7 .8 -.2zM593.9 392.8l-1.1 .5 -.5 .7 .8 -.2zM598.4 392.7l-1.1 .6 -.4 .8 .8 -.3zM602.9 392.6l-1.1 .8 -.3 .8 .8 -.4zM607.3 392.5l-.9 .9 -.2 .9 .7 -.6zM611.7 392.4l-.7 1.1 -.0 .9 .6 -.7zM616.1 392.3l-.5 1.2 .2 .9 .4 -.8zM620.4 392.3l-.2 1.3 .3 .8 .2 -.9zM624.8 392.4l.0 1.3 .5 .7 .1 -.9zM629.2 392.5l.2 1.2 .6 .6 -.0 -.9zM633.7 392.6l.4 1.1 .7 .5 -.2 -.8zM638.1 392.7l.5 1.0 .7 .4 -.3 -.8zM642.7 392.8l.6 .9 .7 .2 -.4 -.7zM646.2 392.4l1.9 1.4 1.5 .5 -1.2 -1.0zM554.4 398.0l2.5 .3 1.7 -.3 -1.7 -.3zM577.7 399.2l2.1 -1.3 1.1 -1.2 -1.5 .8zM584.6 397.4l-1.0 .5 -.3 .7 .7 -.2zM589.2 397.4l-1.0 .5 -.3 .7 .7 -.3zM593.7 397.3l-1.0 .6 -.3 .7 .8 -.3zM598.3 397.2l-1.0 .7 -.3 .8 .7 -.4zM602.8 397.1l-.9 .8 -.2 .8 .7 -.5zM607.2 397.0l-.8 1.0 -.1 .9 .6 -.6zM611.6 397.0l-.7 1.1 .0 .9 .5 -.7zM616.0 396.9l-.5 1.2 .2 .9 .4 -.8zM620.4 396.9l-.2 1.2 .3 .8 .3 -.8zM624.8 397.0l-.0 1.2 .5 .7 .1 -.8zM629.3 397.1l.1 1.2 .6 .6 -.0 -.8zM633.7 397.2l.3 1.1 .6 .5 -.1 -.8zM638.2 397.3l.5 1.0 .7 .3 -.2 -.7zM642.0 396.8l1.4 1.6 1.3 .7 -.9 -1.2zM554.5 402.5l2.4 .3 1.6 -.3 -1.6 -.3zM559.0 402.5l2.5 .3 1.7 -.3 -1.7 -.3zM582.5 404.0l1.9 -1.5 .9 -1.4 -1.3 1.0zM589.2 401.7l-1.0 .8 -.3 .8 .8 -.5zM593.6 401.8l-.9 .7 -.2 .8 .7 -.4zM598.1 401.8l-.9 .8 -.2 .8 .7 -.5zM602.6 401.7l-.8 .9 -.1 .8 .6 -.5zM607.1 401.6l-.7 1.0 .0 .8 .6 -.6zM611.6 401.6l-.6 1.1 .1 .8 .5 -.7zM616.0 401.6l-.4 1.1 .2 .8 .4 -.7zM620.4 401.6l-.2 1.2 .4 .7 .2 -.8zM624.8 401.6l-.0 1.2 .5 .7 .1 -.8zM629.3 401.7l.1 1.1 .6 .6 .0 -.8zM633.7 401.8l.3 1.1 .6 .4 -.1 -.8zM637.6 401.2l1.1 1.8 1.1 .9 -.7 -1.3zM641.6 401.4l1.9 1.6 1.6 .6 -1.2 -1.1zM664.1 402.5l2.5 .3 1.6 -.3 -1.6 -.3zM554.6 407.1l2.3 .3 1.5 -.3 -1.5 -.3zM559.1 407.1l2.4 .3 1.6 -.3 -1.6 -.3zM568.1 407.1l2.5 .3 1.7 -.3 -1.7 -.3zM572.7 407.2l2.5 .2 1.7 -.4 -1.7 -.2zM577.3 407.7l2.5 -.4 1.5 -.8 -1.7 .2zM587.3 408.8l1.7 -1.8 .7 -1.5 -1.2 1.2zM593.9 405.6l-1.2 1.7 -.4 1.4 .9 -1.1zM598.0 406.3l-.7 .8 -.0 .8 .6 -.5zM602.5 406.3l-.7 .9 .0 .8 .5 -.6zM607.0 406.2l-.6 1.0 .1 .8 .5 -.6zM611.5 406.2l-.4 1.0 .2 .8 .4 -.7zM615.9 406.2l-.3 1.1 .3 .7 .3 -.7zM620.4 406.2l-.2 1.1 .4 .7 .2 -.7zM624.8 406.3l-.0 1.1 .5 .6 .1 -.8zM629.1 405.8l.4 1.6 .7 .9 -.2 -1.1zM633.0 405.5l1.1 2.1 1.2 1.1 -.7 -1.5zM637.1 405.9l1.8 1.7 1.5 .8 -1.1 -1.2zM641.3 406.4l2.3 1.1 1.7 .3 -1.5 -.8zM645.8 406.9l2.5 .6 1.7 -.1 -1.6 -.5zM659.5 407.1l2.5 .3 1.7 -.3 -1.7 -.3zM664.4 407.1l2.2 .3 1.5 -.3 -1.5 -.3zM554.7 411.7l2.2 .3 1.5 -.3 -1.5 -.3zM559.3 411.7l2.1 .3 1.4 -.3 -1.4 -.3zM563.6 411.7l2.4 .3 1.6 -.3 -1.6 -.3zM568.1 411.7l2.5 .3 1.7 -.3 -1.7 -.3zM572.7 411.7l2.5 .3 1.7 -.3 -1.7 -.3zM577.3 411.7l2.5 .2 1.7 -.3 -1.7 -.3zM581.9 412.1l2.5 -.2 1.6 -.6 -1.7 .0zM586.7 412.8l2.3 -1.2 1.2 -1.2 -1.6 .7zM591.9 413.4l1.6 -2.0 .7 -1.6 -1.2 1.2zM596.9 413.6l1.2 -2.2 .3 -1.7 -.9 1.5zM601.7 413.6l.8 -2.2 .1 -1.6 -.7 1.4zM607.0 409.9l-.6 2.0 .1 1.4 .5 -1.3zM611.4 410.0l-.4 2.0 .3 1.3 .3 -1.3zM615.8 410.0l-.1 2.0 .4 1.3 .2 -1.4zM620.1 409.9l.2 2.2 .6 1.4 -.0 -1.5zM624.3 409.8l.6 2.4 .9 1.4 -.3 -1.6zM628.5 410.1l1.1 2.0 1.1 1.1 -.7 -1.4zM632.5 410.5l1.9 1.6 1.5 .7 -1.2 -1.2zM636.8 411.1l2.3 1.0 1.7 .2 -1.5 -.8zM641.3 411.5l2.5 .5 1.7 -.1 -1.6 -.5zM645.8 411.7l2.5 .3 1.7 -.3 -1.7 -.3zM650.4 411.7l2.5 .3 1.7 -.3 -1.7 -.3zM655.0 411.7l2.5 .3 1.7 -.3 -1.7 -.3zM659.8 411.7l2.2 .3 1.5 -.3 -1.5 -.3zM664.4 411.7l2.1 .3 1.4 -.3 -1.4 -.3zM554.7 416.2l2.2 .3 1.5 -.3 -1.5 -.3zM559.3 416.2l2.1 .3 1.4 -.3 -1.4 -.3zM564.0 416.2l2.0 .3 1.3 -.3 -1.3 -.3zM568.2 416.2l2.4 .3 1.6 -.3 -1.6 -.3zM572.7 416.2l2.5 .3 1.7 -.3 -1.7 -.3zM577.3 416.2l2.5 .3 1.7 -.3 -1.7 -.3zM581.8 416.2l2.5 .3 1.7 -.3 -1.7 -.3zM586.4 416.4l2.5 .1 1.7 -.4 -1.7 -.2zM591.0 416.6l2.5 -.2 1.6 -.6 -1.7 .0zM595.8 417.3l2.3 -1.0 1.3 -1.1 -1.6 .6zM601.4 418.2l1.2 -2.2 .3 -1.7 -.9 1.4zM606.7 418.3l.4 -2.5 -.2 -1.7 -.4 1.7zM611.0 414.2l.1 2.5 .5 1.6 .1 -1.7zM615.2 414.3l.6 2.4 .9 1.4 -.3 -1.7zM619.3 414.6l1.2 2.2 1.2 1.2 -.7 -1.5zM623.4 415.1l1.8 1.7 1.5 .7 -1.2 -1.2zM627.7 415.5l2.2 1.1 1.7 .3 -1.4 -.8zM632.2 415.9l2.4 .7 1.7 -.0 -1.6 -.6zM636.7 416.2l2.5 .4 1.7 -.3 -1.7 -.3zM641.2 416.2l2.5 .3 1.7 -.3 -1.7 -.3zM645.8 416.2l2.5 .3 1.7 -.3 -1.7 -.3zM650.4 416.2l2.5 .3 1.6 -.3 -1.6 -.3zM655.2 416.2l2.2 .3 1.5 -.3 -1.5 -.3zM659.9 416.2l2.0 .3 1.4 -.3 -1.4 -.3zM664.4 416.2l2.1 .3 1.4 -.3 -1.4 -.3zM554.7 420.8l2.2 .3 1.4 -.3 -1.4 -.3zM559.3 420.8l2.1 .3 1.4 -.3 -1.4 -.3zM564.0 420.8l2.0 .3 1.3 -.3 -1.3 -.3zM568.6 420.8l1.9 .3 1.3 -.3 -1.3 -.3zM572.9 420.8l2.3 .3 1.5 -.3 -1.5 -.3zM577.3 420.8l2.5 .3 1.7 -.3 -1.7 -.3zM581.8 420.8l2.5 .3 1.7 -.3 -1.7 -.3zM586.4 420.8l2.5 .3 1.7 -.3 -1.7 -.3zM591.0 420.8l2.5 .3 1.7 -.3 -1.7 -.3zM595.5 420.8l2.5 .3 1.7 -.3 -1.7 -.3zM600.1 420.8l2.5 .3 1.7 -.3 -1.7 -.3zM604.7 420.7l2.5 .4 1.7 -.2 -1.7 -.4zM609.3 420.6l2.5 .5 1.7 -.1 -1.6 -.5zM613.8 420.5l2.4 .6 1.7 -.1 -1.6 -.5zM618.4 420.6l2.4 .6 1.7 -.1 -1.6 -.5zM623.0 420.7l2.5 .5 1.7 -.2 -1.6 -.4zM627.6 420.8l2.5 .3 1.7 -.3 -1.6 -.3zM632.1 420.8l2.5 .3 1.7 -.3 -1.7 -.3zM636.7 420.8l2.5 .3 1.7 -.3 -1.7 -.3zM641.2 420.8l2.5 .3 1.7 -.3 -1.7 -.3zM645.9 420.8l2.4 .3 1.6 -.3 -1.6 -.3zM650.7 420.8l2.1 .3 1.4 -.3 -1.4 -.3zM655.4 420.8l2.0 .3 1.3 -.3 -1.3 -.3zM659.9 420.8l2.0 .3 1.4 -.3 -1.4 -.3zM664.4 420.8l2.1 .3 1.4 -.3 -1.4 -.3zM554.7 425.4l2.1 .3 1.4 -.3 -1.4 -.3zM559.4 425.4l2.0 .3 1.4 -.3 -1.4 -.3zM564.0 425.4l1.9 .3 1.3 -.3 -1.3 -.3zM568.6 425.4l1.9 .3 1.3 -.3 -1.3 -.3zM573.3 425.4l1.8 .3 1.2 -.3 -1.2 -.3zM577.6 425.4l2.1 .3 1.4 -.3 -1.4 -.3zM581.9 425.4l2.4 .3 1.6 -.3 -1.6 -.3zM586.4 425.4l2.5 .3 1.7 -.3 -1.7 -.3zM591.0 425.4l2.5 .3 1.7 -.3 -1.7 -.3zM595.5 425.4l2.5 .3 1.7 -.3 -1.7 -.3zM600.1 425.4l2.5 .3 1.7 -.3 -1.7 -.3zM604.7 425.4l2.5 .3 1.7 -.3 -1.7 -.3zM609.3 425.4l2.5 .3 1.7 -.3 -1.7 -.3zM613.8 425.4l2.5 .3 1.7 -.3 -1.7 -.3zM618.4 425.4l2.5 .3 1.7 -.3 -1.7 -.3zM623.0 425.4l2.5 .3 1.7 -.3 -1.7 -.3zM627.5 425.4l2.5 .3 1.7 -.3 -1.7 -.3zM632.1 425.4l2.5 .3 1.7 -.3 -1.7 -.3zM636.7 425.4l2.4 .3 1.6 -.3 -1.6 -.3zM641.5 425.4l2.2 .3 1.5 -.3 -1.5 -.3zM646.3 425.4l1.9 .3 1.3 -.3 -1.3 -.3zM650.8 425.4l2.0 .3 1.3 -.3 -1.3 -.3zM655.4 425.4l2.0 .3 1.3 -.3 -1.3 -.3zM659.9 425.4l2.1 .3 1.4 -.3 -1.4 -.3zM664.4 425.4l2.1 .3 1.4 -.3 -1.4 -.3z"/>
<path fill="#4c4cdc" stroke="#4c4cdc" stroke-width="0.25" d="M586.4 315.7l2.5 .3 1.7 -.3 -1.7 -.3zM591.0 315.7l2.4 .3 1.6 -.3 -1.6 -.3zM595.6 315.7l2.4 .3 1.6 -.3 -1.6 -.3zM600.2 315.7l2.4 .3 1.6 -.3 -1.6 -.3zM604.8 315.7l2.4 .3 1.6 -.3 -1.6 -.3zM609.4 315.7l2.4 .3 1.6 -.3 -1.6 -.3zM614.0 315.7l2.3 .3 1.6 -.3 -1.6 -.3zM618.5 315.7l2.3 .3 1.6 -.3 -1.6 -.3zM623.1 315.7l2.4 .3 1.6 -.3 -1.6 -.3zM627.6 315.7l2.4 .3 1.6 -.3 -1.6 -.3zM632.2 315.7l2.4 .3 1.6 -.3 -1.6 -.3zM636.7 315.7l2.5 .3 1.7 -.3 -1.7 -.3zM577.3 320.3l2.5 .3 1.7 -.3 -1.7 -.3zM581.9 320.3l2.5 .3 1.6 -.3 -1.6 -.3zM586.4 320.3l2.5 .3 1.6 -.3 -1.6 -.3zM591.0 320.3l2.4 .3 1.6 -.3 -1.6 -.3zM595.6 320.3l2.4 .3 1.6 -.3 -1.6 -.3zM600.2 320.2l2.4 .4 1.6 -.2 -1.6 -.4zM604.8 320.1l2.4 .5 1.6 -.2 -1.6 -.4zM609.4 320.1l2.3 .5 1.6 -.2 -1.6 -.4zM614.0 320.2l2.3 .4 1.6 -.2 -1.6 -.4zM618.5 320.3l2.3 .3 1.6 -.3 -1.6 -.3zM623.1 320.3l2.3 .3 1.6 -.3 -1.6 -.3zM627.7 320.3l2.4 .3 1.6 -.3 -1.6 -.3zM632.2 320.3l2.4 .3 1.6 -.3 -1.6 -.3zM636.7 320.3l2.4 .3 1.6 -.3 -1.6 -.3zM641.3 320.3l2.5 .3 1.6 -.3 -1.6 -.3zM572.7 324.8l2.5 .3 1.7 -.3 -1.7 -.3zM577.3 324.8l2.5 .3 1.6 -.3 -1.6 -.3zM581.9 324.8l2.5 .3 1.6 -.3 -1.6 -.3zM586.4 324.7l2.5 .4 1.7 -.2 -1.6 -.4zM591.0 324.5l2.4 .7 1.7 -.0 -1.6 -.6zM595.7 324.1l2.2 1.1 1.6 .3 -1.4 -.8zM600.5 323.7l1.9 1.6 1.5 .7 -1.2 -1.2zM605.5 323.3l1.3 2.1 1.3 1.1 -.8 -1.4zM610.6 323.0l.7 2.3 .9 1.4 -.4 -1.6zM615.6 322.9l.0 2.4 .5 1.5 .1 -1.6zM619.7 326.6l1.2 -2.0 .4 -1.6 -.9 1.3zM623.2 325.5l2.3 -.5 1.4 -.8 -1.6 .2zM627.7 325.1l2.4 -.0 1.5 -.5 -1.6 -.1zM632.2 324.9l2.4 .2 1.6 -.4 -1.6 -.2zM636.8 324.8l2.4 .3 1.6 -.3 -1.6 -.3zM641.3 324.8l2.4 .3 1.6 -.3 -1.6 -.3zM645.8 324.8l2.5 .3 1.6 -.3 -1.6 -.3zM568.1 329.4l2.5 .3 1.7 -.3 -1.7 -.3zM572.7 329.4l2.5 .3 1.7 -.3 -1.7 -.3zM577.3 329.4l2.5 .3 1.7 -.3 -1.7 -.3zM581.9 329.1l2.4 .7 1.7 -.1 -1.6 -.5zM586.6 328.7l2.2 1.2 1.6 .3 -1.4 -.9zM591.5 328.1l1.7 1.8 1.5 .8 -1.1 -1.3zM628.6 331.1l1.4 -1.9 .5 -1.5 -1.0 1.2zM632.6 330.6l2.1 -1.2 1.1 -1.2 -1.4 .7zM636.8 329.9l2.4 -.3 1.5 -.7 -1.6 .1zM641.3 329.5l2.4 .2 1.6 -.4 -1.6 -.2zM645.8 329.4l2.5 .3 1.6 -.3 -1.6 -.3zM650.4 329.4l2.5 .3 1.6 -.3 -1.6 -.3zM563.6 334.0l2.5 .3 1.7 -.3 -1.7 -.3zM568.2 334.0l2.5 .3 1.6 -.3 -1.6 -.3zM572.7 334.0l2.5 .3 1.6 -.3 -1.6 -.3zM577.3 333.6l2.4 .7 1.7 -.0 -1.6 -.6zM582.1 333.1l2.1 1.3 1.6 .4 -1.4 -1.0zM587.0 332.5l1.6 2.0 1.4 1.0 -1.0 -1.4zM637.3 335.3l2.0 -1.4 1.0 -1.3 -1.4 .9zM641.4 334.7l2.4 -.6 1.4 -.9 -1.6 .3zM645.9 334.1l2.5 .1 1.6 -.4 -1.7 -.2zM650.4 334.0l2.5 .3 1.6 -.3 -1.6 -.3zM655.0 334.0l2.5 .3 1.7 -.3 -1.7 -.3zM559.0 338.6l2.5 .3 1.7 -.3 -1.7 -.3zM563.6 338.6l2.4 .3 1.6 -.3 -1.6 -.3zM568.2 338.6l2.4 .3 1.6 -.3 -1.6 -.3zM572.8 338.3l2.4 .7 1.7 -.1 -1.6 -.5zM577.5 337.8l2.1 1.2 1.6 .3 -1.4 -.9zM641.7 339.8l2.1 -1.3 1.1 -1.3 -1.5 .8zM646.0 339.2l2.4 -.5 1.4 -.8 -1.6 .3zM650.4 338.7l2.5 .1 1.6 -.4 -1.7 -.2zM655.0 338.6l2.5 .3 1.7 -.3 -1.7 -.3zM659.6 338.6l2.5 .3 1.6 -.3 -1.6 -.3zM559.0 343.1l2.4 .3 1.6 -.3 -1.6 -.3zM563.6 343.1l2.4 .3 1.6 -.3 -1.6 -.3zM568.2 343.0l2.4 .5 1.6 -.2 -1.6 -.4zM572.8 342.6l2.2 .9 1.6 .2 -1.5 -.7zM646.1 344.2l2.3 -1.0 1.3 -1.1 -1.6 .6zM650.5 343.6l2.5 -.3 1.5 -.7 -1.7 .1zM655.0 343.2l2.5 .3 1.6 -.3 -1.7 -.3zM659.6 343.1l2.5 .3 1.6 -.3 -1.6 -.3zM664.1 343.1l2.5 .3 1.7 -.3 -1.7 -.3zM554.4 347.7l2.5 .3 1.7 -.3 -1.7 -.3zM559.1 347.7l2.4 .3 1.6 -.3 -1.6 -.3zM563.6 347.7l2.4 .3 1.6 -.3 -1.6 -.3zM568.2 347.4l2.3 .6 1.6 -.1 -1.5 -.5zM572.8 346.9l2.2 1.2 1.7 .3 -1.4 -.9zM650.5 348.4l2.4 -.6 1.4 -.9 -1.6 .3zM655.0 348.0l2.5 -.0 1.6 -.5 -1.7 -.1zM659.6 347.7l2.5 .3 1.6 -.3 -1.6 -.3zM664.1 347.7l2.4 .3 1.6 -.3 -1.6 -.3zM554.5 352.3l2.4 .3 1.6 -.3 -1.6 -.3zM559.1 352.3l2.4 .3 1.6 -.3 -1.6 -.3zM563.7 352.2l2.3 .4 1.6 -.2 -1.6 -.4zM568.3 351.9l2.3 .7 1.6 -.0 -1.5 -.6zM650.5 353.0l2.4 -.7 1.4 -.9 -1.7 .4zM655.0 352.7l2.5 -.2 1.5 -.6 -1.7 .0zM659.6 352.3l2.5 .3 1.6 -.3 -1.6 -.3zM664.2 352.3l2.4 .3 1.6 -.3 -1.6 -.3zM554.5 356.8l2.4 .3 1.6 -.3 -1.6 -.3zM559.1 356.8l2.3 .3 1.6 -.3 -1.6 -.3zM563.7 356.7l2.3 .4 1.6 -.2 -1.5 -.4zM568.2 356.5l2.4 .7 1.7 .0 -1.6 -.6zM607.0 358.9l.1 -2.5 -.5 -1.6 -.1 1.7zM610.9 358.9l.8 -2.4 .0 -1.7 -.6 1.6zM614.9 358.7l1.5 -2.0 .6 -1.6 -1.1 1.3zM655.0 357.3l2.5 -.3 1.5 -.7 -1.7 .1zM659.6 357.0l2.5 .1 1.6 -.4 -1.6 -.2zM664.2 356.8l2.4 .3 1.6 -.3 -1.6 -.3zM554.5 361.4l2.3 .3 1.6 -.3 -1.6 -.3zM559.1 361.4l2.3 .3 1.6 -.3 -1.6 -.3zM563.7 361.3l2.3 .4 1.6 -.3 -1.6 -.3zM603.3 363.2l-1.1 -2.3 -1.1 -1.3 .6 1.6zM607.4 363.3l-.4 -2.4 -.8 -1.5 .2 1.6zM611.1 363.4l.5 -2.4 -.1 -1.6 -.5 1.6zM614.8 363.1l1.6 -1.9 .6 -1.5 -1.1 1.2zM618.8 362.6l2.2 -1.2 1.2 -1.2 -1.5 .7zM655.0 361.8l2.5 -.2 1.5 -.6 -1.7 .0zM659.6 361.6l2.4 .1 1.6 -.4 -1.6 -.2zM664.2 361.4l2.4 .3 1.6 -.3 -1.6 -.3zM554.6 366.0l2.3 .3 1.6 -.3 -1.6 -.3zM559.1 366.0l2.4 .3 1.6 -.3 -1.6 -.3zM563.7 366.0l2.4 .3 1.6 -.3 -1.6 -.3zM603.8 367.3l-1.7 -1.8 -1.4 -.8 1.1 1.3zM608.0 367.5l-1.3 -2.1 -1.2 -1.1 .8 1.4zM611.5 367.9l.1 -2.4 -.4 -1.6 -.2 1.6zM614.5 367.4l1.9 -1.5 .9 -1.4 -1.3 .9zM618.6 366.7l2.4 -.5 1.4 -.8 -1.6 .3zM623.0 366.2l2.5 .0 1.6 -.5 -1.7 -.1zM655.0 366.2l2.5 -.0 1.6 -.5 -1.7 -.1zM659.6 366.1l2.4 .1 1.6 -.4 -1.6 -.2zM664.2 366.0l2.4 .3 1.6 -.3 -1.6 -.3zM554.5 370.5l2.3 .3 1.6 -.3 -1.6 -.3zM559.1 370.6l2.4 .2 1.6 -.3 -1.6 -.3zM563.7 370.7l2.4 .2 1.6 -.4 -1.6 -.2zM599.6 371.2l-2.3 -1.0 -1.7 -.2 1.5 .8zM604.1 371.0l-2.3 -.9 -1.6 -.1 1.5 .7zM608.7 370.9l-2.3 -.8 -1.6 -.0 1.5 .6zM613.1 371.4l-2.0 -1.3 -1.5 -.4 1.3 1.0zM613.9 370.6l2.4 .2 1.6 -.4 -1.6 -.2zM618.5 370.3l2.3 .6 1.6 -.1 -1.6 -.5zM623.0 370.1l2.3 .8 1.7 .1 -1.5 -.6zM655.0 370.7l2.5 .1 1.6 -.4 -1.7 -.2zM659.6 370.7l2.4 .2 1.6 -.4 -1.6 -.2zM664.2 370.5l2.4 .3 1.6 -.3 -1.6 -.3zM554.5 375.1l2.4 .3 1.6 -.3 -1.6 -.3zM559.1 375.2l2.4 .2 1.6 -.4 -1.6 -.2zM563.6 375.3l2.4 .0 1.6 -.5 -1.6 -.1zM599.7 375.1l-2.5 -.3 -1.7 .3 1.7 .3zM604.2 374.8l-2.4 .1 -1.5 .6 1.6 .0zM608.5 374.2l-2.3 .9 -1.3 1.0 1.5 -.5zM612.0 373.2l-1.0 2.2 -.2 1.6 .8 -1.4zM614.8 373.5l1.1 2.1 1.1 1.1 -.6 -1.5zM618.9 373.9l1.7 1.7 1.5 .7 -1.1 -1.2zM623.3 374.0l1.9 1.6 1.6 .6 -1.2 -1.1zM655.0 375.1l2.4 .3 1.6 -.3 -1.6 -.3zM659.6 375.2l2.4 .2 1.6 -.3 -1.6 -.3zM664.2 375.1l2.3 .3 1.6 -.3 -1.6 -.3zM554.5 379.7l2.4 .3 1.6 -.3 -1.6 -.3zM559.1 379.7l2.4 .2 1.6 -.4 -1.6 -.2zM563.6 380.0l2.5 -.1 1.6 -.5 -1.7 -.0zM604.1 378.8l-2.4 .8 -1.4 1.0 1.6 -.5zM608.2 378.3l-1.9 1.5 -.9 1.4 1.3 -.9zM611.9 377.8l-1.0 2.2 -.2 1.6 .8 -1.4zM615.5 377.7l.2 2.4 .6 1.5 -.0 -1.6zM619.5 377.9l.9 2.3 1.1 1.3 -.5 -1.6zM655.1 379.6l2.3 .4 1.6 -.2 -1.6 -.4zM659.6 379.7l2.4 .3 1.6 -.3 -1.6 -.3zM664.2 379.7l2.4 .3 1.6 -.3 -1.6 -.3zM554.5 384.2l2.4 .3 1.6 -.3 -1.6 -.3zM559.0 384.3l2.4 .3 1.6 -.3 -1.6 -.3zM563.6 384.6l2.5 -.1 1.6 -.6 -1.7 -.0zM608.1 382.6l-1.8 1.8 -.8 1.5 1.3 -1.1zM612.0 382.3l-1.1 2.3 -.2 1.7 .8 -1.5zM615.9 382.2l-.3 2.5 .3 1.7 .3 -1.7zM655.1 384.1l2.3 .5 1.6 -.2 -1.6 -.4zM659.6 384.2l2.4 .3 1.6 -.3 -1.6 -.3zM664.2 384.2l2.4 .3 1.6 -.3 -1.6 -.3zM554.5 388.8l2.4 .3 1.6 -.3 -1.6 -.3zM559.0 388.8l2.5 .3 1.6 -.3 -1.6 -.3zM563.6 389.1l2.5 -.0 1.6 -.5 -1.7 -.1zM568.2 389.5l2.5 -.5 1.5 -.8 -1.7 .2zM650.5 388.2l2.3 1.0 1.7 .2 -1.5 -.7zM655.0 388.6l2.4 .5 1.6 -.1 -1.6 -.4zM659.6 388.8l2.4 .3 1.6 -.3 -1.6 -.3zM664.2 388.8l2.4 .3 1.6 -.3 -1.6 -.3zM554.4 393.4l2.5 .3 1.7 -.3 -1.7 -.3zM559.0 393.4l2.5 .3 1.7 -.3 -1.7 -.3zM563.6 393.5l2.5 .2 1.6 -.4 -1.7 -.2zM568.2 394.0l2.5 -.4 1.5 -.8 -1.7 .2zM650.5 392.9l2.3 .9 1.7 .1 -1.5 -.7zM655.0 393.2l2.4 .5 1.6 -.2 -1.6 -.4zM659.6 393.4l2.4 .3 1.6 -.3 -1.6 -.3zM664.1 393.4l2.5 .3 1.6 -.3 -1.6 -.3zM559.0 398.0l2.5 .3 1.7 -.3 -1.7 -.3zM563.5 398.0l2.5 .3 1.7 -.3 -1.7 -.3zM568.1 398.3l2.5 -.1 1.6 -.6 -1.7 -.0zM572.9 398.9l2.4 -.8 1.4 -1.0 -1.6 .4zM646.0 397.1l2.2 1.3 1.7 .4 -1.4 -1.0zM650.4 397.6l2.4 .7 1.7 -.0 -1.6 -.6zM655.0 397.9l2.5 .4 1.7 -.3 -1.6 -.3zM659.5 398.0l2.5 .3 1.7 -.3 -1.7 -.3zM664.1 398.0l2.5 .3 1.7 -.3 -1.7 -.3zM563.5 402.5l2.5 .3 1.7 -.3 -1.7 -.3zM568.1 402.6l2.5 .2 1.7 -.3 -1.7 -.3zM572.7 403.1l2.5 -.3 1.5 -.7 -1.7 .1zM577.6 403.7l2.3 -1.1 1.2 -1.2 -1.6 .7zM645.9 402.0l2.3 1.0 1.7 .2 -1.5 -.7zM650.4 402.4l2.5 .5 1.7 -.2 -1.6 -.4zM654.9 402.5l2.5 .3 1.7 -.3 -1.7 -.3zM659.5 402.5l2.5 .3 1.7 -.3 -1.7 -.3zM563.5 407.1l2.5 .3 1.7 -.3 -1.7 -.3zM582.3 408.4l2.2 -1.3 1.1 -1.3 -1.5 .8zM650.4 407.1l2.5 .3 1.7 -.3 -1.7 -.3zM654.9 407.1l2.5 .3 1.7 -.3 -1.7 -.3z"/>
<circle cx="370.7" cy="241.3" r="39.2" fill="none" stroke="#55207a" stroke-width="2.05" stroke-dasharray="7.020 5.295" stroke-dashoffset="3.510"/>
<circle cx="491.7" cy="241.3" r="39.2" fill="none" stroke="#55207a" stroke-width="2.05" stroke-dasharray="7.020 5.295" stroke-dashoffset="3.510"/>
<circle cx="611.7" cy="241.3" r="39.2" fill="none" stroke="#55207a" stroke-width="2.05" stroke-dasharray="7.020 5.295" stroke-dashoffset="3.510"/>
<circle cx="371.0" cy="371.0" r="39.0" fill="none" stroke="#55207a" stroke-width="2.05" stroke-dasharray="6.984 5.268" stroke-dashoffset="3.492"/>
<circle cx="492.0" cy="371.0" r="39.0" fill="none" stroke="#55207a" stroke-width="2.05" stroke-dasharray="6.984 5.268" stroke-dashoffset="3.492"/>
<circle cx="612.3" cy="371.0" r="39.0" fill="none" stroke="#55207a" stroke-width="2.05" stroke-dasharray="6.984 5.268" stroke-dashoffset="3.492"/>
<rect x="31.4" y="232.4" width="245.99999999999997" height="162.20000000000002" fill="none" stroke="#333" stroke-width="1.1"/>
<path d="M31.40 394.6v-4M31.40 232.4v4M51.90 394.6v-2.2M51.90 232.4v2.2M72.40 394.6v-4M72.40 232.4v4M92.90 394.6v-2.2M92.90 232.4v2.2M113.40 394.6v-4M113.40 232.4v4M133.90 394.6v-2.2M133.90 232.4v2.2M154.40 394.6v-4M154.40 232.4v4M174.90 394.6v-2.2M174.90 232.4v2.2M195.40 394.6v-4M195.40 232.4v4M215.90 394.6v-2.2M215.90 232.4v2.2M236.40 394.6v-4M236.40 232.4v4M256.90 394.6v-2.2M256.90 232.4v2.2M277.40 394.6v-4M277.40 232.4v4M31.4 232.40h4M277.4 232.40h-4M31.4 252.68h2.2M277.4 252.68h-2.2M31.4 272.95h4M277.4 272.95h-4M31.4 293.23h2.2M277.4 293.23h-2.2M31.4 313.50h4M277.4 313.50h-4M31.4 333.78h2.2M277.4 333.78h-2.2M31.4 354.05h4M277.4 354.05h-4M31.4 374.33h2.2M277.4 374.33h-2.2M31.4 394.60h4M277.4 394.60h-4" stroke="#333" stroke-width="1.1" fill="none"/>
<defs><clipPath id="cc"><rect x="31.9" y="232.4" width="245.0" height="161.7"/></clipPath></defs>
<g clip-path="url(#cc)">
<polyline points="31.40,387.10 39.60,388.40 47.80,389.40 56.00,389.90 64.20,389.80 72.40,389.80 80.60,389.80 88.80,389.80 97.00,389.80 105.20,389.80 113.40,389.80 121.60,389.80 129.80,389.80 138.00,389.80 146.20,389.80 154.40,388.70 162.60,389.80 170.80,389.80 179.00,389.80 187.20,389.80 195.40,389.80 203.60,389.80 211.80,389.80 220.00,389.80 228.20,389.80 236.40,389.80 244.60,389.80 252.80,389.80 261.00,389.10 269.20,387.70 277.40,387.00" fill="none" stroke="#888" stroke-width="0.8"/>
<polyline points="31.40,387.00 39.60,381.80 47.80,387.70 56.00,386.10 64.20,388.40 72.40,388.40 80.60,386.70 88.80,387.10 97.00,388.60 105.20,388.40 113.40,388.20 121.60,388.20 129.80,387.50 138.00,388.60 146.20,387.80 154.40,383.30 162.60,387.30 170.80,386.60 179.00,387.50 187.20,386.60 195.40,385.80 203.60,386.20 211.80,387.70 220.00,388.30 228.20,384.40 236.40,386.20 244.60,384.40 252.80,383.40 261.00,382.20 269.20,387.70 277.40,386.60" fill="none" stroke="#888" stroke-width="0.8"/>
<circle cx="31.40" cy="387.10" r="2.5" fill="#2e8b2e"/>
<circle cx="39.60" cy="388.40" r="2.5" fill="#2e8b2e"/>
<circle cx="47.80" cy="389.40" r="2.5" fill="#2e8b2e"/>
<circle cx="56.00" cy="389.90" r="2.5" fill="#2e8b2e"/>
<circle cx="64.20" cy="389.80" r="2.5" fill="#2e8b2e"/>
<circle cx="72.40" cy="389.80" r="2.5" fill="#2e8b2e"/>
<circle cx="80.60" cy="389.80" r="2.5" fill="#2e8b2e"/>
<circle cx="88.80" cy="389.80" r="2.5" fill="#2e8b2e"/>
<circle cx="97.00" cy="389.80" r="2.5" fill="#2e8b2e"/>
<circle cx="105.20" cy="389.80" r="2.5" fill="#2e8b2e"/>
<circle cx="113.40" cy="389.80" r="2.5" fill="#2e8b2e"/>
<circle cx="121.60" cy="389.80" r="2.5" fill="#2e8b2e"/>
<circle cx="129.80" cy="389.80" r="2.5" fill="#2e8b2e"/>
<circle cx="138.00" cy="389.80" r="2.5" fill="#2e8b2e"/>
<circle cx="146.20" cy="389.80" r="2.5" fill="#2e8b2e"/>
<circle cx="154.40" cy="388.70" r="2.5" fill="#2e8b2e"/>
<circle cx="162.60" cy="389.80" r="2.5" fill="#2e8b2e"/>
<circle cx="170.80" cy="389.80" r="2.5" fill="#2e8b2e"/>
<circle cx="179.00" cy="389.80" r="2.5" fill="#2e8b2e"/>
<circle cx="187.20" cy="389.80" r="2.5" fill="#2e8b2e"/>
<circle cx="195.40" cy="389.80" r="2.5" fill="#2e8b2e"/>
<circle cx="203.60" cy="389.80" r="2.5" fill="#2e8b2e"/>
<circle cx="211.80" cy="389.80" r="2.5" fill="#2e8b2e"/>
<circle cx="220.00" cy="389.80" r="2.5" fill="#2e8b2e"/>
<circle cx="228.20" cy="389.80" r="2.5" fill="#2e8b2e"/>
<circle cx="236.40" cy="389.80" r="2.5" fill="#2e8b2e"/>
<circle cx="244.60" cy="389.80" r="2.5" fill="#2e8b2e"/>
<circle cx="252.80" cy="389.80" r="2.5" fill="#2e8b2e"/>
<circle cx="261.00" cy="389.10" r="2.5" fill="#2e8b2e"/>
<circle cx="269.20" cy="387.70" r="2.5" fill="#2e8b2e"/>
<circle cx="277.40" cy="387.00" r="2.5" fill="#2e8b2e"/>
<rect x="37.50" y="379.70" width="4.2" height="4.2" fill="#fff" stroke="#e040e0" stroke-width="0.9"/>
<rect x="45.70" y="385.60" width="4.2" height="4.2" fill="#fff" stroke="#e040e0" stroke-width="0.9"/>
<rect x="53.90" y="384.00" width="4.2" height="4.2" fill="#fff" stroke="#e040e0" stroke-width="0.9"/>
<rect x="62.10" y="386.30" width="4.2" height="4.2" fill="#fff" stroke="#e040e0" stroke-width="0.9"/>
<rect x="70.30" y="386.30" width="4.2" height="4.2" fill="#fff" stroke="#e040e0" stroke-width="0.9"/>
<rect x="78.50" y="384.60" width="4.2" height="4.2" fill="#fff" stroke="#e040e0" stroke-width="0.9"/>
<rect x="86.70" y="385.00" width="4.2" height="4.2" fill="#fff" stroke="#e040e0" stroke-width="0.9"/>
<rect x="94.90" y="386.50" width="4.2" height="4.2" fill="#fff" stroke="#e040e0" stroke-width="0.9"/>
<rect x="103.10" y="386.30" width="4.2" height="4.2" fill="#fff" stroke="#e040e0" stroke-width="0.9"/>
<rect x="111.30" y="386.10" width="4.2" height="4.2" fill="#fff" stroke="#e040e0" stroke-width="0.9"/>
<rect x="119.50" y="386.10" width="4.2" height="4.2" fill="#fff" stroke="#e040e0" stroke-width="0.9"/>
<rect x="127.70" y="385.40" width="4.2" height="4.2" fill="#fff" stroke="#e040e0" stroke-width="0.9"/>
<rect x="135.90" y="386.50" width="4.2" height="4.2" fill="#fff" stroke="#e040e0" stroke-width="0.9"/>
<rect x="144.10" y="385.70" width="4.2" height="4.2" fill="#fff" stroke="#e040e0" stroke-width="0.9"/>
<rect x="152.30" y="381.20" width="4.2" height="4.2" fill="#fff" stroke="#e040e0" stroke-width="0.9"/>
<rect x="160.50" y="385.20" width="4.2" height="4.2" fill="#fff" stroke="#e040e0" stroke-width="0.9"/>
<rect x="168.70" y="384.50" width="4.2" height="4.2" fill="#fff" stroke="#e040e0" stroke-width="0.9"/>
<rect x="176.90" y="385.40" width="4.2" height="4.2" fill="#fff" stroke="#e040e0" stroke-width="0.9"/>
<rect x="185.10" y="384.50" width="4.2" height="4.2" fill="#fff" stroke="#e040e0" stroke-width="0.9"/>
<rect x="193.30" y="383.70" width="4.2" height="4.2" fill="#fff" stroke="#e040e0" stroke-width="0.9"/>
<rect x="201.50" y="384.10" width="4.2" height="4.2" fill="#fff" stroke="#e040e0" stroke-width="0.9"/>
<rect x="209.70" y="385.60" width="4.2" height="4.2" fill="#fff" stroke="#e040e0" stroke-width="0.9"/>
<rect x="217.90" y="386.20" width="4.2" height="4.2" fill="#fff" stroke="#e040e0" stroke-width="0.9"/>
<rect x="226.10" y="382.30" width="4.2" height="4.2" fill="#fff" stroke="#e040e0" stroke-width="0.9"/>
<rect x="234.30" y="384.10" width="4.2" height="4.2" fill="#fff" stroke="#e040e0" stroke-width="0.9"/>
<rect x="242.50" y="382.30" width="4.2" height="4.2" fill="#fff" stroke="#e040e0" stroke-width="0.9"/>
<rect x="250.70" y="381.30" width="4.2" height="4.2" fill="#fff" stroke="#e040e0" stroke-width="0.9"/>
<rect x="258.90" y="380.10" width="4.2" height="4.2" fill="#fff" stroke="#e040e0" stroke-width="0.9"/>
<rect x="267.10" y="385.60" width="4.2" height="4.2" fill="#fff" stroke="#e040e0" stroke-width="0.9"/>
<rect x="275.30" y="384.50" width="4.2" height="4.2" fill="#fff" stroke="#e040e0" stroke-width="0.9"/>
</g>
<path d="M46.1 249.4H82.9M46.1 262.2H82.9" stroke="#555" stroke-width="0.9"/>
<rect x="62.2" y="246.7" width="5.4" height="5.4" fill="#fff" stroke="#e040e0" stroke-width="1"/>
<circle cx="64.9" cy="262.2" r="3.1" fill="#2e8b2e"/>
<g style="font-family:'Liberation Sans',sans-serif" fill="#111">
<text x="1.40" y="15.00" font-size="19" text-anchor="start" >a</text>
<text x="291.00" y="15.00" font-size="19" text-anchor="start" >b</text>
<text x="2.00" y="237.00" font-size="19" text-anchor="start" >c</text>
<text x="30.80" y="24.20" font-size="12.5" text-anchor="end" >0.4</text>
<text x="27.60" y="114.40" font-size="12.5" text-anchor="end" >0</text>
<text x="30.90" y="192.00" font-size="12.5" text-anchor="end" >-0.4</text>
<text x="34.00" y="214.00" font-size="12.5" text-anchor="middle" >0</text>
<text x="150.50" y="214.00" font-size="12.5" text-anchor="middle" >15</text>
<text x="261.40" y="214.60" font-size="12.5" text-anchor="middle" >30</text>
<text x="150.9" y="226.2" font-size="13" text-anchor="middle"><tspan font-style="italic">z</tspan>(cm)</text>
<text font-size="13" text-anchor="middle" transform="translate(16.9,110) rotate(-90)"><tspan font-style="italic">y</tspan>(mm)</text>
<text x="282.40" y="23.80" font-size="12.5" text-anchor="start" >1</text>
<text x="281.50" y="204.60" font-size="12.5" text-anchor="start" >0</text>
<text x="370.75" y="23.4" font-size="13" text-anchor="middle"><tspan font-style="italic">z</tspan>=7.5 cm</text>
<text x="490.4" y="23.4" font-size="13" text-anchor="middle"><tspan font-style="italic">z</tspan>=15 cm</text>
<text x="611.6" y="23.4" font-size="13" text-anchor="middle"><tspan font-style="italic">z</tspan>=22.5 cm</text>
<text x="313.20" y="35.60" font-size="12.5" text-anchor="end" >66</text>
<text x="309.60" y="92.20" font-size="12.5" text-anchor="end" >0</text>
<text x="311.60" y="144.20" font-size="12.5" text-anchor="end" >-66</text>
<text font-size="13" text-anchor="middle" transform="translate(298.8,88.8) rotate(-90)"><tspan font-style="italic">y</tspan>(μm)</text>
<text x="316.50" y="153.40" font-size="12.5" text-anchor="middle" >-66</text>
<text x="371.00" y="153.40" font-size="12.5" text-anchor="middle" >0</text>
<text x="421.30" y="153.40" font-size="12.5" text-anchor="middle" >66</text>
<text x="371.0" y="162.6" font-size="13" text-anchor="middle"><tspan font-style="italic">x</tspan>(μm)</text>
<text x="439.40" y="153.40" font-size="12.5" text-anchor="middle" >-66</text>
<text x="494.10" y="153.40" font-size="12.5" text-anchor="middle" >0</text>
<text x="544.10" y="153.40" font-size="12.5" text-anchor="middle" >66</text>
<text x="494.0" y="162.6" font-size="13" text-anchor="middle"><tspan font-style="italic">x</tspan>(μm)</text>
<text x="562.20" y="153.40" font-size="12.5" text-anchor="middle" >-66</text>
<text x="617.50" y="153.40" font-size="12.5" text-anchor="middle" >0</text>
<text x="667.20" y="153.40" font-size="12.5" text-anchor="middle" >66</text>
<text x="616.9" y="162.6" font-size="13" text-anchor="middle"><tspan font-style="italic">x</tspan>(μm)</text>
<text font-size="13" text-anchor="middle" transform="translate(673.5,87.3) rotate(90)">Intensity</text>
<text x="370.5" y="184.0" font-size="13" text-anchor="middle"><tspan font-style="italic">Q</tspan>=-0.90</text>
<text x="491.5" y="184.0" font-size="13" text-anchor="middle"><tspan font-style="italic">Q</tspan>=-0.86</text>
<text x="612.0" y="184.0" font-size="13" text-anchor="middle"><tspan font-style="italic">Q</tspan>=-0.92</text>
<text font-size="13" text-anchor="middle" transform="translate(673.0,241) rotate(90)">Polarization</text>
<text font-size="13" text-anchor="middle" transform="translate(673.5,367.8) rotate(90)">2D-Skyrmion</text>
<text x="370.10" y="311.40" font-size="13" text-anchor="middle" >Bloch type</text>
<text x="491.00" y="311.40" font-size="13" text-anchor="middle" >Intermediate</text>
<text x="611.00" y="311.40" font-size="13" text-anchor="middle" >Néel type</text>
<text x="26.00" y="237.90" font-size="12.5" text-anchor="end" >1</text>
<text x="28.30" y="317.80" font-size="12.5" text-anchor="end" >0</text>
<text x="27.40" y="398.60" font-size="12.5" text-anchor="end" >-1</text>
<text x="31.40" y="409.50" font-size="12.5" text-anchor="middle" >0</text>
<text x="72.40" y="409.50" font-size="12.5" text-anchor="middle" >5</text>
<text x="113.40" y="409.50" font-size="12.5" text-anchor="middle" >10</text>
<text x="154.40" y="409.50" font-size="12.5" text-anchor="middle" >15</text>
<text x="195.40" y="409.50" font-size="12.5" text-anchor="middle" >20</text>
<text x="236.40" y="409.50" font-size="12.5" text-anchor="middle" >25</text>
<text x="277.40" y="409.50" font-size="12.5" text-anchor="middle" >30</text>
<text x="154.8" y="421.5" font-size="13" text-anchor="middle"><tspan font-style="italic">z</tspan>(cm)</text>
<text font-size="13.5" text-anchor="middle" transform="translate(14.4,315.0) rotate(-90)">Q</text>
<text x="87.00" y="252.00" font-size="11" text-anchor="start" >Experimental</text>
<text x="87.00" y="265.50" font-size="11" text-anchor="start" >Simulated</text>
</g>
</svg>
</body></html>
